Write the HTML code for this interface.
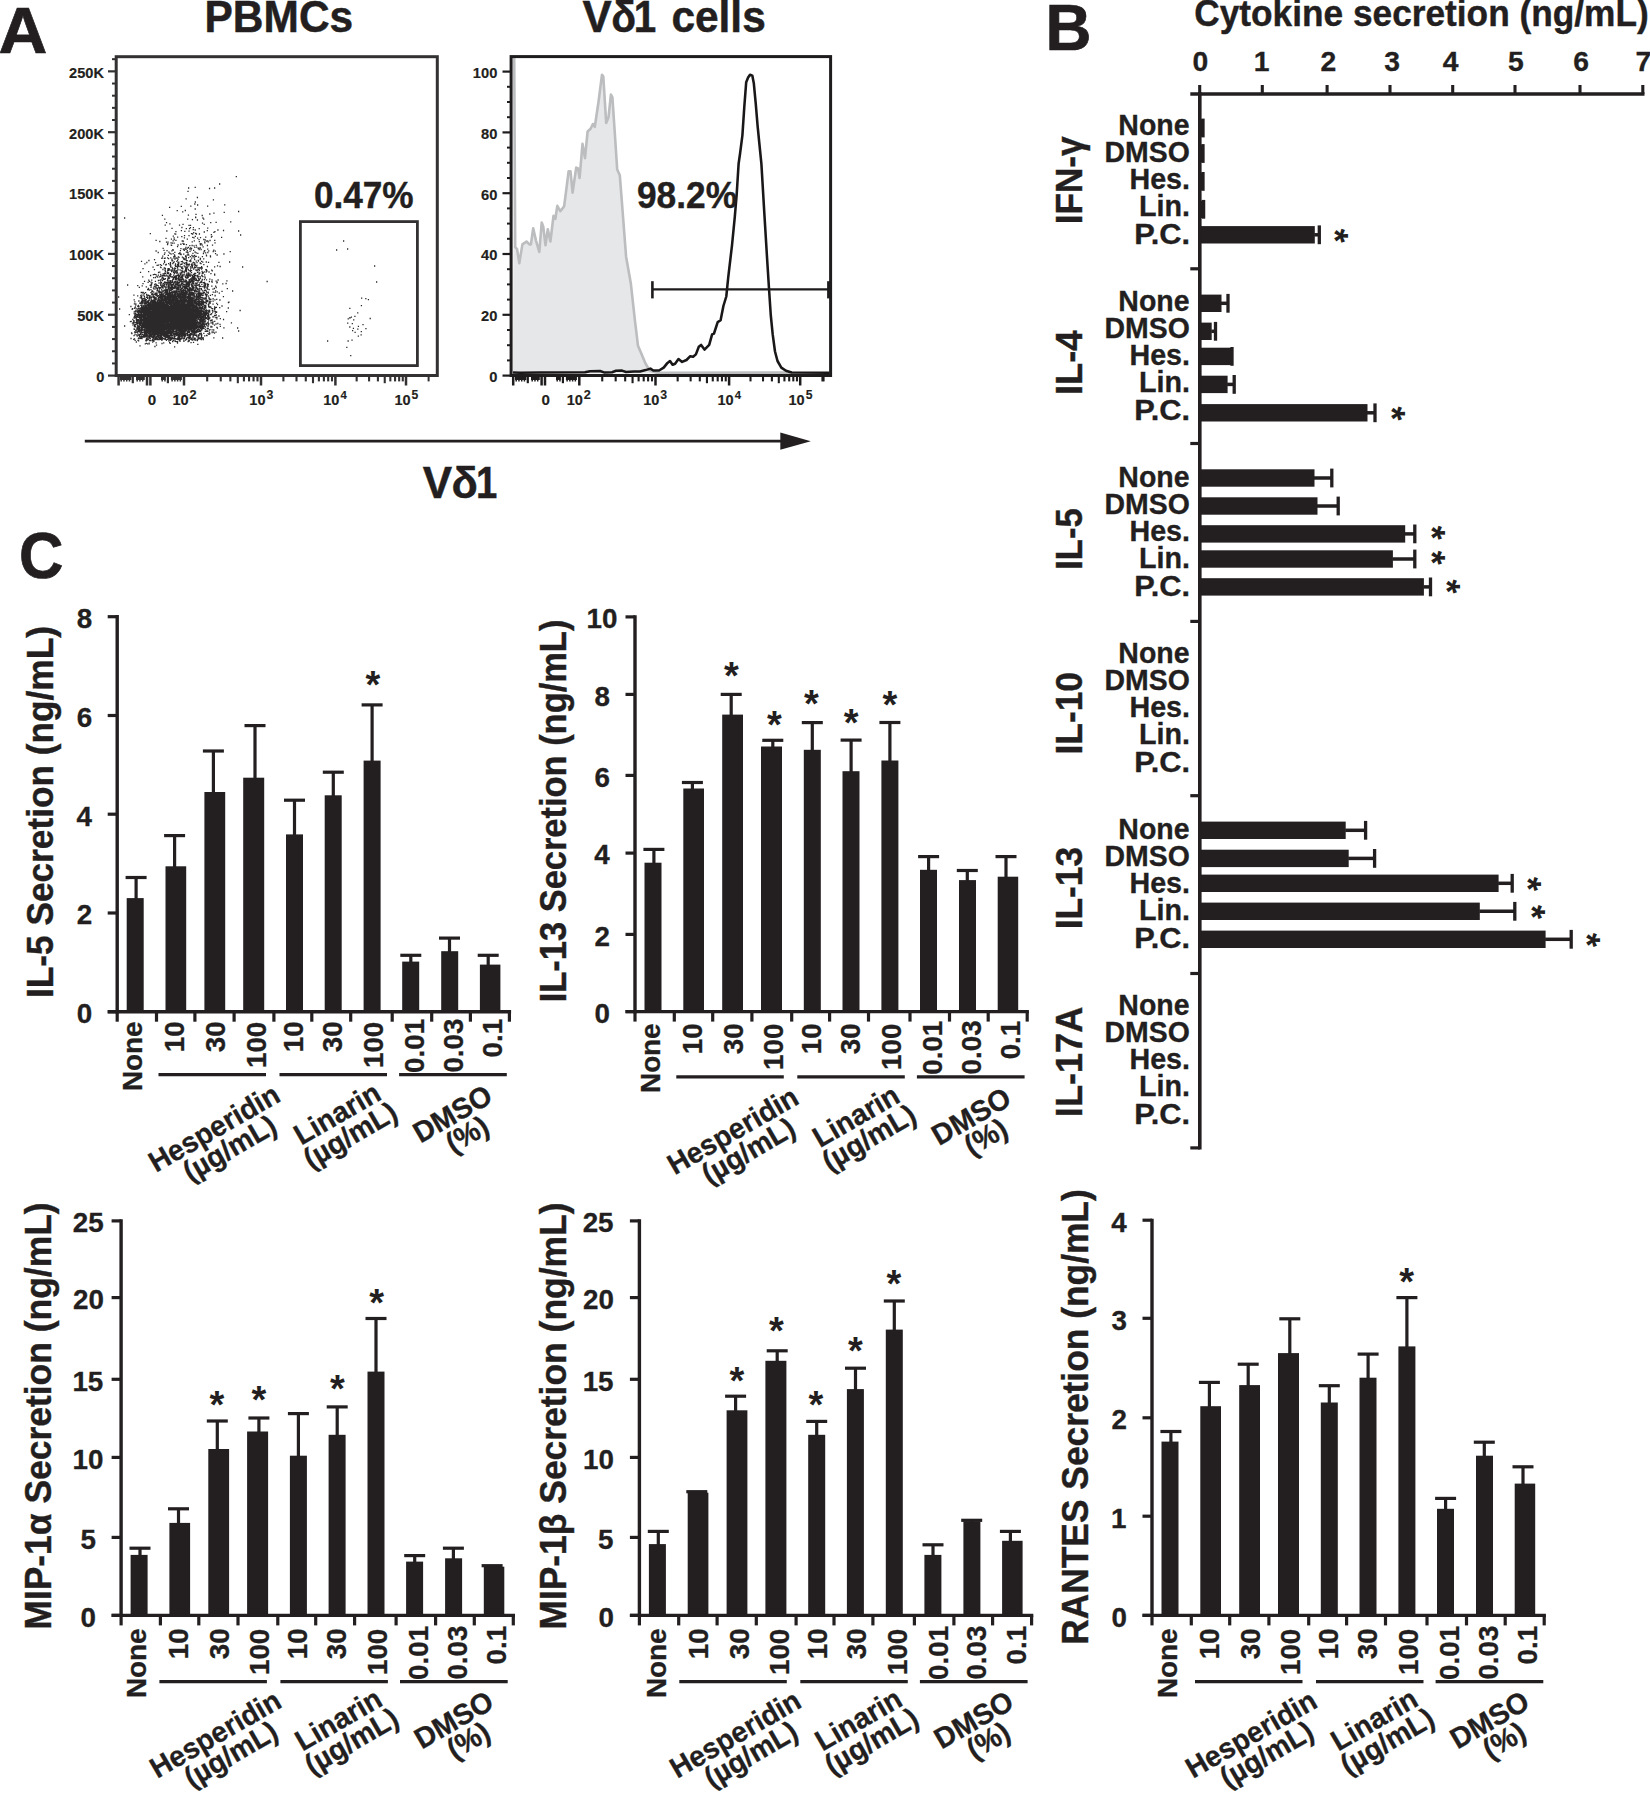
<!DOCTYPE html>
<html><head><meta charset="utf-8"><title>Figure</title>
<style>
html,body{margin:0;padding:0;background:#fff;}
svg{display:block;}
text{font-family:"Liberation Sans",Arial,Helvetica,sans-serif;font-weight:bold;}
</style></head>
<body>
<svg width="1650" height="1793" viewBox="0 0 1650 1793">
<rect width="1650" height="1793" fill="#fff"/>
<rect x="126.70" y="898.10" width="17.00" height="113.60" fill="#231f20"/>
<line x1="136.10" y1="877.50" x2="136.10" y2="899.10" stroke="#231f20" stroke-width="3.2" stroke-linecap="butt"/>
<line x1="125.60" y1="877.50" x2="146.60" y2="877.50" stroke="#231f20" stroke-width="3.2" stroke-linecap="butt"/>
<rect x="165.50" y="866.30" width="20.70" height="145.40" fill="#231f20"/>
<line x1="174.60" y1="835.60" x2="174.60" y2="867.30" stroke="#231f20" stroke-width="3.2" stroke-linecap="butt"/>
<line x1="164.10" y1="835.60" x2="185.10" y2="835.60" stroke="#231f20" stroke-width="3.2" stroke-linecap="butt"/>
<rect x="204.40" y="792.00" width="20.80" height="219.70" fill="#231f20"/>
<line x1="213.40" y1="751.00" x2="213.40" y2="793.00" stroke="#231f20" stroke-width="3.2" stroke-linecap="butt"/>
<line x1="202.90" y1="751.00" x2="223.90" y2="751.00" stroke="#231f20" stroke-width="3.2" stroke-linecap="butt"/>
<rect x="243.20" y="777.70" width="21.00" height="234.00" fill="#231f20"/>
<line x1="255.00" y1="725.60" x2="255.00" y2="778.70" stroke="#231f20" stroke-width="3.2" stroke-linecap="butt"/>
<line x1="244.50" y1="725.60" x2="265.50" y2="725.60" stroke="#231f20" stroke-width="3.2" stroke-linecap="butt"/>
<rect x="286.00" y="834.40" width="17.00" height="177.30" fill="#231f20"/>
<line x1="294.50" y1="800.20" x2="294.50" y2="835.40" stroke="#231f20" stroke-width="3.2" stroke-linecap="butt"/>
<line x1="284.00" y1="800.20" x2="305.00" y2="800.20" stroke="#231f20" stroke-width="3.2" stroke-linecap="butt"/>
<rect x="324.70" y="795.30" width="17.00" height="216.40" fill="#231f20"/>
<line x1="333.30" y1="772.20" x2="333.30" y2="796.30" stroke="#231f20" stroke-width="3.2" stroke-linecap="butt"/>
<line x1="322.80" y1="772.20" x2="343.80" y2="772.20" stroke="#231f20" stroke-width="3.2" stroke-linecap="butt"/>
<rect x="363.60" y="760.60" width="17.00" height="251.10" fill="#231f20"/>
<line x1="372.10" y1="704.90" x2="372.10" y2="761.60" stroke="#231f20" stroke-width="3.2" stroke-linecap="butt"/>
<line x1="361.60" y1="704.90" x2="382.60" y2="704.90" stroke="#231f20" stroke-width="3.2" stroke-linecap="butt"/>
<rect x="402.20" y="961.60" width="17.00" height="50.10" fill="#231f20"/>
<line x1="410.80" y1="955.30" x2="410.80" y2="962.60" stroke="#231f20" stroke-width="3.2" stroke-linecap="butt"/>
<line x1="400.30" y1="955.30" x2="421.30" y2="955.30" stroke="#231f20" stroke-width="3.2" stroke-linecap="butt"/>
<rect x="441.20" y="951.20" width="17.00" height="60.50" fill="#231f20"/>
<line x1="449.50" y1="938.10" x2="449.50" y2="952.20" stroke="#231f20" stroke-width="3.2" stroke-linecap="butt"/>
<line x1="439.00" y1="938.10" x2="460.00" y2="938.10" stroke="#231f20" stroke-width="3.2" stroke-linecap="butt"/>
<rect x="479.90" y="964.60" width="20.50" height="47.10" fill="#231f20"/>
<line x1="488.20" y1="955.30" x2="488.20" y2="965.60" stroke="#231f20" stroke-width="3.2" stroke-linecap="butt"/>
<line x1="477.70" y1="955.30" x2="498.70" y2="955.30" stroke="#231f20" stroke-width="3.2" stroke-linecap="butt"/>
<line x1="117.20" y1="615.00" x2="117.20" y2="1013.40" stroke="#231f20" stroke-width="3.4" stroke-linecap="butt"/>
<line x1="107.70" y1="1011.70" x2="511.10" y2="1011.70" stroke="#231f20" stroke-width="3.4" stroke-linecap="butt"/>
<line x1="117.20" y1="1011.70" x2="117.20" y2="1021.70" stroke="#231f20" stroke-width="3.2" stroke-linecap="butt"/>
<line x1="156.50" y1="1011.70" x2="156.50" y2="1021.70" stroke="#231f20" stroke-width="3.2" stroke-linecap="butt"/>
<line x1="194.90" y1="1011.70" x2="194.90" y2="1021.70" stroke="#231f20" stroke-width="3.2" stroke-linecap="butt"/>
<line x1="234.10" y1="1011.70" x2="234.10" y2="1021.70" stroke="#231f20" stroke-width="3.2" stroke-linecap="butt"/>
<line x1="273.90" y1="1011.70" x2="273.90" y2="1021.70" stroke="#231f20" stroke-width="3.2" stroke-linecap="butt"/>
<line x1="311.80" y1="1011.70" x2="311.80" y2="1021.70" stroke="#231f20" stroke-width="3.2" stroke-linecap="butt"/>
<line x1="350.70" y1="1011.70" x2="350.70" y2="1021.70" stroke="#231f20" stroke-width="3.2" stroke-linecap="butt"/>
<line x1="392.20" y1="1011.70" x2="392.20" y2="1021.70" stroke="#231f20" stroke-width="3.2" stroke-linecap="butt"/>
<line x1="431.70" y1="1011.70" x2="431.70" y2="1021.70" stroke="#231f20" stroke-width="3.2" stroke-linecap="butt"/>
<line x1="470.40" y1="1011.70" x2="470.40" y2="1021.70" stroke="#231f20" stroke-width="3.2" stroke-linecap="butt"/>
<line x1="509.40" y1="1011.70" x2="509.40" y2="1021.70" stroke="#231f20" stroke-width="3.2" stroke-linecap="butt"/>
<line x1="107.70" y1="616.70" x2="117.20" y2="616.70" stroke="#231f20" stroke-width="3.2" stroke-linecap="butt"/>
<text transform="translate(76.69 628.07) rotate(0) scale(1.0000 1)" font-size="27.80" fill="#231f20" stroke="#231f20" stroke-width="0.31">8</text>
<line x1="107.70" y1="715.50" x2="117.20" y2="715.50" stroke="#231f20" stroke-width="3.2" stroke-linecap="butt"/>
<text transform="translate(76.69 726.87) rotate(0) scale(1.0000 1)" font-size="27.80" fill="#231f20" stroke="#231f20" stroke-width="0.31">6</text>
<line x1="107.70" y1="814.20" x2="117.20" y2="814.20" stroke="#231f20" stroke-width="3.2" stroke-linecap="butt"/>
<text transform="translate(76.55 825.57) rotate(0) scale(1.0000 1)" font-size="27.80" fill="#231f20" stroke="#231f20" stroke-width="0.31">4</text>
<line x1="107.70" y1="913.00" x2="117.20" y2="913.00" stroke="#231f20" stroke-width="3.2" stroke-linecap="butt"/>
<text transform="translate(76.76 924.37) rotate(0) scale(1.0000 1)" font-size="27.80" fill="#231f20" stroke="#231f20" stroke-width="0.31">2</text>
<line x1="107.70" y1="1011.70" x2="117.20" y2="1011.70" stroke="#231f20" stroke-width="3.2" stroke-linecap="butt"/>
<text transform="translate(76.69 1023.07) rotate(0) scale(1.0000 1)" font-size="27.80" fill="#231f20" stroke="#231f20" stroke-width="0.31">0</text>
<text transform="translate(142.00 1091.03) rotate(-90) scale(1.0000 1)" font-size="27.80" fill="#231f20" stroke="#231f20" stroke-width="0.31">None</text>
<text transform="translate(184.00 1052.25) rotate(-90) scale(1.0000 1)" font-size="27.80" fill="#231f20" stroke="#231f20" stroke-width="0.31">10</text>
<text transform="translate(225.20 1052.25) rotate(-90) scale(1.0000 1)" font-size="27.80" fill="#231f20" stroke="#231f20" stroke-width="0.31">30</text>
<text transform="translate(265.50 1068.08) rotate(-90) scale(1.0000 1)" font-size="27.80" fill="#231f20" stroke="#231f20" stroke-width="0.31">100</text>
<text transform="translate(302.90 1052.25) rotate(-90) scale(1.0000 1)" font-size="27.80" fill="#231f20" stroke="#231f20" stroke-width="0.31">10</text>
<text transform="translate(341.80 1052.25) rotate(-90) scale(1.0000 1)" font-size="27.80" fill="#231f20" stroke="#231f20" stroke-width="0.31">30</text>
<text transform="translate(383.00 1068.08) rotate(-90) scale(1.0000 1)" font-size="27.80" fill="#231f20" stroke="#231f20" stroke-width="0.31">100</text>
<text transform="translate(423.80 1072.88) rotate(-90) scale(1.0000 1)" font-size="27.80" fill="#231f20" stroke="#231f20" stroke-width="0.31">0.01</text>
<text transform="translate(462.70 1072.60) rotate(-90) scale(1.0000 1)" font-size="27.80" fill="#231f20" stroke="#231f20" stroke-width="0.31">0.03</text>
<text transform="translate(502.20 1057.45) rotate(-90) scale(1.0000 1)" font-size="27.80" fill="#231f20" stroke="#231f20" stroke-width="0.31">0.1</text>
<line x1="158.50" y1="1074.70" x2="266.00" y2="1074.70" stroke="#231f20" stroke-width="3.3" stroke-linecap="butt"/>
<line x1="279.50" y1="1074.70" x2="387.00" y2="1074.70" stroke="#231f20" stroke-width="3.3" stroke-linecap="butt"/>
<line x1="399.10" y1="1074.70" x2="506.80" y2="1074.70" stroke="#231f20" stroke-width="3.3" stroke-linecap="butt"/>
<text transform="translate(219.00 1136.70) rotate(-30) scale(0.9650 1)" font-size="29.20" text-anchor="middle" fill="#231f20" stroke="#231f20" stroke-width="0.32">Hesperidin</text>
<text transform="translate(234.63 1156.77) rotate(-30) scale(0.9650 1)" font-size="29.20" text-anchor="middle" fill="#231f20" stroke="#231f20" stroke-width="0.32">(µg/mL)</text>
<text transform="translate(342.20 1122.20) rotate(-30) scale(0.9700 1)" font-size="29.20" text-anchor="middle" fill="#231f20" stroke="#231f20" stroke-width="0.32">Linarin</text>
<text transform="translate(355.23 1143.77) rotate(-30) scale(0.9700 1)" font-size="29.20" text-anchor="middle" fill="#231f20" stroke="#231f20" stroke-width="0.32">(µg/mL)</text>
<text transform="translate(457.40 1122.40) rotate(-30) scale(0.9750 1)" font-size="29.20" text-anchor="middle" fill="#231f20" stroke="#231f20" stroke-width="0.32">DMSO</text>
<text transform="translate(472.08 1143.02) rotate(-30) scale(0.9750 1)" font-size="29.20" text-anchor="middle" fill="#231f20" stroke="#231f20" stroke-width="0.32">(%)</text>
<text transform="translate(52.80 997.99) rotate(-90) scale(0.9650 1)" font-size="36.52" fill="#231f20" stroke="#231f20" stroke-width="0.40">IL-5 Secretion (ng/mL)</text>
<text transform="translate(372.90 678.90) rotate(0)" x="-7.41" y="19.19" font-size="38" fill="#231f20">*</text>
<rect x="644.50" y="862.70" width="17.00" height="148.90" fill="#231f20"/>
<line x1="653.90" y1="849.40" x2="653.90" y2="863.70" stroke="#231f20" stroke-width="3.2" stroke-linecap="butt"/>
<line x1="643.40" y1="849.40" x2="664.40" y2="849.40" stroke="#231f20" stroke-width="3.2" stroke-linecap="butt"/>
<rect x="683.30" y="788.50" width="20.70" height="223.10" fill="#231f20"/>
<line x1="692.40" y1="782.50" x2="692.40" y2="789.50" stroke="#231f20" stroke-width="3.2" stroke-linecap="butt"/>
<line x1="681.90" y1="782.50" x2="702.90" y2="782.50" stroke="#231f20" stroke-width="3.2" stroke-linecap="butt"/>
<rect x="722.20" y="714.60" width="20.80" height="297.00" fill="#231f20"/>
<line x1="731.20" y1="694.40" x2="731.20" y2="715.60" stroke="#231f20" stroke-width="3.2" stroke-linecap="butt"/>
<line x1="720.70" y1="694.40" x2="741.70" y2="694.40" stroke="#231f20" stroke-width="3.2" stroke-linecap="butt"/>
<rect x="761.00" y="746.50" width="21.00" height="265.10" fill="#231f20"/>
<line x1="772.80" y1="740.30" x2="772.80" y2="747.50" stroke="#231f20" stroke-width="3.2" stroke-linecap="butt"/>
<line x1="762.30" y1="740.30" x2="783.30" y2="740.30" stroke="#231f20" stroke-width="3.2" stroke-linecap="butt"/>
<rect x="803.80" y="749.80" width="17.00" height="261.80" fill="#231f20"/>
<line x1="812.30" y1="722.60" x2="812.30" y2="750.80" stroke="#231f20" stroke-width="3.2" stroke-linecap="butt"/>
<line x1="801.80" y1="722.60" x2="822.80" y2="722.60" stroke="#231f20" stroke-width="3.2" stroke-linecap="butt"/>
<rect x="842.50" y="771.20" width="17.00" height="240.40" fill="#231f20"/>
<line x1="851.10" y1="740.10" x2="851.10" y2="772.20" stroke="#231f20" stroke-width="3.2" stroke-linecap="butt"/>
<line x1="840.60" y1="740.10" x2="861.60" y2="740.10" stroke="#231f20" stroke-width="3.2" stroke-linecap="butt"/>
<rect x="881.40" y="760.50" width="17.00" height="251.10" fill="#231f20"/>
<line x1="889.90" y1="722.50" x2="889.90" y2="761.50" stroke="#231f20" stroke-width="3.2" stroke-linecap="butt"/>
<line x1="879.40" y1="722.50" x2="900.40" y2="722.50" stroke="#231f20" stroke-width="3.2" stroke-linecap="butt"/>
<rect x="920.00" y="869.80" width="17.00" height="141.80" fill="#231f20"/>
<line x1="928.60" y1="856.60" x2="928.60" y2="870.80" stroke="#231f20" stroke-width="3.2" stroke-linecap="butt"/>
<line x1="918.10" y1="856.60" x2="939.10" y2="856.60" stroke="#231f20" stroke-width="3.2" stroke-linecap="butt"/>
<rect x="959.00" y="880.10" width="17.00" height="131.50" fill="#231f20"/>
<line x1="967.30" y1="870.50" x2="967.30" y2="881.10" stroke="#231f20" stroke-width="3.2" stroke-linecap="butt"/>
<line x1="956.80" y1="870.50" x2="977.80" y2="870.50" stroke="#231f20" stroke-width="3.2" stroke-linecap="butt"/>
<rect x="997.70" y="876.70" width="20.50" height="134.90" fill="#231f20"/>
<line x1="1006.00" y1="856.60" x2="1006.00" y2="877.70" stroke="#231f20" stroke-width="3.2" stroke-linecap="butt"/>
<line x1="995.50" y1="856.60" x2="1016.50" y2="856.60" stroke="#231f20" stroke-width="3.2" stroke-linecap="butt"/>
<line x1="635.00" y1="615.20" x2="635.00" y2="1013.30" stroke="#231f20" stroke-width="3.4" stroke-linecap="butt"/>
<line x1="625.50" y1="1011.60" x2="1028.90" y2="1011.60" stroke="#231f20" stroke-width="3.4" stroke-linecap="butt"/>
<line x1="635.00" y1="1011.60" x2="635.00" y2="1021.60" stroke="#231f20" stroke-width="3.2" stroke-linecap="butt"/>
<line x1="674.30" y1="1011.60" x2="674.30" y2="1021.60" stroke="#231f20" stroke-width="3.2" stroke-linecap="butt"/>
<line x1="712.70" y1="1011.60" x2="712.70" y2="1021.60" stroke="#231f20" stroke-width="3.2" stroke-linecap="butt"/>
<line x1="751.90" y1="1011.60" x2="751.90" y2="1021.60" stroke="#231f20" stroke-width="3.2" stroke-linecap="butt"/>
<line x1="791.70" y1="1011.60" x2="791.70" y2="1021.60" stroke="#231f20" stroke-width="3.2" stroke-linecap="butt"/>
<line x1="829.60" y1="1011.60" x2="829.60" y2="1021.60" stroke="#231f20" stroke-width="3.2" stroke-linecap="butt"/>
<line x1="868.50" y1="1011.60" x2="868.50" y2="1021.60" stroke="#231f20" stroke-width="3.2" stroke-linecap="butt"/>
<line x1="910.00" y1="1011.60" x2="910.00" y2="1021.60" stroke="#231f20" stroke-width="3.2" stroke-linecap="butt"/>
<line x1="949.50" y1="1011.60" x2="949.50" y2="1021.60" stroke="#231f20" stroke-width="3.2" stroke-linecap="butt"/>
<line x1="988.20" y1="1011.60" x2="988.20" y2="1021.60" stroke="#231f20" stroke-width="3.2" stroke-linecap="butt"/>
<line x1="1027.20" y1="1011.60" x2="1027.20" y2="1021.60" stroke="#231f20" stroke-width="3.2" stroke-linecap="butt"/>
<line x1="625.50" y1="616.90" x2="635.00" y2="616.90" stroke="#231f20" stroke-width="3.2" stroke-linecap="butt"/>
<text transform="translate(586.49 628.27) rotate(0) scale(1.0000 1)" font-size="27.80" fill="#231f20" stroke="#231f20" stroke-width="0.31">10</text>
<line x1="625.50" y1="694.40" x2="635.00" y2="694.40" stroke="#231f20" stroke-width="3.2" stroke-linecap="butt"/>
<text transform="translate(594.49 705.77) rotate(0) scale(1.0000 1)" font-size="27.80" fill="#231f20" stroke="#231f20" stroke-width="0.31">8</text>
<line x1="625.50" y1="775.40" x2="635.00" y2="775.40" stroke="#231f20" stroke-width="3.2" stroke-linecap="butt"/>
<text transform="translate(594.49 786.77) rotate(0) scale(1.0000 1)" font-size="27.80" fill="#231f20" stroke="#231f20" stroke-width="0.31">6</text>
<line x1="625.50" y1="853.10" x2="635.00" y2="853.10" stroke="#231f20" stroke-width="3.2" stroke-linecap="butt"/>
<text transform="translate(594.35 864.47) rotate(0) scale(1.0000 1)" font-size="27.80" fill="#231f20" stroke="#231f20" stroke-width="0.31">4</text>
<line x1="625.50" y1="934.40" x2="635.00" y2="934.40" stroke="#231f20" stroke-width="3.2" stroke-linecap="butt"/>
<text transform="translate(594.56 945.77) rotate(0) scale(1.0000 1)" font-size="27.80" fill="#231f20" stroke="#231f20" stroke-width="0.31">2</text>
<line x1="625.50" y1="1011.60" x2="635.00" y2="1011.60" stroke="#231f20" stroke-width="3.2" stroke-linecap="butt"/>
<text transform="translate(594.49 1022.97) rotate(0) scale(1.0000 1)" font-size="27.80" fill="#231f20" stroke="#231f20" stroke-width="0.31">0</text>
<text transform="translate(659.80 1092.93) rotate(-90) scale(1.0000 1)" font-size="27.80" fill="#231f20" stroke="#231f20" stroke-width="0.31">None</text>
<text transform="translate(701.80 1054.15) rotate(-90) scale(1.0000 1)" font-size="27.80" fill="#231f20" stroke="#231f20" stroke-width="0.31">10</text>
<text transform="translate(743.00 1054.15) rotate(-90) scale(1.0000 1)" font-size="27.80" fill="#231f20" stroke="#231f20" stroke-width="0.31">30</text>
<text transform="translate(783.30 1069.98) rotate(-90) scale(1.0000 1)" font-size="27.80" fill="#231f20" stroke="#231f20" stroke-width="0.31">100</text>
<text transform="translate(820.70 1054.15) rotate(-90) scale(1.0000 1)" font-size="27.80" fill="#231f20" stroke="#231f20" stroke-width="0.31">10</text>
<text transform="translate(859.60 1054.15) rotate(-90) scale(1.0000 1)" font-size="27.80" fill="#231f20" stroke="#231f20" stroke-width="0.31">30</text>
<text transform="translate(900.80 1069.98) rotate(-90) scale(1.0000 1)" font-size="27.80" fill="#231f20" stroke="#231f20" stroke-width="0.31">100</text>
<text transform="translate(941.60 1074.78) rotate(-90) scale(1.0000 1)" font-size="27.80" fill="#231f20" stroke="#231f20" stroke-width="0.31">0.01</text>
<text transform="translate(980.50 1074.50) rotate(-90) scale(1.0000 1)" font-size="27.80" fill="#231f20" stroke="#231f20" stroke-width="0.31">0.03</text>
<text transform="translate(1020.00 1059.35) rotate(-90) scale(1.0000 1)" font-size="27.80" fill="#231f20" stroke="#231f20" stroke-width="0.31">0.1</text>
<line x1="676.30" y1="1076.90" x2="783.80" y2="1076.90" stroke="#231f20" stroke-width="3.3" stroke-linecap="butt"/>
<line x1="797.30" y1="1076.90" x2="904.80" y2="1076.90" stroke="#231f20" stroke-width="3.3" stroke-linecap="butt"/>
<line x1="916.90" y1="1076.90" x2="1024.60" y2="1076.90" stroke="#231f20" stroke-width="3.3" stroke-linecap="butt"/>
<text transform="translate(737.70 1139.20) rotate(-30) scale(0.9650 1)" font-size="29.20" text-anchor="middle" fill="#231f20" stroke="#231f20" stroke-width="0.32">Hesperidin</text>
<text transform="translate(753.33 1159.27) rotate(-30) scale(0.9650 1)" font-size="29.20" text-anchor="middle" fill="#231f20" stroke="#231f20" stroke-width="0.32">(µg/mL)</text>
<text transform="translate(860.90 1124.70) rotate(-30) scale(0.9700 1)" font-size="29.20" text-anchor="middle" fill="#231f20" stroke="#231f20" stroke-width="0.32">Linarin</text>
<text transform="translate(873.93 1146.27) rotate(-30) scale(0.9700 1)" font-size="29.20" text-anchor="middle" fill="#231f20" stroke="#231f20" stroke-width="0.32">(µg/mL)</text>
<text transform="translate(976.10 1124.90) rotate(-30) scale(0.9750 1)" font-size="29.20" text-anchor="middle" fill="#231f20" stroke="#231f20" stroke-width="0.32">DMSO</text>
<text transform="translate(990.78 1145.52) rotate(-30) scale(0.9750 1)" font-size="29.20" text-anchor="middle" fill="#231f20" stroke="#231f20" stroke-width="0.32">(%)</text>
<text transform="translate(565.60 1002.24) rotate(-90) scale(0.9431 1)" font-size="36.52" fill="#231f20" stroke="#231f20" stroke-width="0.40">IL-13 Secretion (ng/mL)</text>
<text transform="translate(731.40 670.20) rotate(0)" x="-7.41" y="19.19" font-size="38" fill="#231f20">*</text>
<text transform="translate(774.50 719.20) rotate(0)" x="-7.41" y="19.19" font-size="38" fill="#231f20">*</text>
<text transform="translate(811.30 698.00) rotate(0)" x="-7.41" y="19.19" font-size="38" fill="#231f20">*</text>
<text transform="translate(851.20 716.60) rotate(0)" x="-7.41" y="19.19" font-size="38" fill="#231f20">*</text>
<text transform="translate(889.90 698.60) rotate(0)" x="-7.41" y="19.19" font-size="38" fill="#231f20">*</text>
<rect x="130.60" y="1554.90" width="17.00" height="60.50" fill="#231f20"/>
<line x1="140.00" y1="1548.20" x2="140.00" y2="1555.90" stroke="#231f20" stroke-width="3.2" stroke-linecap="butt"/>
<line x1="129.50" y1="1548.20" x2="150.50" y2="1548.20" stroke="#231f20" stroke-width="3.2" stroke-linecap="butt"/>
<rect x="169.40" y="1522.90" width="20.70" height="92.50" fill="#231f20"/>
<line x1="178.50" y1="1508.80" x2="178.50" y2="1523.90" stroke="#231f20" stroke-width="3.2" stroke-linecap="butt"/>
<line x1="168.00" y1="1508.80" x2="189.00" y2="1508.80" stroke="#231f20" stroke-width="3.2" stroke-linecap="butt"/>
<rect x="208.30" y="1449.00" width="20.80" height="166.40" fill="#231f20"/>
<line x1="217.30" y1="1421.00" x2="217.30" y2="1450.00" stroke="#231f20" stroke-width="3.2" stroke-linecap="butt"/>
<line x1="206.80" y1="1421.00" x2="227.80" y2="1421.00" stroke="#231f20" stroke-width="3.2" stroke-linecap="butt"/>
<rect x="247.10" y="1431.50" width="21.00" height="183.90" fill="#231f20"/>
<line x1="258.90" y1="1418.00" x2="258.90" y2="1432.50" stroke="#231f20" stroke-width="3.2" stroke-linecap="butt"/>
<line x1="248.40" y1="1418.00" x2="269.40" y2="1418.00" stroke="#231f20" stroke-width="3.2" stroke-linecap="butt"/>
<rect x="289.90" y="1455.70" width="17.00" height="159.70" fill="#231f20"/>
<line x1="298.40" y1="1413.60" x2="298.40" y2="1456.70" stroke="#231f20" stroke-width="3.2" stroke-linecap="butt"/>
<line x1="287.90" y1="1413.60" x2="308.90" y2="1413.60" stroke="#231f20" stroke-width="3.2" stroke-linecap="butt"/>
<rect x="328.60" y="1434.80" width="17.00" height="180.60" fill="#231f20"/>
<line x1="337.20" y1="1406.90" x2="337.20" y2="1435.80" stroke="#231f20" stroke-width="3.2" stroke-linecap="butt"/>
<line x1="326.70" y1="1406.90" x2="347.70" y2="1406.90" stroke="#231f20" stroke-width="3.2" stroke-linecap="butt"/>
<rect x="367.50" y="1371.60" width="17.00" height="243.80" fill="#231f20"/>
<line x1="376.00" y1="1318.50" x2="376.00" y2="1372.60" stroke="#231f20" stroke-width="3.2" stroke-linecap="butt"/>
<line x1="365.50" y1="1318.50" x2="386.50" y2="1318.50" stroke="#231f20" stroke-width="3.2" stroke-linecap="butt"/>
<rect x="406.10" y="1561.60" width="17.00" height="53.80" fill="#231f20"/>
<line x1="414.70" y1="1555.60" x2="414.70" y2="1562.60" stroke="#231f20" stroke-width="3.2" stroke-linecap="butt"/>
<line x1="404.20" y1="1555.60" x2="425.20" y2="1555.60" stroke="#231f20" stroke-width="3.2" stroke-linecap="butt"/>
<rect x="445.10" y="1558.30" width="17.00" height="57.10" fill="#231f20"/>
<line x1="453.40" y1="1548.20" x2="453.40" y2="1559.30" stroke="#231f20" stroke-width="3.2" stroke-linecap="butt"/>
<line x1="442.90" y1="1548.20" x2="463.90" y2="1548.20" stroke="#231f20" stroke-width="3.2" stroke-linecap="butt"/>
<rect x="483.80" y="1566.70" width="20.50" height="48.70" fill="#231f20"/>
<line x1="492.10" y1="1565.70" x2="492.10" y2="1568.30" stroke="#231f20" stroke-width="3.2" stroke-linecap="butt"/>
<line x1="481.60" y1="1565.70" x2="502.60" y2="1565.70" stroke="#231f20" stroke-width="3.2" stroke-linecap="butt"/>
<line x1="121.10" y1="1219.20" x2="121.10" y2="1617.10" stroke="#231f20" stroke-width="3.4" stroke-linecap="butt"/>
<line x1="111.60" y1="1615.40" x2="515.00" y2="1615.40" stroke="#231f20" stroke-width="3.4" stroke-linecap="butt"/>
<line x1="121.10" y1="1615.40" x2="121.10" y2="1625.40" stroke="#231f20" stroke-width="3.2" stroke-linecap="butt"/>
<line x1="160.40" y1="1615.40" x2="160.40" y2="1625.40" stroke="#231f20" stroke-width="3.2" stroke-linecap="butt"/>
<line x1="198.80" y1="1615.40" x2="198.80" y2="1625.40" stroke="#231f20" stroke-width="3.2" stroke-linecap="butt"/>
<line x1="238.00" y1="1615.40" x2="238.00" y2="1625.40" stroke="#231f20" stroke-width="3.2" stroke-linecap="butt"/>
<line x1="277.80" y1="1615.40" x2="277.80" y2="1625.40" stroke="#231f20" stroke-width="3.2" stroke-linecap="butt"/>
<line x1="315.70" y1="1615.40" x2="315.70" y2="1625.40" stroke="#231f20" stroke-width="3.2" stroke-linecap="butt"/>
<line x1="354.60" y1="1615.40" x2="354.60" y2="1625.40" stroke="#231f20" stroke-width="3.2" stroke-linecap="butt"/>
<line x1="396.10" y1="1615.40" x2="396.10" y2="1625.40" stroke="#231f20" stroke-width="3.2" stroke-linecap="butt"/>
<line x1="435.60" y1="1615.40" x2="435.60" y2="1625.40" stroke="#231f20" stroke-width="3.2" stroke-linecap="butt"/>
<line x1="474.30" y1="1615.40" x2="474.30" y2="1625.40" stroke="#231f20" stroke-width="3.2" stroke-linecap="butt"/>
<line x1="513.30" y1="1615.40" x2="513.30" y2="1625.40" stroke="#231f20" stroke-width="3.2" stroke-linecap="butt"/>
<line x1="111.60" y1="1220.90" x2="121.10" y2="1220.90" stroke="#231f20" stroke-width="3.2" stroke-linecap="butt"/>
<text transform="translate(72.73 1232.27) rotate(0) scale(1.0000 1)" font-size="27.80" fill="#231f20" stroke="#231f20" stroke-width="0.31">25</text>
<line x1="111.60" y1="1297.60" x2="121.10" y2="1297.60" stroke="#231f20" stroke-width="3.2" stroke-linecap="butt"/>
<text transform="translate(72.94 1308.97) rotate(0) scale(1.0000 1)" font-size="27.80" fill="#231f20" stroke="#231f20" stroke-width="0.31">20</text>
<line x1="111.60" y1="1379.30" x2="121.10" y2="1379.30" stroke="#231f20" stroke-width="3.2" stroke-linecap="butt"/>
<text transform="translate(72.38 1390.67) rotate(0) scale(1.0000 1)" font-size="27.80" fill="#231f20" stroke="#231f20" stroke-width="0.31">15</text>
<line x1="111.60" y1="1457.40" x2="121.10" y2="1457.40" stroke="#231f20" stroke-width="3.2" stroke-linecap="butt"/>
<text transform="translate(72.59 1468.77) rotate(0) scale(1.0000 1)" font-size="27.80" fill="#231f20" stroke="#231f20" stroke-width="0.31">10</text>
<line x1="111.60" y1="1537.40" x2="121.10" y2="1537.40" stroke="#231f20" stroke-width="3.2" stroke-linecap="butt"/>
<text transform="translate(80.52 1548.77) rotate(0) scale(1.0000 1)" font-size="27.80" fill="#231f20" stroke="#231f20" stroke-width="0.31">5</text>
<line x1="111.60" y1="1615.40" x2="121.10" y2="1615.40" stroke="#231f20" stroke-width="3.2" stroke-linecap="butt"/>
<text transform="translate(80.59 1626.77) rotate(0) scale(1.0000 1)" font-size="27.80" fill="#231f20" stroke="#231f20" stroke-width="0.31">0</text>
<text transform="translate(145.90 1698.03) rotate(-90) scale(1.0000 1)" font-size="27.80" fill="#231f20" stroke="#231f20" stroke-width="0.31">None</text>
<text transform="translate(187.90 1659.25) rotate(-90) scale(1.0000 1)" font-size="27.80" fill="#231f20" stroke="#231f20" stroke-width="0.31">10</text>
<text transform="translate(229.10 1659.25) rotate(-90) scale(1.0000 1)" font-size="27.80" fill="#231f20" stroke="#231f20" stroke-width="0.31">30</text>
<text transform="translate(269.40 1675.08) rotate(-90) scale(1.0000 1)" font-size="27.80" fill="#231f20" stroke="#231f20" stroke-width="0.31">100</text>
<text transform="translate(306.80 1659.25) rotate(-90) scale(1.0000 1)" font-size="27.80" fill="#231f20" stroke="#231f20" stroke-width="0.31">10</text>
<text transform="translate(345.70 1659.25) rotate(-90) scale(1.0000 1)" font-size="27.80" fill="#231f20" stroke="#231f20" stroke-width="0.31">30</text>
<text transform="translate(386.90 1675.08) rotate(-90) scale(1.0000 1)" font-size="27.80" fill="#231f20" stroke="#231f20" stroke-width="0.31">100</text>
<text transform="translate(427.70 1679.88) rotate(-90) scale(1.0000 1)" font-size="27.80" fill="#231f20" stroke="#231f20" stroke-width="0.31">0.01</text>
<text transform="translate(466.60 1679.60) rotate(-90) scale(1.0000 1)" font-size="27.80" fill="#231f20" stroke="#231f20" stroke-width="0.31">0.03</text>
<text transform="translate(506.10 1664.45) rotate(-90) scale(1.0000 1)" font-size="27.80" fill="#231f20" stroke="#231f20" stroke-width="0.31">0.1</text>
<line x1="159.40" y1="1681.60" x2="266.90" y2="1681.60" stroke="#231f20" stroke-width="3.3" stroke-linecap="butt"/>
<line x1="280.40" y1="1681.60" x2="387.90" y2="1681.60" stroke="#231f20" stroke-width="3.3" stroke-linecap="butt"/>
<line x1="400.00" y1="1681.60" x2="507.70" y2="1681.60" stroke="#231f20" stroke-width="3.3" stroke-linecap="butt"/>
<text transform="translate(220.25 1742.70) rotate(-30) scale(0.9650 1)" font-size="29.20" text-anchor="middle" fill="#231f20" stroke="#231f20" stroke-width="0.32">Hesperidin</text>
<text transform="translate(235.88 1762.77) rotate(-30) scale(0.9650 1)" font-size="29.20" text-anchor="middle" fill="#231f20" stroke="#231f20" stroke-width="0.32">(µg/mL)</text>
<text transform="translate(343.45 1728.20) rotate(-30) scale(0.9700 1)" font-size="29.20" text-anchor="middle" fill="#231f20" stroke="#231f20" stroke-width="0.32">Linarin</text>
<text transform="translate(356.48 1749.77) rotate(-30) scale(0.9700 1)" font-size="29.20" text-anchor="middle" fill="#231f20" stroke="#231f20" stroke-width="0.32">(µg/mL)</text>
<text transform="translate(458.65 1728.40) rotate(-30) scale(0.9750 1)" font-size="29.20" text-anchor="middle" fill="#231f20" stroke="#231f20" stroke-width="0.32">DMSO</text>
<text transform="translate(473.33 1749.02) rotate(-30) scale(0.9750 1)" font-size="29.20" text-anchor="middle" fill="#231f20" stroke="#231f20" stroke-width="0.32">(%)</text>
<text transform="translate(51.30 1629.70) rotate(-90) scale(0.9627 1)" font-size="36.81" fill="#231f20" stroke="#231f20" stroke-width="0.40">MIP-1α Secretion (ng/mL)</text>
<text transform="translate(216.90 1398.50) rotate(0)" x="-7.41" y="19.19" font-size="38" fill="#231f20">*</text>
<text transform="translate(259.00 1393.50) rotate(0)" x="-7.41" y="19.19" font-size="38" fill="#231f20">*</text>
<text transform="translate(337.30 1382.40) rotate(0)" x="-7.41" y="19.19" font-size="38" fill="#231f20">*</text>
<text transform="translate(376.70 1296.90) rotate(0)" x="-7.41" y="19.19" font-size="38" fill="#231f20">*</text>
<rect x="648.90" y="1544.10" width="17.00" height="71.30" fill="#231f20"/>
<line x1="658.30" y1="1531.40" x2="658.30" y2="1545.10" stroke="#231f20" stroke-width="3.2" stroke-linecap="butt"/>
<line x1="647.80" y1="1531.40" x2="668.80" y2="1531.40" stroke="#231f20" stroke-width="3.2" stroke-linecap="butt"/>
<rect x="687.70" y="1492.70" width="20.70" height="122.70" fill="#231f20"/>
<line x1="696.80" y1="1491.70" x2="696.80" y2="1495.40" stroke="#231f20" stroke-width="3.2" stroke-linecap="butt"/>
<line x1="686.30" y1="1491.70" x2="707.30" y2="1491.70" stroke="#231f20" stroke-width="3.2" stroke-linecap="butt"/>
<rect x="726.60" y="1410.30" width="20.80" height="205.10" fill="#231f20"/>
<line x1="735.60" y1="1396.20" x2="735.60" y2="1411.30" stroke="#231f20" stroke-width="3.2" stroke-linecap="butt"/>
<line x1="725.10" y1="1396.20" x2="746.10" y2="1396.20" stroke="#231f20" stroke-width="3.2" stroke-linecap="butt"/>
<rect x="765.40" y="1360.80" width="21.00" height="254.60" fill="#231f20"/>
<line x1="777.20" y1="1350.80" x2="777.20" y2="1361.80" stroke="#231f20" stroke-width="3.2" stroke-linecap="butt"/>
<line x1="766.70" y1="1350.80" x2="787.70" y2="1350.80" stroke="#231f20" stroke-width="3.2" stroke-linecap="butt"/>
<rect x="808.20" y="1434.80" width="17.00" height="180.60" fill="#231f20"/>
<line x1="816.70" y1="1421.40" x2="816.70" y2="1435.80" stroke="#231f20" stroke-width="3.2" stroke-linecap="butt"/>
<line x1="806.20" y1="1421.40" x2="827.20" y2="1421.40" stroke="#231f20" stroke-width="3.2" stroke-linecap="butt"/>
<rect x="846.90" y="1389.10" width="17.00" height="226.30" fill="#231f20"/>
<line x1="855.50" y1="1368.20" x2="855.50" y2="1390.10" stroke="#231f20" stroke-width="3.2" stroke-linecap="butt"/>
<line x1="845.00" y1="1368.20" x2="866.00" y2="1368.20" stroke="#231f20" stroke-width="3.2" stroke-linecap="butt"/>
<rect x="885.80" y="1329.60" width="17.00" height="285.80" fill="#231f20"/>
<line x1="894.30" y1="1301.00" x2="894.30" y2="1330.60" stroke="#231f20" stroke-width="3.2" stroke-linecap="butt"/>
<line x1="883.80" y1="1301.00" x2="904.80" y2="1301.00" stroke="#231f20" stroke-width="3.2" stroke-linecap="butt"/>
<rect x="924.40" y="1554.90" width="17.00" height="60.50" fill="#231f20"/>
<line x1="933.00" y1="1544.80" x2="933.00" y2="1555.90" stroke="#231f20" stroke-width="3.2" stroke-linecap="butt"/>
<line x1="922.50" y1="1544.80" x2="943.50" y2="1544.80" stroke="#231f20" stroke-width="3.2" stroke-linecap="butt"/>
<rect x="963.40" y="1521.30" width="17.00" height="94.10" fill="#231f20"/>
<line x1="971.70" y1="1520.30" x2="971.70" y2="1523.90" stroke="#231f20" stroke-width="3.2" stroke-linecap="butt"/>
<line x1="961.20" y1="1520.30" x2="982.20" y2="1520.30" stroke="#231f20" stroke-width="3.2" stroke-linecap="butt"/>
<rect x="1002.10" y="1540.80" width="20.50" height="74.60" fill="#231f20"/>
<line x1="1010.40" y1="1531.40" x2="1010.40" y2="1541.80" stroke="#231f20" stroke-width="3.2" stroke-linecap="butt"/>
<line x1="999.90" y1="1531.40" x2="1020.90" y2="1531.40" stroke="#231f20" stroke-width="3.2" stroke-linecap="butt"/>
<line x1="639.40" y1="1219.20" x2="639.40" y2="1617.10" stroke="#231f20" stroke-width="3.4" stroke-linecap="butt"/>
<line x1="629.90" y1="1615.40" x2="1033.30" y2="1615.40" stroke="#231f20" stroke-width="3.4" stroke-linecap="butt"/>
<line x1="639.40" y1="1615.40" x2="639.40" y2="1625.40" stroke="#231f20" stroke-width="3.2" stroke-linecap="butt"/>
<line x1="678.70" y1="1615.40" x2="678.70" y2="1625.40" stroke="#231f20" stroke-width="3.2" stroke-linecap="butt"/>
<line x1="717.10" y1="1615.40" x2="717.10" y2="1625.40" stroke="#231f20" stroke-width="3.2" stroke-linecap="butt"/>
<line x1="756.30" y1="1615.40" x2="756.30" y2="1625.40" stroke="#231f20" stroke-width="3.2" stroke-linecap="butt"/>
<line x1="796.10" y1="1615.40" x2="796.10" y2="1625.40" stroke="#231f20" stroke-width="3.2" stroke-linecap="butt"/>
<line x1="834.00" y1="1615.40" x2="834.00" y2="1625.40" stroke="#231f20" stroke-width="3.2" stroke-linecap="butt"/>
<line x1="872.90" y1="1615.40" x2="872.90" y2="1625.40" stroke="#231f20" stroke-width="3.2" stroke-linecap="butt"/>
<line x1="914.40" y1="1615.40" x2="914.40" y2="1625.40" stroke="#231f20" stroke-width="3.2" stroke-linecap="butt"/>
<line x1="953.90" y1="1615.40" x2="953.90" y2="1625.40" stroke="#231f20" stroke-width="3.2" stroke-linecap="butt"/>
<line x1="992.60" y1="1615.40" x2="992.60" y2="1625.40" stroke="#231f20" stroke-width="3.2" stroke-linecap="butt"/>
<line x1="1031.60" y1="1615.40" x2="1031.60" y2="1625.40" stroke="#231f20" stroke-width="3.2" stroke-linecap="butt"/>
<line x1="629.90" y1="1220.90" x2="639.40" y2="1220.90" stroke="#231f20" stroke-width="3.2" stroke-linecap="butt"/>
<text transform="translate(582.64 1232.27) rotate(0) scale(1.0000 1)" font-size="27.80" fill="#231f20" stroke="#231f20" stroke-width="0.31">25</text>
<line x1="629.90" y1="1297.60" x2="639.40" y2="1297.60" stroke="#231f20" stroke-width="3.2" stroke-linecap="butt"/>
<text transform="translate(583.05 1308.97) rotate(0) scale(1.0000 1)" font-size="27.80" fill="#231f20" stroke="#231f20" stroke-width="0.31">20</text>
<line x1="629.90" y1="1379.30" x2="639.40" y2="1379.30" stroke="#231f20" stroke-width="3.2" stroke-linecap="butt"/>
<text transform="translate(582.64 1390.67) rotate(0) scale(1.0000 1)" font-size="27.80" fill="#231f20" stroke="#231f20" stroke-width="0.31">15</text>
<line x1="629.90" y1="1457.40" x2="639.40" y2="1457.40" stroke="#231f20" stroke-width="3.2" stroke-linecap="butt"/>
<text transform="translate(583.05 1468.77) rotate(0) scale(1.0000 1)" font-size="27.80" fill="#231f20" stroke="#231f20" stroke-width="0.31">10</text>
<line x1="629.90" y1="1537.40" x2="639.40" y2="1537.40" stroke="#231f20" stroke-width="3.2" stroke-linecap="butt"/>
<text transform="translate(598.07 1548.77) rotate(0) scale(1.0000 1)" font-size="27.80" fill="#231f20" stroke="#231f20" stroke-width="0.31">5</text>
<line x1="629.90" y1="1615.40" x2="639.40" y2="1615.40" stroke="#231f20" stroke-width="3.2" stroke-linecap="butt"/>
<text transform="translate(598.48 1626.77) rotate(0) scale(1.0000 1)" font-size="27.80" fill="#231f20" stroke="#231f20" stroke-width="0.31">0</text>
<text transform="translate(665.70 1698.03) rotate(-90) scale(1.0000 1)" font-size="27.80" fill="#231f20" stroke="#231f20" stroke-width="0.31">None</text>
<text transform="translate(707.70 1659.25) rotate(-90) scale(1.0000 1)" font-size="27.80" fill="#231f20" stroke="#231f20" stroke-width="0.31">10</text>
<text transform="translate(748.90 1659.25) rotate(-90) scale(1.0000 1)" font-size="27.80" fill="#231f20" stroke="#231f20" stroke-width="0.31">30</text>
<text transform="translate(789.20 1675.08) rotate(-90) scale(1.0000 1)" font-size="27.80" fill="#231f20" stroke="#231f20" stroke-width="0.31">100</text>
<text transform="translate(826.60 1659.25) rotate(-90) scale(1.0000 1)" font-size="27.80" fill="#231f20" stroke="#231f20" stroke-width="0.31">10</text>
<text transform="translate(865.50 1659.25) rotate(-90) scale(1.0000 1)" font-size="27.80" fill="#231f20" stroke="#231f20" stroke-width="0.31">30</text>
<text transform="translate(906.70 1675.08) rotate(-90) scale(1.0000 1)" font-size="27.80" fill="#231f20" stroke="#231f20" stroke-width="0.31">100</text>
<text transform="translate(947.50 1679.88) rotate(-90) scale(1.0000 1)" font-size="27.80" fill="#231f20" stroke="#231f20" stroke-width="0.31">0.01</text>
<text transform="translate(986.40 1679.60) rotate(-90) scale(1.0000 1)" font-size="27.80" fill="#231f20" stroke="#231f20" stroke-width="0.31">0.03</text>
<text transform="translate(1025.90 1664.45) rotate(-90) scale(1.0000 1)" font-size="27.80" fill="#231f20" stroke="#231f20" stroke-width="0.31">0.1</text>
<line x1="679.30" y1="1681.60" x2="786.80" y2="1681.60" stroke="#231f20" stroke-width="3.3" stroke-linecap="butt"/>
<line x1="800.30" y1="1681.60" x2="907.80" y2="1681.60" stroke="#231f20" stroke-width="3.3" stroke-linecap="butt"/>
<line x1="919.90" y1="1681.60" x2="1027.60" y2="1681.60" stroke="#231f20" stroke-width="3.3" stroke-linecap="butt"/>
<text transform="translate(740.20 1742.70) rotate(-30) scale(0.9650 1)" font-size="29.20" text-anchor="middle" fill="#231f20" stroke="#231f20" stroke-width="0.32">Hesperidin</text>
<text transform="translate(755.83 1762.77) rotate(-30) scale(0.9650 1)" font-size="29.20" text-anchor="middle" fill="#231f20" stroke="#231f20" stroke-width="0.32">(µg/mL)</text>
<text transform="translate(863.40 1728.20) rotate(-30) scale(0.9700 1)" font-size="29.20" text-anchor="middle" fill="#231f20" stroke="#231f20" stroke-width="0.32">Linarin</text>
<text transform="translate(876.43 1749.77) rotate(-30) scale(0.9700 1)" font-size="29.20" text-anchor="middle" fill="#231f20" stroke="#231f20" stroke-width="0.32">(µg/mL)</text>
<text transform="translate(978.60 1728.40) rotate(-30) scale(0.9750 1)" font-size="29.20" text-anchor="middle" fill="#231f20" stroke="#231f20" stroke-width="0.32">DMSO</text>
<text transform="translate(993.28 1749.02) rotate(-30) scale(0.9750 1)" font-size="29.20" text-anchor="middle" fill="#231f20" stroke="#231f20" stroke-width="0.32">(%)</text>
<text transform="translate(565.70 1629.70) rotate(-90) scale(0.9627 1)" font-size="36.81" fill="#231f20" stroke="#231f20" stroke-width="0.40">MIP-1β Secretion (ng/mL)</text>
<text transform="translate(736.90 1374.30) rotate(0)" x="-7.41" y="19.19" font-size="38" fill="#231f20">*</text>
<text transform="translate(776.30 1324.50) rotate(0)" x="-7.41" y="19.19" font-size="38" fill="#231f20">*</text>
<text transform="translate(816.00 1399.20) rotate(0)" x="-7.41" y="19.19" font-size="38" fill="#231f20">*</text>
<text transform="translate(855.30 1344.70) rotate(0)" x="-7.41" y="19.19" font-size="38" fill="#231f20">*</text>
<text transform="translate(894.00 1278.10) rotate(0)" x="-7.41" y="19.19" font-size="38" fill="#231f20">*</text>
<rect x="1161.50" y="1441.60" width="17.00" height="173.80" fill="#231f20"/>
<line x1="1170.90" y1="1431.50" x2="1170.90" y2="1442.60" stroke="#231f20" stroke-width="3.2" stroke-linecap="butt"/>
<line x1="1160.40" y1="1431.50" x2="1181.40" y2="1431.50" stroke="#231f20" stroke-width="3.2" stroke-linecap="butt"/>
<rect x="1200.30" y="1406.20" width="20.70" height="209.20" fill="#231f20"/>
<line x1="1209.40" y1="1382.40" x2="1209.40" y2="1407.20" stroke="#231f20" stroke-width="3.2" stroke-linecap="butt"/>
<line x1="1198.90" y1="1382.40" x2="1219.90" y2="1382.40" stroke="#231f20" stroke-width="3.2" stroke-linecap="butt"/>
<rect x="1239.20" y="1385.10" width="20.80" height="230.30" fill="#231f20"/>
<line x1="1248.20" y1="1364.20" x2="1248.20" y2="1386.10" stroke="#231f20" stroke-width="3.2" stroke-linecap="butt"/>
<line x1="1237.70" y1="1364.20" x2="1258.70" y2="1364.20" stroke="#231f20" stroke-width="3.2" stroke-linecap="butt"/>
<rect x="1278.00" y="1353.10" width="21.00" height="262.30" fill="#231f20"/>
<line x1="1289.80" y1="1318.80" x2="1289.80" y2="1354.10" stroke="#231f20" stroke-width="3.2" stroke-linecap="butt"/>
<line x1="1279.30" y1="1318.80" x2="1300.30" y2="1318.80" stroke="#231f20" stroke-width="3.2" stroke-linecap="butt"/>
<rect x="1320.80" y="1402.50" width="17.00" height="212.90" fill="#231f20"/>
<line x1="1329.30" y1="1385.70" x2="1329.30" y2="1403.50" stroke="#231f20" stroke-width="3.2" stroke-linecap="butt"/>
<line x1="1318.80" y1="1385.70" x2="1339.80" y2="1385.70" stroke="#231f20" stroke-width="3.2" stroke-linecap="butt"/>
<rect x="1359.50" y="1377.70" width="17.00" height="237.70" fill="#231f20"/>
<line x1="1368.10" y1="1354.10" x2="1368.10" y2="1378.70" stroke="#231f20" stroke-width="3.2" stroke-linecap="butt"/>
<line x1="1357.60" y1="1354.10" x2="1378.60" y2="1354.10" stroke="#231f20" stroke-width="3.2" stroke-linecap="butt"/>
<rect x="1398.40" y="1346.40" width="17.00" height="269.00" fill="#231f20"/>
<line x1="1406.90" y1="1297.60" x2="1406.90" y2="1347.40" stroke="#231f20" stroke-width="3.2" stroke-linecap="butt"/>
<line x1="1396.40" y1="1297.60" x2="1417.40" y2="1297.60" stroke="#231f20" stroke-width="3.2" stroke-linecap="butt"/>
<rect x="1437.00" y="1508.80" width="17.00" height="106.60" fill="#231f20"/>
<line x1="1445.60" y1="1498.40" x2="1445.60" y2="1509.80" stroke="#231f20" stroke-width="3.2" stroke-linecap="butt"/>
<line x1="1435.10" y1="1498.40" x2="1456.10" y2="1498.40" stroke="#231f20" stroke-width="3.2" stroke-linecap="butt"/>
<rect x="1476.00" y="1455.70" width="17.00" height="159.70" fill="#231f20"/>
<line x1="1484.30" y1="1442.20" x2="1484.30" y2="1456.70" stroke="#231f20" stroke-width="3.2" stroke-linecap="butt"/>
<line x1="1473.80" y1="1442.20" x2="1494.80" y2="1442.20" stroke="#231f20" stroke-width="3.2" stroke-linecap="butt"/>
<rect x="1514.70" y="1483.60" width="20.50" height="131.80" fill="#231f20"/>
<line x1="1523.00" y1="1466.80" x2="1523.00" y2="1484.60" stroke="#231f20" stroke-width="3.2" stroke-linecap="butt"/>
<line x1="1512.50" y1="1466.80" x2="1533.50" y2="1466.80" stroke="#231f20" stroke-width="3.2" stroke-linecap="butt"/>
<line x1="1152.00" y1="1218.70" x2="1152.00" y2="1617.10" stroke="#231f20" stroke-width="3.4" stroke-linecap="butt"/>
<line x1="1142.50" y1="1615.40" x2="1545.90" y2="1615.40" stroke="#231f20" stroke-width="3.4" stroke-linecap="butt"/>
<line x1="1152.00" y1="1615.40" x2="1152.00" y2="1625.40" stroke="#231f20" stroke-width="3.2" stroke-linecap="butt"/>
<line x1="1191.30" y1="1615.40" x2="1191.30" y2="1625.40" stroke="#231f20" stroke-width="3.2" stroke-linecap="butt"/>
<line x1="1229.70" y1="1615.40" x2="1229.70" y2="1625.40" stroke="#231f20" stroke-width="3.2" stroke-linecap="butt"/>
<line x1="1268.90" y1="1615.40" x2="1268.90" y2="1625.40" stroke="#231f20" stroke-width="3.2" stroke-linecap="butt"/>
<line x1="1308.70" y1="1615.40" x2="1308.70" y2="1625.40" stroke="#231f20" stroke-width="3.2" stroke-linecap="butt"/>
<line x1="1346.60" y1="1615.40" x2="1346.60" y2="1625.40" stroke="#231f20" stroke-width="3.2" stroke-linecap="butt"/>
<line x1="1385.50" y1="1615.40" x2="1385.50" y2="1625.40" stroke="#231f20" stroke-width="3.2" stroke-linecap="butt"/>
<line x1="1427.00" y1="1615.40" x2="1427.00" y2="1625.40" stroke="#231f20" stroke-width="3.2" stroke-linecap="butt"/>
<line x1="1466.50" y1="1615.40" x2="1466.50" y2="1625.40" stroke="#231f20" stroke-width="3.2" stroke-linecap="butt"/>
<line x1="1505.20" y1="1615.40" x2="1505.20" y2="1625.40" stroke="#231f20" stroke-width="3.2" stroke-linecap="butt"/>
<line x1="1544.20" y1="1615.40" x2="1544.20" y2="1625.40" stroke="#231f20" stroke-width="3.2" stroke-linecap="butt"/>
<line x1="1142.50" y1="1220.20" x2="1152.00" y2="1220.20" stroke="#231f20" stroke-width="3.2" stroke-linecap="butt"/>
<text transform="translate(1111.35 1231.57) rotate(0) scale(1.0000 1)" font-size="27.80" fill="#231f20" stroke="#231f20" stroke-width="0.31">4</text>
<line x1="1142.50" y1="1318.30" x2="1152.00" y2="1318.30" stroke="#231f20" stroke-width="3.2" stroke-linecap="butt"/>
<text transform="translate(1111.62 1329.67) rotate(0) scale(1.0000 1)" font-size="27.80" fill="#231f20" stroke="#231f20" stroke-width="0.31">3</text>
<line x1="1142.50" y1="1417.80" x2="1152.00" y2="1417.80" stroke="#231f20" stroke-width="3.2" stroke-linecap="butt"/>
<text transform="translate(1111.56 1429.17) rotate(0) scale(1.0000 1)" font-size="27.80" fill="#231f20" stroke="#231f20" stroke-width="0.31">2</text>
<line x1="1142.50" y1="1516.20" x2="1152.00" y2="1516.20" stroke="#231f20" stroke-width="3.2" stroke-linecap="butt"/>
<text transform="translate(1111.00 1527.57) rotate(0) scale(1.0000 1)" font-size="27.80" fill="#231f20" stroke="#231f20" stroke-width="0.31">1</text>
<line x1="1142.50" y1="1615.40" x2="1152.00" y2="1615.40" stroke="#231f20" stroke-width="3.2" stroke-linecap="butt"/>
<text transform="translate(1111.49 1626.77) rotate(0) scale(1.0000 1)" font-size="27.80" fill="#231f20" stroke="#231f20" stroke-width="0.31">0</text>
<text transform="translate(1176.80 1698.03) rotate(-90) scale(1.0000 1)" font-size="27.80" fill="#231f20" stroke="#231f20" stroke-width="0.31">None</text>
<text transform="translate(1218.80 1659.25) rotate(-90) scale(1.0000 1)" font-size="27.80" fill="#231f20" stroke="#231f20" stroke-width="0.31">10</text>
<text transform="translate(1260.00 1659.25) rotate(-90) scale(1.0000 1)" font-size="27.80" fill="#231f20" stroke="#231f20" stroke-width="0.31">30</text>
<text transform="translate(1300.30 1675.08) rotate(-90) scale(1.0000 1)" font-size="27.80" fill="#231f20" stroke="#231f20" stroke-width="0.31">100</text>
<text transform="translate(1337.70 1659.25) rotate(-90) scale(1.0000 1)" font-size="27.80" fill="#231f20" stroke="#231f20" stroke-width="0.31">10</text>
<text transform="translate(1376.60 1659.25) rotate(-90) scale(1.0000 1)" font-size="27.80" fill="#231f20" stroke="#231f20" stroke-width="0.31">30</text>
<text transform="translate(1417.80 1675.08) rotate(-90) scale(1.0000 1)" font-size="27.80" fill="#231f20" stroke="#231f20" stroke-width="0.31">100</text>
<text transform="translate(1458.60 1679.88) rotate(-90) scale(1.0000 1)" font-size="27.80" fill="#231f20" stroke="#231f20" stroke-width="0.31">0.01</text>
<text transform="translate(1497.50 1679.60) rotate(-90) scale(1.0000 1)" font-size="27.80" fill="#231f20" stroke="#231f20" stroke-width="0.31">0.03</text>
<text transform="translate(1537.00 1664.45) rotate(-90) scale(1.0000 1)" font-size="27.80" fill="#231f20" stroke="#231f20" stroke-width="0.31">0.1</text>
<line x1="1195.00" y1="1681.60" x2="1302.50" y2="1681.60" stroke="#231f20" stroke-width="3.3" stroke-linecap="butt"/>
<line x1="1316.00" y1="1681.60" x2="1423.50" y2="1681.60" stroke="#231f20" stroke-width="3.3" stroke-linecap="butt"/>
<line x1="1435.60" y1="1681.60" x2="1543.30" y2="1681.60" stroke="#231f20" stroke-width="3.3" stroke-linecap="butt"/>
<text transform="translate(1256.00 1742.70) rotate(-30) scale(0.9650 1)" font-size="29.20" text-anchor="middle" fill="#231f20" stroke="#231f20" stroke-width="0.32">Hesperidin</text>
<text transform="translate(1271.63 1762.77) rotate(-30) scale(0.9650 1)" font-size="29.20" text-anchor="middle" fill="#231f20" stroke="#231f20" stroke-width="0.32">(µg/mL)</text>
<text transform="translate(1379.20 1728.20) rotate(-30) scale(0.9700 1)" font-size="29.20" text-anchor="middle" fill="#231f20" stroke="#231f20" stroke-width="0.32">Linarin</text>
<text transform="translate(1392.23 1749.77) rotate(-30) scale(0.9700 1)" font-size="29.20" text-anchor="middle" fill="#231f20" stroke="#231f20" stroke-width="0.32">(µg/mL)</text>
<text transform="translate(1494.40 1728.40) rotate(-30) scale(0.9750 1)" font-size="29.20" text-anchor="middle" fill="#231f20" stroke="#231f20" stroke-width="0.32">DMSO</text>
<text transform="translate(1509.08 1749.02) rotate(-30) scale(0.9750 1)" font-size="29.20" text-anchor="middle" fill="#231f20" stroke="#231f20" stroke-width="0.32">(%)</text>
<text transform="translate(1088.20 1644.80) rotate(-90) scale(0.9603 1)" font-size="36.81" fill="#231f20" stroke="#231f20" stroke-width="0.40">RANTES Secretion (ng/mL)</text>
<text transform="translate(1406.60 1275.80) rotate(0)" x="-7.41" y="19.19" font-size="38" fill="#231f20">*</text>
<rect x="1199.80" y="119.30" width="3.20" height="17.40" fill="#231f20"/>
<line x1="1203.00" y1="118.60" x2="1203.00" y2="137.40" stroke="#231f20" stroke-width="3.3" stroke-linecap="butt"/>
<rect x="1199.80" y="144.80" width="3.20" height="17.40" fill="#231f20"/>
<line x1="1203.00" y1="144.10" x2="1203.00" y2="162.90" stroke="#231f20" stroke-width="3.3" stroke-linecap="butt"/>
<rect x="1199.80" y="172.70" width="3.20" height="17.40" fill="#231f20"/>
<line x1="1203.00" y1="172.00" x2="1203.00" y2="190.80" stroke="#231f20" stroke-width="3.3" stroke-linecap="butt"/>
<rect x="1199.80" y="200.60" width="3.60" height="17.40" fill="#231f20"/>
<line x1="1203.60" y1="199.90" x2="1203.60" y2="218.70" stroke="#231f20" stroke-width="3.3" stroke-linecap="butt"/>
<rect x="1199.80" y="226.10" width="115.00" height="17.40" fill="#231f20"/>
<line x1="1314.30" y1="234.80" x2="1319.30" y2="234.80" stroke="#231f20" stroke-width="3.5" stroke-linecap="butt"/>
<line x1="1319.30" y1="225.40" x2="1319.30" y2="244.20" stroke="#231f20" stroke-width="3.3" stroke-linecap="butt"/>
<rect x="1199.80" y="294.60" width="21.70" height="17.40" fill="#231f20"/>
<line x1="1221.00" y1="303.30" x2="1228.00" y2="303.30" stroke="#231f20" stroke-width="3.5" stroke-linecap="butt"/>
<line x1="1228.00" y1="293.90" x2="1228.00" y2="312.70" stroke="#231f20" stroke-width="3.3" stroke-linecap="butt"/>
<rect x="1199.80" y="322.60" width="11.90" height="17.40" fill="#231f20"/>
<line x1="1211.20" y1="331.30" x2="1215.50" y2="331.30" stroke="#231f20" stroke-width="3.5" stroke-linecap="butt"/>
<line x1="1215.50" y1="321.90" x2="1215.50" y2="340.70" stroke="#231f20" stroke-width="3.3" stroke-linecap="butt"/>
<rect x="1199.80" y="347.70" width="31.20" height="17.40" fill="#231f20"/>
<line x1="1230.50" y1="356.40" x2="1232.00" y2="356.40" stroke="#231f20" stroke-width="3.5" stroke-linecap="butt"/>
<line x1="1232.00" y1="347.00" x2="1232.00" y2="365.80" stroke="#231f20" stroke-width="3.3" stroke-linecap="butt"/>
<rect x="1199.80" y="375.70" width="27.80" height="17.40" fill="#231f20"/>
<line x1="1227.10" y1="384.40" x2="1234.20" y2="384.40" stroke="#231f20" stroke-width="3.5" stroke-linecap="butt"/>
<line x1="1234.20" y1="375.00" x2="1234.20" y2="393.80" stroke="#231f20" stroke-width="3.3" stroke-linecap="butt"/>
<rect x="1199.80" y="404.10" width="167.70" height="17.40" fill="#231f20"/>
<line x1="1367.00" y1="412.80" x2="1375.00" y2="412.80" stroke="#231f20" stroke-width="3.5" stroke-linecap="butt"/>
<line x1="1375.00" y1="403.40" x2="1375.00" y2="422.20" stroke="#231f20" stroke-width="3.3" stroke-linecap="butt"/>
<rect x="1199.80" y="469.30" width="114.70" height="17.40" fill="#231f20"/>
<line x1="1314.00" y1="478.00" x2="1331.80" y2="478.00" stroke="#231f20" stroke-width="3.5" stroke-linecap="butt"/>
<line x1="1331.80" y1="468.60" x2="1331.80" y2="487.40" stroke="#231f20" stroke-width="3.3" stroke-linecap="butt"/>
<rect x="1199.80" y="497.30" width="117.70" height="17.40" fill="#231f20"/>
<line x1="1317.00" y1="506.00" x2="1338.20" y2="506.00" stroke="#231f20" stroke-width="3.5" stroke-linecap="butt"/>
<line x1="1338.20" y1="496.60" x2="1338.20" y2="515.40" stroke="#231f20" stroke-width="3.3" stroke-linecap="butt"/>
<rect x="1199.80" y="525.20" width="205.40" height="17.40" fill="#231f20"/>
<line x1="1404.70" y1="533.90" x2="1414.80" y2="533.90" stroke="#231f20" stroke-width="3.5" stroke-linecap="butt"/>
<line x1="1414.80" y1="524.50" x2="1414.80" y2="543.30" stroke="#231f20" stroke-width="3.3" stroke-linecap="butt"/>
<rect x="1199.80" y="550.30" width="193.10" height="17.40" fill="#231f20"/>
<line x1="1392.40" y1="559.00" x2="1414.80" y2="559.00" stroke="#231f20" stroke-width="3.5" stroke-linecap="butt"/>
<line x1="1414.80" y1="549.60" x2="1414.80" y2="568.40" stroke="#231f20" stroke-width="3.3" stroke-linecap="butt"/>
<rect x="1199.80" y="578.20" width="224.10" height="17.40" fill="#231f20"/>
<line x1="1423.40" y1="586.90" x2="1430.50" y2="586.90" stroke="#231f20" stroke-width="3.5" stroke-linecap="butt"/>
<line x1="1430.50" y1="577.50" x2="1430.50" y2="596.30" stroke="#231f20" stroke-width="3.3" stroke-linecap="butt"/>
<rect x="1199.80" y="821.60" width="145.90" height="17.40" fill="#231f20"/>
<line x1="1345.20" y1="830.30" x2="1365.60" y2="830.30" stroke="#231f20" stroke-width="3.5" stroke-linecap="butt"/>
<line x1="1365.60" y1="820.90" x2="1365.60" y2="839.70" stroke="#231f20" stroke-width="3.3" stroke-linecap="butt"/>
<rect x="1199.80" y="849.70" width="148.90" height="17.40" fill="#231f20"/>
<line x1="1348.20" y1="858.40" x2="1374.60" y2="858.40" stroke="#231f20" stroke-width="3.5" stroke-linecap="butt"/>
<line x1="1374.60" y1="849.00" x2="1374.60" y2="867.80" stroke="#231f20" stroke-width="3.3" stroke-linecap="butt"/>
<rect x="1199.80" y="874.60" width="298.80" height="17.40" fill="#231f20"/>
<line x1="1498.10" y1="883.30" x2="1512.20" y2="883.30" stroke="#231f20" stroke-width="3.5" stroke-linecap="butt"/>
<line x1="1512.20" y1="873.90" x2="1512.20" y2="892.70" stroke="#231f20" stroke-width="3.3" stroke-linecap="butt"/>
<rect x="1199.80" y="902.60" width="280.00" height="17.40" fill="#231f20"/>
<line x1="1479.30" y1="911.30" x2="1514.80" y2="911.30" stroke="#231f20" stroke-width="3.5" stroke-linecap="butt"/>
<line x1="1514.80" y1="901.90" x2="1514.80" y2="920.70" stroke="#231f20" stroke-width="3.3" stroke-linecap="butt"/>
<rect x="1199.80" y="930.60" width="345.80" height="17.40" fill="#231f20"/>
<line x1="1545.10" y1="939.30" x2="1571.20" y2="939.30" stroke="#231f20" stroke-width="3.5" stroke-linecap="butt"/>
<line x1="1571.20" y1="929.90" x2="1571.20" y2="948.70" stroke="#231f20" stroke-width="3.3" stroke-linecap="butt"/>
<line x1="1199.80" y1="92.20" x2="1199.80" y2="1149.60" stroke="#231f20" stroke-width="3.6" stroke-linecap="butt"/>
<line x1="1190.30" y1="94.00" x2="1644.50" y2="94.00" stroke="#231f20" stroke-width="3.6" stroke-linecap="butt"/>
<line x1="1199.70" y1="85.00" x2="1199.70" y2="94.00" stroke="#231f20" stroke-width="3.1" stroke-linecap="butt"/>
<line x1="1262.30" y1="85.00" x2="1262.30" y2="94.00" stroke="#231f20" stroke-width="3.1" stroke-linecap="butt"/>
<line x1="1327.10" y1="85.00" x2="1327.10" y2="94.00" stroke="#231f20" stroke-width="3.1" stroke-linecap="butt"/>
<line x1="1390.00" y1="85.00" x2="1390.00" y2="94.00" stroke="#231f20" stroke-width="3.1" stroke-linecap="butt"/>
<line x1="1452.70" y1="85.00" x2="1452.70" y2="94.00" stroke="#231f20" stroke-width="3.1" stroke-linecap="butt"/>
<line x1="1515.00" y1="85.00" x2="1515.00" y2="94.00" stroke="#231f20" stroke-width="3.1" stroke-linecap="butt"/>
<line x1="1580.00" y1="85.00" x2="1580.00" y2="94.00" stroke="#231f20" stroke-width="3.1" stroke-linecap="butt"/>
<line x1="1642.80" y1="85.00" x2="1642.80" y2="94.00" stroke="#231f20" stroke-width="3.1" stroke-linecap="butt"/>
<line x1="1190.30" y1="268.80" x2="1199.80" y2="268.80" stroke="#231f20" stroke-width="3.2" stroke-linecap="butt"/>
<line x1="1190.30" y1="443.50" x2="1199.80" y2="443.50" stroke="#231f20" stroke-width="3.2" stroke-linecap="butt"/>
<line x1="1190.30" y1="621.40" x2="1199.80" y2="621.40" stroke="#231f20" stroke-width="3.2" stroke-linecap="butt"/>
<line x1="1190.30" y1="795.70" x2="1199.80" y2="795.70" stroke="#231f20" stroke-width="3.2" stroke-linecap="butt"/>
<line x1="1190.30" y1="973.50" x2="1199.80" y2="973.50" stroke="#231f20" stroke-width="3.2" stroke-linecap="butt"/>
<line x1="1190.30" y1="1147.90" x2="1199.80" y2="1147.90" stroke="#231f20" stroke-width="3.2" stroke-linecap="butt"/>
<text transform="translate(1192.45 71.30) rotate(0) scale(1.0000 1)" font-size="28.30" fill="#231f20" stroke="#231f20" stroke-width="0.31">0</text>
<text transform="translate(1253.65 71.30) rotate(0) scale(1.0000 1)" font-size="28.30" fill="#231f20" stroke="#231f20" stroke-width="0.31">1</text>
<text transform="translate(1320.62 71.30) rotate(0) scale(1.0000 1)" font-size="28.30" fill="#231f20" stroke="#231f20" stroke-width="0.31">2</text>
<text transform="translate(1384.29 71.30) rotate(0) scale(1.0000 1)" font-size="28.30" fill="#231f20" stroke="#231f20" stroke-width="0.31">3</text>
<text transform="translate(1442.81 71.30) rotate(0) scale(1.0000 1)" font-size="28.30" fill="#231f20" stroke="#231f20" stroke-width="0.31">4</text>
<text transform="translate(1507.98 71.30) rotate(0) scale(1.0000 1)" font-size="28.30" fill="#231f20" stroke="#231f20" stroke-width="0.31">5</text>
<text transform="translate(1573.35 71.30) rotate(0) scale(1.0000 1)" font-size="28.30" fill="#231f20" stroke="#231f20" stroke-width="0.31">6</text>
<text transform="translate(1635.45 71.30) rotate(0) scale(1.0000 1)" font-size="28.30" fill="#231f20" stroke="#231f20" stroke-width="0.31">7</text>
<text transform="translate(1194.29 25.50) rotate(0) scale(0.9750 1)" font-size="36.16" fill="#231f20" stroke="#231f20" stroke-width="0.40">Cytokine secretion (ng/mL)</text>
<text transform="translate(1118.35 134.60) rotate(0) scale(0.9735 1)" font-size="29.28" fill="#231f20" stroke="#231f20" stroke-width="0.32">None</text>
<text transform="translate(1104.55 161.60) rotate(0) scale(0.9716 1)" font-size="29.28" fill="#231f20" stroke="#231f20" stroke-width="0.32">DMSO</text>
<text transform="translate(1129.44 189.10) rotate(0) scale(0.9799 1)" font-size="29.28" fill="#231f20" stroke="#231f20" stroke-width="0.32">Hes.</text>
<text transform="translate(1139.03 215.90) rotate(0) scale(0.9801 1)" font-size="29.28" fill="#231f20" stroke="#231f20" stroke-width="0.32">Lin.</text>
<text transform="translate(1134.20 243.80) rotate(0) scale(1.0521 1)" font-size="29.28" fill="#231f20" stroke="#231f20" stroke-width="0.32">P.C.</text>
<text transform="translate(1118.35 310.65) rotate(0) scale(0.9735 1)" font-size="29.28" fill="#231f20" stroke="#231f20" stroke-width="0.32">None</text>
<text transform="translate(1104.55 337.65) rotate(0) scale(0.9716 1)" font-size="29.28" fill="#231f20" stroke="#231f20" stroke-width="0.32">DMSO</text>
<text transform="translate(1129.44 365.15) rotate(0) scale(0.9799 1)" font-size="29.28" fill="#231f20" stroke="#231f20" stroke-width="0.32">Hes.</text>
<text transform="translate(1139.03 391.95) rotate(0) scale(0.9801 1)" font-size="29.28" fill="#231f20" stroke="#231f20" stroke-width="0.32">Lin.</text>
<text transform="translate(1134.20 419.85) rotate(0) scale(1.0521 1)" font-size="29.28" fill="#231f20" stroke="#231f20" stroke-width="0.32">P.C.</text>
<text transform="translate(1118.35 486.70) rotate(0) scale(0.9735 1)" font-size="29.28" fill="#231f20" stroke="#231f20" stroke-width="0.32">None</text>
<text transform="translate(1104.55 513.70) rotate(0) scale(0.9716 1)" font-size="29.28" fill="#231f20" stroke="#231f20" stroke-width="0.32">DMSO</text>
<text transform="translate(1129.44 541.20) rotate(0) scale(0.9799 1)" font-size="29.28" fill="#231f20" stroke="#231f20" stroke-width="0.32">Hes.</text>
<text transform="translate(1139.03 568.00) rotate(0) scale(0.9801 1)" font-size="29.28" fill="#231f20" stroke="#231f20" stroke-width="0.32">Lin.</text>
<text transform="translate(1134.20 595.90) rotate(0) scale(1.0521 1)" font-size="29.28" fill="#231f20" stroke="#231f20" stroke-width="0.32">P.C.</text>
<text transform="translate(1118.35 662.75) rotate(0) scale(0.9735 1)" font-size="29.28" fill="#231f20" stroke="#231f20" stroke-width="0.32">None</text>
<text transform="translate(1104.55 689.75) rotate(0) scale(0.9716 1)" font-size="29.28" fill="#231f20" stroke="#231f20" stroke-width="0.32">DMSO</text>
<text transform="translate(1129.44 717.25) rotate(0) scale(0.9799 1)" font-size="29.28" fill="#231f20" stroke="#231f20" stroke-width="0.32">Hes.</text>
<text transform="translate(1139.03 744.05) rotate(0) scale(0.9801 1)" font-size="29.28" fill="#231f20" stroke="#231f20" stroke-width="0.32">Lin.</text>
<text transform="translate(1134.20 771.95) rotate(0) scale(1.0521 1)" font-size="29.28" fill="#231f20" stroke="#231f20" stroke-width="0.32">P.C.</text>
<text transform="translate(1118.35 838.80) rotate(0) scale(0.9735 1)" font-size="29.28" fill="#231f20" stroke="#231f20" stroke-width="0.32">None</text>
<text transform="translate(1104.55 865.80) rotate(0) scale(0.9716 1)" font-size="29.28" fill="#231f20" stroke="#231f20" stroke-width="0.32">DMSO</text>
<text transform="translate(1129.44 893.30) rotate(0) scale(0.9799 1)" font-size="29.28" fill="#231f20" stroke="#231f20" stroke-width="0.32">Hes.</text>
<text transform="translate(1139.03 920.10) rotate(0) scale(0.9801 1)" font-size="29.28" fill="#231f20" stroke="#231f20" stroke-width="0.32">Lin.</text>
<text transform="translate(1134.20 948.00) rotate(0) scale(1.0521 1)" font-size="29.28" fill="#231f20" stroke="#231f20" stroke-width="0.32">P.C.</text>
<text transform="translate(1118.35 1014.85) rotate(0) scale(0.9735 1)" font-size="29.28" fill="#231f20" stroke="#231f20" stroke-width="0.32">None</text>
<text transform="translate(1104.55 1041.85) rotate(0) scale(0.9716 1)" font-size="29.28" fill="#231f20" stroke="#231f20" stroke-width="0.32">DMSO</text>
<text transform="translate(1129.44 1069.35) rotate(0) scale(0.9799 1)" font-size="29.28" fill="#231f20" stroke="#231f20" stroke-width="0.32">Hes.</text>
<text transform="translate(1139.03 1096.15) rotate(0) scale(0.9801 1)" font-size="29.28" fill="#231f20" stroke="#231f20" stroke-width="0.32">Lin.</text>
<text transform="translate(1134.20 1124.05) rotate(0) scale(1.0521 1)" font-size="29.28" fill="#231f20" stroke="#231f20" stroke-width="0.32">P.C.</text>
<text transform="translate(1082.30 224.28) rotate(-90) scale(0.9388 1)" font-size="37.39" fill="#231f20" stroke="#231f20" stroke-width="0.41">IFN-γ</text>
<text transform="translate(1082.30 395.06) rotate(-90) scale(0.9725 1)" font-size="37.39" fill="#231f20" stroke="#231f20" stroke-width="0.41">IL-4</text>
<text transform="translate(1082.30 569.75) rotate(-90) scale(0.9253 1)" font-size="37.39" fill="#231f20" stroke="#231f20" stroke-width="0.41">IL-5</text>
<text transform="translate(1082.30 754.50) rotate(-90) scale(0.9462 1)" font-size="37.39" fill="#231f20" stroke="#231f20" stroke-width="0.41">IL-10</text>
<text transform="translate(1082.30 929.30) rotate(-90) scale(0.9453 1)" font-size="37.39" fill="#231f20" stroke="#231f20" stroke-width="0.41">IL-13</text>
<text transform="translate(1082.30 1117.15) rotate(-90) scale(0.9660 1)" font-size="37.39" fill="#231f20" stroke="#231f20" stroke-width="0.41">IL-17A</text>
<text transform="translate(1340.00 235.70) rotate(90)" x="-7.02" y="18.18" font-size="36" fill="#231f20">*</text>
<text transform="translate(1397.20 413.50) rotate(90)" x="-7.02" y="18.18" font-size="36" fill="#231f20">*</text>
<text transform="translate(1437.20 532.80) rotate(90)" x="-7.02" y="18.18" font-size="36" fill="#231f20">*</text>
<text transform="translate(1437.20 557.70) rotate(90)" x="-7.02" y="18.18" font-size="36" fill="#231f20">*</text>
<text transform="translate(1451.70 586.40) rotate(90)" x="-7.02" y="18.18" font-size="36" fill="#231f20">*</text>
<text transform="translate(1533.60 884.00) rotate(90)" x="-7.02" y="18.18" font-size="36" fill="#231f20">*</text>
<text transform="translate(1537.30 912.00) rotate(90)" x="-7.02" y="18.18" font-size="36" fill="#231f20">*</text>
<text transform="translate(1592.60 940.00) rotate(90)" x="-7.02" y="18.18" font-size="36" fill="#231f20">*</text>
<text transform="translate(1045.57 50.00) rotate(0) scale(0.9885 1)" font-size="64.35" fill="#231f20" stroke="#231f20" stroke-width="0.71">B</text>
<text transform="translate(-1.39 52.60) rotate(0) scale(1.0460 1)" font-size="64.64" fill="#231f20" stroke="#231f20" stroke-width="0.71">A</text>
<text transform="translate(19.04 578.20) rotate(0) scale(0.9392 1)" font-size="65.51" fill="#231f20" stroke="#231f20" stroke-width="0.72">C</text>
<text transform="translate(204.54 31.70) rotate(0) scale(0.9750 1)" font-size="43.56" fill="#231f20" stroke="#231f20" stroke-width="0.48">PBMCs</text>
<text transform="translate(582.48 31.60) rotate(0) scale(0.9913 1)" font-size="44.20" fill="#231f20" stroke="#231f20" stroke-width="0.49">V</text>
<text transform="translate(611.16 31.60) rotate(0) scale(0.9265 1)" font-size="44.20" fill="#231f20" stroke="#231f20" stroke-width="0.49">δ</text>
<text transform="translate(633.87 31.60) rotate(0) scale(0.9145 1)" font-size="44.20" fill="#231f20" stroke="#231f20" stroke-width="0.49">1</text>
<text transform="translate(671.40 31.60) rotate(0) scale(0.9598 1)" font-size="44.20" fill="#231f20" stroke="#231f20" stroke-width="0.49">cells</text>
<text transform="translate(422.78 497.60) rotate(0) scale(0.9980 1)" font-size="44.06" fill="#231f20" stroke="#231f20" stroke-width="0.48">V</text>
<text transform="translate(451.46 497.60) rotate(0) scale(0.9857 1)" font-size="44.06" fill="#231f20" stroke="#231f20" stroke-width="0.48">δ</text>
<text transform="translate(476.10 497.60) rotate(0) scale(0.8693 1)" font-size="44.06" fill="#231f20" stroke="#231f20" stroke-width="0.48">1</text>
<line x1="84.80" y1="441.20" x2="785.00" y2="441.20" stroke="#231f20" stroke-width="2.7" stroke-linecap="butt"/>
<polygon points="780.3,432.6 810.8,441.2 780.3,449.8" fill="#231f20"/>
<path d="M157.0 309.5h1.25M153.8 318.2h1.25M146.8 322.5h1.25M151.8 308.1h1.25M145.6 315.3h1.25M157.7 306.6h1.25M172.4 331.1h1.25M151.3 317.7h1.25M149.9 326.6h1.25M162.6 313.1h1.25M161.1 315.1h1.25M158.2 334.4h1.25M146.3 310.0h1.25M156.7 301.0h1.25M165.0 324.9h1.25M141.5 308.2h1.25M151.7 315.8h1.25M135.1 330.3h1.25M142.2 311.7h1.25M135.8 330.0h1.25M154.3 313.1h1.25M142.4 336.6h1.25M160.1 334.8h1.25M158.8 315.4h1.25M154.9 318.2h1.25M150.8 322.7h1.25M156.4 332.9h1.25M158.3 304.9h1.25M139.4 330.4h1.25M151.5 306.2h1.25M145.7 311.2h1.25M147.7 301.2h1.25M147.7 321.1h1.25M156.6 323.1h1.25M167.2 313.2h1.25M150.3 332.0h1.25M155.7 297.8h1.25M158.3 320.8h1.25M142.9 316.4h1.25M157.9 320.7h1.25M172.6 327.8h1.25M139.2 311.7h1.25M166.9 320.7h1.25M158.4 330.9h1.25M149.6 322.6h1.25M180.0 324.5h1.25M165.8 316.7h1.25M143.2 323.9h1.25M157.9 321.1h1.25M163.6 336.2h1.25M154.8 328.3h1.25M164.9 317.9h1.25M156.2 294.1h1.25M164.7 328.2h1.25M173.5 328.7h1.25M149.2 310.6h1.25M159.3 298.9h1.25M151.7 308.2h1.25M158.5 330.5h1.25M143.3 309.0h1.25M150.3 315.5h1.25M154.7 322.9h1.25M167.3 333.7h1.25M170.2 320.3h1.25M141.8 319.4h1.25M147.9 314.6h1.25M164.4 338.1h1.25M134.1 332.0h1.25M151.7 319.5h1.25M155.9 305.4h1.25M171.5 312.0h1.25M164.9 326.8h1.25M153.2 312.7h1.25M152.8 330.1h1.25M154.1 324.4h1.25M174.5 323.7h1.25M152.1 327.6h1.25M153.5 325.9h1.25M161.1 311.3h1.25M155.6 317.0h1.25M144.2 307.5h1.25M156.9 315.4h1.25M151.9 332.0h1.25M170.4 318.8h1.25M164.5 311.7h1.25M156.7 306.2h1.25M164.7 326.3h1.25M153.1 331.5h1.25M169.1 335.6h1.25M156.9 321.1h1.25M163.7 331.8h1.25M142.2 309.3h1.25M161.0 322.3h1.25M137.6 313.2h1.25M133.6 322.4h1.25M153.5 328.6h1.25M146.7 332.1h1.25M158.9 309.8h1.25M182.8 334.2h1.25M147.4 315.4h1.25M149.8 309.4h1.25M159.4 318.7h1.25M162.7 304.7h1.25M155.0 320.5h1.25M154.6 323.6h1.25M165.1 318.3h1.25M163.0 326.3h1.25M145.1 317.1h1.25M156.1 320.5h1.25M157.4 304.9h1.25M144.9 321.0h1.25M160.0 311.3h1.25M147.1 315.6h1.25M168.2 319.5h1.25M159.2 322.6h1.25M158.0 302.7h1.25M150.2 303.6h1.25M155.6 317.2h1.25M134.0 325.6h1.25M144.0 324.4h1.25M161.2 330.1h1.25M166.7 325.9h1.25M136.9 320.3h1.25M165.7 309.4h1.25M147.3 310.3h1.25M166.0 315.5h1.25M158.5 323.4h1.25M139.3 322.9h1.25M171.4 320.5h1.25M173.6 318.9h1.25M156.2 327.3h1.25M153.8 322.7h1.25M155.2 323.7h1.25M145.8 323.8h1.25M169.6 314.6h1.25M150.8 309.4h1.25M156.4 325.8h1.25M147.9 325.0h1.25M149.8 318.1h1.25M142.3 316.0h1.25M155.2 312.3h1.25M168.1 318.2h1.25M157.2 323.4h1.25M149.0 308.0h1.25M153.2 321.8h1.25M157.1 330.6h1.25M152.7 327.3h1.25M153.6 326.9h1.25M141.1 321.7h1.25M147.7 330.9h1.25M176.0 318.8h1.25M149.3 315.9h1.25M144.9 321.6h1.25M160.9 330.3h1.25M173.2 324.1h1.25M140.3 327.8h1.25M154.6 298.6h1.25M149.7 333.4h1.25M165.5 334.9h1.25M156.7 317.1h1.25M157.8 311.3h1.25M148.3 323.5h1.25M162.2 309.8h1.25M150.8 328.3h1.25M155.4 314.8h1.25M144.3 330.9h1.25M143.0 335.2h1.25M172.4 298.6h1.25M151.2 323.7h1.25M160.4 313.0h1.25M156.6 305.3h1.25M151.9 313.8h1.25M151.2 318.1h1.25M164.2 331.7h1.25M153.5 304.1h1.25M155.3 331.8h1.25M170.5 327.0h1.25M164.8 326.4h1.25M161.4 320.4h1.25M150.5 307.8h1.25M141.1 326.3h1.25M167.9 324.6h1.25M168.1 328.4h1.25M163.2 328.4h1.25M166.0 325.1h1.25M166.6 337.4h1.25M167.6 306.0h1.25M151.8 308.2h1.25M174.4 316.4h1.25M142.7 313.4h1.25M166.9 328.0h1.25M162.7 317.1h1.25M167.0 339.3h1.25M178.6 336.9h1.25M174.1 328.8h1.25M143.8 316.3h1.25M137.6 327.2h1.25M166.4 329.3h1.25M145.3 309.0h1.25M156.9 324.3h1.25M166.7 328.1h1.25M138.1 322.8h1.25M160.0 333.6h1.25M157.5 311.6h1.25M154.2 321.8h1.25M157.4 311.5h1.25M147.1 326.8h1.25M139.6 311.1h1.25M155.1 330.5h1.25M145.8 324.7h1.25M138.1 331.0h1.25M162.8 318.9h1.25M156.3 304.8h1.25M161.7 339.6h1.25M145.6 318.6h1.25M149.4 335.4h1.25M145.5 325.1h1.25M146.8 327.8h1.25M148.0 324.2h1.25M161.1 335.6h1.25M160.9 304.5h1.25M180.3 329.9h1.25M141.0 317.9h1.25M167.2 319.1h1.25M156.0 320.6h1.25M156.8 324.2h1.25M140.3 338.4h1.25M151.7 300.5h1.25M165.5 321.0h1.25M156.1 312.8h1.25M157.9 333.1h1.25M153.7 315.9h1.25M170.3 325.4h1.25M156.8 316.2h1.25M149.0 331.5h1.25M134.4 316.2h1.25M150.9 305.2h1.25M172.3 323.8h1.25M157.5 329.7h1.25M143.5 314.5h1.25M146.2 332.6h1.25M170.0 298.1h1.25M158.8 300.5h1.25M157.6 305.5h1.25M156.4 315.3h1.25M157.4 320.7h1.25M166.3 319.6h1.25M163.4 319.8h1.25M159.5 328.3h1.25M145.0 315.4h1.25M162.9 306.9h1.25M149.1 307.1h1.25M169.6 343.3h1.25M142.4 295.1h1.25M155.4 318.6h1.25M156.9 336.2h1.25M141.8 325.7h1.25M176.8 311.5h1.25M173.8 320.5h1.25M151.7 329.8h1.25M165.9 333.5h1.25M161.4 310.8h1.25M159.9 323.2h1.25M156.3 332.4h1.25M158.0 335.5h1.25M144.6 316.8h1.25M153.9 304.8h1.25M155.0 324.8h1.25M170.7 339.7h1.25M160.8 327.9h1.25M156.9 323.0h1.25M150.6 309.3h1.25M152.5 330.3h1.25M136.1 314.3h1.25M175.0 321.0h1.25M168.1 321.5h1.25M167.5 336.9h1.25M164.7 310.4h1.25M158.3 314.7h1.25M159.5 303.3h1.25M154.1 325.8h1.25M154.7 315.6h1.25M157.6 325.1h1.25M174.4 308.9h1.25M163.4 316.6h1.25M156.3 331.7h1.25M150.3 318.6h1.25M149.7 327.3h1.25M175.4 326.2h1.25M162.8 316.7h1.25M157.8 303.7h1.25M153.0 331.1h1.25M144.2 322.3h1.25M156.2 331.1h1.25M167.0 298.8h1.25M152.5 302.6h1.25M154.4 297.4h1.25M154.5 311.0h1.25M158.3 331.8h1.25M138.7 326.6h1.25M154.3 320.1h1.25M147.2 321.9h1.25M167.2 328.7h1.25M148.1 317.2h1.25M163.6 324.8h1.25M174.5 322.0h1.25M153.4 296.9h1.25M150.1 316.3h1.25M159.2 335.2h1.25M157.0 316.2h1.25M145.6 319.0h1.25M162.3 313.9h1.25M180.2 315.3h1.25M154.0 332.6h1.25M154.7 317.6h1.25M145.0 309.5h1.25M160.7 286.9h1.25M142.7 314.3h1.25M144.3 299.3h1.25M171.7 300.8h1.25M146.6 329.1h1.25M169.4 328.2h1.25M174.5 299.8h1.25M160.0 329.7h1.25M163.4 325.5h1.25M179.5 312.0h1.25M154.7 328.4h1.25M150.2 302.9h1.25M141.4 307.5h1.25M157.5 305.0h1.25M174.0 308.5h1.25M168.0 330.0h1.25M146.2 306.1h1.25M147.2 308.1h1.25M151.2 310.2h1.25M160.4 322.6h1.25M154.6 316.8h1.25M159.5 329.8h1.25M160.4 312.8h1.25M153.6 306.6h1.25M156.5 315.1h1.25M159.4 320.9h1.25M156.0 310.4h1.25M162.8 323.5h1.25M163.8 314.1h1.25M157.6 320.9h1.25M137.6 335.0h1.25M161.5 313.4h1.25M134.6 311.2h1.25M140.8 308.6h1.25M166.8 324.7h1.25M165.1 325.9h1.25M155.3 318.7h1.25M137.3 320.8h1.25M152.7 334.1h1.25M149.2 329.7h1.25M164.3 305.2h1.25M183.0 320.2h1.25M159.5 321.4h1.25M148.0 328.0h1.25M143.5 317.8h1.25M156.4 313.3h1.25M155.0 315.3h1.25M143.8 301.0h1.25M158.3 319.9h1.25M143.8 313.8h1.25M169.8 325.2h1.25M169.2 309.1h1.25M169.5 315.5h1.25M151.5 309.6h1.25M162.9 308.6h1.25M155.5 327.7h1.25M152.5 315.1h1.25M153.1 324.9h1.25M142.1 308.0h1.25M140.4 321.2h1.25M166.1 301.9h1.25M154.8 314.9h1.25M159.5 314.7h1.25M168.5 326.4h1.25M137.1 322.0h1.25M148.0 318.2h1.25M159.0 329.1h1.25M161.5 322.1h1.25M152.7 325.9h1.25M168.8 328.3h1.25M159.4 319.3h1.25M143.0 316.9h1.25M146.3 323.6h1.25M166.3 315.5h1.25M162.3 324.2h1.25M135.2 332.0h1.25M172.5 329.2h1.25M163.9 315.9h1.25M172.4 306.2h1.25M152.6 319.4h1.25M153.6 318.7h1.25M144.0 331.9h1.25M186.2 315.9h1.25M155.0 317.7h1.25M175.3 327.9h1.25M149.6 314.9h1.25M158.9 318.3h1.25M137.8 338.5h1.25M152.6 336.1h1.25M168.3 326.8h1.25M142.6 322.9h1.25M169.3 309.5h1.25M160.9 326.0h1.25M145.0 320.6h1.25M151.2 322.4h1.25M151.7 314.4h1.25M156.4 319.9h1.25M150.8 318.0h1.25M147.5 323.4h1.25M153.5 335.4h1.25M145.2 323.9h1.25M142.2 302.1h1.25M156.4 309.5h1.25M167.2 302.9h1.25M139.4 311.4h1.25M157.0 326.0h1.25M149.5 324.3h1.25M145.8 313.5h1.25M166.8 322.9h1.25M151.0 311.8h1.25M174.2 304.7h1.25M148.0 304.8h1.25M161.4 310.7h1.25M154.4 335.3h1.25M148.3 305.5h1.25M163.8 333.4h1.25M155.2 334.3h1.25M163.9 318.0h1.25M156.5 319.4h1.25M144.5 313.4h1.25M155.8 319.7h1.25M157.6 327.1h1.25M168.0 320.1h1.25M146.6 330.7h1.25M156.5 332.7h1.25M137.2 323.7h1.25M164.5 323.5h1.25M144.6 319.3h1.25M136.2 323.7h1.25M156.3 307.9h1.25M169.7 324.3h1.25M139.5 322.2h1.25M144.5 310.6h1.25M148.5 343.1h1.25M144.0 309.5h1.25M161.4 310.6h1.25M147.7 322.9h1.25M148.7 299.1h1.25M163.7 311.4h1.25M148.3 303.5h1.25M162.0 309.5h1.25M145.8 318.5h1.25M143.1 323.4h1.25M135.9 331.8h1.25M178.4 328.6h1.25M153.3 332.7h1.25M159.8 326.3h1.25M156.6 314.9h1.25M158.8 331.9h1.25M157.6 314.7h1.25M178.9 313.3h1.25M145.1 336.4h1.25M139.1 328.4h1.25M145.4 322.3h1.25M141.7 328.0h1.25M165.6 329.4h1.25M166.4 305.2h1.25M145.9 318.9h1.25M141.0 307.2h1.25M152.9 321.2h1.25M173.0 312.7h1.25M163.1 325.5h1.25M144.6 311.1h1.25M169.0 319.7h1.25M144.6 306.8h1.25M153.7 320.3h1.25M139.7 325.8h1.25M145.8 322.7h1.25M172.9 299.1h1.25M166.4 316.3h1.25M152.4 325.4h1.25M147.0 323.2h1.25M135.2 332.4h1.25M152.5 306.0h1.25M156.6 325.5h1.25M156.0 312.9h1.25M155.9 322.0h1.25M144.1 324.3h1.25M156.2 327.3h1.25M156.6 313.7h1.25M171.8 321.9h1.25M178.5 307.3h1.25M155.4 304.7h1.25M148.2 325.9h1.25M156.3 319.3h1.25M150.0 302.4h1.25M148.5 310.7h1.25M156.3 320.1h1.25M145.0 336.7h1.25M164.0 331.2h1.25M155.8 328.5h1.25M159.9 300.6h1.25M154.9 318.8h1.25M148.6 325.0h1.25M146.1 324.1h1.25M154.3 324.4h1.25M150.7 317.4h1.25M159.7 338.8h1.25M156.9 335.8h1.25M141.3 318.9h1.25M157.8 309.3h1.25M149.9 313.9h1.25M153.6 332.8h1.25M158.1 309.7h1.25M158.7 323.0h1.25M155.2 316.1h1.25M152.1 325.4h1.25M152.7 323.3h1.25M145.8 340.9h1.25M153.9 326.2h1.25M150.6 319.8h1.25M158.1 332.0h1.25M143.2 316.9h1.25M159.7 315.9h1.25M155.4 311.0h1.25M151.9 314.6h1.25M163.4 320.3h1.25M137.9 308.5h1.25M162.3 297.1h1.25M159.8 331.3h1.25M160.3 311.4h1.25M161.4 314.0h1.25M149.5 315.8h1.25M154.0 309.3h1.25M164.3 308.3h1.25M162.0 321.6h1.25M139.6 327.8h1.25M163.2 327.9h1.25M170.4 303.6h1.25M168.6 319.6h1.25M159.7 307.1h1.25M139.1 328.2h1.25M167.8 317.4h1.25M155.3 320.3h1.25M161.3 313.6h1.25M139.8 303.4h1.25M142.1 326.1h1.25M149.7 304.9h1.25M171.6 307.1h1.25M152.7 316.6h1.25M160.1 312.2h1.25M177.1 322.7h1.25M175.3 330.8h1.25M155.8 322.6h1.25M154.2 322.0h1.25M142.5 320.1h1.25M149.0 329.1h1.25M161.9 299.9h1.25M161.6 323.8h1.25M158.3 309.8h1.25M168.4 306.5h1.25M148.1 319.9h1.25M156.4 315.7h1.25M165.4 326.2h1.25M163.7 331.8h1.25M169.3 294.7h1.25M161.6 319.1h1.25M153.4 341.0h1.25M161.2 329.2h1.25M145.5 335.5h1.25M138.1 321.0h1.25M163.7 304.4h1.25M156.4 307.7h1.25M160.5 327.5h1.25M137.5 330.2h1.25M152.8 312.0h1.25M150.1 317.0h1.25M147.1 322.7h1.25M153.1 316.1h1.25M167.3 337.3h1.25M161.4 343.5h1.25M150.1 318.7h1.25M156.8 339.6h1.25M165.7 314.2h1.25M155.6 295.7h1.25M163.2 330.2h1.25M164.8 315.8h1.25M170.1 323.4h1.25M160.6 321.9h1.25M160.5 300.4h1.25M166.0 336.1h1.25M150.8 316.0h1.25M156.5 318.1h1.25M167.4 296.0h1.25M179.5 329.9h1.25M155.2 330.6h1.25M156.4 313.3h1.25M159.3 320.9h1.25M172.4 324.1h1.25M156.7 330.3h1.25M173.9 321.0h1.25M145.9 338.5h1.25M154.9 317.3h1.25M154.7 313.3h1.25M166.0 314.8h1.25M169.0 292.5h1.25M139.6 311.2h1.25M146.5 330.8h1.25M160.9 322.8h1.25M149.4 311.1h1.25M139.5 323.7h1.25M168.9 298.1h1.25M162.7 316.8h1.25M162.7 325.6h1.25M151.5 327.4h1.25M168.8 311.5h1.25M154.2 329.8h1.25M146.5 315.3h1.25M147.2 327.9h1.25M159.4 303.1h1.25M148.9 298.7h1.25M164.8 326.5h1.25M160.0 320.4h1.25M146.4 322.1h1.25M157.8 313.6h1.25M153.0 316.8h1.25M167.5 328.7h1.25M149.7 338.5h1.25M151.9 317.6h1.25M170.9 302.1h1.25M182.7 333.7h1.25M180.0 326.4h1.25M157.7 327.3h1.25M159.5 321.9h1.25M155.6 320.8h1.25M145.8 325.5h1.25M158.3 299.9h1.25M162.2 313.7h1.25M147.5 312.5h1.25M138.1 319.6h1.25M140.5 323.7h1.25M164.7 311.8h1.25M148.3 338.6h1.25M155.4 308.4h1.25M159.4 315.1h1.25M164.1 322.5h1.25M153.1 306.4h1.25M162.7 326.1h1.25M146.8 326.8h1.25M152.8 316.8h1.25M145.2 340.6h1.25M170.0 320.8h1.25M156.7 323.0h1.25M148.5 309.6h1.25M152.9 301.9h1.25M154.5 313.1h1.25M165.1 316.5h1.25M138.7 315.0h1.25M145.1 328.3h1.25M152.7 294.2h1.25M186.1 307.7h1.25M168.0 300.2h1.25M155.7 334.4h1.25M165.2 313.8h1.25M180.7 314.4h1.25M154.3 308.0h1.25M152.8 329.7h1.25M170.9 315.5h1.25M162.7 322.3h1.25M164.7 298.0h1.25M151.2 332.6h1.25M179.1 324.2h1.25M176.7 325.9h1.25M163.5 333.3h1.25M164.9 317.9h1.25M133.7 318.2h1.25M164.3 327.7h1.25M154.8 324.6h1.25M162.0 317.3h1.25M164.8 320.4h1.25M153.1 314.5h1.25M137.6 327.7h1.25M161.2 330.1h1.25M148.5 320.0h1.25M153.2 340.3h1.25M150.0 303.3h1.25M153.1 317.4h1.25M130.4 338.5h1.25M171.0 315.4h1.25M159.9 302.7h1.25M169.8 335.1h1.25M179.8 325.9h1.25M157.3 307.1h1.25M136.3 328.4h1.25M146.7 308.9h1.25M143.1 305.5h1.25M151.2 318.3h1.25M157.9 314.8h1.25M134.0 308.1h1.25M160.9 316.0h1.25M139.6 309.1h1.25M160.4 320.6h1.25M155.7 319.7h1.25M153.4 328.1h1.25M156.2 315.1h1.25M150.8 305.6h1.25M150.0 305.7h1.25M137.6 317.3h1.25M156.7 336.6h1.25M178.2 329.2h1.25M179.8 313.0h1.25M172.2 330.2h1.25M165.1 307.4h1.25M149.2 331.0h1.25M173.6 315.8h1.25M156.4 328.3h1.25M156.2 326.7h1.25M153.7 317.0h1.25M158.1 323.5h1.25M152.0 308.4h1.25M156.0 319.2h1.25M144.5 331.7h1.25M183.2 327.6h1.25M156.2 320.9h1.25M154.3 309.0h1.25M163.1 331.5h1.25M165.1 302.1h1.25M144.2 311.3h1.25M154.6 323.9h1.25M167.6 306.9h1.25M160.1 336.7h1.25M158.4 331.8h1.25M174.9 313.8h1.25M149.2 314.0h1.25M158.0 305.7h1.25M151.0 304.8h1.25M174.1 324.8h1.25M134.6 326.8h1.25M149.3 323.8h1.25M150.9 322.9h1.25M164.6 313.9h1.25M164.0 323.9h1.25M173.0 304.1h1.25M138.9 320.1h1.25M165.6 336.0h1.25M153.6 334.3h1.25M149.3 315.0h1.25M163.2 316.4h1.25M146.4 334.9h1.25M133.1 339.4h1.25M152.7 303.8h1.25M139.8 315.4h1.25M149.5 322.5h1.25M161.3 333.2h1.25M160.6 310.9h1.25M175.2 327.0h1.25M154.7 316.7h1.25M139.4 345.8h1.25M148.3 324.7h1.25M146.4 318.5h1.25M143.0 316.4h1.25M162.0 331.5h1.25M149.6 327.4h1.25M134.3 308.3h1.25M165.0 322.4h1.25M155.7 305.5h1.25M161.1 311.8h1.25M158.2 306.0h1.25M164.3 305.6h1.25M157.4 312.6h1.25M171.2 309.4h1.25M161.9 325.7h1.25M161.5 328.7h1.25M161.7 317.4h1.25M140.2 307.9h1.25M155.1 328.7h1.25M154.0 298.1h1.25M159.4 299.1h1.25M141.4 327.9h1.25M175.8 327.1h1.25M158.2 330.6h1.25M143.1 317.7h1.25M137.3 306.3h1.25M153.8 314.5h1.25M156.0 326.2h1.25M148.7 311.7h1.25M158.1 312.4h1.25M149.6 304.9h1.25M163.3 307.4h1.25M148.7 329.2h1.25M156.6 324.9h1.25M168.3 307.4h1.25M186.6 308.3h1.25M145.4 313.9h1.25M151.7 326.0h1.25M147.3 307.3h1.25M166.0 318.2h1.25M143.8 296.8h1.25M151.4 306.4h1.25M156.7 324.6h1.25M145.7 329.8h1.25M146.0 307.5h1.25M151.5 311.6h1.25M140.4 315.8h1.25M152.3 314.1h1.25M158.7 325.6h1.25M154.9 322.1h1.25M136.6 332.1h1.25M151.7 328.6h1.25M166.2 313.8h1.25M163.4 318.7h1.25M156.1 319.4h1.25M146.8 305.3h1.25M164.3 309.5h1.25M150.3 330.6h1.25M143.6 302.8h1.25M147.8 330.8h1.25M173.7 323.1h1.25M159.5 318.5h1.25M170.3 325.9h1.25M151.5 325.2h1.25M167.8 333.1h1.25M150.1 315.7h1.25M155.2 317.6h1.25M185.6 317.4h1.25M165.8 340.4h1.25M151.2 330.3h1.25M156.0 310.0h1.25M160.8 316.4h1.25M170.9 312.4h1.25M151.4 320.2h1.25M137.0 322.4h1.25M157.2 300.3h1.25M158.3 331.2h1.25M172.1 324.8h1.25M160.6 312.5h1.25M166.3 318.4h1.25M144.3 314.7h1.25M167.0 320.6h1.25M181.1 331.0h1.25M165.9 303.6h1.25M159.9 334.3h1.25M158.8 316.0h1.25M177.6 336.4h1.25M146.3 324.5h1.25M155.7 333.4h1.25M162.3 326.2h1.25M165.6 331.9h1.25M152.0 320.7h1.25M160.5 311.1h1.25M153.8 327.4h1.25M158.4 327.8h1.25M155.5 342.8h1.25M143.9 298.4h1.25M156.8 318.0h1.25M167.1 331.6h1.25M145.9 306.6h1.25M154.2 317.7h1.25M144.7 335.5h1.25M159.1 310.6h1.25M144.8 335.6h1.25M170.0 333.0h1.25M183.6 328.6h1.25M180.3 324.3h1.25M154.5 322.7h1.25M165.5 310.7h1.25M158.4 314.6h1.25M158.2 328.1h1.25M174.8 321.7h1.25M169.1 316.6h1.25M156.4 294.2h1.25M173.2 316.6h1.25M159.2 323.2h1.25M149.3 324.3h1.25M160.2 320.9h1.25M165.5 311.3h1.25M157.4 336.4h1.25M162.6 313.0h1.25M151.0 327.9h1.25M167.4 307.2h1.25M165.0 335.5h1.25M158.7 293.1h1.25M157.8 311.0h1.25M168.9 324.9h1.25M151.7 316.4h1.25M148.9 328.3h1.25M154.8 319.1h1.25M170.7 315.3h1.25M170.7 317.9h1.25M149.6 318.5h1.25M144.3 308.5h1.25M171.5 312.2h1.25M155.9 327.3h1.25M142.0 326.3h1.25M152.9 320.3h1.25M167.7 312.7h1.25M170.7 327.7h1.25M152.1 301.9h1.25M161.7 316.6h1.25M165.2 317.6h1.25M149.6 311.1h1.25M161.1 321.9h1.25M156.6 313.1h1.25M150.8 311.6h1.25M157.8 328.3h1.25M157.3 333.3h1.25M150.5 320.9h1.25M152.1 330.8h1.25M169.8 328.8h1.25M159.5 333.5h1.25M170.8 317.9h1.25M163.8 323.2h1.25M183.1 319.8h1.25M147.5 282.4h1.25M166.3 305.3h1.25M153.3 320.6h1.25M178.3 327.2h1.25M176.6 314.2h1.25M134.5 332.7h1.25M145.9 334.3h1.25M164.6 316.0h1.25M166.1 335.8h1.25M165.5 339.4h1.25M156.2 325.5h1.25M162.2 309.8h1.25M164.5 336.3h1.25M156.1 318.7h1.25M168.8 316.4h1.25M164.3 314.7h1.25M145.1 332.1h1.25M168.0 328.9h1.25M154.4 333.7h1.25M146.8 326.8h1.25M161.3 311.9h1.25M146.5 318.8h1.25M146.5 330.0h1.25M139.0 316.1h1.25M162.7 317.9h1.25M168.8 314.2h1.25M155.4 332.9h1.25M169.1 328.6h1.25M157.2 320.2h1.25M155.9 318.0h1.25M163.6 325.1h1.25M169.2 329.5h1.25M153.1 328.7h1.25M154.2 317.2h1.25M155.2 325.2h1.25M158.0 329.6h1.25M146.6 328.8h1.25M168.8 287.2h1.25M152.4 310.9h1.25M162.3 312.1h1.25M147.5 318.0h1.25M161.1 322.4h1.25M161.5 330.5h1.25M152.2 327.2h1.25M180.2 319.1h1.25M161.3 320.7h1.25M177.4 339.5h1.25M168.0 313.9h1.25M149.4 323.8h1.25M152.6 337.4h1.25M162.0 324.2h1.25M157.7 298.4h1.25M157.6 324.5h1.25M153.7 316.3h1.25M136.2 319.3h1.25M154.4 331.9h1.25M161.3 317.6h1.25M148.7 330.1h1.25M148.8 325.2h1.25M154.5 321.6h1.25M160.1 323.8h1.25M140.5 323.2h1.25M136.9 316.8h1.25M144.7 315.5h1.25M133.5 320.8h1.25M145.9 310.2h1.25M175.3 306.9h1.25M144.8 334.5h1.25M164.5 317.9h1.25M141.2 320.2h1.25M160.4 319.0h1.25M153.3 320.8h1.25M156.3 320.7h1.25M163.5 321.2h1.25M177.2 311.8h1.25M159.2 330.6h1.25M158.4 313.0h1.25M145.8 331.7h1.25M163.7 299.8h1.25M154.2 309.0h1.25M166.6 331.2h1.25M156.5 318.9h1.25M177.0 313.3h1.25M134.2 324.6h1.25M153.6 309.2h1.25M167.1 321.3h1.25M153.0 296.6h1.25M147.9 315.6h1.25M153.9 313.5h1.25M141.1 326.3h1.25M158.4 330.0h1.25M185.1 311.3h1.25M170.2 337.9h1.25M144.2 314.1h1.25M147.0 298.3h1.25M152.3 294.8h1.25M168.6 337.1h1.25M147.6 319.6h1.25M149.1 313.5h1.25M167.2 312.4h1.25M166.9 308.7h1.25M152.7 335.1h1.25M144.1 319.6h1.25M149.0 318.4h1.25M165.6 329.6h1.25M149.8 316.5h1.25M162.5 317.9h1.25M178.5 337.4h1.25M170.5 317.7h1.25M143.8 333.0h1.25M167.0 320.4h1.25M170.3 312.4h1.25M148.4 326.0h1.25M146.0 314.0h1.25M155.7 333.8h1.25M138.6 330.9h1.25M173.9 321.2h1.25M144.3 326.6h1.25M153.9 317.5h1.25M154.4 330.2h1.25M158.9 318.0h1.25M160.1 327.2h1.25M154.5 310.2h1.25M170.1 321.6h1.25M132.4 325.0h1.25M157.0 312.0h1.25M148.8 316.0h1.25M158.5 314.8h1.25M159.5 328.4h1.25M146.5 312.8h1.25M149.6 325.3h1.25M166.1 337.0h1.25M161.0 324.4h1.25M149.2 303.1h1.25M180.5 321.9h1.25M183.6 331.8h1.25M140.2 317.5h1.25M160.5 332.5h1.25M185.9 327.2h1.25M166.0 325.1h1.25M159.5 317.8h1.25M154.6 315.1h1.25M150.8 317.8h1.25M154.6 321.3h1.25M150.7 326.2h1.25M165.6 325.1h1.25M152.4 317.4h1.25M151.9 321.3h1.25M143.2 324.8h1.25M156.4 303.1h1.25M146.7 312.3h1.25M154.9 312.0h1.25M169.0 318.4h1.25M161.2 317.7h1.25M162.8 317.9h1.25M161.1 311.2h1.25M157.7 327.9h1.25M155.5 323.6h1.25M153.5 302.9h1.25M165.7 320.8h1.25M144.5 308.5h1.25M172.4 339.0h1.25M157.4 315.7h1.25M148.4 316.4h1.25M151.4 321.6h1.25M149.2 318.5h1.25M158.8 320.0h1.25M148.7 337.4h1.25M170.1 323.1h1.25M148.0 329.7h1.25M130.9 332.9h1.25M148.6 310.2h1.25M133.9 338.9h1.25M156.5 328.1h1.25M169.2 331.0h1.25M164.4 311.4h1.25M141.6 329.5h1.25M148.2 325.2h1.25M177.5 314.9h1.25M157.0 326.8h1.25M169.1 318.1h1.25M185.2 322.8h1.25M171.9 330.5h1.25M158.6 332.9h1.25M161.1 327.0h1.25M164.1 333.9h1.25M150.0 336.6h1.25M144.8 307.4h1.25M157.6 315.5h1.25M146.1 310.6h1.25M156.3 321.8h1.25M158.1 336.3h1.25M183.9 327.8h1.25M147.2 309.4h1.25M155.6 317.5h1.25M155.1 331.8h1.25M162.0 315.0h1.25M169.0 319.7h1.25M151.4 324.0h1.25M147.6 301.0h1.25M138.1 329.1h1.25M146.3 324.4h1.25M163.2 326.9h1.25M157.5 310.1h1.25M145.3 312.4h1.25M152.7 314.3h1.25M157.4 323.4h1.25M162.8 321.5h1.25M150.2 322.1h1.25M136.1 334.8h1.25M143.8 313.0h1.25M175.6 313.7h1.25M153.1 317.3h1.25M159.5 335.6h1.25M152.7 338.0h1.25M147.7 314.9h1.25M156.3 317.8h1.25M156.9 321.6h1.25M156.1 311.4h1.25M135.4 310.2h1.25M155.3 316.4h1.25M147.2 329.9h1.25M150.7 315.9h1.25M159.6 318.5h1.25M164.4 315.7h1.25M167.3 306.0h1.25M151.3 336.7h1.25M167.6 295.4h1.25M170.5 313.7h1.25M170.1 326.8h1.25M173.0 305.6h1.25M155.3 327.2h1.25M155.0 334.2h1.25M166.5 311.4h1.25M141.3 323.0h1.25M159.4 308.7h1.25M150.9 326.2h1.25M152.8 321.7h1.25M137.0 323.0h1.25M146.8 335.5h1.25M156.8 325.8h1.25M167.2 335.2h1.25M168.4 327.6h1.25M156.1 307.8h1.25M154.8 323.5h1.25M147.4 326.0h1.25M161.6 305.1h1.25M154.2 335.1h1.25M164.0 321.4h1.25M177.1 324.7h1.25M156.6 311.0h1.25M139.8 321.5h1.25M147.1 323.9h1.25M140.2 317.2h1.25M143.2 321.6h1.25M172.0 297.8h1.25M159.6 335.4h1.25M139.5 308.7h1.25M164.5 297.1h1.25M171.5 310.3h1.25M152.9 311.7h1.25M149.2 326.6h1.25M153.1 310.8h1.25M160.3 323.8h1.25M164.4 310.3h1.25M170.9 326.6h1.25M172.7 309.7h1.25M164.6 327.9h1.25M139.4 310.4h1.25M155.5 326.9h1.25M160.6 328.0h1.25M152.6 303.5h1.25M167.5 308.4h1.25M152.9 308.1h1.25M146.4 304.4h1.25M173.6 312.8h1.25M164.7 310.3h1.25M159.5 305.1h1.25M167.7 321.7h1.25M169.2 326.6h1.25M160.9 306.5h1.25M128.7 314.6h1.25M149.2 320.7h1.25M151.7 318.1h1.25M145.7 313.1h1.25M159.3 329.4h1.25M170.7 329.8h1.25M151.4 328.0h1.25M143.9 318.4h1.25M151.8 339.4h1.25M142.8 316.3h1.25M159.7 319.3h1.25M161.9 333.5h1.25M148.9 312.0h1.25M166.1 324.9h1.25M151.4 321.1h1.25M146.4 313.0h1.25M159.1 318.1h1.25M165.9 303.6h1.25M149.7 314.7h1.25M160.8 299.1h1.25M155.9 345.2h1.25M189.5 336.9h1.25M148.9 333.9h1.25M172.9 323.9h1.25M156.4 331.4h1.25M155.5 334.3h1.25M165.3 331.6h1.25M167.3 330.5h1.25M171.6 310.7h1.25M160.8 325.2h1.25M150.1 314.8h1.25M150.8 307.8h1.25M162.9 308.2h1.25M163.7 325.2h1.25M173.1 331.9h1.25M161.8 305.8h1.25M169.2 339.4h1.25M174.4 336.4h1.25M158.9 316.4h1.25M139.9 315.5h1.25M143.4 319.8h1.25M140.5 331.1h1.25M175.3 316.4h1.25M147.3 308.6h1.25M171.2 324.2h1.25M163.7 298.2h1.25M176.7 322.0h1.25M168.5 333.0h1.25M155.8 323.8h1.25M154.7 328.9h1.25M158.0 325.8h1.25M159.0 328.4h1.25M150.9 322.1h1.25M156.6 311.5h1.25M175.5 318.1h1.25M137.4 319.7h1.25M160.0 334.1h1.25M146.6 338.1h1.25M159.2 325.0h1.25M166.7 312.4h1.25M156.3 312.6h1.25M165.9 318.5h1.25M138.7 335.5h1.25M169.7 324.1h1.25M150.1 319.9h1.25M164.2 312.2h1.25M159.1 330.0h1.25M148.3 320.0h1.25M159.5 321.6h1.25M174.9 338.7h1.25M160.3 318.8h1.25M160.0 338.7h1.25M140.8 333.9h1.25M173.5 321.1h1.25M177.8 330.0h1.25M157.3 319.2h1.25M154.5 311.6h1.25M138.4 317.6h1.25M167.2 310.7h1.25M188.1 326.0h1.25M165.2 320.7h1.25M171.5 326.6h1.25M163.2 329.4h1.25M145.7 286.8h1.25M172.4 323.9h1.25M142.8 301.0h1.25M154.6 322.3h1.25M160.2 311.0h1.25M167.2 321.6h1.25M161.8 335.2h1.25M161.4 302.1h1.25M148.2 322.6h1.25M142.2 319.7h1.25M157.7 300.1h1.25M148.8 327.5h1.25M142.0 320.9h1.25M142.4 315.0h1.25M151.4 312.7h1.25M141.5 316.2h1.25M138.2 301.1h1.25M159.1 310.4h1.25M161.7 316.5h1.25M180.1 316.3h1.25M139.8 319.6h1.25M149.2 309.2h1.25M167.5 326.3h1.25M154.5 315.3h1.25M153.2 305.8h1.25M176.7 311.7h1.25M153.1 316.3h1.25M143.7 329.7h1.25M141.9 325.7h1.25M160.9 316.8h1.25M160.5 320.7h1.25M141.2 322.8h1.25M163.1 313.8h1.25M163.6 325.5h1.25M149.6 328.3h1.25M164.2 310.2h1.25M163.6 322.5h1.25M136.5 322.3h1.25M153.4 315.4h1.25M161.8 326.6h1.25M150.4 331.6h1.25M153.7 318.4h1.25M165.6 322.6h1.25M131.8 308.6h1.25M187.1 322.9h1.25M144.0 330.1h1.25M168.0 322.1h1.25M171.2 327.6h1.25M168.3 322.4h1.25M158.7 328.6h1.25M143.6 334.4h1.25M164.2 318.1h1.25M148.8 322.6h1.25M189.5 316.1h1.25M165.1 320.3h1.25M177.9 308.3h1.25M146.5 328.5h1.25M173.9 338.9h1.25M175.3 338.9h1.25M174.9 334.3h1.25M156.8 310.1h1.25M143.2 336.9h1.25M155.0 312.8h1.25M137.4 340.4h1.25M158.1 308.9h1.25M145.6 329.6h1.25M155.1 323.5h1.25M155.7 318.9h1.25M179.2 311.0h1.25M171.9 325.1h1.25M156.5 315.5h1.25M170.9 331.8h1.25M148.0 333.7h1.25M153.1 305.6h1.25M167.5 315.0h1.25M142.7 317.1h1.25M153.8 307.7h1.25M141.8 308.4h1.25M158.4 321.5h1.25M175.8 318.3h1.25M148.4 302.7h1.25M159.6 314.7h1.25M146.7 326.1h1.25M143.8 307.5h1.25M142.8 310.5h1.25M173.7 337.6h1.25M184.2 334.7h1.25M162.6 303.0h1.25M148.8 305.9h1.25M165.1 324.6h1.25M153.2 307.6h1.25M166.2 317.8h1.25M160.3 315.6h1.25M160.2 326.5h1.25M164.0 293.2h1.25M150.3 296.7h1.25M152.3 307.3h1.25M137.2 331.4h1.25M151.9 318.8h1.25M140.6 302.1h1.25M155.3 325.8h1.25M146.0 328.1h1.25M158.2 317.8h1.25M162.2 316.9h1.25M140.7 325.2h1.25M147.6 333.6h1.25M146.2 322.1h1.25M165.6 326.3h1.25M176.6 320.0h1.25M166.8 316.4h1.25M153.0 310.6h1.25M173.8 323.3h1.25M139.6 317.3h1.25M174.2 317.9h1.25M149.5 330.5h1.25M187.5 329.9h1.25M175.1 303.5h1.25M145.1 326.5h1.25M158.9 314.1h1.25M154.5 311.8h1.25M158.2 311.3h1.25M139.9 333.6h1.25M149.2 329.4h1.25M162.4 312.8h1.25M159.6 308.2h1.25M170.8 320.6h1.25M157.9 315.5h1.25M184.0 338.4h1.25M148.8 304.7h1.25M160.0 300.7h1.25M135.0 317.7h1.25M142.6 320.6h1.25M172.3 321.9h1.25M146.2 328.6h1.25M163.1 342.9h1.25M156.3 316.8h1.25M145.0 314.6h1.25M153.0 301.5h1.25M151.1 323.1h1.25M151.4 329.7h1.25M165.7 317.7h1.25M164.5 333.3h1.25M150.4 320.8h1.25M146.6 336.9h1.25M160.2 324.1h1.25M155.8 309.1h1.25M168.8 313.6h1.25M187.5 303.9h1.25M166.7 301.7h1.25M156.6 323.4h1.25M155.0 329.9h1.25M146.6 319.9h1.25M145.5 317.9h1.25M152.5 308.5h1.25M152.1 331.2h1.25M165.6 324.7h1.25M152.4 314.1h1.25M154.7 327.9h1.25M143.0 326.6h1.25M175.9 300.3h1.25M162.8 328.5h1.25M177.6 322.0h1.25M166.2 316.3h1.25M174.1 316.0h1.25M154.1 339.4h1.25M165.2 337.1h1.25M188.1 340.2h1.25M142.9 308.1h1.25M170.5 313.4h1.25M176.5 330.3h1.25M161.8 307.4h1.25M165.8 312.7h1.25M171.7 301.0h1.25M149.3 340.5h1.25M161.8 332.0h1.25M146.8 325.5h1.25M149.1 322.9h1.25M149.7 316.0h1.25M155.3 316.2h1.25M158.7 327.1h1.25M162.3 312.8h1.25M140.3 333.8h1.25M180.3 315.2h1.25M170.6 311.1h1.25M165.6 334.5h1.25M152.8 318.9h1.25M155.9 326.5h1.25M163.5 316.0h1.25M161.8 296.2h1.25M137.2 326.4h1.25M165.7 306.0h1.25M191.4 332.2h1.25M135.2 303.8h1.25M168.7 300.4h1.25M161.4 323.8h1.25M155.7 325.1h1.25M173.2 321.7h1.25M143.0 307.4h1.25M158.9 330.1h1.25M174.3 304.7h1.25M154.7 315.5h1.25M152.1 312.0h1.25M158.4 316.4h1.25M151.7 329.7h1.25M175.3 313.7h1.25M146.3 326.6h1.25M167.3 328.0h1.25M142.2 302.0h1.25M164.9 307.9h1.25M155.8 316.4h1.25M156.9 323.8h1.25M144.4 299.6h1.25M151.7 328.3h1.25M175.2 328.5h1.25M143.8 318.7h1.25M144.5 305.6h1.25M174.0 320.6h1.25M158.4 314.7h1.25M175.2 326.6h1.25M160.8 319.6h1.25M146.6 328.4h1.25M156.2 315.8h1.25M171.5 336.1h1.25M168.1 295.6h1.25M157.0 309.5h1.25M157.6 325.8h1.25M155.7 304.2h1.25M150.2 328.4h1.25M179.8 307.4h1.25M157.1 321.5h1.25M143.6 310.6h1.25M151.4 315.7h1.25M165.6 322.4h1.25M164.6 319.4h1.25M155.4 316.4h1.25M157.3 320.6h1.25M137.2 310.0h1.25M141.6 330.5h1.25M166.4 329.4h1.25M151.3 333.7h1.25M161.4 339.8h1.25M171.4 310.4h1.25M164.7 331.9h1.25M157.2 332.8h1.25M182.2 320.5h1.25M164.9 323.1h1.25M152.8 288.1h1.25M165.7 314.3h1.25M146.9 301.2h1.25M157.9 314.7h1.25M155.0 323.6h1.25M133.8 326.7h1.25M155.0 338.1h1.25M153.7 301.5h1.25M151.8 321.0h1.25M137.6 329.8h1.25M152.8 306.3h1.25M156.5 320.1h1.25M143.6 334.7h1.25M164.5 326.3h1.25M142.6 292.3h1.25M154.4 319.1h1.25M172.4 324.7h1.25M148.8 317.2h1.25M151.0 319.8h1.25M152.5 318.2h1.25M153.5 310.0h1.25M159.6 323.1h1.25M169.4 317.1h1.25M147.2 319.6h1.25M145.1 328.9h1.25M144.2 323.1h1.25M146.9 307.5h1.25M147.1 319.1h1.25M160.6 325.6h1.25M146.5 315.4h1.25M158.4 332.9h1.25M161.7 328.9h1.25M148.4 309.8h1.25M158.5 324.0h1.25M160.8 337.3h1.25M149.5 319.9h1.25M156.2 330.2h1.25M146.2 313.2h1.25M160.2 304.9h1.25M167.1 326.5h1.25M147.4 323.2h1.25M154.5 326.1h1.25M170.1 320.2h1.25M151.2 324.0h1.25M159.2 315.0h1.25M145.0 325.6h1.25M147.4 329.5h1.25M151.0 319.9h1.25M182.0 329.3h1.25M152.3 301.4h1.25M150.9 312.0h1.25M150.5 336.1h1.25M155.1 339.5h1.25M164.5 323.2h1.25M159.2 319.4h1.25M180.7 306.8h1.25M159.5 324.4h1.25M173.6 328.9h1.25M160.2 304.5h1.25M164.0 326.5h1.25M140.4 325.8h1.25M155.5 325.3h1.25M156.2 308.3h1.25M154.2 326.4h1.25M167.1 336.6h1.25M152.5 322.0h1.25M152.0 307.9h1.25M154.1 335.0h1.25M154.4 333.0h1.25M161.7 313.5h1.25M146.3 309.7h1.25M160.3 323.9h1.25M158.7 333.3h1.25M152.7 296.0h1.25M150.4 331.3h1.25M147.4 319.8h1.25M156.3 320.3h1.25M170.6 308.9h1.25M144.8 324.1h1.25M174.5 308.5h1.25M166.7 310.0h1.25M151.8 315.7h1.25M166.0 307.2h1.25M140.1 337.5h1.25M137.1 306.1h1.25M142.2 312.3h1.25M152.3 317.1h1.25M153.3 320.5h1.25M151.1 329.1h1.25M158.1 329.3h1.25M162.7 316.4h1.25M140.7 320.9h1.25M149.4 329.4h1.25M152.3 328.0h1.25M143.7 314.9h1.25M141.2 298.3h1.25M156.9 330.8h1.25M163.8 323.3h1.25M163.5 324.2h1.25M145.6 314.9h1.25M147.9 309.7h1.25M146.4 316.9h1.25M162.2 318.1h1.25M133.6 313.7h1.25M171.2 304.8h1.25M151.4 317.1h1.25M148.0 326.7h1.25M160.9 315.2h1.25M168.9 320.7h1.25M160.9 298.1h1.25M169.1 318.3h1.25M158.5 319.2h1.25M171.1 307.3h1.25M171.3 301.8h1.25M155.9 324.9h1.25M173.6 311.8h1.25M158.9 325.8h1.25M158.0 316.0h1.25M146.4 327.2h1.25M153.7 316.8h1.25M165.9 304.2h1.25M141.9 319.6h1.25M164.5 317.0h1.25M161.0 327.6h1.25M160.2 315.6h1.25M155.8 329.8h1.25M164.5 333.1h1.25M148.2 328.7h1.25M158.0 331.7h1.25M164.7 328.8h1.25M149.4 330.0h1.25M167.0 324.9h1.25M135.8 321.2h1.25M165.0 322.0h1.25M154.3 346.5h1.25M166.3 320.6h1.25M146.4 317.9h1.25M149.9 316.6h1.25M182.8 320.1h1.25M147.5 323.1h1.25M148.9 308.3h1.25M153.8 299.1h1.25M145.2 323.7h1.25M170.7 303.2h1.25M176.8 323.3h1.25M148.9 322.0h1.25M137.2 333.0h1.25M170.5 338.5h1.25M169.7 324.5h1.25M166.4 314.5h1.25M170.3 307.8h1.25M147.0 311.9h1.25M155.1 320.9h1.25M141.1 298.2h1.25M140.7 321.3h1.25M168.3 320.4h1.25M149.3 327.5h1.25M183.2 316.9h1.25M157.9 321.6h1.25M149.6 312.5h1.25M166.2 315.5h1.25M177.7 301.3h1.25M162.6 321.8h1.25M143.0 337.2h1.25M161.3 322.3h1.25M172.8 324.5h1.25M151.3 309.9h1.25M148.1 336.0h1.25M168.7 312.2h1.25M158.6 329.2h1.25M144.3 321.7h1.25M152.6 310.1h1.25M148.3 331.6h1.25M160.4 320.7h1.25M158.3 322.4h1.25M170.2 325.4h1.25M165.2 320.3h1.25M139.0 316.4h1.25M161.7 325.5h1.25M167.3 316.1h1.25M162.2 321.2h1.25M168.8 313.3h1.25M150.7 304.4h1.25M146.1 313.2h1.25M167.7 315.2h1.25M144.7 320.7h1.25M168.8 302.3h1.25M148.7 321.9h1.25M153.5 296.6h1.25M140.9 309.2h1.25M141.8 315.0h1.25M143.7 296.2h1.25M152.9 300.4h1.25M161.3 322.2h1.25M130.6 321.3h1.25M165.6 319.3h1.25M143.4 311.8h1.25M144.7 343.8h1.25M164.8 318.8h1.25M156.1 311.2h1.25M139.3 338.6h1.25M178.2 327.1h1.25M147.1 316.5h1.25M159.8 333.4h1.25M159.3 322.2h1.25M173.2 327.4h1.25M151.8 323.0h1.25M168.6 309.4h1.25M148.5 331.0h1.25M169.9 322.2h1.25M148.2 309.6h1.25M152.8 312.3h1.25M178.8 330.8h1.25M160.6 316.5h1.25M158.3 321.0h1.25M182.8 327.6h1.25M161.2 321.9h1.25M147.6 304.0h1.25M165.4 327.4h1.25M143.4 330.6h1.25M170.0 329.9h1.25M170.9 338.0h1.25M150.4 324.4h1.25M149.8 328.9h1.25M159.0 337.7h1.25M157.2 317.4h1.25M145.8 339.3h1.25M163.5 339.2h1.25M133.5 329.0h1.25M152.0 340.4h1.25M152.4 329.7h1.25M153.9 311.0h1.25M160.5 332.8h1.25M142.9 324.0h1.25M163.8 325.0h1.25M154.9 322.2h1.25M149.5 335.2h1.25M141.3 326.5h1.25M143.4 313.0h1.25M161.1 325.7h1.25M145.9 328.4h1.25M157.7 312.7h1.25M169.2 315.8h1.25M168.9 316.4h1.25M174.9 313.9h1.25M153.6 324.3h1.25M144.5 331.5h1.25M168.7 340.9h1.25M160.6 333.4h1.25M169.9 331.5h1.25M157.1 332.8h1.25M170.7 334.9h1.25M166.7 316.4h1.25M165.2 328.0h1.25M162.8 324.0h1.25M161.6 319.1h1.25M159.7 315.6h1.25M159.6 315.0h1.25M168.4 317.6h1.25M151.1 307.2h1.25M177.0 326.1h1.25M155.8 320.3h1.25M168.3 321.6h1.25M156.0 324.2h1.25M154.2 328.3h1.25M180.4 314.1h1.25M153.4 319.4h1.25M142.3 303.1h1.25M148.8 296.5h1.25M153.4 299.5h1.25M181.8 337.1h1.25M159.4 300.8h1.25M167.7 325.6h1.25M145.5 336.5h1.25M161.1 315.6h1.25M164.7 338.1h1.25M149.0 330.7h1.25M160.5 327.2h1.25M145.3 312.6h1.25M156.8 326.2h1.25M154.0 315.7h1.25M130.3 306.5h1.25M163.9 306.8h1.25M152.0 314.7h1.25M141.6 320.3h1.25M174.0 313.4h1.25M160.1 322.1h1.25M168.7 318.0h1.25M173.2 316.2h1.25M151.0 307.5h1.25M166.3 305.4h1.25M154.2 312.6h1.25M156.3 323.8h1.25M157.0 332.0h1.25M169.8 340.3h1.25M158.4 325.9h1.25M155.2 319.7h1.25M153.8 306.4h1.25M160.9 320.7h1.25M146.7 297.5h1.25M151.2 317.4h1.25M156.4 338.3h1.25M150.5 324.2h1.25M155.6 332.9h1.25M150.0 316.6h1.25M180.0 305.8h1.25M172.3 315.5h1.25M162.2 316.4h1.25M156.4 333.7h1.25M160.7 312.7h1.25M156.0 316.9h1.25M160.5 319.2h1.25M160.5 317.0h1.25M173.2 307.3h1.25M156.8 321.8h1.25M181.1 324.7h1.25M146.9 324.9h1.25M165.0 307.7h1.25M145.5 319.5h1.25M177.9 302.0h1.25M153.2 330.6h1.25M156.3 309.8h1.25M167.6 317.8h1.25M171.4 315.9h1.25M144.2 314.5h1.25M153.0 309.4h1.25M141.0 301.7h1.25M158.6 339.5h1.25M155.8 323.6h1.25M153.0 323.7h1.25M152.6 319.7h1.25M148.4 326.8h1.25M163.1 321.1h1.25M174.4 333.6h1.25M134.8 326.2h1.25M155.7 324.2h1.25M152.2 318.1h1.25M162.7 323.9h1.25M146.1 333.4h1.25M155.3 298.4h1.25M145.0 319.4h1.25M165.0 316.3h1.25M158.1 317.6h1.25M155.1 299.5h1.25M161.3 328.7h1.25M154.2 311.7h1.25M139.1 318.4h1.25M163.9 315.4h1.25M160.3 302.8h1.25M155.2 316.0h1.25M168.3 301.0h1.25M171.0 310.7h1.25M144.4 317.4h1.25M148.0 320.8h1.25M174.8 321.5h1.25M173.3 319.4h1.25M148.5 343.9h1.25M143.4 325.6h1.25M149.7 307.7h1.25M151.3 314.2h1.25M138.8 313.8h1.25M157.4 318.9h1.25M142.3 314.3h1.25M143.1 311.6h1.25M167.5 338.7h1.25M149.1 321.3h1.25M156.2 317.2h1.25M164.2 318.1h1.25M166.4 318.5h1.25M153.1 335.9h1.25M157.5 326.0h1.25M147.5 333.0h1.25M177.1 287.2h1.25M164.5 324.4h1.25M144.3 332.3h1.25M165.2 321.2h1.25M162.5 302.3h1.25M178.0 327.2h1.25M172.8 314.4h1.25M150.8 301.5h1.25M156.0 314.2h1.25M142.3 332.3h1.25M159.9 333.9h1.25M158.7 328.7h1.25M188.1 309.6h1.25M149.3 320.1h1.25M158.3 305.3h1.25M142.6 335.1h1.25M147.0 325.7h1.25M152.8 330.5h1.25M160.9 321.9h1.25M155.1 320.2h1.25M146.8 322.8h1.25M166.1 300.5h1.25M150.8 331.7h1.25M151.3 330.8h1.25M141.1 316.7h1.25M148.0 320.8h1.25M164.5 324.2h1.25M138.4 337.9h1.25M156.2 325.6h1.25M165.3 321.4h1.25M152.7 315.4h1.25M159.8 304.7h1.25M144.2 314.5h1.25M172.1 321.7h1.25M169.7 318.2h1.25M159.7 321.8h1.25M136.8 329.0h1.25M145.0 325.7h1.25M168.2 323.9h1.25M176.7 328.1h1.25M160.4 323.0h1.25M171.3 320.7h1.25M150.0 326.1h1.25M154.8 302.3h1.25M157.0 334.5h1.25M161.9 307.1h1.25M139.4 330.0h1.25M167.8 321.1h1.25M172.2 333.0h1.25M143.8 321.4h1.25M141.4 310.8h1.25M161.0 332.6h1.25M149.5 323.0h1.25M166.3 321.9h1.25M158.8 331.8h1.25M151.5 329.9h1.25M181.3 323.5h1.25M158.6 304.3h1.25M148.3 316.7h1.25M158.2 322.2h1.25M148.2 325.2h1.25M161.4 320.1h1.25M150.6 334.0h1.25M151.8 319.9h1.25M176.2 320.8h1.25M166.9 322.8h1.25M166.2 304.9h1.25M163.1 331.4h1.25M162.6 325.7h1.25M173.8 318.0h1.25M156.8 308.8h1.25M178.3 323.4h1.25M146.1 336.2h1.25M154.1 314.2h1.25M141.1 309.6h1.25M153.0 325.6h1.25M163.0 303.9h1.25M173.7 297.1h1.25M149.4 316.3h1.25M157.1 313.7h1.25M152.9 318.1h1.25M148.5 315.2h1.25M143.3 324.7h1.25M157.7 318.7h1.25M137.1 314.6h1.25M158.3 316.2h1.25M157.2 327.9h1.25M149.4 331.5h1.25M145.4 330.9h1.25M141.1 328.7h1.25M178.5 285.5h1.25M141.6 310.3h1.25M174.9 317.7h1.25M163.9 323.4h1.25M152.8 303.7h1.25M143.7 336.5h1.25M169.0 324.4h1.25M176.9 314.4h1.25M146.3 322.9h1.25M153.6 317.4h1.25M169.1 312.9h1.25M160.9 326.6h1.25M180.0 316.2h1.25M150.4 305.9h1.25M163.2 314.3h1.25M142.6 319.9h1.25M181.1 309.5h1.25M148.6 334.8h1.25M131.6 309.4h1.25M155.4 330.8h1.25M179.0 311.0h1.25M153.1 322.6h1.25M156.9 333.9h1.25M163.8 319.1h1.25M175.2 308.3h1.25M156.3 322.4h1.25M169.0 342.7h1.25M163.0 305.1h1.25M153.6 327.2h1.25M157.9 321.3h1.25M157.3 319.9h1.25M146.5 317.0h1.25M171.0 317.8h1.25M141.1 332.4h1.25M170.5 327.7h1.25M168.0 310.5h1.25M155.9 338.1h1.25M148.2 307.2h1.25M154.4 328.4h1.25M162.4 323.2h1.25M165.5 334.2h1.25M160.3 325.1h1.25M168.4 332.7h1.25M150.6 321.0h1.25M159.7 331.8h1.25M139.0 325.0h1.25M158.8 313.8h1.25M152.2 334.2h1.25M170.4 326.3h1.25M165.0 323.2h1.25M157.5 326.1h1.25M140.3 305.4h1.25M169.3 306.5h1.25M185.6 329.0h1.25M151.0 304.5h1.25M157.9 336.8h1.25M154.1 318.3h1.25M161.0 324.0h1.25M164.4 322.1h1.25M171.8 325.8h1.25M145.6 318.3h1.25M175.1 317.3h1.25M146.3 319.9h1.25M160.2 332.6h1.25M170.3 333.6h1.25M165.2 335.1h1.25M146.2 325.3h1.25M148.9 319.1h1.25M151.7 303.2h1.25M156.4 328.3h1.25M170.2 330.4h1.25M142.1 317.0h1.25M162.4 330.0h1.25M164.0 335.2h1.25M163.4 322.3h1.25M162.4 332.7h1.25M174.5 324.6h1.25M162.6 302.6h1.25M166.9 316.2h1.25M163.5 316.9h1.25M177.6 327.0h1.25M135.2 312.0h1.25M171.7 316.6h1.25M154.0 310.9h1.25M153.8 320.9h1.25M145.9 322.1h1.25M135.5 331.9h1.25M152.6 329.9h1.25M149.1 323.1h1.25M162.7 323.9h1.25M140.1 322.5h1.25M173.5 322.5h1.25M160.1 338.0h1.25M154.1 294.5h1.25M148.8 319.4h1.25M147.9 324.7h1.25M144.0 333.5h1.25M150.7 309.5h1.25M157.1 325.1h1.25M155.0 330.6h1.25M140.7 316.5h1.25M153.9 300.7h1.25M146.7 317.4h1.25M158.8 308.4h1.25M178.4 328.4h1.25M164.2 312.1h1.25M153.4 340.6h1.25M138.3 322.9h1.25M140.7 312.6h1.25M137.6 315.9h1.25M165.3 309.5h1.25M148.2 325.5h1.25M157.7 337.4h1.25M149.8 319.0h1.25M158.0 331.3h1.25M173.1 311.2h1.25M149.1 324.7h1.25M147.7 306.2h1.25M167.1 334.6h1.25M145.2 334.0h1.25M144.0 301.0h1.25M141.0 305.8h1.25M140.8 310.8h1.25M162.4 331.8h1.25M186.5 316.7h1.25M145.6 319.5h1.25M167.9 329.0h1.25M159.9 322.6h1.25M144.3 323.8h1.25M153.8 317.9h1.25M154.3 333.5h1.25M149.1 312.9h1.25M179.2 339.4h1.25M135.1 317.7h1.25M161.4 312.7h1.25M160.8 328.3h1.25M150.3 326.2h1.25M158.7 299.9h1.25M167.1 323.7h1.25M158.8 306.7h1.25M161.8 312.4h1.25M165.0 329.8h1.25M133.6 312.0h1.25M174.0 325.1h1.25M183.2 317.2h1.25M168.7 320.3h1.25M140.8 308.6h1.25M155.6 309.4h1.25M147.7 311.5h1.25M150.2 322.6h1.25M168.1 321.2h1.25M147.8 331.7h1.25M155.5 323.1h1.25M135.1 322.6h1.25M155.2 324.7h1.25M158.0 319.8h1.25M148.9 324.4h1.25M148.7 329.7h1.25M178.7 329.7h1.25M143.1 315.3h1.25M144.9 302.1h1.25M147.7 312.5h1.25M170.8 324.2h1.25M181.2 294.3h1.25M160.8 316.1h1.25M148.8 326.0h1.25M152.1 315.1h1.25M169.2 309.1h1.25M146.5 340.1h1.25M173.7 336.1h1.25M173.3 318.4h1.25M157.8 335.4h1.25M164.4 335.2h1.25M165.6 309.0h1.25M144.9 311.0h1.25M170.6 318.3h1.25M152.7 309.3h1.25M148.2 322.0h1.25M158.2 306.9h1.25M154.5 321.0h1.25M145.6 332.8h1.25M138.6 323.4h1.25M146.2 318.2h1.25M173.7 337.8h1.25M179.6 311.4h1.25M164.5 331.5h1.25M170.6 317.8h1.25M151.1 323.4h1.25M156.1 321.4h1.25M160.3 322.4h1.25M144.6 320.5h1.25M145.6 312.6h1.25M158.1 314.9h1.25M153.3 325.8h1.25M144.8 319.9h1.25M161.4 308.5h1.25M154.0 313.4h1.25M168.7 313.5h1.25M156.9 320.4h1.25M153.5 322.9h1.25M158.5 322.0h1.25M155.0 313.9h1.25M149.3 321.2h1.25M152.4 306.2h1.25M165.6 289.8h1.25M164.4 320.4h1.25M171.8 303.1h1.25M137.5 310.7h1.25M152.5 307.9h1.25M152.2 327.7h1.25M159.0 307.8h1.25M151.8 323.9h1.25M151.1 315.6h1.25M166.0 307.5h1.25M159.0 303.8h1.25M143.6 325.8h1.25M172.3 325.0h1.25M168.5 329.2h1.25M150.4 340.6h1.25M166.6 323.7h1.25M148.5 323.8h1.25M169.9 319.4h1.25M154.5 321.9h1.25M147.8 317.0h1.25M152.7 311.1h1.25M159.2 300.6h1.25M159.0 323.4h1.25M157.4 325.5h1.25M150.6 322.3h1.25M158.1 318.6h1.25M135.2 315.7h1.25M159.8 309.0h1.25M170.0 320.1h1.25M160.1 316.2h1.25M152.5 314.6h1.25M154.9 328.0h1.25M155.5 309.1h1.25M150.7 325.3h1.25M150.3 314.0h1.25M146.4 325.1h1.25M170.7 321.3h1.25M156.8 323.1h1.25M168.0 309.9h1.25M154.1 312.1h1.25M157.8 311.3h1.25M155.0 322.4h1.25M162.3 328.5h1.25M166.5 332.1h1.25M159.8 315.1h1.25M149.3 321.4h1.25M148.0 303.0h1.25M176.1 296.5h1.25M153.8 311.1h1.25M153.7 313.2h1.25M173.8 303.7h1.25M169.5 301.2h1.25M163.1 326.2h1.25M152.4 311.7h1.25M184.1 302.3h1.25M163.3 322.2h1.25M155.0 316.9h1.25M140.7 327.6h1.25M141.7 312.1h1.25M161.7 337.4h1.25M161.5 303.7h1.25M154.2 306.2h1.25M143.5 318.8h1.25M140.4 312.0h1.25M153.2 335.5h1.25M140.3 303.0h1.25M167.3 312.4h1.25M170.3 322.8h1.25M189.5 326.3h1.25M167.1 331.0h1.25M150.2 323.9h1.25M147.0 343.9h1.25M150.2 322.1h1.25M155.0 329.4h1.25M168.1 316.8h1.25M164.0 317.0h1.25M163.8 315.1h1.25M159.5 313.2h1.25M164.6 308.0h1.25M173.6 314.1h1.25M144.8 303.4h1.25M151.7 324.2h1.25M141.0 303.0h1.25M171.9 338.4h1.25M165.7 332.0h1.25M143.2 317.8h1.25M159.0 313.7h1.25M154.3 333.2h1.25M157.9 322.0h1.25M154.8 326.1h1.25M163.0 312.3h1.25M152.5 331.5h1.25M166.8 311.4h1.25M159.8 321.2h1.25M153.6 301.4h1.25M155.7 313.0h1.25M151.9 325.4h1.25M166.4 315.1h1.25M153.9 315.2h1.25M160.4 328.5h1.25M152.5 319.2h1.25M139.9 333.3h1.25M167.4 294.0h1.25M144.8 326.1h1.25M164.8 325.4h1.25M161.8 303.3h1.25M138.0 306.0h1.25M146.1 329.4h1.25M151.1 308.5h1.25M147.6 313.1h1.25M143.4 326.4h1.25M165.5 316.4h1.25M154.2 325.1h1.25M161.4 310.6h1.25M152.0 323.1h1.25M160.5 331.6h1.25M148.4 323.4h1.25M156.7 296.3h1.25M163.7 326.9h1.25M157.5 320.6h1.25M151.7 310.2h1.25M144.5 334.9h1.25M158.9 301.2h1.25M161.0 340.1h1.25M154.0 313.1h1.25M148.2 336.9h1.25M163.2 319.4h1.25M185.5 305.6h1.25M153.5 320.9h1.25M160.9 323.5h1.25M161.3 325.7h1.25M158.4 310.3h1.25M148.9 325.2h1.25M172.9 327.8h1.25M154.1 317.0h1.25M148.1 309.8h1.25M154.5 309.6h1.25M158.9 328.0h1.25M150.6 328.5h1.25M156.4 311.0h1.25M141.4 305.5h1.25M154.4 333.2h1.25M165.9 303.2h1.25M179.6 321.6h1.25M165.1 311.2h1.25M160.1 301.0h1.25M170.6 321.2h1.25M168.7 317.9h1.25M176.1 335.4h1.25M155.6 317.9h1.25M160.0 330.9h1.25M159.1 331.1h1.25M160.5 314.3h1.25M159.3 310.6h1.25M148.0 337.2h1.25M149.3 319.6h1.25M133.7 316.8h1.25M157.8 318.5h1.25M157.1 313.4h1.25M137.7 327.9h1.25M164.9 333.4h1.25M167.0 315.9h1.25M158.1 305.1h1.25M176.2 320.4h1.25M178.5 303.9h1.25M143.1 313.0h1.25M168.9 333.1h1.25M161.8 323.9h1.25M167.7 308.4h1.25M148.7 328.3h1.25M150.2 295.8h1.25M147.5 312.4h1.25M148.3 336.3h1.25M155.9 327.9h1.25M140.3 305.1h1.25M145.0 302.0h1.25M163.6 329.1h1.25M156.2 319.4h1.25M161.4 313.5h1.25M135.3 324.3h1.25M148.0 313.7h1.25M150.6 299.2h1.25M157.4 328.6h1.25M150.3 312.9h1.25M167.7 309.1h1.25M156.3 305.6h1.25M157.2 322.6h1.25M157.2 311.2h1.25M165.1 326.6h1.25M151.6 317.0h1.25M169.9 331.5h1.25M162.3 315.7h1.25M158.8 312.9h1.25M157.5 298.7h1.25M163.0 308.1h1.25M168.7 327.6h1.25M161.3 306.4h1.25M167.1 308.7h1.25M158.4 323.5h1.25M171.4 325.0h1.25M156.7 312.6h1.25M133.1 320.7h1.25M172.4 302.6h1.25M158.2 316.7h1.25M143.5 329.6h1.25M154.7 337.5h1.25M146.8 318.1h1.25M181.2 317.1h1.25M162.7 324.8h1.25M139.0 331.8h1.25M163.3 325.1h1.25M152.4 311.8h1.25M179.0 323.7h1.25M144.9 330.3h1.25M157.8 305.6h1.25M153.0 325.4h1.25M152.2 323.8h1.25M161.9 320.9h1.25M176.2 313.0h1.25M135.0 315.2h1.25M170.5 308.9h1.25M150.5 309.8h1.25M184.0 313.9h1.25M162.0 314.7h1.25M154.8 331.9h1.25M169.7 306.8h1.25M163.0 319.4h1.25M150.2 313.6h1.25M165.2 335.9h1.25M151.1 322.8h1.25M136.4 315.9h1.25M180.4 328.7h1.25M153.0 320.7h1.25M150.0 314.8h1.25M160.9 336.5h1.25M139.1 327.6h1.25M141.4 338.5h1.25M151.3 332.4h1.25M151.0 328.3h1.25M157.8 321.4h1.25M169.9 308.3h1.25M151.5 327.6h1.25M162.7 320.8h1.25M163.9 327.3h1.25M144.5 319.9h1.25M159.6 312.6h1.25M146.2 309.2h1.25M169.2 327.5h1.25M162.2 333.9h1.25M157.2 316.9h1.25M141.6 324.9h1.25M158.3 334.9h1.25M148.2 311.1h1.25M165.1 316.4h1.25M155.6 308.0h1.25M147.7 332.7h1.25M167.6 322.9h1.25M165.3 315.1h1.25M150.2 302.3h1.25M170.4 318.1h1.25M153.6 330.8h1.25M153.4 316.9h1.25M158.4 315.5h1.25M148.3 326.9h1.25M151.9 306.8h1.25M155.2 320.6h1.25M174.6 326.5h1.25M174.2 311.7h1.25M154.0 311.2h1.25M175.5 322.7h1.25M156.5 319.0h1.25M161.4 317.5h1.25M167.2 322.3h1.25M160.4 322.5h1.25M184.8 310.2h1.25M159.8 312.9h1.25M143.2 324.9h1.25M172.0 332.1h1.25M152.3 334.6h1.25M153.5 311.0h1.25M168.5 328.2h1.25M166.4 319.8h1.25M166.2 325.3h1.25M168.3 329.0h1.25M176.4 339.3h1.25M156.5 308.8h1.25M167.8 326.6h1.25M148.4 318.6h1.25M152.9 317.9h1.25M169.2 332.4h1.25M161.5 328.9h1.25M141.7 309.3h1.25M161.2 317.1h1.25M154.9 322.6h1.25M147.6 305.0h1.25M162.0 329.4h1.25M152.3 319.3h1.25M138.9 321.9h1.25M144.2 323.7h1.25M139.6 320.5h1.25M159.6 316.3h1.25M164.0 338.8h1.25M164.4 314.8h1.25M142.9 314.5h1.25M153.3 305.3h1.25M158.6 331.7h1.25M166.2 323.1h1.25M149.6 325.2h1.25M143.6 321.9h1.25M168.5 318.7h1.25M169.7 311.8h1.25M161.3 311.8h1.25M150.0 324.8h1.25M161.7 321.5h1.25M158.3 337.6h1.25M166.6 312.1h1.25M142.6 315.0h1.25M158.3 309.3h1.25M155.2 334.9h1.25M144.2 307.0h1.25M159.5 328.4h1.25M157.4 335.6h1.25M152.3 318.7h1.25M161.6 327.9h1.25M140.7 297.5h1.25M156.4 316.1h1.25M162.0 302.5h1.25M160.3 322.0h1.25M169.4 320.3h1.25M143.2 312.0h1.25M139.7 330.3h1.25M159.7 324.0h1.25M162.2 314.6h1.25M181.4 314.7h1.25M164.1 304.5h1.25M146.9 318.2h1.25M147.3 312.6h1.25M139.9 324.7h1.25M187.0 314.4h1.25M160.7 328.8h1.25M165.2 324.9h1.25M163.5 317.7h1.25M177.8 301.2h1.25M160.3 314.7h1.25M171.0 333.0h1.25M145.2 317.6h1.25M141.0 326.9h1.25M173.4 315.1h1.25M174.0 300.3h1.25M162.9 324.8h1.25M159.6 323.6h1.25M158.9 314.1h1.25M149.1 316.3h1.25M174.7 323.3h1.25M164.6 313.9h1.25M162.8 323.9h1.25M161.3 318.1h1.25M169.1 295.1h1.25M162.8 318.7h1.25M165.6 313.9h1.25M143.6 311.3h1.25M162.9 324.5h1.25M182.2 315.0h1.25M151.0 326.0h1.25M155.5 331.9h1.25M167.3 321.8h1.25M168.0 303.7h1.25M164.2 312.4h1.25M138.4 330.0h1.25M162.8 317.5h1.25M143.4 311.6h1.25M147.5 319.3h1.25M163.3 325.6h1.25M153.6 323.0h1.25M166.3 327.2h1.25M193.2 311.5h1.25M165.9 317.3h1.25M165.3 317.6h1.25M146.7 320.0h1.25M149.6 297.9h1.25M144.8 317.8h1.25M150.9 306.0h1.25M144.4 335.1h1.25M149.4 336.9h1.25M154.6 338.2h1.25M145.5 328.9h1.25M140.7 315.1h1.25M141.3 330.5h1.25M162.2 318.1h1.25M157.7 326.8h1.25M168.8 310.7h1.25M169.0 314.0h1.25M153.1 325.3h1.25M164.7 339.2h1.25M140.4 320.0h1.25M154.5 306.6h1.25M143.6 320.0h1.25M161.4 310.1h1.25M135.5 318.8h1.25M148.0 314.6h1.25M165.6 319.6h1.25M157.9 330.6h1.25M151.4 330.3h1.25M167.9 323.1h1.25M145.1 320.4h1.25M160.3 321.6h1.25M151.3 321.7h1.25M147.3 326.5h1.25M162.3 320.4h1.25M145.6 325.7h1.25M178.9 306.4h1.25M150.3 328.8h1.25M179.9 339.0h1.25M144.4 322.3h1.25M164.0 305.2h1.25M143.2 334.8h1.25M141.6 316.8h1.25M158.8 288.4h1.25M164.8 318.0h1.25M142.3 326.8h1.25M170.6 324.4h1.25M147.8 333.6h1.25M158.5 327.0h1.25M161.4 321.7h1.25M163.8 299.2h1.25M136.3 308.5h1.25M175.6 322.3h1.25M163.5 327.6h1.25M152.1 309.4h1.25M145.2 313.8h1.25M137.5 325.4h1.25M141.3 300.0h1.25M163.3 299.6h1.25M153.1 317.9h1.25M144.0 323.1h1.25M150.9 315.2h1.25M175.0 295.9h1.25M153.2 320.6h1.25M150.3 306.2h1.25M172.5 327.4h1.25M162.3 319.3h1.25M157.5 323.2h1.25M150.0 327.2h1.25M139.1 314.7h1.25M143.5 329.2h1.25M151.5 333.7h1.25M154.5 324.6h1.25M161.1 334.6h1.25M163.3 313.7h1.25M159.6 330.2h1.25M159.5 323.2h1.25M145.4 309.8h1.25M132.2 319.5h1.25M151.0 314.7h1.25M146.0 314.5h1.25M149.5 321.3h1.25M153.8 331.7h1.25M142.7 317.0h1.25M144.2 321.7h1.25M155.8 304.7h1.25M158.3 321.5h1.25M149.5 332.7h1.25M162.7 329.0h1.25M154.5 325.5h1.25M145.3 314.7h1.25M157.5 310.0h1.25M178.6 319.4h1.25M149.2 306.1h1.25M170.4 307.2h1.25M172.8 330.5h1.25M174.2 310.6h1.25M147.5 339.6h1.25M180.2 305.1h1.25M158.3 325.0h1.25M154.1 307.8h1.25M154.4 322.2h1.25M163.9 309.3h1.25M157.6 320.8h1.25M155.0 318.7h1.25M171.8 315.5h1.25M148.7 325.9h1.25M145.0 336.5h1.25M166.1 314.1h1.25M165.1 329.8h1.25M169.6 321.3h1.25M144.7 320.1h1.25M162.5 297.2h1.25M177.3 313.1h1.25M142.6 301.0h1.25M159.5 317.0h1.25M153.8 317.9h1.25M148.8 324.1h1.25M170.0 339.6h1.25M151.6 334.3h1.25M148.7 315.7h1.25M167.0 325.5h1.25M168.4 338.2h1.25M168.3 322.2h1.25M147.9 322.6h1.25M156.3 325.8h1.25M168.9 304.3h1.25M149.5 311.7h1.25M148.4 324.0h1.25M166.5 326.2h1.25M175.0 310.5h1.25M143.8 316.9h1.25M140.3 318.7h1.25M145.4 327.8h1.25M155.4 321.5h1.25M164.1 322.1h1.25M155.3 305.2h1.25M148.9 309.1h1.25M158.8 323.8h1.25M145.9 303.3h1.25M156.5 323.2h1.25M149.6 313.3h1.25M187.8 311.7h1.25M166.4 327.3h1.25M147.4 313.1h1.25M145.5 311.1h1.25M152.0 313.1h1.25M138.1 320.9h1.25M148.5 297.6h1.25M167.2 320.1h1.25M152.1 317.7h1.25M147.9 330.5h1.25M141.6 316.3h1.25M143.5 293.8h1.25M156.2 334.5h1.25M154.5 308.6h1.25M170.0 319.6h1.25M149.8 305.6h1.25M169.2 308.5h1.25M160.0 314.9h1.25M156.9 329.5h1.25M133.9 329.3h1.25M142.2 313.8h1.25M165.5 325.6h1.25M173.1 316.3h1.25M159.4 321.5h1.25M165.8 321.9h1.25M152.3 326.9h1.25M152.7 313.6h1.25M149.4 318.8h1.25M168.2 322.6h1.25M160.9 321.2h1.25M154.3 311.7h1.25M153.2 338.7h1.25M163.4 315.3h1.25M160.7 328.3h1.25M147.4 322.4h1.25M176.7 333.3h1.25M160.0 296.8h1.25M174.0 317.9h1.25M168.8 307.0h1.25M156.0 321.6h1.25M144.7 325.6h1.25M149.6 307.0h1.25M171.0 334.5h1.25M135.2 305.1h1.25M164.8 318.2h1.25M147.4 317.0h1.25M145.7 343.4h1.25M154.8 317.0h1.25M160.1 334.3h1.25M164.0 312.9h1.25M177.4 311.6h1.25M161.1 331.0h1.25M167.1 326.9h1.25M150.1 301.6h1.25M165.2 327.0h1.25M158.8 327.1h1.25M151.7 313.6h1.25M155.9 322.5h1.25M156.3 323.1h1.25M159.2 315.0h1.25M161.6 313.9h1.25M151.1 313.0h1.25M148.5 317.2h1.25M165.6 305.9h1.25M137.5 319.7h1.25M149.9 304.1h1.25M174.9 321.0h1.25M149.0 309.0h1.25M164.9 329.3h1.25M138.0 340.9h1.25M186.9 334.4h1.25M173.5 333.8h1.25M174.9 322.5h1.25M167.5 319.6h1.25M154.5 313.8h1.25M161.1 320.1h1.25M146.7 335.0h1.25M166.3 326.0h1.25M144.1 315.7h1.25M153.9 313.0h1.25M168.5 315.7h1.25M144.2 326.4h1.25M158.9 308.8h1.25M141.6 320.1h1.25M170.4 316.0h1.25M160.9 312.1h1.25M139.6 324.4h1.25M156.5 326.0h1.25M148.1 304.9h1.25M149.4 309.0h1.25M157.9 332.9h1.25M148.8 323.5h1.25M168.1 325.7h1.25M148.9 314.8h1.25M168.3 316.1h1.25M156.5 325.0h1.25M166.8 314.8h1.25M150.8 308.2h1.25M151.2 320.1h1.25M143.7 329.8h1.25M163.6 309.1h1.25M167.8 331.4h1.25M181.4 327.6h1.25M171.8 310.9h1.25M159.9 320.2h1.25M154.6 319.7h1.25M161.5 326.9h1.25M156.7 327.3h1.25M173.8 306.2h1.25M167.9 305.7h1.25M147.4 331.1h1.25M149.1 321.3h1.25M172.7 324.6h1.25M160.5 323.7h1.25M154.3 336.5h1.25M170.6 307.2h1.25M152.5 331.8h1.25M153.8 311.4h1.25M151.7 327.9h1.25M134.4 334.5h1.25M166.9 305.3h1.25M143.1 324.4h1.25M150.5 317.2h1.25M148.4 317.0h1.25M165.4 320.6h1.25M156.2 308.9h1.25M157.2 309.8h1.25M137.7 327.2h1.25M156.0 329.2h1.25M140.0 314.1h1.25M160.5 304.6h1.25M156.8 331.9h1.25M180.5 324.0h1.25M163.1 309.1h1.25M163.9 313.9h1.25M158.6 322.7h1.25M154.8 309.9h1.25M168.1 337.2h1.25M169.7 321.6h1.25M142.0 324.3h1.25M169.1 309.2h1.25M162.9 310.5h1.25M168.0 311.7h1.25M162.4 323.1h1.25M142.7 317.3h1.25M143.5 317.1h1.25M178.0 323.5h1.25M159.9 322.5h1.25M140.7 335.9h1.25M161.0 318.0h1.25M152.8 309.3h1.25M135.8 320.0h1.25M138.6 314.2h1.25M160.1 320.7h1.25M156.4 316.3h1.25M154.1 324.4h1.25M160.3 322.9h1.25M163.9 311.5h1.25M153.5 330.1h1.25M147.5 331.8h1.25M142.8 329.9h1.25M150.7 329.3h1.25M155.6 316.6h1.25M153.9 316.3h1.25M140.3 330.0h1.25M151.4 307.7h1.25M180.2 319.5h1.25M144.9 300.4h1.25M137.6 316.1h1.25M160.2 312.6h1.25M163.9 307.3h1.25M162.3 326.3h1.25M144.1 312.3h1.25M168.5 316.2h1.25M148.0 317.4h1.25M143.9 312.3h1.25M150.0 335.2h1.25M155.7 314.9h1.25M165.2 322.2h1.25M164.2 306.3h1.25M156.7 315.1h1.25M167.7 316.7h1.25M157.9 316.9h1.25M167.3 313.9h1.25M140.9 321.7h1.25M138.9 336.7h1.25M165.9 318.7h1.25M141.0 318.7h1.25M153.5 316.0h1.25M151.4 337.3h1.25M151.8 326.1h1.25M173.0 327.6h1.25M167.2 318.5h1.25M183.4 322.4h1.25M157.3 321.4h1.25M156.8 311.1h1.25M165.4 311.9h1.25M178.0 325.6h1.25M143.3 323.5h1.25M158.0 297.8h1.25M154.9 321.1h1.25M163.4 333.6h1.25M158.8 313.3h1.25M164.6 322.7h1.25M152.2 304.8h1.25M157.6 329.0h1.25M149.3 308.4h1.25M149.4 306.9h1.25M155.4 316.8h1.25M143.5 313.7h1.25M175.1 306.8h1.25M155.4 325.1h1.25M141.1 322.6h1.25M169.7 337.7h1.25M148.4 306.7h1.25M162.8 303.3h1.25M156.8 316.8h1.25M159.9 324.2h1.25M159.0 324.0h1.25M150.4 331.7h1.25M157.5 304.4h1.25M180.4 311.4h1.25M157.8 329.1h1.25M162.0 325.2h1.25M144.9 315.7h1.25M141.2 309.4h1.25M181.8 329.5h1.25M152.7 330.2h1.25M163.2 318.3h1.25M157.9 337.4h1.25M162.5 307.4h1.25M164.3 314.4h1.25M170.6 313.0h1.25M162.0 315.3h1.25M158.7 310.9h1.25M159.0 314.4h1.25M172.5 319.6h1.25M166.4 315.4h1.25M145.5 327.2h1.25M149.7 319.3h1.25M160.8 320.2h1.25M149.8 335.8h1.25M152.7 323.5h1.25M146.0 321.8h1.25M154.0 320.0h1.25M161.9 320.8h1.25M168.4 326.2h1.25M157.1 311.7h1.25M180.9 332.3h1.25M156.1 336.8h1.25M193.7 332.4h1.25M168.5 315.0h1.25M162.7 303.3h1.25M151.3 315.6h1.25M155.2 328.9h1.25M159.0 318.3h1.25M179.1 317.0h1.25M141.1 336.3h1.25M178.9 313.1h1.25M154.1 331.5h1.25M165.3 329.8h1.25M158.6 323.1h1.25M153.0 314.3h1.25M164.8 310.2h1.25M158.0 300.6h1.25M143.9 303.6h1.25M167.9 324.6h1.25M165.0 316.1h1.25M163.9 323.1h1.25M168.6 308.9h1.25M169.7 316.8h1.25M156.7 317.3h1.25M141.4 303.8h1.25M141.1 302.6h1.25M172.5 324.8h1.25M165.2 321.7h1.25M158.2 310.3h1.25M152.0 319.1h1.25M157.4 327.2h1.25M157.3 339.6h1.25M153.1 310.8h1.25M149.0 326.7h1.25M159.6 320.9h1.25M150.0 335.7h1.25M142.0 292.8h1.25M148.7 335.5h1.25M165.3 320.1h1.25M165.7 300.3h1.25M154.5 328.4h1.25M157.6 331.3h1.25M153.5 333.0h1.25M144.3 332.9h1.25M172.0 319.9h1.25M161.3 312.3h1.25M185.5 315.3h1.25M148.3 319.8h1.25M155.4 324.5h1.25M167.2 315.1h1.25M154.2 320.7h1.25M141.0 329.5h1.25M146.1 323.6h1.25M155.9 308.0h1.25M168.5 314.2h1.25M168.4 306.3h1.25M160.7 307.8h1.25M157.3 326.0h1.25M154.1 309.7h1.25M163.3 309.1h1.25M167.6 317.3h1.25M157.7 328.7h1.25M162.2 316.4h1.25M153.3 316.4h1.25M140.8 329.9h1.25M145.5 325.2h1.25M165.8 325.0h1.25M162.1 330.2h1.25M175.3 309.5h1.25M157.6 322.5h1.25M166.9 313.5h1.25M172.2 331.1h1.25M168.4 328.8h1.25M150.0 309.1h1.25M154.9 334.4h1.25M158.5 307.8h1.25M145.7 332.6h1.25M162.5 322.4h1.25M168.8 310.9h1.25M151.5 308.3h1.25M179.7 317.0h1.25M153.7 319.9h1.25M154.7 312.6h1.25M154.3 326.2h1.25M148.9 305.3h1.25M161.8 320.1h1.25M157.2 320.2h1.25M176.1 300.3h1.25M164.0 323.5h1.25M163.2 306.8h1.25M154.5 293.6h1.25M140.7 313.7h1.25M156.0 317.7h1.25M147.2 329.8h1.25M167.9 315.0h1.25M156.6 335.8h1.25M176.2 335.5h1.25M165.5 331.8h1.25M166.6 334.2h1.25M159.7 323.9h1.25M159.4 314.3h1.25M164.5 327.1h1.25M167.6 330.5h1.25M148.8 322.7h1.25M162.7 317.6h1.25M187.1 303.5h1.25M156.0 327.4h1.25M154.1 323.9h1.25M149.0 306.3h1.25M140.3 321.2h1.25M170.7 327.9h1.25M157.7 319.0h1.25M160.4 328.5h1.25M178.2 328.2h1.25M185.9 304.4h1.25M146.8 317.0h1.25M169.1 325.3h1.25M164.2 329.9h1.25M161.6 335.2h1.25M162.5 299.7h1.25M156.8 319.5h1.25M175.3 327.8h1.25M164.1 333.2h1.25M161.0 338.2h1.25M171.4 310.2h1.25M167.3 316.2h1.25M162.3 308.9h1.25M160.8 328.9h1.25M177.2 306.1h1.25M162.9 332.8h1.25M156.0 330.2h1.25M147.2 325.4h1.25M153.1 297.0h1.25M145.0 312.9h1.25M158.3 328.2h1.25M160.0 305.1h1.25M133.4 317.6h1.25M157.2 319.1h1.25M164.5 329.7h1.25M158.9 323.2h1.25M146.1 323.1h1.25M171.6 315.5h1.25M149.0 320.2h1.25M142.9 318.7h1.25M144.6 327.9h1.25M156.9 318.3h1.25M168.3 331.2h1.25M170.4 302.0h1.25M159.4 333.0h1.25M143.3 318.3h1.25M149.5 332.2h1.25M146.7 321.1h1.25M155.0 329.3h1.25M136.6 336.1h1.25M158.3 314.2h1.25M164.4 321.0h1.25M155.3 318.3h1.25M162.3 322.4h1.25M146.2 302.9h1.25M140.3 318.3h1.25M149.7 317.5h1.25M170.3 311.8h1.25M168.9 318.1h1.25M151.8 303.7h1.25M170.9 335.1h1.25M153.3 324.9h1.25M174.4 340.3h1.25M162.6 310.8h1.25M151.8 307.7h1.25M166.2 323.2h1.25M148.1 302.3h1.25M146.2 322.6h1.25M140.3 312.6h1.25M160.0 316.6h1.25M156.4 322.9h1.25M156.1 320.6h1.25M152.3 340.0h1.25M173.5 326.9h1.25M152.1 306.3h1.25M148.7 330.6h1.25M171.3 305.8h1.25M173.3 321.1h1.25M160.9 306.8h1.25M137.0 311.3h1.25M150.1 334.1h1.25M164.0 314.2h1.25M157.2 313.2h1.25M174.9 314.1h1.25M141.3 316.8h1.25M164.8 335.5h1.25M149.8 307.5h1.25M172.2 306.9h1.25M156.1 326.3h1.25M168.9 303.1h1.25M149.6 316.2h1.25M140.8 332.2h1.25M144.2 320.1h1.25M150.0 315.0h1.25M145.2 312.5h1.25M170.8 310.3h1.25M172.4 313.8h1.25M160.1 321.5h1.25M145.1 333.3h1.25M155.6 330.4h1.25M149.1 314.0h1.25M173.7 312.2h1.25M160.6 327.5h1.25M162.6 300.7h1.25M152.4 315.3h1.25M133.9 316.5h1.25M148.1 308.2h1.25M144.2 309.4h1.25M161.3 323.7h1.25M158.1 302.3h1.25M147.8 310.2h1.25M152.5 313.0h1.25M175.0 320.8h1.25M146.0 305.3h1.25M146.4 331.5h1.25M154.4 316.6h1.25M149.0 317.1h1.25M152.1 316.0h1.25M163.1 312.7h1.25M176.9 309.4h1.25M136.5 332.1h1.25M156.8 322.0h1.25M157.5 318.7h1.25M156.0 330.5h1.25M154.8 312.3h1.25M153.1 326.5h1.25M168.5 320.1h1.25M151.7 310.3h1.25M155.5 327.9h1.25M157.0 303.9h1.25M158.2 326.7h1.25M155.0 310.4h1.25M168.5 324.1h1.25M156.9 334.5h1.25M159.0 325.8h1.25M156.4 313.3h1.25M145.5 319.4h1.25M147.5 315.8h1.25M144.9 307.2h1.25M159.2 307.9h1.25M148.8 320.2h1.25M144.8 325.4h1.25M159.7 300.9h1.25M163.0 318.9h1.25M136.8 325.1h1.25M176.4 320.8h1.25M157.4 309.0h1.25M155.8 330.6h1.25M169.3 306.7h1.25M157.8 326.5h1.25M150.1 336.6h1.25M182.2 297.9h1.25M144.6 322.3h1.25M155.9 322.9h1.25M166.7 322.0h1.25M144.7 311.4h1.25M155.8 316.3h1.25M161.4 304.7h1.25M184.6 321.0h1.25M146.7 325.3h1.25M156.5 312.5h1.25M164.6 309.7h1.25M157.9 314.5h1.25M143.2 319.4h1.25M161.7 320.2h1.25M158.2 318.4h1.25M162.1 320.2h1.25M170.0 305.6h1.25M168.7 290.6h1.25M161.7 326.0h1.25M160.6 334.6h1.25M144.4 304.5h1.25M155.5 312.4h1.25M159.5 322.7h1.25M152.4 329.6h1.25M158.1 326.3h1.25M147.5 333.0h1.25M174.6 318.9h1.25M181.7 323.9h1.25M152.5 323.8h1.25M161.6 314.9h1.25M154.3 332.2h1.25M171.5 326.1h1.25M162.0 329.8h1.25M157.9 315.3h1.25M154.4 330.4h1.25M158.5 308.3h1.25M145.5 323.6h1.25M164.8 291.8h1.25M148.8 308.8h1.25M163.2 327.2h1.25M158.5 314.7h1.25M169.6 321.3h1.25M156.8 302.3h1.25M168.8 335.8h1.25M146.4 325.7h1.25M164.0 319.2h1.25M154.4 323.8h1.25M159.2 322.9h1.25M157.8 334.4h1.25M167.8 321.7h1.25M133.8 303.9h1.25M160.7 316.7h1.25M139.8 333.0h1.25M170.9 325.4h1.25M134.3 315.0h1.25M145.5 325.9h1.25M137.8 320.7h1.25M175.9 325.9h1.25M142.2 302.7h1.25M158.3 309.9h1.25M150.8 326.5h1.25M136.3 317.1h1.25M153.1 323.1h1.25M154.9 316.1h1.25M167.8 322.0h1.25M152.8 313.5h1.25M157.1 312.8h1.25M152.6 318.6h1.25M161.0 304.1h1.25M178.8 297.2h1.25M161.2 333.8h1.25M159.2 318.3h1.25M149.9 331.3h1.25M148.3 320.7h1.25M173.8 321.0h1.25M144.2 326.5h1.25M146.5 327.0h1.25M155.9 306.7h1.25M152.1 332.2h1.25M179.5 309.2h1.25M129.8 321.6h1.25M165.2 320.3h1.25M144.1 337.0h1.25M149.6 315.8h1.25M162.0 325.9h1.25M175.7 320.0h1.25M146.4 323.8h1.25M138.8 310.4h1.25M168.2 309.7h1.25M174.5 323.0h1.25M153.1 302.9h1.25M173.7 326.2h1.25M154.7 312.9h1.25M169.9 310.1h1.25M156.5 307.7h1.25M152.7 321.0h1.25M151.8 315.6h1.25M173.9 321.0h1.25M173.5 317.5h1.25M146.2 314.8h1.25M177.4 298.8h1.25M152.8 320.7h1.25M141.4 319.5h1.25M157.1 321.1h1.25M155.8 302.5h1.25M155.9 331.4h1.25M151.5 319.1h1.25M153.4 319.0h1.25M151.8 302.8h1.25M160.8 324.4h1.25M147.7 318.8h1.25M153.7 333.7h1.25M155.3 315.1h1.25M172.0 306.4h1.25M161.3 320.8h1.25M155.7 309.8h1.25M163.2 323.8h1.25M161.7 308.0h1.25M169.5 318.1h1.25M162.8 317.1h1.25M177.6 319.1h1.25M172.5 314.0h1.25M156.5 310.9h1.25M152.2 318.8h1.25M167.1 313.4h1.25M162.9 321.0h1.25M155.9 316.6h1.25M140.0 295.9h1.25M135.9 318.8h1.25M161.0 334.0h1.25M165.9 322.6h1.25M166.2 325.7h1.25M142.2 324.2h1.25M168.9 314.5h1.25M150.9 305.5h1.25M161.5 327.9h1.25M161.8 330.5h1.25M147.8 325.4h1.25M150.2 323.9h1.25M133.2 323.6h1.25M146.5 319.2h1.25M136.3 322.3h1.25M162.0 319.6h1.25M157.7 322.9h1.25M167.5 309.6h1.25M161.1 312.9h1.25M149.7 325.4h1.25M161.0 315.9h1.25M152.5 294.2h1.25M164.0 320.8h1.25M160.6 295.6h1.25M145.6 339.4h1.25M157.0 327.0h1.25M157.6 326.5h1.25M153.5 312.5h1.25M167.3 307.7h1.25M176.7 317.3h1.25M152.8 319.7h1.25M153.0 311.5h1.25M155.5 326.6h1.25M152.0 325.7h1.25M132.1 308.7h1.25M160.3 297.0h1.25M163.8 319.5h1.25M148.6 312.7h1.25M152.7 324.1h1.25M145.9 336.5h1.25M165.8 336.5h1.25M139.5 322.5h1.25M153.4 331.0h1.25M179.4 336.6h1.25M157.6 320.0h1.25M162.4 322.4h1.25M155.3 328.4h1.25M143.5 319.2h1.25M156.6 314.4h1.25M161.7 311.8h1.25M145.2 319.6h1.25M160.9 313.1h1.25M171.3 327.8h1.25M169.3 316.1h1.25M138.8 334.7h1.25M145.8 332.1h1.25M138.4 306.8h1.25M169.3 330.8h1.25M164.0 315.4h1.25M165.1 333.8h1.25M146.9 324.9h1.25M143.6 319.2h1.25M157.9 326.6h1.25M158.2 313.9h1.25M147.2 323.0h1.25M158.6 323.6h1.25M164.4 318.2h1.25M159.6 323.7h1.25M145.0 309.4h1.25M154.0 307.2h1.25M158.9 326.1h1.25M154.0 324.6h1.25M152.1 327.0h1.25M149.0 314.0h1.25M156.4 317.4h1.25M158.4 321.3h1.25M145.8 312.0h1.25M149.9 334.5h1.25M158.9 315.0h1.25M145.4 330.0h1.25M142.5 310.1h1.25M153.2 323.0h1.25M170.8 316.0h1.25M159.2 329.4h1.25M173.8 316.9h1.25M155.5 311.0h1.25M153.4 324.5h1.25M141.0 307.6h1.25M150.4 310.1h1.25M173.5 327.8h1.25M160.8 300.7h1.25M165.4 327.7h1.25M165.1 315.8h1.25M156.9 310.5h1.25M154.6 322.4h1.25M158.4 326.4h1.25M164.7 314.0h1.25M162.3 318.2h1.25M162.7 328.2h1.25M158.8 327.7h1.25M148.1 319.5h1.25M154.0 312.1h1.25M146.2 310.3h1.25M168.6 313.9h1.25M154.5 325.9h1.25M184.5 323.1h1.25M153.1 334.3h1.25M143.9 317.0h1.25M156.8 316.2h1.25M171.8 316.1h1.25M155.2 339.6h1.25M164.1 299.1h1.25M158.1 323.1h1.25M152.7 324.7h1.25M193.2 320.8h1.25M150.8 332.1h1.25M151.4 328.0h1.25M161.4 311.0h1.25M161.7 325.2h1.25M165.9 316.4h1.25M158.6 320.6h1.25M140.5 322.2h1.25M163.1 315.3h1.25M153.4 326.7h1.25M153.7 336.8h1.25M139.9 330.8h1.25M150.4 322.4h1.25M148.6 300.6h1.25M156.6 331.3h1.25M140.3 331.2h1.25M157.6 318.3h1.25M158.4 315.4h1.25M144.1 327.0h1.25M149.8 312.1h1.25M147.1 328.4h1.25M167.4 309.3h1.25M153.1 320.5h1.25M137.9 305.5h1.25M152.0 320.4h1.25M166.7 325.8h1.25M149.7 307.0h1.25M158.6 329.8h1.25M147.3 314.7h1.25M179.3 325.9h1.25M167.5 322.5h1.25M170.0 315.7h1.25M141.7 315.1h1.25M144.3 303.1h1.25M169.4 313.3h1.25M154.8 312.6h1.25M154.0 337.1h1.25M160.8 330.7h1.25M142.6 306.5h1.25M165.9 328.5h1.25M157.2 322.7h1.25M162.5 316.6h1.25M149.3 325.1h1.25M162.9 328.4h1.25M148.9 314.7h1.25M168.0 317.6h1.25M170.0 322.1h1.25M167.5 310.5h1.25M162.9 322.3h1.25M164.3 319.6h1.25M166.6 311.9h1.25M153.8 323.5h1.25M158.1 329.3h1.25M153.7 323.8h1.25M141.0 311.8h1.25M150.8 328.0h1.25M164.6 322.2h1.25M173.3 326.4h1.25M149.8 332.2h1.25M146.6 311.3h1.25M173.7 319.0h1.25M146.9 314.4h1.25M180.8 311.6h1.25M146.8 330.0h1.25M168.3 302.6h1.25M176.5 324.8h1.25M140.5 314.9h1.25M174.9 332.1h1.25M153.8 321.3h1.25M174.1 318.7h1.25M152.6 321.9h1.25M138.9 324.4h1.25M162.8 320.8h1.25M167.7 318.3h1.25M181.1 319.1h1.25M176.8 325.6h1.25M165.0 309.1h1.25M154.3 320.5h1.25M151.0 319.3h1.25M153.6 315.6h1.25M147.4 327.9h1.25M153.8 307.5h1.25M159.1 311.9h1.25M156.7 326.0h1.25M186.5 315.8h1.25M165.7 321.0h1.25M151.5 324.4h1.25M163.5 304.4h1.25M142.9 325.1h1.25M150.1 312.9h1.25M135.5 317.9h1.25M173.5 319.4h1.25M163.8 328.7h1.25M143.5 327.9h1.25M156.3 338.3h1.25M167.9 322.3h1.25M162.7 315.7h1.25M161.4 315.4h1.25M147.1 327.1h1.25M149.7 336.7h1.25M158.1 323.9h1.25M167.6 314.7h1.25M147.5 323.3h1.25M144.1 323.1h1.25M170.2 320.8h1.25M146.3 313.0h1.25M169.4 294.9h1.25M159.8 315.1h1.25M167.1 331.1h1.25M177.1 322.6h1.25M164.9 298.2h1.25M165.9 320.6h1.25M146.4 301.9h1.25M149.0 340.6h1.25M164.4 322.4h1.25M174.6 308.4h1.25M173.0 328.5h1.25M183.6 312.6h1.25M160.6 326.2h1.25M159.3 320.7h1.25M168.6 308.6h1.25M157.2 327.2h1.25M156.3 307.0h1.25M145.0 334.0h1.25M168.4 321.1h1.25M144.7 310.1h1.25M162.9 302.2h1.25M140.7 336.8h1.25M169.6 335.1h1.25M145.2 307.8h1.25M166.7 337.1h1.25M138.7 322.2h1.25M151.9 318.3h1.25M170.6 319.6h1.25M147.7 317.8h1.25M157.8 334.9h1.25M151.5 322.0h1.25M162.0 329.4h1.25M144.3 309.5h1.25M163.6 316.9h1.25M147.8 311.4h1.25M145.5 321.0h1.25M157.1 324.5h1.25M149.2 322.9h1.25M183.4 314.5h1.25M139.1 312.4h1.25M165.5 329.0h1.25M168.4 319.5h1.25M137.1 312.4h1.25M163.5 328.5h1.25M151.5 321.0h1.25M161.4 312.8h1.25M170.1 334.2h1.25M152.7 321.7h1.25M144.8 311.5h1.25M159.4 330.8h1.25M146.3 308.1h1.25M160.6 334.4h1.25M159.7 327.4h1.25M141.1 317.7h1.25M176.8 334.2h1.25M169.5 338.1h1.25M166.8 326.5h1.25M143.4 322.2h1.25M152.3 339.1h1.25M150.7 335.6h1.25M152.2 311.1h1.25M144.1 318.4h1.25M162.0 318.3h1.25M159.6 316.3h1.25M161.2 305.4h1.25M151.2 329.6h1.25M171.8 321.3h1.25M159.2 321.5h1.25M149.6 314.8h1.25M156.3 319.9h1.25M168.1 323.3h1.25M153.5 316.1h1.25M154.1 319.4h1.25M149.4 328.3h1.25M164.7 320.4h1.25M151.9 334.0h1.25M150.1 312.9h1.25M148.5 322.5h1.25M163.4 306.0h1.25M150.9 319.3h1.25M137.7 313.4h1.25M164.2 334.3h1.25M148.9 328.0h1.25M161.1 325.7h1.25M161.3 339.2h1.25M170.8 335.1h1.25M169.0 327.8h1.25M150.4 313.5h1.25M155.1 305.8h1.25M142.2 320.2h1.25M176.3 316.9h1.25M162.1 313.9h1.25M173.0 317.5h1.25M153.3 303.7h1.25M133.4 335.7h1.25M174.6 308.9h1.25M158.1 313.7h1.25M158.5 326.3h1.25M157.6 303.9h1.25M164.4 329.9h1.25M163.1 330.0h1.25M138.7 317.3h1.25M169.5 309.5h1.25M150.9 315.7h1.25M151.6 301.7h1.25M176.9 334.6h1.25M167.6 321.1h1.25M153.1 313.0h1.25M135.7 311.2h1.25M158.9 326.3h1.25M163.2 335.8h1.25M156.1 307.5h1.25M142.7 314.6h1.25M147.9 302.6h1.25M142.6 327.4h1.25M159.5 322.1h1.25M168.8 319.2h1.25M148.6 316.1h1.25M159.7 313.3h1.25M163.4 329.2h1.25M151.1 303.9h1.25M155.3 328.2h1.25M181.4 323.0h1.25M159.4 315.3h1.25M167.2 311.3h1.25M152.0 331.3h1.25M157.5 339.5h1.25M137.3 315.9h1.25M156.7 325.9h1.25M170.7 338.3h1.25M181.1 314.2h1.25M170.8 317.9h1.25M164.9 308.0h1.25M157.6 319.0h1.25M150.1 319.7h1.25M155.2 316.2h1.25M164.0 312.9h1.25M148.0 304.3h1.25M167.7 306.7h1.25M145.7 310.5h1.25M136.5 327.1h1.25M145.4 315.3h1.25M137.8 311.8h1.25M141.2 327.2h1.25M170.0 326.3h1.25M154.7 312.8h1.25M159.5 314.1h1.25M170.3 327.3h1.25M171.5 324.2h1.25M151.2 311.9h1.25M172.3 323.0h1.25M161.4 320.2h1.25M157.0 331.9h1.25M162.1 311.6h1.25M140.6 329.6h1.25M148.0 324.9h1.25M155.8 310.1h1.25M164.0 331.3h1.25M152.7 329.9h1.25M155.5 306.9h1.25M168.1 340.9h1.25M173.2 308.7h1.25M165.8 311.0h1.25M171.6 317.2h1.25M152.3 328.4h1.25M153.5 326.5h1.25M160.7 319.5h1.25M153.5 334.6h1.25M151.2 324.7h1.25M176.0 334.9h1.25M145.9 322.5h1.25M162.6 293.9h1.25M178.1 315.8h1.25M157.9 309.4h1.25M171.2 321.5h1.25M152.0 321.5h1.25M151.3 307.8h1.25M149.1 308.6h1.25M155.4 317.8h1.25M178.1 318.5h1.25M143.7 293.5h1.25M175.8 330.6h1.25M145.4 320.8h1.25M154.3 320.4h1.25M166.6 323.6h1.25M164.2 309.9h1.25M160.2 320.0h1.25M138.0 331.3h1.25M161.2 331.7h1.25M191.1 305.4h1.25M182.9 306.0h1.25M176.9 328.0h1.25M200.7 339.7h1.25M191.8 304.8h1.25M181.3 318.2h1.25M161.8 308.5h1.25M176.3 314.4h1.25M164.5 321.4h1.25M199.9 317.3h1.25M188.1 309.6h1.25M182.9 315.9h1.25M215.0 315.6h1.25M199.6 331.0h1.25M170.9 317.9h1.25M184.5 315.3h1.25M172.2 329.1h1.25M166.7 305.4h1.25M188.0 326.7h1.25M213.1 330.0h1.25M203.5 325.6h1.25M186.5 315.6h1.25M181.8 317.6h1.25M188.3 297.3h1.25M197.6 316.2h1.25M169.5 321.2h1.25M164.9 328.1h1.25M207.2 319.4h1.25M189.2 313.1h1.25M204.1 307.8h1.25M188.7 317.2h1.25M202.7 319.3h1.25M179.1 332.1h1.25M191.6 317.8h1.25M203.6 311.8h1.25M197.6 316.5h1.25M180.8 312.0h1.25M196.1 314.9h1.25M178.5 291.5h1.25M169.8 298.8h1.25M191.9 303.5h1.25M201.9 323.3h1.25M195.6 316.8h1.25M171.7 319.5h1.25M195.9 331.5h1.25M193.7 305.3h1.25M180.8 331.3h1.25M157.7 322.3h1.25M197.6 309.2h1.25M196.1 335.4h1.25M191.7 300.8h1.25M166.3 304.3h1.25M169.0 315.2h1.25M197.5 322.5h1.25M195.2 315.4h1.25M191.6 292.4h1.25M183.2 314.2h1.25M190.5 316.7h1.25M182.4 334.0h1.25M176.1 319.2h1.25M188.9 304.8h1.25M181.2 321.8h1.25M196.9 303.9h1.25M194.2 320.1h1.25M176.7 322.0h1.25M207.0 313.0h1.25M173.2 320.7h1.25M191.1 313.8h1.25M198.4 310.9h1.25M200.7 335.9h1.25M160.7 324.6h1.25M197.5 314.1h1.25M200.0 308.6h1.25M202.5 319.8h1.25M160.5 324.4h1.25M178.2 327.8h1.25M184.9 335.2h1.25M180.9 323.2h1.25M201.4 304.4h1.25M200.1 331.4h1.25M192.4 327.5h1.25M169.3 333.5h1.25M174.6 300.0h1.25M180.6 313.3h1.25M187.1 311.6h1.25M197.4 331.8h1.25M183.9 303.7h1.25M196.4 313.9h1.25M167.9 335.7h1.25M150.9 325.3h1.25M182.1 313.1h1.25M191.3 339.9h1.25M181.8 301.9h1.25M174.4 323.0h1.25M190.9 315.0h1.25M208.2 323.7h1.25M184.8 314.4h1.25M177.7 307.8h1.25M176.3 320.2h1.25M208.6 302.1h1.25M185.5 323.9h1.25M193.0 313.9h1.25M200.0 328.6h1.25M198.4 312.4h1.25M175.4 309.7h1.25M197.0 322.4h1.25M195.7 332.3h1.25M191.6 293.1h1.25M197.6 319.1h1.25M179.5 325.1h1.25M185.1 300.8h1.25M180.0 307.2h1.25M194.7 325.2h1.25M178.5 307.9h1.25M190.5 310.1h1.25M173.4 338.0h1.25M184.6 306.5h1.25M181.8 307.4h1.25M184.7 290.3h1.25M187.5 304.7h1.25M183.9 303.1h1.25M183.5 337.9h1.25M162.2 332.0h1.25M198.7 302.7h1.25M178.8 340.9h1.25M183.2 326.7h1.25M176.5 315.5h1.25M197.5 327.2h1.25M175.6 322.1h1.25M191.8 308.6h1.25M199.6 296.8h1.25M204.9 306.9h1.25M199.7 317.6h1.25M193.1 313.4h1.25M172.2 308.9h1.25M200.8 329.1h1.25M199.7 305.0h1.25M195.6 328.1h1.25M195.3 311.9h1.25M186.9 318.9h1.25M180.1 304.3h1.25M198.5 317.5h1.25M200.7 308.3h1.25M174.1 297.0h1.25M196.6 317.4h1.25M188.9 317.0h1.25M196.3 327.4h1.25M189.2 321.0h1.25M198.8 305.6h1.25M197.9 310.3h1.25M196.3 288.2h1.25M170.3 304.3h1.25M195.6 332.9h1.25M186.7 335.5h1.25M173.2 326.6h1.25M194.3 321.2h1.25M170.5 324.5h1.25M196.4 323.3h1.25M205.6 297.1h1.25M180.4 307.3h1.25M196.7 331.6h1.25M191.4 331.5h1.25M193.6 320.4h1.25M170.8 313.9h1.25M193.2 313.0h1.25M187.8 311.1h1.25M194.7 306.6h1.25M186.3 294.8h1.25M198.8 319.3h1.25M189.4 312.2h1.25M194.0 315.0h1.25M201.9 337.9h1.25M188.4 324.6h1.25M197.6 309.3h1.25M188.9 324.4h1.25M192.2 299.7h1.25M180.3 330.0h1.25M195.1 320.7h1.25M200.3 315.3h1.25M185.4 324.3h1.25M195.4 334.8h1.25M191.2 312.1h1.25M173.8 305.9h1.25M190.4 342.6h1.25M201.3 317.7h1.25M180.8 335.3h1.25M166.1 309.5h1.25M188.7 322.0h1.25M179.1 310.0h1.25M207.9 325.1h1.25M185.9 314.3h1.25M186.3 309.6h1.25M179.3 336.0h1.25M189.2 321.6h1.25M180.0 293.5h1.25M176.2 314.8h1.25M185.7 306.7h1.25M177.2 303.1h1.25M201.3 310.6h1.25M173.2 311.9h1.25M185.6 317.9h1.25M178.6 308.1h1.25M170.8 295.4h1.25M205.2 311.2h1.25M162.7 328.0h1.25M202.8 301.3h1.25M170.5 324.9h1.25M187.4 323.0h1.25M212.0 312.2h1.25M162.4 321.2h1.25M170.9 308.6h1.25M201.2 312.8h1.25M188.4 305.4h1.25M180.2 323.1h1.25M186.0 333.8h1.25M175.5 309.4h1.25M187.8 331.8h1.25M203.3 292.1h1.25M182.1 307.0h1.25M188.0 305.5h1.25M200.0 338.0h1.25M208.8 310.5h1.25M179.8 326.8h1.25M189.8 293.1h1.25M180.1 318.9h1.25M179.1 324.3h1.25M181.9 317.1h1.25M179.3 285.0h1.25M166.9 319.6h1.25M164.0 327.2h1.25M178.2 333.3h1.25M187.9 322.3h1.25M200.1 297.3h1.25M180.4 315.0h1.25M184.5 328.3h1.25M193.9 307.7h1.25M194.7 324.3h1.25M185.1 311.8h1.25M185.8 318.6h1.25M207.5 326.6h1.25M182.6 309.0h1.25M168.1 319.3h1.25M191.3 321.6h1.25M183.4 308.6h1.25M207.9 318.2h1.25M182.6 314.3h1.25M195.6 300.0h1.25M196.9 299.2h1.25M205.0 320.9h1.25M171.7 316.5h1.25M204.0 286.0h1.25M186.6 291.8h1.25M185.2 313.8h1.25M182.9 316.7h1.25M182.0 324.8h1.25M182.5 302.7h1.25M160.1 324.6h1.25M192.1 313.8h1.25M187.1 311.4h1.25M175.7 315.8h1.25M185.7 329.3h1.25M212.3 324.2h1.25M190.7 328.2h1.25M182.0 309.3h1.25M205.6 314.1h1.25M177.5 303.6h1.25M184.7 310.9h1.25M180.2 312.7h1.25M183.7 311.9h1.25M194.6 326.1h1.25M192.9 322.6h1.25M178.2 326.6h1.25M184.9 319.0h1.25M187.4 330.4h1.25M181.8 318.9h1.25M186.0 329.1h1.25M178.3 323.5h1.25M178.1 326.3h1.25M186.9 316.7h1.25M174.8 302.6h1.25M191.1 300.2h1.25M176.0 322.2h1.25M179.5 322.8h1.25M181.0 315.5h1.25M184.6 312.0h1.25M184.0 304.1h1.25M176.6 316.7h1.25M202.4 316.9h1.25M196.5 303.9h1.25M187.6 302.2h1.25M197.0 309.1h1.25M190.0 313.4h1.25M183.5 311.7h1.25M187.3 327.3h1.25M216.1 303.4h1.25M197.4 322.4h1.25M198.0 335.1h1.25M181.9 328.2h1.25M193.1 303.8h1.25M211.6 282.1h1.25M191.1 327.6h1.25M198.3 323.5h1.25M200.4 310.5h1.25M193.5 332.9h1.25M203.9 312.6h1.25M188.9 318.8h1.25M191.9 305.0h1.25M179.3 321.3h1.25M215.8 312.3h1.25M189.7 311.5h1.25M187.6 330.5h1.25M201.8 320.1h1.25M180.9 299.6h1.25M186.3 325.8h1.25M177.6 327.5h1.25M186.6 307.5h1.25M182.0 312.8h1.25M192.4 318.1h1.25M184.9 314.5h1.25M179.7 319.0h1.25M183.0 325.3h1.25M185.0 311.6h1.25M196.8 309.0h1.25M193.8 311.0h1.25M192.1 318.0h1.25M172.1 315.3h1.25M188.4 304.6h1.25M186.8 331.2h1.25M179.8 319.6h1.25M177.1 307.3h1.25M178.6 322.4h1.25M209.1 333.9h1.25M183.4 325.7h1.25M197.0 331.4h1.25M191.0 322.8h1.25M198.1 317.1h1.25M172.7 324.1h1.25M174.2 332.1h1.25M223.3 327.8h1.25M185.8 330.2h1.25M183.1 320.2h1.25M188.1 326.7h1.25M197.3 332.1h1.25M173.1 315.5h1.25M189.5 301.9h1.25M186.0 338.2h1.25M193.8 324.5h1.25M188.2 312.2h1.25M180.4 320.3h1.25M176.7 314.5h1.25M159.3 297.0h1.25M197.2 315.3h1.25M170.0 300.4h1.25M181.8 319.9h1.25M204.7 316.2h1.25M181.7 331.1h1.25M193.1 316.1h1.25M184.0 322.0h1.25M194.0 313.9h1.25M186.6 312.9h1.25M180.7 300.7h1.25M201.3 329.4h1.25M183.4 319.5h1.25M171.5 310.5h1.25M182.7 320.0h1.25M192.3 312.5h1.25M174.0 308.8h1.25M195.0 320.5h1.25M194.8 332.1h1.25M209.8 314.3h1.25M179.2 300.4h1.25M193.6 310.1h1.25M167.8 339.1h1.25M181.7 307.8h1.25M187.5 331.8h1.25M190.8 314.6h1.25M185.7 326.4h1.25M185.3 316.2h1.25M179.5 298.6h1.25M181.4 312.6h1.25M192.5 315.9h1.25M193.4 324.3h1.25M197.3 313.5h1.25M199.4 315.9h1.25M166.4 321.4h1.25M180.5 323.2h1.25M179.2 317.3h1.25M197.9 315.3h1.25M194.6 309.6h1.25M185.1 301.8h1.25M187.6 298.2h1.25M200.2 325.5h1.25M182.5 295.2h1.25M182.8 334.4h1.25M196.3 327.8h1.25M191.5 314.0h1.25M202.0 303.7h1.25M190.4 317.9h1.25M194.6 317.8h1.25M180.3 331.1h1.25M175.9 308.6h1.25M186.2 313.0h1.25M157.0 316.9h1.25M190.8 314.2h1.25M197.0 310.0h1.25M187.1 297.0h1.25M183.9 297.9h1.25M198.3 309.4h1.25M185.8 314.8h1.25M197.1 329.5h1.25M194.3 338.1h1.25M196.6 322.3h1.25M189.1 316.1h1.25M189.3 311.2h1.25M198.2 304.7h1.25M168.5 312.6h1.25M183.4 314.4h1.25M193.5 335.1h1.25M177.0 310.4h1.25M185.1 326.9h1.25M178.7 312.7h1.25M191.2 302.9h1.25M195.8 320.4h1.25M202.3 319.6h1.25M191.8 303.7h1.25M178.4 307.2h1.25M189.1 308.0h1.25M192.6 329.1h1.25M201.8 323.1h1.25M162.7 320.4h1.25M190.4 323.4h1.25M166.2 311.8h1.25M194.2 323.3h1.25M191.2 310.3h1.25M191.8 301.6h1.25M196.0 309.1h1.25M190.5 320.1h1.25M179.2 318.6h1.25M190.2 330.3h1.25M199.5 297.3h1.25M185.0 314.9h1.25M186.6 322.3h1.25M173.0 306.0h1.25M199.1 320.6h1.25M180.8 312.7h1.25M178.1 304.0h1.25M181.4 331.0h1.25M176.8 300.9h1.25M183.5 329.6h1.25M200.3 312.6h1.25M195.0 306.3h1.25M202.0 307.0h1.25M202.6 308.7h1.25M176.5 307.4h1.25M191.6 320.8h1.25M202.8 295.2h1.25M211.5 332.5h1.25M170.8 327.6h1.25M170.7 334.2h1.25M191.4 305.8h1.25M182.6 289.8h1.25M175.4 310.1h1.25M190.5 315.6h1.25M177.6 321.2h1.25M161.4 311.4h1.25M186.0 316.6h1.25M187.7 319.4h1.25M193.3 299.0h1.25M196.6 339.3h1.25M188.3 304.1h1.25M183.7 320.8h1.25M179.0 330.5h1.25M168.2 308.2h1.25M181.5 317.7h1.25M197.2 337.2h1.25M193.4 314.2h1.25M208.8 330.2h1.25M184.6 321.1h1.25M166.7 320.4h1.25M195.3 326.2h1.25M197.6 314.9h1.25M173.4 315.1h1.25M168.5 329.2h1.25M187.9 320.8h1.25M194.1 323.6h1.25M173.9 303.3h1.25M182.5 317.8h1.25M177.7 332.2h1.25M173.3 328.4h1.25M171.8 321.8h1.25M187.8 311.5h1.25M182.1 310.3h1.25M178.9 322.9h1.25M157.6 334.7h1.25M205.4 318.2h1.25M175.8 333.3h1.25M184.7 314.1h1.25M173.7 332.1h1.25M190.4 305.7h1.25M169.6 319.9h1.25M187.2 304.9h1.25M184.1 325.6h1.25M196.3 324.6h1.25M174.1 306.3h1.25M179.1 308.8h1.25M183.6 312.4h1.25M209.2 299.8h1.25M170.0 306.6h1.25M189.4 307.3h1.25M179.0 327.1h1.25M189.6 334.3h1.25M193.3 312.4h1.25M187.7 314.2h1.25M189.0 320.2h1.25M189.2 311.4h1.25M179.7 314.3h1.25M183.8 327.7h1.25M167.9 320.4h1.25M182.2 316.7h1.25M177.7 310.8h1.25M183.3 335.3h1.25M194.2 310.3h1.25M190.3 319.1h1.25M191.3 305.3h1.25M198.2 310.6h1.25M159.9 318.8h1.25M190.8 313.0h1.25M185.8 324.1h1.25M185.0 318.5h1.25M171.8 301.1h1.25M192.1 290.0h1.25M198.7 329.6h1.25M197.4 310.7h1.25M185.1 335.4h1.25M193.1 317.8h1.25M196.2 308.5h1.25M206.1 324.4h1.25M199.5 314.4h1.25M187.6 317.8h1.25M187.1 306.5h1.25M187.9 325.3h1.25M188.6 330.8h1.25M180.6 311.4h1.25M194.5 339.0h1.25M178.5 310.9h1.25M177.3 320.7h1.25M190.0 298.1h1.25M179.8 294.6h1.25M163.3 334.7h1.25M194.8 331.4h1.25M186.0 297.3h1.25M184.6 320.4h1.25M191.1 322.7h1.25M188.4 318.6h1.25M178.4 321.2h1.25M208.0 306.6h1.25M181.1 315.7h1.25M196.7 304.0h1.25M206.1 313.5h1.25M179.2 322.1h1.25M187.1 308.3h1.25M177.1 314.3h1.25M197.6 312.5h1.25M182.4 317.8h1.25M174.0 328.7h1.25M200.5 320.5h1.25M196.1 322.4h1.25M176.3 300.4h1.25M199.0 313.3h1.25M188.2 327.4h1.25M215.8 307.3h1.25M204.9 312.4h1.25M179.9 306.0h1.25M183.1 333.6h1.25M176.4 312.2h1.25M187.5 308.9h1.25M186.5 325.0h1.25M194.1 330.8h1.25M187.0 323.5h1.25M169.9 329.4h1.25M177.1 320.2h1.25M201.5 316.1h1.25M198.7 312.3h1.25M184.2 311.5h1.25M184.5 310.5h1.25M184.2 322.0h1.25M186.3 316.3h1.25M167.6 318.7h1.25M195.8 324.9h1.25M178.8 317.0h1.25M187.6 301.2h1.25M158.3 308.1h1.25M188.6 304.2h1.25M200.7 294.7h1.25M161.5 318.8h1.25M202.7 303.2h1.25M191.2 302.2h1.25M178.0 304.7h1.25M168.6 328.1h1.25M198.8 313.9h1.25M188.9 329.6h1.25M192.5 316.5h1.25M183.0 312.4h1.25M177.3 324.4h1.25M195.6 324.7h1.25M175.5 319.0h1.25M195.9 305.1h1.25M167.6 312.1h1.25M175.8 303.4h1.25M170.1 314.5h1.25M200.4 318.7h1.25M166.8 335.3h1.25M173.5 334.5h1.25M193.3 325.7h1.25M188.5 329.0h1.25M210.1 320.3h1.25M192.8 335.9h1.25M165.9 322.1h1.25M176.3 322.5h1.25M182.4 330.2h1.25M184.0 319.8h1.25M170.9 321.3h1.25M175.8 305.7h1.25M176.7 328.8h1.25M197.7 319.2h1.25M190.7 327.2h1.25M182.3 314.9h1.25M183.0 296.2h1.25M189.2 323.5h1.25M178.3 331.5h1.25M183.1 302.2h1.25M167.1 305.9h1.25M193.4 313.9h1.25M196.6 314.6h1.25M190.0 297.1h1.25M191.2 338.6h1.25M190.0 329.6h1.25M208.5 310.1h1.25M188.2 295.8h1.25M171.4 321.9h1.25M174.5 341.3h1.25M193.8 327.4h1.25M197.7 331.4h1.25M194.5 306.2h1.25M195.2 320.3h1.25M188.0 299.5h1.25M178.2 324.3h1.25M166.1 292.2h1.25M181.7 295.3h1.25M171.0 323.3h1.25M187.0 319.2h1.25M184.1 313.8h1.25M164.5 324.9h1.25M194.3 321.9h1.25M170.6 295.8h1.25M187.6 315.6h1.25M193.9 301.8h1.25M182.7 307.8h1.25M195.4 321.4h1.25M188.0 315.4h1.25M197.8 304.7h1.25M188.0 317.1h1.25M184.1 307.7h1.25M191.6 323.8h1.25M194.6 314.5h1.25M188.7 322.1h1.25M181.0 314.2h1.25M177.2 326.4h1.25M181.8 315.8h1.25M179.6 317.3h1.25M188.2 310.6h1.25M187.8 319.1h1.25M184.9 296.1h1.25M187.8 309.2h1.25M203.2 318.6h1.25M199.2 311.7h1.25M179.5 311.5h1.25M190.5 322.2h1.25M182.2 311.2h1.25M184.8 312.2h1.25M183.1 300.8h1.25M178.9 306.3h1.25M170.8 303.3h1.25M158.6 339.0h1.25M188.1 301.3h1.25M198.9 304.5h1.25M175.8 319.7h1.25M191.4 334.5h1.25M181.5 297.0h1.25M188.9 298.8h1.25M176.9 318.8h1.25M183.2 321.4h1.25M184.6 300.3h1.25M159.4 295.7h1.25M188.2 305.8h1.25M184.3 326.3h1.25M158.3 316.8h1.25M193.0 326.2h1.25M185.4 316.0h1.25M188.0 316.9h1.25M189.8 324.7h1.25M181.1 315.9h1.25M173.8 320.1h1.25M180.8 306.3h1.25M181.0 310.1h1.25M210.4 322.9h1.25M206.2 314.4h1.25M180.3 308.3h1.25M181.1 325.2h1.25M189.3 323.8h1.25M192.0 317.2h1.25M178.0 308.2h1.25M174.6 328.0h1.25M197.5 307.4h1.25M168.4 298.8h1.25M166.1 307.9h1.25M176.5 306.1h1.25M188.2 302.1h1.25M191.8 303.1h1.25M181.9 327.4h1.25M167.7 327.5h1.25M188.1 335.0h1.25M192.4 326.2h1.25M185.7 311.5h1.25M180.2 330.2h1.25M192.1 309.9h1.25M185.0 313.1h1.25M173.2 303.1h1.25M186.7 331.9h1.25M171.2 329.3h1.25M196.4 311.6h1.25M190.9 313.5h1.25M174.5 317.6h1.25M188.0 319.6h1.25M199.6 327.3h1.25M161.7 318.0h1.25M184.1 322.0h1.25M204.1 299.2h1.25M168.3 313.6h1.25M183.8 295.7h1.25M169.7 338.6h1.25M184.9 333.9h1.25M158.8 325.8h1.25M167.5 330.5h1.25M179.6 341.2h1.25M187.2 328.4h1.25M189.9 298.1h1.25M190.4 314.7h1.25M198.5 288.9h1.25M193.5 307.4h1.25M193.9 302.2h1.25M174.7 317.0h1.25M183.9 321.8h1.25M221.4 306.0h1.25M211.1 313.7h1.25M195.0 320.5h1.25M194.0 315.2h1.25M196.8 315.0h1.25M181.1 288.3h1.25M207.7 311.8h1.25M181.4 326.6h1.25M184.7 320.2h1.25M210.2 299.3h1.25M162.2 313.8h1.25M189.7 320.3h1.25M166.2 305.4h1.25M178.3 325.2h1.25M184.6 307.5h1.25M181.7 313.1h1.25M187.6 315.8h1.25M184.5 313.2h1.25M172.2 310.2h1.25M181.3 325.7h1.25M170.0 311.4h1.25M193.1 319.4h1.25M171.0 290.0h1.25M193.5 320.6h1.25M181.0 316.8h1.25M182.2 301.6h1.25M199.0 333.3h1.25M186.9 314.2h1.25M164.2 314.7h1.25M191.3 301.3h1.25M152.8 297.6h1.25M188.7 310.2h1.25M181.1 298.8h1.25M169.8 322.9h1.25M186.6 327.5h1.25M182.2 309.4h1.25M208.4 297.7h1.25M180.7 312.3h1.25M207.7 304.3h1.25M201.4 319.0h1.25M178.7 319.2h1.25M176.4 311.9h1.25M200.7 317.9h1.25M184.1 329.5h1.25M187.5 337.5h1.25M182.8 310.8h1.25M171.9 325.7h1.25M181.4 314.2h1.25M174.7 304.3h1.25M168.2 332.4h1.25M182.3 321.7h1.25M206.0 318.7h1.25M204.1 321.3h1.25M185.0 315.1h1.25M187.2 304.4h1.25M191.5 338.3h1.25M201.2 327.8h1.25M189.3 320.2h1.25M180.2 328.6h1.25M181.2 332.4h1.25M198.6 314.6h1.25M215.4 324.0h1.25M178.5 313.1h1.25M162.2 324.7h1.25M194.9 314.0h1.25M187.2 312.7h1.25M199.8 323.2h1.25M186.4 322.6h1.25M170.5 313.0h1.25M163.2 328.2h1.25M185.1 316.0h1.25M172.4 312.1h1.25M189.0 317.0h1.25M171.1 308.0h1.25M181.6 331.4h1.25M168.8 324.5h1.25M181.5 328.8h1.25M180.6 300.8h1.25M192.5 320.2h1.25M201.1 307.8h1.25M183.6 318.0h1.25M175.8 332.3h1.25M208.1 320.1h1.25M189.8 314.9h1.25M192.7 330.4h1.25M192.7 329.1h1.25M202.4 339.2h1.25M197.3 294.7h1.25M193.5 320.9h1.25M194.5 312.0h1.25M175.8 306.5h1.25M178.7 318.4h1.25M184.5 303.1h1.25M186.8 290.2h1.25M185.9 306.2h1.25M189.2 313.9h1.25M186.0 339.4h1.25M180.8 308.3h1.25M167.1 303.0h1.25M195.3 293.3h1.25M192.4 312.8h1.25M175.6 314.1h1.25M191.4 318.8h1.25M190.2 299.7h1.25M186.5 307.9h1.25M164.6 289.8h1.25M171.9 319.0h1.25M178.8 298.2h1.25M204.2 284.0h1.25M175.9 330.9h1.25M181.7 323.1h1.25M173.0 321.2h1.25M180.1 321.2h1.25M189.6 304.6h1.25M161.9 329.9h1.25M153.1 304.4h1.25M186.1 319.7h1.25M178.8 294.9h1.25M196.8 327.4h1.25M196.8 340.7h1.25M161.6 314.0h1.25M183.8 329.8h1.25M198.4 314.5h1.25M178.0 309.5h1.25M182.1 286.0h1.25M196.7 331.9h1.25M182.6 311.7h1.25M172.0 321.6h1.25M177.8 303.4h1.25M170.5 306.1h1.25M192.1 330.4h1.25M165.9 312.4h1.25M197.2 312.2h1.25M166.8 301.9h1.25M186.2 319.5h1.25M168.8 326.4h1.25M182.1 311.5h1.25M197.4 314.8h1.25M198.6 302.4h1.25M200.7 333.9h1.25M184.7 309.6h1.25M186.9 315.2h1.25M188.4 337.3h1.25M192.8 314.3h1.25M181.1 298.4h1.25M198.3 305.9h1.25M189.4 312.7h1.25M198.8 338.5h1.25M191.2 319.8h1.25M193.5 314.4h1.25M177.3 327.1h1.25M180.9 332.8h1.25M170.8 308.0h1.25M182.3 334.4h1.25M183.7 327.4h1.25M195.3 322.5h1.25M171.2 288.6h1.25M222.9 319.5h1.25M184.3 333.9h1.25M200.2 313.8h1.25M156.7 318.0h1.25M182.7 304.9h1.25M202.6 324.3h1.25M157.8 320.7h1.25M194.5 327.2h1.25M175.2 314.5h1.25M180.3 332.9h1.25M188.3 310.5h1.25M164.2 318.8h1.25M187.9 302.1h1.25M178.3 307.5h1.25M177.1 319.6h1.25M193.8 309.2h1.25M226.0 311.7h1.25M189.6 314.7h1.25M192.0 320.2h1.25M185.1 326.5h1.25M177.4 326.5h1.25M188.7 329.6h1.25M203.1 319.7h1.25M187.9 310.6h1.25M195.9 298.0h1.25M183.1 313.0h1.25M214.7 307.6h1.25M166.7 295.2h1.25M192.4 337.2h1.25M191.9 294.9h1.25M188.7 321.5h1.25M172.8 324.0h1.25M172.6 314.4h1.25M186.8 317.5h1.25M171.7 307.9h1.25M173.4 338.6h1.25M192.1 307.5h1.25M197.5 299.8h1.25M179.2 305.0h1.25M177.6 309.4h1.25M177.3 317.8h1.25M214.1 321.3h1.25M191.2 298.8h1.25M184.8 321.5h1.25M197.2 344.4h1.25M212.0 308.6h1.25M199.1 315.6h1.25M169.2 325.7h1.25M184.6 331.9h1.25M180.9 309.1h1.25M181.6 305.5h1.25M171.6 305.0h1.25M181.1 330.6h1.25M173.1 328.2h1.25M189.5 290.9h1.25M186.1 291.2h1.25M169.3 302.2h1.25M165.9 299.0h1.25M180.0 322.2h1.25M193.1 319.9h1.25M184.8 326.9h1.25M147.5 318.7h1.25M179.8 331.6h1.25M177.0 306.4h1.25M181.7 300.2h1.25M171.5 317.6h1.25M180.6 328.7h1.25M177.9 297.5h1.25M216.8 328.1h1.25M193.7 327.7h1.25M183.3 311.1h1.25M185.0 319.3h1.25M184.2 313.9h1.25M187.7 318.2h1.25M180.9 327.1h1.25M185.3 307.4h1.25M197.4 329.9h1.25M195.1 327.8h1.25M189.1 328.3h1.25M200.9 293.2h1.25M188.1 294.5h1.25M174.2 325.7h1.25M165.4 310.1h1.25M177.5 308.8h1.25M184.8 307.9h1.25M190.1 300.9h1.25M198.0 313.7h1.25M178.9 308.4h1.25M176.2 309.2h1.25M194.4 323.1h1.25M199.1 302.8h1.25M180.0 330.9h1.25M189.4 290.1h1.25M189.2 300.6h1.25M184.9 324.3h1.25M161.6 328.4h1.25M200.8 317.2h1.25M193.0 326.3h1.25M187.0 315.9h1.25M180.2 295.7h1.25M171.2 321.4h1.25M184.4 331.2h1.25M184.3 310.5h1.25M198.2 296.5h1.25M171.6 309.9h1.25M202.2 321.2h1.25M185.9 320.9h1.25M199.2 330.7h1.25M174.4 324.0h1.25M189.5 323.4h1.25M199.6 292.8h1.25M168.6 317.8h1.25M181.7 327.8h1.25M191.7 313.0h1.25M169.4 315.4h1.25M168.9 318.0h1.25M188.3 336.5h1.25M174.6 335.8h1.25M193.4 324.8h1.25M172.0 341.5h1.25M164.4 312.4h1.25M176.6 323.6h1.25M202.7 311.7h1.25M175.6 333.1h1.25M185.5 317.7h1.25M188.4 329.2h1.25M174.6 338.4h1.25M198.1 291.9h1.25M190.7 321.2h1.25M166.2 313.4h1.25M165.4 293.8h1.25M153.8 313.6h1.25M183.4 289.1h1.25M182.9 318.4h1.25M193.9 315.2h1.25M202.7 339.7h1.25M182.6 313.3h1.25M182.5 330.5h1.25M190.8 331.6h1.25M176.1 314.3h1.25M192.8 326.7h1.25M182.7 298.7h1.25M181.7 303.7h1.25M195.0 314.0h1.25M176.5 317.1h1.25M173.3 302.4h1.25M193.2 312.3h1.25M185.3 326.0h1.25M182.5 311.8h1.25M184.0 315.5h1.25M191.3 306.4h1.25M181.3 334.4h1.25M194.4 339.3h1.25M190.3 319.9h1.25M202.6 316.0h1.25M200.2 337.9h1.25M195.5 323.3h1.25M183.3 309.2h1.25M186.9 300.8h1.25M178.8 310.2h1.25M183.0 310.1h1.25M201.2 317.4h1.25M169.9 314.8h1.25M176.1 333.7h1.25M181.1 314.4h1.25M174.2 322.1h1.25M171.0 304.6h1.25M179.7 302.1h1.25M200.5 308.4h1.25M193.9 320.2h1.25M186.0 309.3h1.25M185.9 293.3h1.25M166.5 323.3h1.25M193.6 315.4h1.25M190.5 314.0h1.25M173.2 309.9h1.25M188.0 289.7h1.25M183.4 337.0h1.25M179.7 311.5h1.25M174.3 323.9h1.25M177.9 334.6h1.25M174.8 331.4h1.25M190.9 320.0h1.25M189.8 317.6h1.25M189.3 321.2h1.25M183.5 328.6h1.25M181.0 324.6h1.25M209.1 312.0h1.25M164.2 323.0h1.25M199.4 322.1h1.25M189.7 326.0h1.25M186.4 320.0h1.25M179.8 334.3h1.25M183.1 320.0h1.25M172.0 328.4h1.25M169.7 318.0h1.25M184.4 310.4h1.25M166.6 305.8h1.25M195.3 315.5h1.25M198.5 324.1h1.25M146.1 333.1h1.25M167.8 316.4h1.25M188.8 311.1h1.25M188.1 311.2h1.25M186.9 333.4h1.25M190.5 318.8h1.25M194.3 311.3h1.25M195.6 326.6h1.25M206.3 301.2h1.25M186.0 318.9h1.25M195.6 317.0h1.25M167.0 315.8h1.25M184.2 303.3h1.25M171.7 329.6h1.25M201.7 338.2h1.25M212.5 301.2h1.25M191.9 319.0h1.25M170.7 325.4h1.25M186.0 312.4h1.25M188.0 305.8h1.25M198.2 317.4h1.25M155.2 318.3h1.25M201.4 320.8h1.25M180.0 339.3h1.25M179.3 291.2h1.25M202.0 290.8h1.25M182.6 328.7h1.25M170.0 327.0h1.25M170.5 300.4h1.25M186.4 323.9h1.25M196.2 318.0h1.25M203.0 320.2h1.25M183.8 307.6h1.25M180.3 311.9h1.25M204.4 306.7h1.25M180.5 318.1h1.25M202.5 314.7h1.25M188.4 338.2h1.25M188.5 325.2h1.25M183.0 298.1h1.25M189.1 322.6h1.25M180.4 335.1h1.25M177.9 321.0h1.25M184.2 330.9h1.25M178.3 317.1h1.25M189.2 326.2h1.25M186.7 306.0h1.25M182.7 327.2h1.25M183.4 300.5h1.25M183.1 333.4h1.25M205.7 298.9h1.25M185.6 291.5h1.25M178.9 324.0h1.25M182.3 315.4h1.25M193.4 318.9h1.25M183.4 322.8h1.25M184.0 317.2h1.25M182.8 306.6h1.25M187.6 320.1h1.25M190.2 321.8h1.25M190.8 323.6h1.25M173.5 308.5h1.25M155.5 318.3h1.25M194.9 324.4h1.25M198.5 312.0h1.25M200.7 302.8h1.25M187.4 310.5h1.25M198.9 330.6h1.25M185.3 314.2h1.25M184.3 325.0h1.25M168.0 308.5h1.25M176.7 323.0h1.25M178.9 309.2h1.25M196.3 307.1h1.25M204.8 318.9h1.25M180.3 318.1h1.25M190.0 335.6h1.25M188.9 297.5h1.25M176.8 323.8h1.25M165.9 337.3h1.25M177.1 334.3h1.25M169.2 312.8h1.25M182.1 309.1h1.25M184.1 311.4h1.25M183.6 321.2h1.25M183.8 319.8h1.25M191.3 321.8h1.25M175.0 324.9h1.25M195.9 304.3h1.25M166.5 303.6h1.25M186.4 302.4h1.25M190.2 301.0h1.25M176.6 316.3h1.25M167.4 321.3h1.25M178.0 324.1h1.25M194.7 317.7h1.25M194.5 335.0h1.25M185.6 308.5h1.25M185.7 321.7h1.25M197.0 329.5h1.25M190.0 327.2h1.25M175.0 322.5h1.25M187.6 313.2h1.25M192.0 302.2h1.25M188.0 315.6h1.25M187.9 310.2h1.25M184.0 326.0h1.25M184.3 315.8h1.25M175.0 324.4h1.25M169.3 297.7h1.25M198.6 329.5h1.25M178.4 307.0h1.25M188.2 298.3h1.25M168.5 300.6h1.25M187.5 309.8h1.25M176.2 331.3h1.25M219.7 326.3h1.25M174.0 303.1h1.25M174.6 318.6h1.25M196.5 316.2h1.25M198.7 298.2h1.25M161.6 305.3h1.25M188.6 292.4h1.25M195.7 306.8h1.25M171.7 284.9h1.25M193.5 307.7h1.25M179.6 306.0h1.25M174.3 307.7h1.25M181.7 307.4h1.25M180.4 331.7h1.25M169.8 313.2h1.25M211.3 320.5h1.25M180.5 326.8h1.25M177.1 328.6h1.25M195.4 325.9h1.25M184.8 310.7h1.25M200.9 304.0h1.25M182.6 307.9h1.25M189.7 311.7h1.25M186.7 317.6h1.25M187.6 316.4h1.25M183.3 331.0h1.25M184.5 316.2h1.25M177.9 330.2h1.25M179.4 311.6h1.25M181.7 328.1h1.25M192.2 282.2h1.25M190.2 334.4h1.25M196.3 322.6h1.25M170.4 322.4h1.25M188.6 296.8h1.25M182.4 314.4h1.25M187.5 315.7h1.25M163.2 331.3h1.25M188.8 315.1h1.25M187.3 307.1h1.25M169.4 325.6h1.25M184.6 305.0h1.25M203.3 326.6h1.25M181.2 319.2h1.25M192.4 331.3h1.25M183.1 302.6h1.25M176.4 332.8h1.25M175.2 321.1h1.25M200.5 309.5h1.25M177.6 326.1h1.25M197.0 327.2h1.25M184.2 308.6h1.25M177.8 324.3h1.25M190.6 325.7h1.25M175.3 307.3h1.25M167.8 303.3h1.25M200.4 308.0h1.25M164.9 335.4h1.25M191.8 319.4h1.25M168.3 329.0h1.25M185.3 321.0h1.25M183.4 318.9h1.25M180.7 320.2h1.25M160.8 312.5h1.25M184.4 332.5h1.25M185.3 319.6h1.25M175.5 320.3h1.25M184.9 300.5h1.25M197.0 321.3h1.25M177.5 309.2h1.25M188.6 311.3h1.25M172.6 330.2h1.25M190.0 304.1h1.25M193.0 315.0h1.25M213.9 325.2h1.25M196.0 331.6h1.25M190.6 311.1h1.25M201.7 321.4h1.25M174.4 321.0h1.25M197.9 303.6h1.25M179.5 291.2h1.25M178.7 293.8h1.25M198.1 324.9h1.25M188.4 318.8h1.25M200.8 301.1h1.25M169.3 309.6h1.25M188.8 312.6h1.25M179.8 313.1h1.25M182.7 317.1h1.25M196.4 307.9h1.25M188.1 319.2h1.25M174.6 308.0h1.25M170.5 309.8h1.25M175.9 306.7h1.25M201.6 314.7h1.25M184.6 310.7h1.25M182.0 321.8h1.25M191.4 320.1h1.25M185.9 306.5h1.25M188.4 341.0h1.25M194.2 303.2h1.25M189.5 321.9h1.25M172.3 308.7h1.25M186.5 333.7h1.25M181.8 334.9h1.25M187.0 321.6h1.25M185.4 294.8h1.25M178.7 334.9h1.25M181.9 318.6h1.25M196.6 310.8h1.25M179.6 333.1h1.25M171.8 308.6h1.25M192.6 330.5h1.25M196.9 310.8h1.25M182.8 324.1h1.25M187.3 304.3h1.25M176.4 312.6h1.25M183.6 306.3h1.25M198.4 308.8h1.25M195.0 319.8h1.25M187.6 315.4h1.25M182.8 319.8h1.25M167.6 333.2h1.25M189.5 316.1h1.25M191.1 294.7h1.25M197.8 314.0h1.25M208.7 318.5h1.25M190.2 330.0h1.25M196.7 330.2h1.25M173.4 329.1h1.25M199.6 314.7h1.25M195.8 325.4h1.25M201.3 299.8h1.25M193.6 333.3h1.25M191.1 322.9h1.25M202.6 323.7h1.25M178.5 312.8h1.25M193.3 318.2h1.25M198.2 309.3h1.25M177.2 324.4h1.25M173.1 301.2h1.25M190.9 329.4h1.25M187.4 324.2h1.25M192.9 342.3h1.25M193.3 317.0h1.25M177.5 316.4h1.25M189.9 319.9h1.25M198.7 317.9h1.25M182.1 316.2h1.25M182.9 304.0h1.25M173.4 303.9h1.25M195.3 310.5h1.25M208.0 313.9h1.25M170.8 302.9h1.25M194.7 303.3h1.25M196.3 314.0h1.25M179.9 326.6h1.25M182.0 315.2h1.25M174.4 325.8h1.25M177.4 329.4h1.25M188.0 326.9h1.25M193.5 312.3h1.25M187.5 312.5h1.25M195.8 294.6h1.25M188.5 309.1h1.25M173.1 323.2h1.25M202.5 304.2h1.25M199.5 334.1h1.25M178.2 335.1h1.25M206.1 313.0h1.25M191.5 328.8h1.25M187.7 300.1h1.25M207.7 304.6h1.25M158.2 312.9h1.25M168.2 317.6h1.25M194.2 315.2h1.25M183.5 306.9h1.25M175.6 341.6h1.25M203.1 321.1h1.25M191.7 321.0h1.25M171.9 325.8h1.25M178.9 319.6h1.25M195.7 314.7h1.25M206.3 310.7h1.25M163.8 297.4h1.25M189.1 335.8h1.25M182.0 306.2h1.25M166.7 297.1h1.25M184.4 307.6h1.25M168.3 297.9h1.25M204.5 322.0h1.25M192.1 334.8h1.25M195.1 335.3h1.25M193.0 324.5h1.25M190.3 324.5h1.25M197.2 308.6h1.25M173.3 316.5h1.25M182.3 310.1h1.25M195.9 318.0h1.25M178.2 308.9h1.25M181.5 333.0h1.25M199.9 326.9h1.25M203.6 316.2h1.25M179.6 297.0h1.25M177.2 325.9h1.25M192.9 328.3h1.25M189.4 316.7h1.25M178.9 302.1h1.25M193.1 322.8h1.25M192.6 330.4h1.25M187.3 294.0h1.25M219.4 324.4h1.25M201.7 295.3h1.25M195.6 318.5h1.25M197.9 338.9h1.25M219.7 318.6h1.25M198.8 323.4h1.25M178.4 313.6h1.25M190.1 317.4h1.25M180.1 333.8h1.25M189.4 313.7h1.25M189.3 312.8h1.25M185.8 317.7h1.25M195.8 320.1h1.25M168.5 331.1h1.25M195.7 313.0h1.25M186.6 301.9h1.25M189.6 333.7h1.25M159.8 316.6h1.25M205.4 307.9h1.25M167.0 309.0h1.25M176.8 309.3h1.25M193.7 310.1h1.25M179.7 298.7h1.25M181.9 332.2h1.25M161.4 322.2h1.25M181.6 329.4h1.25M188.9 313.3h1.25M194.1 321.7h1.25M183.3 319.5h1.25M189.0 331.9h1.25M191.4 327.5h1.25M178.9 321.9h1.25M178.1 309.6h1.25M208.6 302.8h1.25M176.9 307.7h1.25M200.4 309.8h1.25M187.3 310.9h1.25M203.1 302.4h1.25M179.3 337.8h1.25M192.3 320.8h1.25M190.2 292.9h1.25M184.0 304.2h1.25M190.0 301.1h1.25M177.9 320.4h1.25M185.6 330.5h1.25M182.0 305.5h1.25M195.1 325.1h1.25M185.5 314.1h1.25M170.8 331.5h1.25M182.3 334.2h1.25M185.4 321.3h1.25M176.3 326.3h1.25M201.5 317.5h1.25M191.1 312.9h1.25M196.0 303.3h1.25M177.9 321.5h1.25M182.0 316.6h1.25M197.9 312.8h1.25M170.4 316.6h1.25M190.7 315.2h1.25M187.5 304.9h1.25M180.9 311.1h1.25M187.5 331.4h1.25M174.4 314.7h1.25M189.1 334.5h1.25M172.8 303.5h1.25M172.1 301.0h1.25M202.3 319.1h1.25M178.6 326.9h1.25M162.7 309.5h1.25M197.5 325.1h1.25M177.8 328.9h1.25M146.8 330.6h1.25M185.9 316.2h1.25M197.0 316.9h1.25M190.5 297.4h1.25M205.9 317.8h1.25M185.1 320.9h1.25M193.3 334.7h1.25M175.1 302.0h1.25M188.4 307.2h1.25M203.8 305.3h1.25M192.2 328.4h1.25M188.4 286.8h1.25M164.2 304.3h1.25M172.0 325.5h1.25M195.3 301.4h1.25M178.2 316.8h1.25M190.6 327.8h1.25M175.2 324.2h1.25M207.9 314.8h1.25M173.3 307.9h1.25M188.1 327.6h1.25M216.3 317.4h1.25M189.0 327.3h1.25M176.7 322.3h1.25M193.5 311.8h1.25M197.8 335.0h1.25M196.4 311.4h1.25M164.2 322.7h1.25M189.0 309.8h1.25M162.5 314.7h1.25M208.0 314.5h1.25M187.4 309.5h1.25M181.3 320.4h1.25M194.2 333.4h1.25M192.1 340.0h1.25M173.1 334.9h1.25M205.0 315.4h1.25M183.8 335.2h1.25M166.6 322.6h1.25M203.9 302.2h1.25M200.8 335.5h1.25M192.8 310.3h1.25M176.4 331.5h1.25M197.2 311.9h1.25M207.7 328.6h1.25M195.8 314.1h1.25M204.8 294.7h1.25M177.8 305.8h1.25M198.2 314.6h1.25M197.2 317.8h1.25M169.6 290.4h1.25M168.1 303.0h1.25M178.4 308.7h1.25M187.5 314.9h1.25M191.7 320.2h1.25M184.0 307.6h1.25M185.8 299.1h1.25M185.3 321.2h1.25M187.6 313.5h1.25M193.2 328.2h1.25M192.2 311.1h1.25M186.0 325.3h1.25M189.5 306.7h1.25M181.5 320.7h1.25M195.7 318.6h1.25M180.9 322.9h1.25M205.3 306.2h1.25M186.3 316.0h1.25M189.7 307.2h1.25M177.9 315.6h1.25M182.7 325.0h1.25M186.8 317.9h1.25M179.5 326.1h1.25M173.4 318.9h1.25M187.1 331.2h1.25M188.4 323.1h1.25M192.9 330.1h1.25M200.8 321.8h1.25M163.8 334.2h1.25M185.0 297.0h1.25M165.5 321.1h1.25M171.9 318.5h1.25M198.4 290.9h1.25M193.1 307.1h1.25M179.3 312.0h1.25M179.4 308.7h1.25M185.6 319.1h1.25M166.6 295.9h1.25M192.1 326.5h1.25M182.6 326.9h1.25M207.7 321.8h1.25M174.5 313.6h1.25M198.1 317.6h1.25M178.8 311.9h1.25M198.3 331.4h1.25M175.4 323.6h1.25M181.6 313.1h1.25M177.2 335.0h1.25M184.9 310.6h1.25M192.1 315.5h1.25M191.3 305.0h1.25M204.7 323.9h1.25M196.0 316.8h1.25M156.5 325.1h1.25M182.1 335.5h1.25M163.8 316.9h1.25M182.2 322.1h1.25M193.8 328.4h1.25M171.3 316.9h1.25M173.1 311.0h1.25M188.3 321.9h1.25M183.3 323.6h1.25M204.8 327.0h1.25M190.3 327.6h1.25M192.7 309.5h1.25M206.7 322.9h1.25M180.9 332.4h1.25M186.6 312.0h1.25M175.3 322.0h1.25M189.6 310.1h1.25M198.5 319.6h1.25M202.3 338.5h1.25M186.2 319.7h1.25M178.5 306.0h1.25M177.9 321.7h1.25M170.7 320.2h1.25M188.1 331.0h1.25M202.3 301.1h1.25M159.5 306.6h1.25M161.7 316.6h1.25M202.8 298.9h1.25M168.2 331.3h1.25M190.5 293.2h1.25M172.2 307.6h1.25M195.7 299.8h1.25M195.7 309.7h1.25M188.6 327.2h1.25M196.2 324.8h1.25M187.3 328.7h1.25M193.2 324.8h1.25M207.7 293.1h1.25M199.3 321.2h1.25M179.2 295.4h1.25M177.5 311.5h1.25M184.0 312.9h1.25M184.1 311.0h1.25M187.6 323.5h1.25M179.8 307.9h1.25M194.2 338.4h1.25M187.2 324.8h1.25M190.9 331.8h1.25M186.8 326.7h1.25M193.8 328.3h1.25M173.0 317.1h1.25M190.8 304.9h1.25M192.0 323.1h1.25M193.8 317.6h1.25M199.2 314.9h1.25M195.3 321.4h1.25M189.5 308.6h1.25M184.7 328.1h1.25M167.9 327.0h1.25M189.3 318.8h1.25M183.2 326.5h1.25M183.2 305.1h1.25M214.5 295.8h1.25M165.5 310.6h1.25M187.5 314.8h1.25M197.9 314.9h1.25M201.1 330.0h1.25M172.3 327.8h1.25M194.0 319.0h1.25M183.5 325.5h1.25M206.6 315.3h1.25M189.5 307.2h1.25M189.1 305.5h1.25M192.0 308.2h1.25M183.8 334.8h1.25M188.3 321.0h1.25M179.2 315.8h1.25M186.5 317.8h1.25M181.4 310.8h1.25M189.9 317.2h1.25M170.7 317.1h1.25M169.8 325.4h1.25M192.2 328.6h1.25M189.6 298.0h1.25M175.9 320.4h1.25M184.4 334.1h1.25M174.9 305.3h1.25M210.4 314.6h1.25M169.0 319.6h1.25M206.7 330.8h1.25M177.5 324.8h1.25M191.8 315.0h1.25M184.0 323.6h1.25M182.6 330.1h1.25M197.8 322.3h1.25M196.4 340.0h1.25M183.7 322.7h1.25M176.5 305.0h1.25M210.8 308.2h1.25M203.1 316.0h1.25M188.6 315.1h1.25M183.6 325.1h1.25M190.4 321.9h1.25M188.0 338.2h1.25M200.8 327.4h1.25M175.9 335.5h1.25M187.3 308.5h1.25M178.0 312.5h1.25M202.0 325.9h1.25M207.8 318.8h1.25M186.0 325.2h1.25M193.2 320.7h1.25M203.2 310.2h1.25M183.6 338.1h1.25M176.3 331.4h1.25M199.0 299.0h1.25M192.9 310.3h1.25M184.7 317.9h1.25M203.8 325.8h1.25M189.8 316.8h1.25M166.6 301.3h1.25M191.0 327.7h1.25M186.4 315.2h1.25M208.7 332.1h1.25M186.9 321.3h1.25M184.7 329.7h1.25M192.1 327.7h1.25M189.9 328.3h1.25M170.9 311.6h1.25M188.4 330.1h1.25M183.3 320.2h1.25M203.2 302.8h1.25M214.7 313.0h1.25M174.2 313.7h1.25M176.0 323.4h1.25M177.4 326.0h1.25M179.5 304.4h1.25M179.1 326.4h1.25M187.7 317.0h1.25M199.6 305.1h1.25M172.1 327.7h1.25M169.4 308.6h1.25M165.9 303.5h1.25M199.8 326.8h1.25M202.3 328.6h1.25M169.4 309.9h1.25M168.3 330.4h1.25M188.6 329.8h1.25M199.6 311.6h1.25M189.3 317.1h1.25M194.9 320.5h1.25M190.8 289.2h1.25M180.7 325.4h1.25M209.0 310.4h1.25M187.1 323.1h1.25M174.3 297.3h1.25M181.7 331.7h1.25M169.3 335.3h1.25M199.7 282.4h1.25M172.5 324.9h1.25M200.1 322.0h1.25M211.2 281.7h1.25M191.4 309.1h1.25M173.8 316.8h1.25M177.3 334.9h1.25M183.2 307.9h1.25M172.3 320.4h1.25M172.7 317.2h1.25M184.1 322.3h1.25M185.0 313.1h1.25M194.1 328.6h1.25M173.3 329.6h1.25M208.6 301.6h1.25M199.3 331.4h1.25M197.3 309.0h1.25M179.6 314.7h1.25M207.1 331.4h1.25M183.1 319.1h1.25M208.0 324.9h1.25M199.4 327.4h1.25M176.8 325.2h1.25M181.9 311.6h1.25M208.6 306.6h1.25M198.6 326.2h1.25M185.3 327.1h1.25M189.4 322.3h1.25M189.4 315.8h1.25M178.2 328.3h1.25M184.8 317.7h1.25M179.5 301.7h1.25M182.2 321.4h1.25M192.5 324.1h1.25M176.1 327.3h1.25M195.5 307.4h1.25M188.4 309.1h1.25M195.9 322.1h1.25M197.3 312.8h1.25M201.4 317.3h1.25M194.3 329.4h1.25M195.2 322.9h1.25M185.0 340.0h1.25M193.7 321.6h1.25M176.7 338.6h1.25M184.3 330.9h1.25M186.5 318.4h1.25M192.2 317.2h1.25M174.9 333.9h1.25M202.9 312.1h1.25M180.4 312.8h1.25M191.7 321.3h1.25M186.8 322.9h1.25M197.8 301.6h1.25M182.7 321.4h1.25M175.6 314.7h1.25M165.2 318.1h1.25M183.6 320.5h1.25M173.3 316.2h1.25M193.3 331.3h1.25M203.7 324.3h1.25M161.4 316.3h1.25M172.2 319.4h1.25M190.7 330.9h1.25M201.3 327.9h1.25M190.6 333.7h1.25M190.8 316.9h1.25M192.9 320.2h1.25M206.0 318.2h1.25M194.2 338.7h1.25M172.8 328.7h1.25M181.6 313.5h1.25M189.5 302.0h1.25M177.7 326.2h1.25M184.1 310.3h1.25M181.0 310.2h1.25M179.0 298.1h1.25M195.1 332.8h1.25M182.6 319.9h1.25M174.5 319.0h1.25M178.8 323.4h1.25M187.5 321.6h1.25M211.5 319.9h1.25M190.1 324.9h1.25M204.2 315.5h1.25M192.8 288.0h1.25M162.3 327.5h1.25M191.5 323.8h1.25M177.2 319.0h1.25M171.4 337.7h1.25M174.6 302.1h1.25M207.8 284.3h1.25M168.8 336.5h1.25M179.9 323.7h1.25M200.5 299.2h1.25M194.8 313.9h1.25M167.3 326.1h1.25M185.8 304.3h1.25M181.1 325.4h1.25M195.8 335.3h1.25M180.4 318.4h1.25M183.4 322.6h1.25M204.0 307.5h1.25M165.7 320.3h1.25M182.8 314.8h1.25M192.5 306.9h1.25M172.6 302.8h1.25M171.8 319.8h1.25M188.9 306.6h1.25M179.8 313.7h1.25M196.2 336.5h1.25M198.9 338.1h1.25M187.6 311.4h1.25M182.7 321.1h1.25M190.1 329.4h1.25M187.7 314.6h1.25M173.0 304.7h1.25M199.5 307.1h1.25M189.7 318.9h1.25M196.2 309.5h1.25M171.3 303.3h1.25M197.2 315.9h1.25M211.5 329.8h1.25M194.2 326.9h1.25M170.2 316.0h1.25M187.5 341.5h1.25M186.4 309.4h1.25M189.6 317.8h1.25M184.3 302.5h1.25M192.8 328.0h1.25M181.6 317.2h1.25M189.7 298.7h1.25M179.0 308.9h1.25M198.6 327.3h1.25M181.3 320.0h1.25M194.8 329.0h1.25M176.7 299.7h1.25M182.7 308.8h1.25M184.3 302.9h1.25M201.5 308.8h1.25M178.1 314.1h1.25M201.1 325.0h1.25M170.0 330.7h1.25M185.2 330.3h1.25M195.1 312.8h1.25M175.3 318.4h1.25M172.8 324.7h1.25M197.2 308.8h1.25M172.3 315.2h1.25M193.7 323.5h1.25M180.9 308.1h1.25M186.9 324.2h1.25M213.9 333.2h1.25M205.0 305.3h1.25M196.7 291.4h1.25M171.0 319.6h1.25M190.7 306.2h1.25M187.6 320.7h1.25M185.8 313.3h1.25M202.5 322.2h1.25M167.0 332.1h1.25M190.7 328.3h1.25M188.4 314.3h1.25M178.2 304.7h1.25M207.0 289.0h1.25M172.2 292.7h1.25M187.3 309.1h1.25M187.9 319.7h1.25M161.5 310.4h1.25M170.3 311.4h1.25M175.7 299.4h1.25M196.1 298.7h1.25M197.9 297.8h1.25M193.9 325.7h1.25M189.7 294.7h1.25M161.4 326.3h1.25M189.4 307.5h1.25M181.0 324.6h1.25M200.6 321.0h1.25M202.6 327.1h1.25M213.0 332.2h1.25M195.2 308.7h1.25M196.4 306.4h1.25M174.9 312.7h1.25M187.8 308.7h1.25M172.5 325.7h1.25M197.4 316.5h1.25M173.0 317.8h1.25M184.4 322.7h1.25M177.4 312.1h1.25M181.4 330.8h1.25M192.2 295.8h1.25M180.3 320.5h1.25M189.5 323.6h1.25M175.2 308.5h1.25M203.2 309.4h1.25M179.4 328.4h1.25M198.7 313.8h1.25M211.8 294.7h1.25M158.5 301.5h1.25M175.3 329.6h1.25M184.5 307.1h1.25M200.5 333.2h1.25M181.2 333.9h1.25M191.3 315.1h1.25M178.4 324.0h1.25M193.4 307.7h1.25M172.7 312.7h1.25M196.6 309.2h1.25M151.9 324.5h1.25M164.8 302.2h1.25M208.1 315.9h1.25M188.9 318.1h1.25M176.4 323.7h1.25M212.6 292.1h1.25M199.1 296.1h1.25M200.0 307.0h1.25M181.9 314.8h1.25M194.1 319.1h1.25M192.8 319.7h1.25M193.8 325.2h1.25M184.7 324.4h1.25M201.9 311.6h1.25M202.1 326.7h1.25M179.3 325.6h1.25M179.7 325.4h1.25M189.1 316.0h1.25M194.5 324.8h1.25M182.0 335.6h1.25M185.5 307.9h1.25M194.0 291.6h1.25M191.8 327.1h1.25M200.4 326.1h1.25M189.6 314.6h1.25M176.4 312.1h1.25M196.3 311.8h1.25M182.9 302.8h1.25M182.7 311.6h1.25M183.4 323.3h1.25M168.3 310.0h1.25M182.2 312.7h1.25M156.2 321.0h1.25M182.1 312.2h1.25M176.3 318.8h1.25M208.4 316.8h1.25M192.0 304.6h1.25M184.3 318.2h1.25M188.7 303.5h1.25M195.4 328.4h1.25M177.9 306.2h1.25M184.1 314.5h1.25M182.6 295.6h1.25M216.0 312.0h1.25M187.6 302.4h1.25M163.6 335.1h1.25M196.2 315.8h1.25M217.2 323.5h1.25M175.5 296.4h1.25M227.8 302.5h1.25M186.0 315.2h1.25M198.6 301.1h1.25M180.1 330.9h1.25M183.6 312.5h1.25M172.2 319.0h1.25M174.3 320.9h1.25M161.4 315.5h1.25M200.3 326.5h1.25M173.2 309.2h1.25M191.1 321.6h1.25M190.6 331.5h1.25M179.1 319.8h1.25M187.3 318.7h1.25M185.6 313.3h1.25M180.9 317.9h1.25M187.3 325.2h1.25M187.3 314.3h1.25M174.7 297.3h1.25M171.4 319.2h1.25M176.7 315.4h1.25M188.1 322.8h1.25M203.1 317.7h1.25M204.1 335.9h1.25M190.4 302.9h1.25M197.9 305.7h1.25M188.2 324.9h1.25M199.8 305.0h1.25M188.2 321.1h1.25M191.4 317.0h1.25M183.3 293.9h1.25M186.6 325.1h1.25M209.2 333.4h1.25M172.5 319.6h1.25M186.7 300.6h1.25M179.7 326.5h1.25M198.1 304.9h1.25M208.2 315.7h1.25M183.0 322.0h1.25M153.7 308.0h1.25M194.0 297.2h1.25M194.0 315.5h1.25M166.7 316.6h1.25M183.8 307.1h1.25M185.9 307.9h1.25M159.2 325.9h1.25M194.7 316.1h1.25M191.9 311.6h1.25M189.5 310.1h1.25M174.0 319.1h1.25M178.2 318.2h1.25M179.1 315.1h1.25M192.3 300.8h1.25M174.9 312.8h1.25M204.1 309.7h1.25M191.1 317.9h1.25M160.7 330.7h1.25M206.7 328.3h1.25M188.5 324.6h1.25M180.1 318.4h1.25M187.8 313.3h1.25M164.8 321.0h1.25M188.9 311.5h1.25M157.3 313.1h1.25M174.4 307.2h1.25M202.8 316.5h1.25M201.6 316.2h1.25M182.5 338.7h1.25M175.0 323.6h1.25M197.7 312.7h1.25M186.0 326.2h1.25M189.1 311.6h1.25M194.0 328.9h1.25M173.7 326.2h1.25M161.3 304.4h1.25M204.0 316.2h1.25M167.8 315.7h1.25M179.0 320.5h1.25M178.5 325.4h1.25M195.2 305.7h1.25M195.4 308.6h1.25M190.8 320.6h1.25M193.0 328.4h1.25M192.1 304.0h1.25M185.6 299.0h1.25M163.6 330.4h1.25M158.9 326.9h1.25M158.9 329.7h1.25M185.9 305.8h1.25M183.8 314.8h1.25M184.8 319.7h1.25M189.2 322.2h1.25M183.6 315.7h1.25M174.5 316.5h1.25M168.4 328.8h1.25M163.7 312.0h1.25M201.0 310.7h1.25M197.3 312.1h1.25M170.2 311.2h1.25M183.1 318.6h1.25M191.7 314.7h1.25M205.6 312.0h1.25M179.2 333.6h1.25M188.5 320.6h1.25M200.3 313.2h1.25M165.6 331.7h1.25M177.6 310.7h1.25M185.9 317.1h1.25M177.7 316.0h1.25M211.8 310.5h1.25M196.8 312.7h1.25M188.7 318.1h1.25M174.9 300.6h1.25M196.8 312.6h1.25M194.0 320.0h1.25M180.2 320.3h1.25M181.2 320.5h1.25M185.4 324.7h1.25M196.8 315.4h1.25M198.4 315.7h1.25M193.3 317.1h1.25M196.3 322.1h1.25M179.3 313.7h1.25M180.7 334.4h1.25M200.8 304.4h1.25M191.8 324.3h1.25M176.8 322.9h1.25M192.4 304.0h1.25M196.3 324.3h1.25M194.8 323.4h1.25M187.6 309.7h1.25M191.1 325.2h1.25M206.7 313.3h1.25M188.1 311.6h1.25M178.3 308.6h1.25M190.4 320.0h1.25M171.5 317.8h1.25M189.1 300.9h1.25M182.7 305.2h1.25M197.8 308.9h1.25M187.5 312.5h1.25M198.9 312.9h1.25M213.9 309.4h1.25M183.7 324.4h1.25M176.3 327.9h1.25M191.8 317.9h1.25M185.2 292.0h1.25M188.0 315.3h1.25M179.1 323.5h1.25M192.9 316.1h1.25M187.1 320.2h1.25M160.4 318.2h1.25M183.4 300.0h1.25M190.3 288.2h1.25M200.4 324.1h1.25M179.4 311.1h1.25M176.7 321.8h1.25M200.0 313.6h1.25M179.0 315.1h1.25M187.5 332.7h1.25M191.9 303.4h1.25M195.1 316.9h1.25M186.4 304.6h1.25M173.0 317.9h1.25M198.3 322.5h1.25M181.1 324.5h1.25M180.0 318.8h1.25M210.2 301.3h1.25M196.8 319.8h1.25M173.6 327.2h1.25M180.5 328.4h1.25M183.3 341.4h1.25M177.3 323.4h1.25M163.3 305.4h1.25M195.8 311.1h1.25M195.5 318.0h1.25M189.2 329.0h1.25M181.4 304.0h1.25M188.8 327.4h1.25M193.9 324.5h1.25M173.8 307.1h1.25M182.3 324.0h1.25M179.6 308.3h1.25M194.5 317.0h1.25M189.4 313.6h1.25M170.7 319.7h1.25M178.9 303.6h1.25M207.3 323.0h1.25M174.6 292.3h1.25M188.0 312.4h1.25M178.7 310.6h1.25M201.1 335.0h1.25M185.4 323.2h1.25M181.0 311.5h1.25M172.2 306.9h1.25M183.3 317.4h1.25M196.1 309.9h1.25M170.4 285.4h1.25M204.8 317.8h1.25M183.3 289.1h1.25M173.6 328.9h1.25M187.7 307.9h1.25M178.8 335.3h1.25M179.3 310.8h1.25M178.6 329.4h1.25M185.1 319.4h1.25M180.2 330.5h1.25M165.8 317.3h1.25M192.4 283.2h1.25M179.9 308.8h1.25M200.4 299.3h1.25M192.5 327.8h1.25M193.5 323.2h1.25M188.3 317.1h1.25M201.6 322.2h1.25M182.2 319.3h1.25M174.3 310.5h1.25M190.2 339.3h1.25M153.8 319.8h1.25M181.7 314.8h1.25M188.7 300.3h1.25M181.2 310.0h1.25M201.1 317.2h1.25M194.5 315.0h1.25M187.5 311.6h1.25M181.4 316.5h1.25M199.1 304.2h1.25M178.0 317.1h1.25M181.2 299.4h1.25M195.0 307.2h1.25M193.2 308.6h1.25M210.3 327.0h1.25M183.5 322.6h1.25M163.8 317.9h1.25M193.9 303.9h1.25M201.0 312.5h1.25M184.1 326.2h1.25M204.6 331.3h1.25M207.2 300.3h1.25M178.2 312.1h1.25M180.4 318.3h1.25M171.2 321.0h1.25M192.5 317.2h1.25M194.6 324.7h1.25M193.3 300.6h1.25M171.4 334.8h1.25M177.0 304.0h1.25M169.1 317.8h1.25M166.9 323.0h1.25M170.1 330.4h1.25M167.3 327.4h1.25M183.9 327.0h1.25M191.1 331.7h1.25M193.5 315.4h1.25M185.8 325.7h1.25M178.1 334.7h1.25M185.9 308.5h1.25M192.8 301.2h1.25M182.5 305.7h1.25M186.7 333.3h1.25M182.4 331.3h1.25M179.8 313.1h1.25M186.4 320.0h1.25M172.8 322.6h1.25M198.5 329.2h1.25M167.5 295.7h1.25M191.5 310.8h1.25M169.9 314.2h1.25M203.9 320.8h1.25M196.3 318.1h1.25M176.4 313.6h1.25M180.7 320.5h1.25M172.6 287.8h1.25M190.9 326.6h1.25M216.3 327.4h1.25M169.8 309.7h1.25M200.7 322.0h1.25M179.1 340.8h1.25M189.3 338.1h1.25M196.4 318.1h1.25M192.4 303.1h1.25M191.0 319.1h1.25M183.7 313.8h1.25M185.9 327.0h1.25M187.8 302.6h1.25M200.2 315.1h1.25M168.6 320.4h1.25M180.2 311.9h1.25M171.2 329.4h1.25M174.6 304.3h1.25M176.6 303.1h1.25M199.0 313.3h1.25M211.4 326.8h1.25M202.0 313.8h1.25M172.0 310.5h1.25M186.9 326.5h1.25M172.6 319.9h1.25M191.3 311.2h1.25M201.0 318.7h1.25M192.9 314.6h1.25M196.3 324.3h1.25M184.3 318.9h1.25M162.7 308.1h1.25M162.6 311.8h1.25M184.8 312.5h1.25M192.8 321.6h1.25M201.0 321.6h1.25M181.9 307.7h1.25M186.9 315.1h1.25M189.0 320.8h1.25M198.6 329.9h1.25M185.2 320.2h1.25M198.8 317.6h1.25M190.9 325.7h1.25M190.5 313.5h1.25M171.0 305.9h1.25M185.9 318.5h1.25M165.7 322.8h1.25M162.3 321.0h1.25M183.2 319.0h1.25M180.9 313.5h1.25M192.7 307.9h1.25M203.0 313.8h1.25M185.6 322.7h1.25M207.1 328.3h1.25M179.0 279.5h1.25M195.0 324.3h1.25M171.0 329.7h1.25M187.5 331.8h1.25M182.3 321.7h1.25M183.5 325.0h1.25M192.9 312.2h1.25M163.7 316.3h1.25M187.4 323.3h1.25M176.4 304.7h1.25M187.4 308.2h1.25M190.6 319.5h1.25M181.6 301.9h1.25M181.6 317.9h1.25M172.4 300.2h1.25M192.5 319.5h1.25M178.1 317.6h1.25M191.2 310.8h1.25M169.2 306.4h1.25M202.1 311.4h1.25M173.9 291.5h1.25M199.7 312.7h1.25M180.7 318.6h1.25M192.4 331.1h1.25M184.3 311.4h1.25M194.0 315.3h1.25M186.0 333.3h1.25M201.0 337.2h1.25M193.9 311.7h1.25M194.0 329.3h1.25M205.7 330.8h1.25M177.8 323.2h1.25M201.4 305.9h1.25M186.8 306.4h1.25M168.5 323.9h1.25M183.6 315.2h1.25M205.9 335.3h1.25M180.2 339.1h1.25M186.6 302.9h1.25M188.8 310.4h1.25M163.5 334.7h1.25M192.0 328.5h1.25M174.3 323.6h1.25M202.6 317.1h1.25M205.6 324.5h1.25M185.9 310.0h1.25M188.1 304.0h1.25M188.1 296.6h1.25M194.5 319.0h1.25M182.5 333.9h1.25M172.0 311.6h1.25M184.3 316.7h1.25M175.1 305.5h1.25M206.9 316.4h1.25M177.7 305.6h1.25M178.3 305.7h1.25M185.4 300.3h1.25M171.4 311.0h1.25M180.7 338.7h1.25M184.4 316.6h1.25M180.2 319.5h1.25M200.6 310.0h1.25M191.1 305.8h1.25M170.2 323.3h1.25M180.9 303.1h1.25M194.8 321.1h1.25M178.3 330.6h1.25M187.0 304.8h1.25M185.7 311.3h1.25M192.2 336.8h1.25M183.9 305.1h1.25M184.3 309.4h1.25M175.9 320.0h1.25M190.2 313.6h1.25M175.1 307.4h1.25M206.4 335.7h1.25M185.8 310.6h1.25M183.4 321.1h1.25M195.3 312.5h1.25M185.0 314.6h1.25M187.0 301.4h1.25M185.4 328.0h1.25M177.5 312.3h1.25M175.1 332.0h1.25M177.8 303.8h1.25M199.3 311.7h1.25M178.6 322.8h1.25M181.2 318.5h1.25M180.7 309.7h1.25M194.2 315.7h1.25M209.3 302.3h1.25M175.1 317.9h1.25M192.5 286.7h1.25M187.4 319.3h1.25M182.4 332.9h1.25M192.0 327.6h1.25M171.0 327.1h1.25M195.8 312.4h1.25M188.6 322.9h1.25M174.3 312.6h1.25M204.8 316.2h1.25M196.0 316.1h1.25M199.7 278.4h1.25M168.9 327.9h1.25M182.8 322.5h1.25M179.8 327.0h1.25M193.4 306.3h1.25M201.9 325.3h1.25M163.6 322.8h1.25M186.2 291.5h1.25M184.5 296.9h1.25M197.8 317.9h1.25M185.5 309.6h1.25M171.0 317.1h1.25M183.7 309.9h1.25M173.8 334.5h1.25M176.8 295.3h1.25M186.5 301.5h1.25M180.3 306.0h1.25M189.3 301.5h1.25M168.1 310.6h1.25M213.3 316.9h1.25M200.8 301.8h1.25M194.4 321.5h1.25M170.8 332.4h1.25M160.6 329.9h1.25M183.3 330.4h1.25M212.2 316.9h1.25M201.4 337.9h1.25M179.8 325.5h1.25M200.2 339.0h1.25M200.4 315.1h1.25M186.2 293.0h1.25M200.3 303.8h1.25M189.9 319.4h1.25M178.3 323.7h1.25M172.2 315.0h1.25M184.6 328.9h1.25M197.7 304.1h1.25M170.1 309.2h1.25M167.1 328.8h1.25M192.5 318.0h1.25M154.1 318.5h1.25M207.4 333.6h1.25M180.8 330.0h1.25M194.6 308.2h1.25M207.9 319.7h1.25M168.9 297.7h1.25M173.6 317.3h1.25M212.4 321.9h1.25M182.7 297.4h1.25M184.5 335.5h1.25M198.4 323.2h1.25M201.6 328.1h1.25M187.3 334.8h1.25M182.1 315.5h1.25M185.6 329.5h1.25M189.6 321.9h1.25M201.4 299.8h1.25M187.6 307.0h1.25M207.4 310.9h1.25M175.9 329.9h1.25M192.3 318.6h1.25M206.6 328.9h1.25M201.1 312.0h1.25M189.9 302.7h1.25M184.2 321.9h1.25M189.7 315.2h1.25M183.1 331.2h1.25M168.9 304.7h1.25M177.3 315.1h1.25M192.1 300.9h1.25M195.8 323.1h1.25M169.5 320.4h1.25M181.7 312.9h1.25M166.3 310.0h1.25M179.4 300.0h1.25M227.7 308.0h1.25M186.7 331.7h1.25M181.9 313.4h1.25M179.1 332.1h1.25M171.8 307.5h1.25M164.1 316.6h1.25M185.5 312.2h1.25M182.8 314.5h1.25M203.4 326.4h1.25M166.8 293.8h1.25M191.1 326.1h1.25M201.8 325.6h1.25M163.0 317.6h1.25M193.7 318.4h1.25M167.1 315.0h1.25M192.1 325.5h1.25M203.4 318.2h1.25M186.0 307.7h1.25M189.4 319.3h1.25M177.8 328.5h1.25M189.4 321.8h1.25M199.3 317.9h1.25M183.9 319.9h1.25M184.4 311.8h1.25M190.6 312.2h1.25M195.7 295.8h1.25M166.8 315.4h1.25M186.7 328.9h1.25M177.9 313.0h1.25M191.8 307.1h1.25M198.2 327.9h1.25M189.7 319.4h1.25M201.2 319.2h1.25M174.4 323.0h1.25M181.2 325.6h1.25M174.4 317.0h1.25M186.7 307.9h1.25M187.1 337.6h1.25M183.7 318.2h1.25M171.7 308.6h1.25M185.1 319.7h1.25M180.9 331.2h1.25M193.1 301.2h1.25M182.8 332.6h1.25M199.7 316.0h1.25M188.7 340.5h1.25M164.2 325.2h1.25M184.0 316.3h1.25M169.2 331.9h1.25M197.4 332.2h1.25M202.9 313.5h1.25M185.7 320.2h1.25M191.2 311.6h1.25M169.0 328.1h1.25M159.6 301.4h1.25M179.5 315.5h1.25M183.0 293.1h1.25M168.2 324.3h1.25M187.1 292.0h1.25M189.7 305.4h1.25M193.6 320.6h1.25M204.2 313.5h1.25M195.5 312.5h1.25M181.7 306.5h1.25M187.3 312.2h1.25M193.1 297.5h1.25M173.7 321.2h1.25M201.6 326.8h1.25M196.6 326.3h1.25M183.4 317.1h1.25M178.5 331.5h1.25M230.8 322.8h1.25M195.9 328.5h1.25M197.1 322.0h1.25M207.2 317.9h1.25M197.6 308.9h1.25M188.5 287.4h1.25M194.3 324.9h1.25M175.3 316.2h1.25M194.5 340.3h1.25M167.9 294.9h1.25M191.0 327.2h1.25M192.6 306.7h1.25M167.7 317.5h1.25M208.7 307.4h1.25M172.5 321.5h1.25M198.4 317.2h1.25M179.9 327.6h1.25M189.8 319.2h1.25M178.3 323.0h1.25M215.4 332.1h1.25M198.3 323.5h1.25M207.4 316.0h1.25M195.4 331.7h1.25M194.3 316.3h1.25M187.9 322.2h1.25M183.4 313.9h1.25M193.3 310.0h1.25M188.1 283.3h1.25M184.4 325.5h1.25M170.0 304.4h1.25M182.6 326.0h1.25M193.3 338.2h1.25M180.7 302.5h1.25M190.3 327.6h1.25M184.6 316.5h1.25M174.1 322.8h1.25M175.6 303.9h1.25M177.5 317.9h1.25M182.8 319.4h1.25M183.2 333.9h1.25M173.5 321.2h1.25M162.2 313.4h1.25M180.9 316.4h1.25M184.9 317.0h1.25M216.3 318.8h1.25M203.5 322.9h1.25M193.2 325.7h1.25M197.4 311.1h1.25M187.7 316.4h1.25M197.6 339.1h1.25M179.1 335.9h1.25M177.9 322.7h1.25M180.8 320.8h1.25M204.9 315.0h1.25M204.7 329.4h1.25M179.2 311.8h1.25M200.0 319.1h1.25M184.5 312.5h1.25M199.0 310.5h1.25M182.6 318.1h1.25M197.6 317.7h1.25M185.0 311.1h1.25M183.0 316.9h1.25M186.1 318.5h1.25M188.2 312.3h1.25M179.5 310.2h1.25M170.2 316.1h1.25M206.4 325.7h1.25M181.7 330.3h1.25M164.9 319.8h1.25M159.6 314.6h1.25M153.3 317.3h1.25M179.2 339.5h1.25M202.4 328.1h1.25M167.1 306.8h1.25M182.6 317.1h1.25M164.7 311.7h1.25M199.4 313.5h1.25M190.7 298.5h1.25M190.2 318.0h1.25M202.4 302.2h1.25M205.9 311.0h1.25M198.6 335.0h1.25M179.6 329.1h1.25M170.8 307.8h1.25M174.1 305.9h1.25M165.7 307.3h1.25M207.8 296.2h1.25M184.2 306.5h1.25M188.0 314.6h1.25M188.8 305.8h1.25M210.3 326.3h1.25M179.8 317.1h1.25M200.4 311.6h1.25M190.1 337.7h1.25M184.7 325.8h1.25M163.8 318.5h1.25M197.3 338.8h1.25M177.7 332.7h1.25M181.0 309.7h1.25M189.1 321.4h1.25M187.6 312.7h1.25M199.8 301.3h1.25M178.5 339.4h1.25M188.4 334.9h1.25M189.8 303.2h1.25M186.8 323.3h1.25M194.5 299.0h1.25M183.5 330.0h1.25M200.8 317.1h1.25M178.1 314.4h1.25M169.5 332.1h1.25M186.0 317.8h1.25M200.5 314.8h1.25M180.4 328.2h1.25M179.1 314.3h1.25M182.4 327.7h1.25M188.4 317.7h1.25M184.4 327.2h1.25M190.2 324.9h1.25M166.1 326.8h1.25M204.2 306.2h1.25M193.4 339.3h1.25M176.3 315.9h1.25M202.7 337.9h1.25M191.8 310.9h1.25M203.9 314.6h1.25M172.6 314.7h1.25M206.1 331.0h1.25M187.0 312.8h1.25M162.1 322.5h1.25M195.4 299.7h1.25M182.9 312.2h1.25M174.5 320.3h1.25M183.9 316.5h1.25M163.5 296.2h1.25M193.4 323.5h1.25M183.9 306.6h1.25M183.3 340.1h1.25M203.2 315.5h1.25M178.7 325.4h1.25M175.2 323.0h1.25M185.8 312.2h1.25M199.1 316.4h1.25M179.6 323.0h1.25M174.2 295.3h1.25M197.4 329.2h1.25M187.2 304.2h1.25M186.2 314.7h1.25M211.2 286.2h1.25M172.1 323.0h1.25M188.8 326.4h1.25M165.5 321.0h1.25M182.9 321.5h1.25M193.4 313.4h1.25M199.8 319.5h1.25M171.4 331.7h1.25M196.4 312.8h1.25M195.8 323.5h1.25M185.0 326.1h1.25M215.6 315.0h1.25M186.5 320.5h1.25M176.1 320.3h1.25M191.5 312.0h1.25M205.0 312.7h1.25M198.2 337.5h1.25M181.8 330.1h1.25M193.8 294.1h1.25M192.8 320.6h1.25M209.4 329.7h1.25M179.2 327.2h1.25M171.2 307.2h1.25M162.4 320.7h1.25M183.0 303.8h1.25M167.9 305.7h1.25M184.4 314.9h1.25M191.3 319.9h1.25M181.2 336.4h1.25M175.3 321.9h1.25M200.6 330.0h1.25M184.1 303.8h1.25M189.2 304.3h1.25M197.7 312.1h1.25M171.0 338.1h1.25M175.6 302.1h1.25M216.1 299.3h1.25M184.6 316.8h1.25M174.1 331.5h1.25M183.5 298.7h1.25M179.7 314.8h1.25M171.9 301.9h1.25M181.6 334.6h1.25M186.2 325.7h1.25M186.3 320.9h1.25M192.8 317.1h1.25M165.9 314.9h1.25M168.8 319.3h1.25M195.8 310.1h1.25M181.2 307.4h1.25M200.9 304.7h1.25M190.1 317.8h1.25M169.8 308.4h1.25M192.8 327.9h1.25M174.5 293.2h1.25M189.5 324.3h1.25M201.0 323.9h1.25M211.5 331.8h1.25M185.7 314.7h1.25M194.7 300.1h1.25M190.0 306.9h1.25M195.8 330.9h1.25M156.3 314.1h1.25M181.9 312.8h1.25M189.9 310.8h1.25M192.0 316.9h1.25M177.6 315.0h1.25M196.2 299.5h1.25M199.5 310.7h1.25M187.3 329.4h1.25M183.8 334.5h1.25M182.3 316.2h1.25M188.1 311.6h1.25M200.4 333.5h1.25M204.2 315.6h1.25M180.9 303.9h1.25M175.5 316.2h1.25M177.1 325.7h1.25M198.1 335.8h1.25M189.1 311.9h1.25M190.0 323.9h1.25M192.2 313.8h1.25M190.9 330.9h1.25M185.0 320.6h1.25M174.2 320.7h1.25M179.2 306.1h1.25M187.9 313.9h1.25M191.1 313.8h1.25M182.1 275.6h1.25M181.6 327.6h1.25M202.6 317.5h1.25M181.0 315.2h1.25M189.1 313.4h1.25M182.7 317.9h1.25M176.3 320.4h1.25M168.6 302.4h1.25M180.1 319.1h1.25M176.8 318.9h1.25M196.5 317.9h1.25M172.9 300.3h1.25M181.6 316.0h1.25M194.2 302.6h1.25M185.2 321.7h1.25M192.3 333.0h1.25M196.3 327.8h1.25M166.9 313.6h1.25M181.6 311.3h1.25M175.2 311.0h1.25M202.4 321.7h1.25M185.1 309.8h1.25M192.3 311.3h1.25M206.5 288.3h1.25M182.3 307.7h1.25M187.4 308.4h1.25M191.3 311.3h1.25M183.3 331.8h1.25M201.2 301.8h1.25M196.1 302.1h1.25M198.2 324.6h1.25M187.0 306.1h1.25M182.4 315.7h1.25M182.3 319.6h1.25M182.2 317.8h1.25M167.2 308.5h1.25M190.7 328.3h1.25M196.0 335.1h1.25M186.4 305.9h1.25M180.7 314.4h1.25M186.9 328.5h1.25M189.1 315.2h1.25M190.3 305.9h1.25M207.5 312.6h1.25M176.4 327.3h1.25M190.7 306.0h1.25M194.5 320.5h1.25M187.4 322.0h1.25M183.7 310.0h1.25M174.5 324.2h1.25M179.5 325.3h1.25M194.7 329.2h1.25M203.4 328.4h1.25M178.8 300.2h1.25M192.0 328.0h1.25M192.5 324.4h1.25M198.2 329.0h1.25M189.3 307.7h1.25M191.6 328.1h1.25M196.9 321.9h1.25M172.9 304.1h1.25M187.0 332.4h1.25M165.9 308.5h1.25M163.5 305.7h1.25M176.8 322.2h1.25M168.5 310.5h1.25M192.3 321.8h1.25M198.0 314.7h1.25M182.9 320.9h1.25M184.8 327.1h1.25M183.7 317.2h1.25M183.4 327.7h1.25M188.0 327.5h1.25M190.5 307.8h1.25M181.1 327.6h1.25M177.3 324.8h1.25M180.4 319.2h1.25M195.7 330.6h1.25M181.5 336.9h1.25M203.3 326.5h1.25M183.6 300.5h1.25M202.3 322.8h1.25M172.6 316.1h1.25M178.4 314.5h1.25M192.0 321.6h1.25M192.1 313.8h1.25M184.6 336.6h1.25M210.1 320.8h1.25M187.2 317.9h1.25M189.8 326.8h1.25M179.8 327.0h1.25M205.6 331.4h1.25M196.3 325.0h1.25M191.2 317.2h1.25M167.4 319.2h1.25M190.6 292.6h1.25M181.0 300.6h1.25M190.9 329.8h1.25M197.0 313.9h1.25M177.7 338.8h1.25M188.9 338.6h1.25M196.6 303.1h1.25M188.3 321.3h1.25M174.1 308.5h1.25M178.7 322.3h1.25M171.7 315.0h1.25M197.8 314.9h1.25M187.6 314.4h1.25M172.3 317.5h1.25M186.3 326.6h1.25M171.5 308.3h1.25M148.4 323.6h1.25M200.3 309.5h1.25M199.9 323.8h1.25M169.3 321.4h1.25M178.1 308.7h1.25M188.7 319.3h1.25M181.9 309.1h1.25M176.5 307.9h1.25M180.4 331.3h1.25M183.6 296.5h1.25M180.0 324.2h1.25M188.8 325.9h1.25M183.7 310.8h1.25M177.6 330.4h1.25M186.6 328.3h1.25M167.2 302.6h1.25M203.0 323.8h1.25M166.3 323.1h1.25M185.4 309.1h1.25M190.3 324.4h1.25M191.1 326.4h1.25M189.3 309.3h1.25M200.9 294.5h1.25M173.4 322.4h1.25M185.5 309.1h1.25M188.0 297.7h1.25M180.6 313.2h1.25M179.5 290.0h1.25M201.2 313.8h1.25M178.1 335.2h1.25M180.8 284.5h1.25M183.1 323.0h1.25M183.9 306.9h1.25M188.2 312.9h1.25M183.9 307.1h1.25M190.6 325.1h1.25M187.9 317.6h1.25M191.8 308.6h1.25M202.1 302.5h1.25M176.6 312.7h1.25M205.3 331.1h1.25M181.1 303.6h1.25M193.9 322.6h1.25M188.1 321.7h1.25M182.9 294.4h1.25M163.7 330.6h1.25M204.8 317.2h1.25M177.2 338.0h1.25M198.5 314.8h1.25M187.1 315.9h1.25M208.1 306.0h1.25M205.6 301.7h1.25M194.4 327.0h1.25M189.2 314.8h1.25M195.0 313.0h1.25M171.2 315.7h1.25M188.2 325.7h1.25M188.0 328.7h1.25M180.9 317.7h1.25M189.2 315.4h1.25M169.5 318.9h1.25M201.0 293.4h1.25M171.4 304.2h1.25M187.9 323.3h1.25M204.0 319.4h1.25M191.1 332.1h1.25M194.1 279.4h1.25M205.2 286.9h1.25M159.1 294.6h1.25M182.5 301.0h1.25M168.4 302.8h1.25M188.5 265.0h1.25M175.4 296.8h1.25M187.1 325.5h1.25M160.0 302.7h1.25M175.1 306.3h1.25M163.8 297.7h1.25M168.0 297.4h1.25M164.8 308.2h1.25M155.2 288.8h1.25M190.9 301.3h1.25M177.3 279.0h1.25M190.6 309.7h1.25M155.8 284.8h1.25M139.9 325.1h1.25M161.6 326.7h1.25M169.9 281.0h1.25M185.6 316.2h1.25M190.0 297.2h1.25M192.7 322.8h1.25M198.0 293.5h1.25M184.6 300.3h1.25M174.3 302.2h1.25M159.7 330.9h1.25M183.9 272.8h1.25M164.1 321.8h1.25M159.0 311.6h1.25M182.2 297.2h1.25M176.1 302.6h1.25M186.7 320.0h1.25M160.5 323.4h1.25M192.0 331.6h1.25M178.4 295.4h1.25M169.6 276.3h1.25M159.8 300.5h1.25M154.5 307.6h1.25M149.7 304.5h1.25M195.8 322.9h1.25M183.0 311.4h1.25M168.3 278.3h1.25M162.8 326.4h1.25M164.5 298.0h1.25M170.8 308.2h1.25M187.5 318.2h1.25M181.8 311.4h1.25M172.4 306.0h1.25M149.6 316.5h1.25M142.7 325.7h1.25M203.6 311.4h1.25M146.2 262.5h1.25M191.2 290.4h1.25M147.4 302.4h1.25M184.8 318.4h1.25M188.0 307.7h1.25M176.6 320.5h1.25M188.5 280.1h1.25M149.2 308.1h1.25M152.0 322.0h1.25M169.2 306.9h1.25M172.4 300.5h1.25M171.0 312.0h1.25M180.2 333.0h1.25M160.1 274.5h1.25M179.2 310.4h1.25M168.6 293.6h1.25M186.0 315.4h1.25M207.1 300.9h1.25M173.7 327.0h1.25M182.1 291.8h1.25M157.4 326.2h1.25M187.5 289.0h1.25M178.1 311.3h1.25M176.5 317.9h1.25M187.6 302.7h1.25M153.5 321.6h1.25M181.8 295.3h1.25M180.0 323.3h1.25M198.9 293.4h1.25M142.2 301.4h1.25M170.9 305.5h1.25M209.0 299.0h1.25M165.6 294.5h1.25M165.1 321.9h1.25M202.1 299.1h1.25M214.2 308.9h1.25M174.3 281.9h1.25M160.4 287.6h1.25M162.5 304.7h1.25M165.8 291.9h1.25M158.3 307.8h1.25M158.9 319.2h1.25M175.3 325.1h1.25M173.0 331.5h1.25M180.3 318.7h1.25M172.8 295.3h1.25M152.2 320.4h1.25M184.7 296.0h1.25M176.5 315.4h1.25M162.6 291.6h1.25M167.8 330.5h1.25M177.7 313.0h1.25M173.6 302.1h1.25M170.2 285.0h1.25M185.1 309.3h1.25M190.1 294.9h1.25M167.1 312.4h1.25M172.0 295.4h1.25M153.8 301.9h1.25M169.5 318.1h1.25M180.3 330.2h1.25M186.8 283.3h1.25M175.1 303.4h1.25M170.9 314.0h1.25M160.4 307.0h1.25M175.9 299.2h1.25M174.4 292.8h1.25M172.7 313.2h1.25M157.2 302.1h1.25M177.8 304.5h1.25M168.8 269.9h1.25M182.3 320.0h1.25M164.2 305.3h1.25M180.4 289.5h1.25M198.4 329.7h1.25M175.3 302.0h1.25M185.5 294.4h1.25M161.6 295.3h1.25M166.4 326.2h1.25M140.8 314.0h1.25M169.8 302.6h1.25M153.5 289.0h1.25M174.2 291.8h1.25M137.9 319.9h1.25M157.9 309.8h1.25M173.7 273.5h1.25M178.8 291.4h1.25M144.7 316.6h1.25M215.0 286.2h1.25M185.4 267.6h1.25M174.9 319.5h1.25M156.9 288.3h1.25M180.9 314.9h1.25M176.2 302.6h1.25M179.8 289.7h1.25M188.2 282.2h1.25M173.9 304.9h1.25M186.4 305.9h1.25M142.4 283.6h1.25M213.9 315.3h1.25M167.3 287.1h1.25M161.5 332.8h1.25M197.2 307.8h1.25M182.3 302.1h1.25M188.4 309.6h1.25M161.9 299.5h1.25M176.9 305.2h1.25M184.1 332.3h1.25M153.3 301.5h1.25M168.6 321.6h1.25M168.2 293.1h1.25M167.4 307.9h1.25M160.6 325.7h1.25M151.2 291.5h1.25M179.4 311.4h1.25M176.3 270.7h1.25M191.4 284.3h1.25M171.1 300.5h1.25M161.0 324.2h1.25M148.1 324.0h1.25M173.6 291.8h1.25M167.0 306.1h1.25M205.7 303.7h1.25M210.3 273.6h1.25M198.4 309.1h1.25M157.1 332.8h1.25M149.0 332.6h1.25M168.3 298.2h1.25M157.3 303.5h1.25M195.8 287.0h1.25M174.1 298.6h1.25M165.4 304.5h1.25M171.9 318.7h1.25M193.1 304.5h1.25M156.5 295.0h1.25M180.3 319.3h1.25M150.2 326.4h1.25M168.7 297.8h1.25M161.2 305.4h1.25M177.4 304.5h1.25M174.7 279.4h1.25M192.1 305.6h1.25M183.6 316.2h1.25M150.1 314.9h1.25M158.6 305.3h1.25M165.0 306.3h1.25M168.3 318.3h1.25M159.5 323.1h1.25M190.1 289.4h1.25M187.7 307.4h1.25M167.6 319.1h1.25M163.9 275.5h1.25M168.2 331.0h1.25M171.4 303.9h1.25M171.7 321.9h1.25M145.2 312.0h1.25M165.0 304.7h1.25M140.9 312.4h1.25M172.7 312.0h1.25M183.3 319.6h1.25M154.4 306.5h1.25M174.9 288.2h1.25M161.9 297.8h1.25M160.5 293.4h1.25M204.8 313.5h1.25M186.9 288.5h1.25M180.2 331.1h1.25M164.9 311.0h1.25M178.9 304.6h1.25M168.9 329.8h1.25M179.7 299.8h1.25M157.1 305.5h1.25M170.9 320.7h1.25M165.5 321.1h1.25M148.6 295.6h1.25M185.7 314.2h1.25M158.9 289.2h1.25M147.7 309.5h1.25M160.0 325.4h1.25M158.1 314.0h1.25M161.9 323.8h1.25M158.3 325.8h1.25M178.9 317.6h1.25M139.1 303.1h1.25M172.0 332.8h1.25M155.6 299.3h1.25M154.7 327.1h1.25M166.7 319.6h1.25M160.6 295.9h1.25M183.7 293.7h1.25M183.7 302.5h1.25M167.0 315.5h1.25M161.3 332.2h1.25M201.9 303.1h1.25M203.2 333.3h1.25M178.5 321.2h1.25M169.5 297.8h1.25M188.9 294.3h1.25M196.3 304.6h1.25M163.3 301.1h1.25M202.2 300.6h1.25M169.4 321.6h1.25M190.3 308.8h1.25M163.4 326.1h1.25M173.2 296.5h1.25M164.5 295.4h1.25M172.5 284.8h1.25M189.1 275.2h1.25M157.0 303.8h1.25M167.1 310.4h1.25M181.2 303.2h1.25M164.2 310.0h1.25M206.1 335.6h1.25M147.5 295.1h1.25M214.5 295.4h1.25M161.0 302.5h1.25M188.4 290.0h1.25M199.1 325.5h1.25M181.0 306.1h1.25M148.4 334.0h1.25M166.4 290.8h1.25M188.5 290.7h1.25M190.9 304.5h1.25M196.8 301.4h1.25M156.1 321.0h1.25M188.7 283.5h1.25M142.7 322.2h1.25M174.5 320.2h1.25M154.1 302.2h1.25M142.1 276.8h1.25M187.5 294.1h1.25M171.5 302.1h1.25M188.7 318.0h1.25M145.4 303.6h1.25M151.5 293.5h1.25M170.4 319.2h1.25M160.8 317.0h1.25M173.2 320.6h1.25M161.5 311.5h1.25M166.3 327.4h1.25M152.8 321.0h1.25M193.6 274.6h1.25M166.6 313.0h1.25M152.1 325.5h1.25M183.5 307.0h1.25M180.2 331.4h1.25M175.7 300.3h1.25M175.8 319.5h1.25M165.4 289.5h1.25M169.8 309.1h1.25M134.7 307.0h1.25M145.8 297.3h1.25M151.3 291.1h1.25M176.9 311.4h1.25M192.6 311.7h1.25M169.2 298.7h1.25M167.5 289.0h1.25M191.0 290.3h1.25M165.9 322.6h1.25M183.1 286.5h1.25M179.3 326.2h1.25M149.6 285.4h1.25M177.3 312.3h1.25M175.5 319.1h1.25M152.6 332.9h1.25M154.5 305.1h1.25M150.5 300.3h1.25M195.2 280.4h1.25M207.7 316.7h1.25M184.0 304.2h1.25M198.5 295.8h1.25M149.3 306.3h1.25M195.8 308.2h1.25M205.4 302.6h1.25M199.3 322.9h1.25M156.1 276.1h1.25M190.4 319.2h1.25M170.1 300.3h1.25M190.2 303.8h1.25M161.2 305.7h1.25M172.3 307.3h1.25M162.4 323.3h1.25M180.1 310.9h1.25M170.3 285.1h1.25M190.9 303.9h1.25M186.0 304.4h1.25M179.1 313.6h1.25M171.4 309.6h1.25M166.9 308.5h1.25M172.1 325.9h1.25M184.7 288.2h1.25M177.0 298.5h1.25M171.4 291.7h1.25M170.8 322.2h1.25M160.8 329.0h1.25M140.3 336.1h1.25M181.7 331.2h1.25M181.5 314.9h1.25M155.6 313.2h1.25M204.4 308.7h1.25M152.3 312.8h1.25M188.9 296.5h1.25M176.3 334.8h1.25M177.4 338.1h1.25M191.3 305.2h1.25M187.7 302.0h1.25M172.5 300.7h1.25M154.1 284.5h1.25M151.4 301.8h1.25M175.3 299.7h1.25M198.8 303.3h1.25M187.0 289.3h1.25M171.5 277.4h1.25M177.7 318.7h1.25M183.7 335.3h1.25M201.2 267.7h1.25M159.2 309.3h1.25M184.4 320.8h1.25M176.8 288.6h1.25M159.2 287.7h1.25M154.8 313.0h1.25M193.6 300.8h1.25M177.7 297.3h1.25M168.5 337.1h1.25M173.8 333.7h1.25M188.7 316.6h1.25M173.7 307.6h1.25M199.3 298.2h1.25M167.7 324.7h1.25M158.8 307.9h1.25M170.2 334.3h1.25M156.2 333.1h1.25M166.2 300.3h1.25M192.9 317.7h1.25M201.0 329.6h1.25M182.8 318.1h1.25M175.4 292.9h1.25M156.7 308.0h1.25M155.1 307.1h1.25M178.4 310.2h1.25M174.9 309.4h1.25M162.2 305.5h1.25M164.5 325.3h1.25M198.5 326.8h1.25M188.9 296.8h1.25M173.0 284.8h1.25M176.0 315.0h1.25M193.8 305.4h1.25M178.2 315.5h1.25M176.1 297.5h1.25M145.4 319.9h1.25M143.5 300.3h1.25M139.7 334.4h1.25M171.9 294.4h1.25M177.7 265.5h1.25M157.3 304.7h1.25M179.6 299.6h1.25M179.6 311.7h1.25M170.8 310.6h1.25M147.1 323.2h1.25M195.4 296.1h1.25M162.3 305.8h1.25M205.0 310.7h1.25M172.9 279.1h1.25M158.8 325.9h1.25M165.1 301.1h1.25M140.6 292.5h1.25M166.1 297.2h1.25M144.9 324.0h1.25M191.3 320.3h1.25M177.5 329.9h1.25M148.5 322.2h1.25M181.8 296.2h1.25M142.9 325.3h1.25M174.7 308.4h1.25M173.2 275.8h1.25M153.0 341.0h1.25M170.2 323.5h1.25M169.0 317.8h1.25M173.1 308.6h1.25M197.3 296.0h1.25M200.8 288.6h1.25M198.9 279.1h1.25M159.4 328.6h1.25M172.4 321.6h1.25M179.5 315.1h1.25M137.1 285.6h1.25M161.6 308.0h1.25M202.5 306.5h1.25M151.0 334.1h1.25M159.5 296.4h1.25M160.0 317.5h1.25M180.4 305.0h1.25M171.0 311.3h1.25M166.5 298.8h1.25M146.2 321.8h1.25M182.4 309.9h1.25M172.1 279.5h1.25M160.7 333.2h1.25M185.4 293.4h1.25M146.9 334.9h1.25M145.7 299.7h1.25M154.7 305.4h1.25M161.8 338.1h1.25M190.9 311.9h1.25M166.4 328.8h1.25M189.3 304.7h1.25M195.6 317.5h1.25M198.8 296.2h1.25M163.5 306.5h1.25M158.0 298.1h1.25M178.6 319.8h1.25M151.3 323.9h1.25M165.8 300.7h1.25M143.6 332.0h1.25M173.4 301.2h1.25M199.7 319.3h1.25M178.1 336.4h1.25M160.8 301.5h1.25M170.4 294.9h1.25M150.1 285.1h1.25M172.6 321.8h1.25M168.4 293.2h1.25M179.2 332.1h1.25M187.9 310.5h1.25M137.9 330.8h1.25M177.6 288.8h1.25M184.6 298.9h1.25M151.6 318.4h1.25M204.4 317.1h1.25M159.7 292.3h1.25M214.0 308.6h1.25M185.4 294.9h1.25M188.5 321.5h1.25M176.6 306.6h1.25M189.2 302.9h1.25M154.4 322.1h1.25M158.3 333.3h1.25M138.6 314.0h1.25M181.2 329.8h1.25M159.9 297.2h1.25M184.8 313.5h1.25M182.2 290.7h1.25M149.2 319.4h1.25M184.0 293.8h1.25M176.4 311.0h1.25M175.4 321.0h1.25M179.8 293.7h1.25M171.6 282.3h1.25M172.2 308.4h1.25M190.0 316.4h1.25M155.0 318.5h1.25M151.5 300.3h1.25M159.0 327.7h1.25M189.6 302.9h1.25M166.5 325.1h1.25M204.6 290.1h1.25M159.8 333.2h1.25M164.4 301.8h1.25M176.6 305.5h1.25M194.8 317.0h1.25M168.8 320.5h1.25M154.7 320.6h1.25M186.3 306.3h1.25M198.4 280.0h1.25M181.9 287.8h1.25M177.0 311.5h1.25M157.8 275.2h1.25M163.9 336.6h1.25M176.9 341.6h1.25M172.5 318.4h1.25M167.8 297.9h1.25M152.1 310.1h1.25M176.9 324.8h1.25M160.7 324.3h1.25M173.5 299.2h1.25M162.0 332.9h1.25M175.4 322.4h1.25M184.7 317.4h1.25M176.0 304.4h1.25M183.2 308.8h1.25M148.4 304.0h1.25M179.9 312.6h1.25M176.9 299.1h1.25M161.3 332.6h1.25M169.2 312.2h1.25M173.3 316.2h1.25M165.0 317.7h1.25M133.3 295.2h1.25M180.6 330.5h1.25M161.1 314.8h1.25M176.7 301.0h1.25M167.9 295.8h1.25M180.2 298.1h1.25M173.4 300.6h1.25M167.0 312.2h1.25M180.3 295.1h1.25M186.1 310.0h1.25M133.3 321.1h1.25M172.4 299.5h1.25M153.1 312.8h1.25M194.1 312.0h1.25M188.3 309.5h1.25M154.3 311.8h1.25M152.9 325.8h1.25M185.8 330.9h1.25M161.2 311.8h1.25M166.3 297.8h1.25M138.3 326.6h1.25M169.6 275.8h1.25M191.2 309.5h1.25M164.1 309.3h1.25M169.9 316.5h1.25M201.6 279.9h1.25M186.8 300.5h1.25M196.1 288.9h1.25M182.6 299.6h1.25M192.3 316.3h1.25M143.6 313.0h1.25M157.9 303.5h1.25M143.7 335.7h1.25M209.7 303.2h1.25M175.0 276.5h1.25M169.8 293.7h1.25M159.0 319.8h1.25M154.6 321.0h1.25M210.0 307.0h1.25M170.5 295.8h1.25M172.9 308.5h1.25M148.0 295.4h1.25M170.8 296.6h1.25M178.3 293.8h1.25M170.5 296.6h1.25M182.4 302.3h1.25M157.6 309.1h1.25M177.4 295.7h1.25M187.1 324.6h1.25M181.4 300.5h1.25M178.4 333.8h1.25M170.1 326.6h1.25M155.1 293.2h1.25M181.3 322.4h1.25M165.2 288.1h1.25M155.8 336.7h1.25M184.9 312.4h1.25M144.5 298.8h1.25M162.4 275.5h1.25M185.1 300.3h1.25M188.0 284.0h1.25M165.5 328.7h1.25M172.9 288.7h1.25M181.1 303.7h1.25M170.7 317.6h1.25M158.7 312.1h1.25M179.2 312.1h1.25M174.7 304.6h1.25M173.6 320.7h1.25M190.8 290.1h1.25M177.1 317.5h1.25M164.1 290.9h1.25M174.6 311.5h1.25M204.9 283.8h1.25M159.7 308.2h1.25M167.4 319.6h1.25M158.2 332.1h1.25M177.9 278.3h1.25M150.4 300.7h1.25M179.5 291.5h1.25M184.8 326.3h1.25M158.7 297.4h1.25M157.4 323.4h1.25M146.6 305.6h1.25M172.6 285.1h1.25M152.8 314.6h1.25M161.2 292.4h1.25M164.7 322.3h1.25M160.2 324.9h1.25M186.1 327.9h1.25M199.0 286.8h1.25M135.7 342.0h1.25M158.0 327.5h1.25M176.1 278.6h1.25M162.8 338.4h1.25M175.4 291.1h1.25M195.5 309.5h1.25M191.8 282.8h1.25M166.9 307.6h1.25M174.1 311.5h1.25M165.7 320.2h1.25M168.9 295.9h1.25M151.9 312.4h1.25M141.8 299.5h1.25M165.6 316.4h1.25M188.5 316.4h1.25M184.9 307.4h1.25M140.2 334.1h1.25M168.6 321.9h1.25M161.2 317.1h1.25M176.8 327.0h1.25M153.2 292.1h1.25M187.4 305.1h1.25M168.4 280.4h1.25M181.7 306.6h1.25M186.8 298.1h1.25M138.9 329.0h1.25M168.2 302.3h1.25M197.6 293.1h1.25M172.2 307.2h1.25M189.6 303.1h1.25M179.1 315.9h1.25M163.4 296.1h1.25M176.7 283.2h1.25M189.8 279.0h1.25M193.8 323.4h1.25M196.5 283.1h1.25M153.1 304.9h1.25M186.0 287.8h1.25M148.5 328.0h1.25M169.7 300.0h1.25M168.4 329.7h1.25M182.6 295.1h1.25M177.3 312.6h1.25M193.1 317.1h1.25M161.5 326.8h1.25M186.2 286.3h1.25M178.6 301.5h1.25M172.0 307.5h1.25M151.6 282.8h1.25M181.6 318.6h1.25M177.3 314.2h1.25M185.3 314.6h1.25M171.3 286.0h1.25M167.6 312.8h1.25M178.5 314.7h1.25M179.8 324.3h1.25M183.6 298.0h1.25M204.1 313.6h1.25M206.0 294.9h1.25M188.2 300.3h1.25M158.0 287.1h1.25M206.0 296.1h1.25M156.9 338.7h1.25M189.9 290.0h1.25M155.2 309.1h1.25M152.7 332.5h1.25M185.6 315.5h1.25M186.7 309.8h1.25M160.1 305.8h1.25M212.7 298.9h1.25M166.5 310.2h1.25M198.5 315.0h1.25M154.8 313.7h1.25M155.6 327.7h1.25M173.5 277.9h1.25M154.8 325.9h1.25M179.7 298.7h1.25M135.5 316.5h1.25M175.0 301.4h1.25M162.4 321.5h1.25M155.7 310.3h1.25M175.5 318.6h1.25M168.2 296.5h1.25M164.3 313.6h1.25M185.7 326.5h1.25M177.0 326.3h1.25M178.4 301.9h1.25M194.5 306.9h1.25M170.7 303.2h1.25M186.2 304.2h1.25M164.9 310.7h1.25M182.3 326.9h1.25M180.9 316.8h1.25M162.7 334.9h1.25M146.3 339.4h1.25M150.3 292.6h1.25M156.0 317.3h1.25M181.4 299.8h1.25M169.7 282.9h1.25M166.9 292.3h1.25M180.0 299.2h1.25M184.3 334.1h1.25M195.6 305.8h1.25M161.9 308.0h1.25M181.3 306.7h1.25M183.9 294.4h1.25M155.9 315.1h1.25M174.1 307.1h1.25M156.5 285.4h1.25M168.1 301.1h1.25M143.2 325.2h1.25M157.2 310.4h1.25M158.3 322.7h1.25M173.5 292.8h1.25M159.5 313.1h1.25M178.3 322.2h1.25M157.5 285.7h1.25M163.2 298.8h1.25M182.2 300.5h1.25M177.3 303.4h1.25M174.5 300.2h1.25M171.3 313.7h1.25M188.9 322.4h1.25M195.2 310.1h1.25M165.7 327.1h1.25M159.7 328.7h1.25M154.4 302.9h1.25M201.3 307.7h1.25M156.8 306.0h1.25M149.6 324.3h1.25M176.5 302.5h1.25M189.7 302.5h1.25M169.9 306.7h1.25M147.7 288.5h1.25M160.2 313.4h1.25M199.5 308.5h1.25M174.8 300.3h1.25M167.6 311.2h1.25M173.2 325.6h1.25M176.7 299.8h1.25M170.2 306.5h1.25M151.9 301.6h1.25M152.0 318.6h1.25M205.9 300.3h1.25M159.1 296.7h1.25M192.2 302.6h1.25M193.9 277.0h1.25M183.7 284.3h1.25M168.4 315.4h1.25M205.9 279.8h1.25M168.0 285.7h1.25M157.5 290.9h1.25M158.8 303.5h1.25M165.8 328.0h1.25M155.8 325.5h1.25M166.5 319.6h1.25M198.7 308.7h1.25M142.6 336.3h1.25M150.8 283.9h1.25M155.9 316.9h1.25M164.1 334.1h1.25M189.0 288.4h1.25M184.1 312.0h1.25M180.1 327.5h1.25M175.4 328.9h1.25M212.4 298.9h1.25M152.5 321.3h1.25M171.6 326.7h1.25M175.4 291.1h1.25M168.0 297.8h1.25M157.8 299.7h1.25M167.3 272.3h1.25M160.0 281.8h1.25M163.8 323.8h1.25M153.7 315.3h1.25M194.6 256.6h1.25M179.6 301.3h1.25M203.3 298.0h1.25M163.3 330.6h1.25M173.0 278.0h1.25M167.8 301.5h1.25M172.3 326.5h1.25M167.7 322.5h1.25M169.2 294.9h1.25M138.7 311.3h1.25M167.4 286.2h1.25M183.7 329.1h1.25M139.1 308.9h1.25M166.1 331.1h1.25M181.6 320.3h1.25M193.4 290.7h1.25M170.5 307.2h1.25M179.7 318.3h1.25M201.6 310.5h1.25M193.9 329.6h1.25M164.4 328.9h1.25M161.8 316.6h1.25M189.2 317.1h1.25M175.7 297.1h1.25M162.8 301.5h1.25M168.1 319.9h1.25M177.3 313.7h1.25M168.6 292.1h1.25M167.7 308.9h1.25M168.0 297.3h1.25M146.8 305.4h1.25M201.3 324.4h1.25M192.6 290.0h1.25M197.5 293.7h1.25M169.7 319.0h1.25M174.1 310.2h1.25M181.7 310.2h1.25M185.8 283.3h1.25M141.1 315.2h1.25M178.0 302.3h1.25M155.1 299.8h1.25M170.8 300.6h1.25M160.8 307.0h1.25M200.7 317.3h1.25M181.1 338.0h1.25M171.5 311.4h1.25M195.5 328.7h1.25M170.8 311.6h1.25M159.8 288.0h1.25M168.9 311.1h1.25M165.8 331.5h1.25M172.8 332.0h1.25M186.2 292.5h1.25M170.9 297.9h1.25M189.1 294.4h1.25M176.9 300.2h1.25M188.0 329.8h1.25M174.3 315.6h1.25M150.0 328.7h1.25M153.1 277.6h1.25M144.0 314.4h1.25M191.2 304.0h1.25M179.0 319.5h1.25M164.0 303.7h1.25M155.3 332.2h1.25M178.1 297.3h1.25M169.8 287.6h1.25M177.4 282.1h1.25M157.8 332.9h1.25M153.3 325.6h1.25M198.5 291.8h1.25M155.9 330.7h1.25M171.6 307.0h1.25M194.5 303.2h1.25M141.1 292.3h1.25M183.8 298.5h1.25M173.2 311.2h1.25M169.6 313.5h1.25M176.5 299.8h1.25M152.0 329.7h1.25M134.5 340.4h1.25M203.8 290.3h1.25M167.2 317.2h1.25M187.0 282.2h1.25M190.7 312.7h1.25M176.8 293.2h1.25M179.7 305.7h1.25M184.0 310.1h1.25M198.6 300.6h1.25M180.3 324.9h1.25M193.2 293.0h1.25M167.1 303.2h1.25M164.9 316.5h1.25M173.4 309.0h1.25M178.7 312.5h1.25M181.0 304.6h1.25M204.8 290.3h1.25M186.1 317.7h1.25M173.1 310.9h1.25M205.5 317.6h1.25M177.6 330.2h1.25M178.1 303.0h1.25M180.3 296.3h1.25M166.4 303.7h1.25M153.7 303.1h1.25M174.3 277.4h1.25M166.8 337.3h1.25M157.5 319.4h1.25M174.0 346.9h1.25M168.7 301.6h1.25M162.1 321.4h1.25M142.1 320.3h1.25M169.2 309.3h1.25M201.6 319.7h1.25M187.0 307.0h1.25M190.2 305.0h1.25M171.7 312.6h1.25M189.8 270.5h1.25M160.7 300.6h1.25M164.4 299.6h1.25M180.8 334.6h1.25M148.1 324.1h1.25M173.0 322.3h1.25M177.1 319.0h1.25M200.4 301.2h1.25M160.3 338.8h1.25M179.1 305.2h1.25M161.1 289.4h1.25M162.9 321.9h1.25M156.3 314.8h1.25M191.4 311.9h1.25M180.8 323.6h1.25M174.7 334.0h1.25M213.5 311.0h1.25M181.1 335.1h1.25M151.3 318.8h1.25M171.1 288.1h1.25M199.1 319.7h1.25M156.9 317.6h1.25M179.2 310.5h1.25M188.5 286.2h1.25M158.5 330.0h1.25M173.6 306.6h1.25M138.3 300.8h1.25M173.7 299.5h1.25M135.0 313.7h1.25M165.6 312.9h1.25M201.0 289.7h1.25M179.0 293.8h1.25M172.9 316.5h1.25M174.6 308.4h1.25M208.3 334.3h1.25M181.4 301.4h1.25M189.6 318.4h1.25M164.8 339.4h1.25M164.8 308.3h1.25M154.5 329.3h1.25M169.1 315.4h1.25M160.4 313.2h1.25M188.7 332.4h1.25M182.9 292.0h1.25M170.1 300.7h1.25M163.0 283.5h1.25M162.1 327.8h1.25M177.2 304.9h1.25M183.2 320.9h1.25M174.7 307.7h1.25M154.7 305.8h1.25M168.4 337.0h1.25M164.1 311.4h1.25M182.0 317.2h1.25M140.9 318.2h1.25M162.5 323.2h1.25M187.9 308.8h1.25M175.6 290.1h1.25M158.2 317.3h1.25M179.7 316.1h1.25M176.9 315.2h1.25M157.2 309.3h1.25M183.7 336.7h1.25M183.4 296.1h1.25M169.9 312.4h1.25M187.9 310.2h1.25M152.4 296.6h1.25M184.9 288.4h1.25M168.9 321.2h1.25M156.3 323.9h1.25M162.1 314.2h1.25M191.7 280.4h1.25M162.8 307.2h1.25M166.3 315.0h1.25M161.1 322.1h1.25M158.8 331.6h1.25M188.3 314.0h1.25M209.3 317.9h1.25M194.6 332.0h1.25M180.6 270.9h1.25M184.8 323.3h1.25M166.3 304.1h1.25M163.8 319.3h1.25M152.4 317.2h1.25M196.3 288.8h1.25M166.4 296.7h1.25M160.1 319.3h1.25M161.4 309.2h1.25M175.3 321.0h1.25M162.9 305.6h1.25M174.9 305.3h1.25M194.6 338.6h1.25M151.3 302.0h1.25M177.1 317.9h1.25M160.4 330.2h1.25M164.9 290.4h1.25M199.3 289.0h1.25M182.6 314.3h1.25M165.6 329.5h1.25M180.4 330.1h1.25M171.8 318.8h1.25M190.8 322.9h1.25M164.0 292.9h1.25M180.3 301.5h1.25M168.7 333.6h1.25M172.3 301.0h1.25M169.6 306.5h1.25M161.7 284.2h1.25M173.9 306.5h1.25M188.6 281.2h1.25M162.0 317.6h1.25M165.6 334.6h1.25M178.3 313.6h1.25M159.5 315.0h1.25M186.8 300.5h1.25M184.0 316.2h1.25M133.6 299.8h1.25M161.2 304.7h1.25M186.0 286.2h1.25M187.9 297.6h1.25M152.0 291.5h1.25M160.6 331.7h1.25M170.8 306.3h1.25M166.0 290.7h1.25M184.2 287.3h1.25M188.6 324.1h1.25M182.1 318.5h1.25M190.5 318.8h1.25M187.9 305.5h1.25M171.0 324.3h1.25M164.9 332.1h1.25M159.8 322.8h1.25M185.9 281.4h1.25M187.1 275.2h1.25M189.2 282.9h1.25M166.7 315.0h1.25M165.6 287.0h1.25M176.6 291.4h1.25M193.2 305.9h1.25M178.2 294.3h1.25M176.0 288.3h1.25M158.4 327.6h1.25M179.6 315.8h1.25M181.2 320.2h1.25M156.3 327.3h1.25M201.6 326.5h1.25M156.8 311.8h1.25M187.8 303.2h1.25M168.8 281.9h1.25M174.9 304.9h1.25M159.0 302.3h1.25M162.8 327.9h1.25M184.0 317.6h1.25M169.0 333.4h1.25M166.5 327.8h1.25M187.1 325.2h1.25M184.2 315.2h1.25M175.0 310.8h1.25M176.1 302.3h1.25M201.1 303.1h1.25M169.4 294.4h1.25M178.8 314.0h1.25M179.4 306.3h1.25M148.8 281.3h1.25M139.9 272.3h1.25M174.4 297.0h1.25M186.8 298.6h1.25M175.6 303.5h1.25M163.3 331.5h1.25M161.3 301.1h1.25M185.8 285.9h1.25M167.3 316.1h1.25M145.3 330.3h1.25M183.6 333.0h1.25M176.2 291.9h1.25M178.6 303.6h1.25M189.7 298.6h1.25M194.4 328.6h1.25M181.6 318.2h1.25M169.3 309.9h1.25M136.8 327.6h1.25M177.2 302.2h1.25M169.7 306.1h1.25M194.3 303.9h1.25M193.6 296.6h1.25M180.2 303.2h1.25M195.2 309.9h1.25M171.0 313.0h1.25M171.5 332.6h1.25M158.1 325.4h1.25M167.0 308.7h1.25M175.8 273.1h1.25M189.9 281.6h1.25M159.9 303.2h1.25M185.6 300.0h1.25M211.4 280.0h1.25M149.7 307.3h1.25M167.9 311.4h1.25M172.6 298.5h1.25M189.0 303.1h1.25M205.5 300.5h1.25M192.9 293.3h1.25M171.6 295.0h1.25M158.0 309.4h1.25M171.3 313.1h1.25M171.6 292.2h1.25M176.3 275.3h1.25M157.3 296.4h1.25M197.8 311.5h1.25M160.1 285.3h1.25M183.6 321.0h1.25M175.8 298.5h1.25M153.9 314.2h1.25M173.3 296.0h1.25M172.5 317.7h1.25M169.1 309.9h1.25M185.7 311.7h1.25M164.3 279.2h1.25M214.8 311.4h1.25M191.1 278.0h1.25M156.9 306.2h1.25M193.2 301.2h1.25M176.4 315.5h1.25M173.6 310.8h1.25M155.8 313.1h1.25M148.0 300.4h1.25M140.9 330.6h1.25M215.2 317.6h1.25M199.1 294.5h1.25M162.9 296.1h1.25M203.7 305.4h1.25M141.1 302.7h1.25M183.9 308.3h1.25M184.0 319.0h1.25M157.7 321.8h1.25M164.5 333.3h1.25M154.6 319.2h1.25M172.8 291.8h1.25M194.2 290.5h1.25M188.9 313.5h1.25M179.1 337.1h1.25M190.9 299.0h1.25M142.1 299.9h1.25M206.1 323.6h1.25M171.3 306.6h1.25M150.0 323.8h1.25M165.7 326.7h1.25M161.2 295.1h1.25M173.7 302.4h1.25M177.4 298.6h1.25M193.3 314.4h1.25M201.2 294.7h1.25M154.6 320.7h1.25M197.0 275.3h1.25M193.3 309.6h1.25M189.2 310.4h1.25M199.6 302.9h1.25M148.6 290.2h1.25M184.3 304.3h1.25M155.0 294.9h1.25M212.1 323.2h1.25M155.7 307.1h1.25M151.4 309.2h1.25M191.0 302.8h1.25M182.6 314.7h1.25M172.5 309.5h1.25M174.4 316.3h1.25M182.4 291.7h1.25M201.3 319.8h1.25M160.0 303.1h1.25M162.6 322.1h1.25M162.3 314.0h1.25M170.8 325.4h1.25M172.3 307.2h1.25M150.3 289.6h1.25M177.2 289.3h1.25M150.6 309.1h1.25M166.8 331.1h1.25M167.8 302.6h1.25M167.9 310.0h1.25M197.2 323.0h1.25M199.8 294.0h1.25M190.3 309.5h1.25M198.9 307.4h1.25M167.2 299.9h1.25M195.9 307.2h1.25M171.1 324.9h1.25M175.9 324.0h1.25M176.7 302.2h1.25M161.7 315.9h1.25M169.3 304.6h1.25M178.2 295.8h1.25M169.9 293.4h1.25M157.6 324.1h1.25M152.4 267.2h1.25M172.2 305.9h1.25M151.9 290.9h1.25M152.0 309.7h1.25M170.3 308.2h1.25M175.0 287.3h1.25M157.9 295.7h1.25M141.8 334.3h1.25M176.9 298.7h1.25M185.9 305.5h1.25M165.1 304.8h1.25M165.6 322.6h1.25M187.3 319.6h1.25M153.4 320.7h1.25M184.2 314.7h1.25M162.0 291.8h1.25M169.6 329.3h1.25M168.8 300.3h1.25M141.4 300.6h1.25M218.7 293.1h1.25M145.4 301.2h1.25M173.9 314.4h1.25M158.2 322.4h1.25M168.0 329.2h1.25M195.4 302.2h1.25M140.3 305.4h1.25M169.6 304.5h1.25M180.4 288.4h1.25M174.1 296.4h1.25M178.7 338.2h1.25M159.3 298.9h1.25M144.1 306.8h1.25M149.7 322.7h1.25M165.0 313.7h1.25M184.6 317.8h1.25M173.4 294.5h1.25M199.3 286.2h1.25M173.7 328.6h1.25M175.3 297.1h1.25M175.4 306.1h1.25M142.6 317.6h1.25M181.8 277.5h1.25M153.1 309.1h1.25M165.5 299.5h1.25M211.8 308.6h1.25M151.0 307.7h1.25M174.0 272.8h1.25M177.0 319.7h1.25M174.2 268.0h1.25M172.1 301.9h1.25M162.5 299.4h1.25M205.9 292.0h1.25M137.9 315.0h1.25M154.6 326.7h1.25M197.2 289.7h1.25M181.3 296.9h1.25M159.0 322.6h1.25M156.7 319.3h1.25M167.8 320.4h1.25M216.9 304.6h1.25M180.4 302.9h1.25M154.5 304.2h1.25M176.1 300.1h1.25M161.4 324.7h1.25M197.5 326.6h1.25M177.0 338.4h1.25M193.4 287.8h1.25M174.7 304.1h1.25M206.7 301.5h1.25M179.0 304.4h1.25M176.8 289.8h1.25M164.8 333.4h1.25M178.6 304.5h1.25M163.6 302.9h1.25M214.3 299.8h1.25M171.8 289.5h1.25M159.1 305.7h1.25M188.8 317.1h1.25M163.0 336.1h1.25M178.9 320.9h1.25M170.4 329.0h1.25M159.8 294.3h1.25M195.6 252.9h1.25M173.6 329.7h1.25M190.5 307.6h1.25M166.2 308.3h1.25M147.7 339.5h1.25M150.9 297.5h1.25M163.2 295.1h1.25M168.9 297.3h1.25M172.9 333.6h1.25M180.7 321.5h1.25M150.9 284.6h1.25M175.9 333.7h1.25M151.3 312.8h1.25M160.4 317.4h1.25M215.6 287.5h1.25M193.7 333.7h1.25M165.8 316.5h1.25M202.5 323.1h1.25M196.1 287.8h1.25M187.1 316.4h1.25M196.9 304.8h1.25M167.8 305.7h1.25M169.9 296.0h1.25M157.4 300.3h1.25M181.9 288.0h1.25M150.7 302.2h1.25M163.4 309.7h1.25M179.8 316.0h1.25M163.4 285.5h1.25M177.9 290.8h1.25M203.0 292.5h1.25M155.3 285.8h1.25M195.9 299.0h1.25M160.4 306.5h1.25M156.1 308.5h1.25M175.8 314.1h1.25M189.5 319.8h1.25M159.9 323.5h1.25M159.6 315.3h1.25M164.5 319.2h1.25M159.8 298.2h1.25M175.2 292.8h1.25M159.9 321.0h1.25M167.7 318.2h1.25M164.9 306.2h1.25M191.6 288.8h1.25M160.5 315.3h1.25M158.9 303.9h1.25M206.6 287.3h1.25M197.6 324.9h1.25M173.2 338.6h1.25M186.1 311.4h1.25M177.8 296.9h1.25M163.3 314.2h1.25M183.5 305.2h1.25M177.2 285.3h1.25M193.8 317.3h1.25M140.7 320.1h1.25M185.7 325.6h1.25M174.8 299.0h1.25M160.3 310.5h1.25M164.7 308.0h1.25M165.1 282.5h1.25M162.2 277.2h1.25M185.3 287.6h1.25M146.2 308.0h1.25M165.6 284.9h1.25M131.8 323.2h1.25M162.2 303.0h1.25M178.7 308.3h1.25M171.1 312.4h1.25M172.8 309.5h1.25M153.0 313.9h1.25M181.7 304.2h1.25M156.6 318.4h1.25M187.4 318.3h1.25M175.6 303.8h1.25M165.5 302.8h1.25M197.3 297.2h1.25M165.3 314.8h1.25M189.4 299.3h1.25M173.8 302.2h1.25M172.0 284.6h1.25M189.0 335.9h1.25M179.5 287.5h1.25M171.9 335.4h1.25M170.0 321.8h1.25M175.6 324.3h1.25M173.5 312.6h1.25M166.5 317.7h1.25M154.4 316.9h1.25M170.1 322.5h1.25M167.9 333.9h1.25M192.6 288.8h1.25M179.6 315.1h1.25M191.4 330.7h1.25M201.5 325.2h1.25M170.2 292.8h1.25M157.7 316.7h1.25M185.9 310.6h1.25M161.9 314.9h1.25M167.7 273.7h1.25M196.5 317.9h1.25M181.4 281.3h1.25M149.1 324.1h1.25M172.6 307.3h1.25M191.1 315.4h1.25M150.2 315.7h1.25M175.4 299.8h1.25M178.9 306.2h1.25M132.8 322.5h1.25M199.2 290.8h1.25M159.9 323.0h1.25M169.7 327.5h1.25M200.6 320.7h1.25M141.6 334.2h1.25M179.9 328.4h1.25M164.4 322.0h1.25M172.8 330.1h1.25M158.1 313.0h1.25M195.2 311.1h1.25M153.0 335.8h1.25M181.3 301.7h1.25M170.5 286.2h1.25M167.5 328.8h1.25M189.4 335.2h1.25M179.7 322.3h1.25M170.7 313.4h1.25M153.5 302.7h1.25M174.8 293.3h1.25M181.1 330.9h1.25M171.5 325.3h1.25M196.5 309.6h1.25M139.6 297.8h1.25M214.5 292.4h1.25M168.9 299.9h1.25M152.7 308.3h1.25M142.4 268.7h1.25M186.8 310.0h1.25M181.8 332.6h1.25M168.4 301.2h1.25M171.2 309.9h1.25M174.9 313.2h1.25M164.9 294.6h1.25M191.7 312.4h1.25M182.7 294.0h1.25M170.0 302.6h1.25M144.2 319.0h1.25M195.4 303.8h1.25M164.0 312.5h1.25M154.5 297.9h1.25M194.0 316.7h1.25M180.6 290.1h1.25M137.8 329.9h1.25M143.8 307.2h1.25M165.3 291.4h1.25M150.7 312.2h1.25M169.5 292.7h1.25M216.6 291.8h1.25M222.8 296.7h1.25M171.4 322.2h1.25M185.7 319.5h1.25M187.3 314.1h1.25M170.1 305.1h1.25M147.0 289.6h1.25M190.4 302.0h1.25M169.1 304.7h1.25M179.9 305.7h1.25M184.2 298.4h1.25M158.4 303.6h1.25M200.8 316.7h1.25M173.4 287.4h1.25M176.0 308.7h1.25M164.8 331.3h1.25M184.2 294.4h1.25M189.4 289.8h1.25M162.7 307.6h1.25M182.1 301.8h1.25M164.8 315.1h1.25M151.2 335.5h1.25M166.5 308.4h1.25M182.5 316.3h1.25M181.6 298.0h1.25M190.5 297.7h1.25M160.7 316.4h1.25M167.0 299.4h1.25M173.4 328.6h1.25M182.7 300.6h1.25M170.2 307.1h1.25M156.0 295.6h1.25M145.8 307.5h1.25M192.3 289.0h1.25M190.4 297.7h1.25M160.9 282.6h1.25M197.4 304.1h1.25M171.1 337.9h1.25M179.9 277.2h1.25M193.7 333.3h1.25M164.0 308.9h1.25M159.0 326.3h1.25M142.6 298.7h1.25M179.9 290.1h1.25M186.9 305.1h1.25M182.5 332.6h1.25M174.0 288.0h1.25M191.8 267.2h1.25M154.8 311.5h1.25M178.9 295.3h1.25M181.0 291.6h1.25M170.2 294.7h1.25M201.7 279.4h1.25M179.7 330.6h1.25M195.2 324.6h1.25M187.6 283.8h1.25M169.2 308.1h1.25M205.3 295.1h1.25M191.2 323.5h1.25M172.6 295.4h1.25M170.2 336.2h1.25M154.6 312.8h1.25M169.7 296.8h1.25M168.2 308.5h1.25M175.8 298.9h1.25M182.0 309.6h1.25M170.9 301.5h1.25M145.3 316.1h1.25M163.6 335.1h1.25M156.9 296.4h1.25M150.5 285.8h1.25M168.0 331.6h1.25M187.9 316.1h1.25M153.2 305.5h1.25M138.1 314.6h1.25M169.5 327.9h1.25M223.3 254.0h1.25M162.2 332.1h1.25M176.9 305.3h1.25M165.3 321.7h1.25M187.0 305.3h1.25M169.6 299.4h1.25M192.5 323.2h1.25M153.8 269.7h1.25M175.9 309.0h1.25M150.7 326.4h1.25M175.5 282.9h1.25M161.9 277.5h1.25M176.4 309.8h1.25M153.2 329.6h1.25M176.3 327.9h1.25M174.3 297.3h1.25M162.6 316.7h1.25M158.6 288.4h1.25M152.1 342.0h1.25M165.6 300.9h1.25M179.2 328.8h1.25M170.1 305.0h1.25M175.0 303.0h1.25M194.0 331.6h1.25M166.9 295.7h1.25M177.4 329.5h1.25M186.5 300.3h1.25M181.2 292.6h1.25M179.0 293.8h1.25M173.8 327.4h1.25M205.3 301.1h1.25M171.1 303.3h1.25M165.8 285.2h1.25M182.5 326.5h1.25M200.3 320.8h1.25M196.6 309.5h1.25M173.0 321.8h1.25M186.6 252.1h1.25M180.9 298.4h1.25M173.7 311.4h1.25M183.6 308.5h1.25M183.0 297.4h1.25M174.8 312.4h1.25M201.9 290.9h1.25M166.0 299.3h1.25M196.2 283.4h1.25M208.3 304.0h1.25M208.5 289.7h1.25M177.1 299.6h1.25M169.3 332.6h1.25M145.2 313.6h1.25M171.5 308.5h1.25M214.1 275.0h1.25M145.7 305.5h1.25M146.1 330.5h1.25M186.7 315.2h1.25M183.0 307.7h1.25M141.3 312.2h1.25M171.5 310.2h1.25M178.3 314.4h1.25M146.6 308.7h1.25M188.8 264.2h1.25M191.8 324.0h1.25M175.9 305.6h1.25M160.5 334.8h1.25M145.0 292.6h1.25M166.6 331.6h1.25M170.8 312.4h1.25M170.2 324.1h1.25M162.3 305.2h1.25M168.8 312.1h1.25M187.3 315.7h1.25M156.9 329.5h1.25M168.9 318.2h1.25M180.2 314.7h1.25M172.0 299.1h1.25M187.2 334.6h1.25M198.9 307.1h1.25M166.4 306.4h1.25M176.1 302.8h1.25M166.5 297.8h1.25M183.8 281.3h1.25M153.3 316.1h1.25M195.1 303.0h1.25M140.3 319.0h1.25M195.4 283.5h1.25M163.6 303.6h1.25M154.9 301.7h1.25M164.1 327.1h1.25M167.8 285.0h1.25M155.0 287.1h1.25M148.8 335.0h1.25M163.4 316.7h1.25M188.5 279.6h1.25M179.3 330.0h1.25M195.2 329.2h1.25M161.9 330.0h1.25M166.3 275.8h1.25M166.6 312.1h1.25M174.8 294.0h1.25M180.2 302.9h1.25M202.3 276.6h1.25M184.3 335.4h1.25M175.1 296.8h1.25M195.4 308.9h1.25M158.9 325.0h1.25M149.9 323.6h1.25M183.7 313.5h1.25M175.1 301.8h1.25M174.3 312.2h1.25M188.2 302.1h1.25M166.6 272.2h1.25M170.4 326.0h1.25M178.7 297.2h1.25M183.3 298.0h1.25M189.0 298.7h1.25M174.3 285.4h1.25M176.8 287.8h1.25M193.1 312.5h1.25M145.5 333.9h1.25M171.5 310.3h1.25M215.5 281.2h1.25M166.6 331.8h1.25M145.2 309.0h1.25M199.7 276.8h1.25M162.8 279.4h1.25M169.4 312.5h1.25M169.4 333.5h1.25M184.7 300.0h1.25M185.4 295.7h1.25M170.1 304.7h1.25M191.1 290.9h1.25M156.8 302.9h1.25M183.7 310.8h1.25M161.6 299.0h1.25M184.1 322.0h1.25M160.8 294.9h1.25M164.7 322.2h1.25M197.3 309.6h1.25M153.0 306.3h1.25M152.2 307.9h1.25M181.9 301.5h1.25M167.6 337.8h1.25M164.8 296.8h1.25M169.7 329.1h1.25M208.3 318.5h1.25M154.5 306.8h1.25M167.5 336.7h1.25M175.0 268.7h1.25M156.1 316.2h1.25M171.5 311.1h1.25M180.4 307.6h1.25M156.6 325.9h1.25M191.1 298.4h1.25M152.6 309.7h1.25M169.6 328.5h1.25M177.8 305.8h1.25M226.3 280.8h1.25M142.3 324.3h1.25M176.9 306.5h1.25M215.0 290.9h1.25M161.9 320.1h1.25M190.6 292.3h1.25M175.7 291.8h1.25M147.7 309.4h1.25M178.8 304.4h1.25M156.9 312.8h1.25M173.5 288.5h1.25M184.5 317.6h1.25M169.2 313.3h1.25M194.0 262.8h1.25M180.8 322.5h1.25M166.1 293.0h1.25M168.1 318.1h1.25M164.8 290.4h1.25M218.3 316.0h1.25M171.1 300.1h1.25M171.8 305.4h1.25M159.5 336.8h1.25M164.0 327.0h1.25M182.4 283.9h1.25M161.7 299.3h1.25M158.3 314.9h1.25M162.7 306.9h1.25M166.0 323.5h1.25M175.0 296.9h1.25M163.8 279.3h1.25M168.8 294.3h1.25M159.3 308.4h1.25M193.0 313.8h1.25M173.5 321.0h1.25M166.7 330.7h1.25M176.9 311.8h1.25M171.2 305.7h1.25M145.4 326.4h1.25M168.9 307.8h1.25M200.1 295.5h1.25M180.6 299.4h1.25M192.0 320.3h1.25M160.6 335.9h1.25M146.7 335.9h1.25M160.1 284.6h1.25M195.0 322.5h1.25M155.0 293.6h1.25M158.5 305.9h1.25M190.8 314.9h1.25M167.7 287.5h1.25M168.6 289.1h1.25M178.5 295.1h1.25M173.5 336.7h1.25M166.8 327.9h1.25M176.3 293.1h1.25M159.9 313.6h1.25M171.3 311.3h1.25M183.1 311.9h1.25M154.0 300.7h1.25M168.4 333.6h1.25M152.6 306.5h1.25M184.7 320.0h1.25M182.5 278.8h1.25M188.0 312.2h1.25M189.6 307.8h1.25M189.4 328.0h1.25M184.2 263.2h1.25M158.8 320.8h1.25M187.9 319.3h1.25M156.5 307.6h1.25M211.7 322.9h1.25M176.9 343.0h1.25M182.1 321.6h1.25M151.0 326.6h1.25M190.2 327.7h1.25M191.9 312.2h1.25M145.3 334.7h1.25M162.5 320.8h1.25M164.0 299.1h1.25M161.0 293.6h1.25M195.5 323.8h1.25M208.8 311.5h1.25M153.9 301.4h1.25M189.8 305.8h1.25M167.5 334.2h1.25M195.3 275.7h1.25M164.6 322.0h1.25M192.7 318.5h1.25M159.1 292.0h1.25M192.2 288.3h1.25M163.3 313.4h1.25M191.3 328.5h1.25M181.9 307.2h1.25M164.8 271.7h1.25M159.0 328.7h1.25M169.1 309.2h1.25M191.7 297.4h1.25M171.8 289.6h1.25M160.7 331.1h1.25M228.4 302.1h1.25M145.1 321.0h1.25M168.1 315.6h1.25M181.2 314.4h1.25M154.2 326.5h1.25M171.7 337.6h1.25M164.8 292.7h1.25M146.8 312.7h1.25M179.7 299.8h1.25M159.1 306.7h1.25M192.9 277.9h1.25M152.9 312.3h1.25M182.2 294.7h1.25M192.1 292.6h1.25M188.8 298.1h1.25M179.9 285.5h1.25M167.9 277.5h1.25M174.4 306.3h1.25M179.5 291.8h1.25M163.2 321.1h1.25M155.1 334.5h1.25M186.7 276.8h1.25M153.9 305.1h1.25M179.4 312.1h1.25M163.7 296.5h1.25M143.2 322.2h1.25M199.3 282.8h1.25M182.2 295.8h1.25M181.1 305.1h1.25M147.7 320.9h1.25M169.6 310.0h1.25M176.6 296.6h1.25M159.1 305.3h1.25M199.9 268.1h1.25M183.7 299.7h1.25M139.5 310.5h1.25M145.0 318.7h1.25M149.9 322.9h1.25M181.4 312.8h1.25M159.4 300.1h1.25M160.1 283.6h1.25M156.1 309.2h1.25M167.9 288.9h1.25M171.6 305.0h1.25M179.9 286.6h1.25M183.5 265.8h1.25M199.3 248.0h1.25M177.7 337.2h1.25M154.0 274.4h1.25M188.7 280.7h1.25M193.8 311.7h1.25M155.2 306.0h1.25M189.0 289.3h1.25M182.7 249.2h1.25M171.7 281.1h1.25M182.4 262.6h1.25M185.7 252.2h1.25M188.8 293.1h1.25M197.1 298.8h1.25M179.7 274.8h1.25M179.8 277.1h1.25M216.2 282.9h1.25M163.8 313.7h1.25M175.7 270.8h1.25M174.5 314.9h1.25M191.4 303.3h1.25M196.5 282.9h1.25M160.0 276.3h1.25M198.4 293.1h1.25M162.0 310.8h1.25M219.1 307.7h1.25M169.8 282.2h1.25M196.5 313.8h1.25M175.9 284.5h1.25M190.5 295.6h1.25M168.6 292.3h1.25M181.9 290.6h1.25M180.2 318.4h1.25M181.3 275.8h1.25M191.8 301.0h1.25M173.3 287.3h1.25M175.0 291.1h1.25M160.1 284.0h1.25M177.8 294.6h1.25M172.5 253.7h1.25M193.2 279.1h1.25M190.0 305.4h1.25M169.0 310.9h1.25M186.5 255.1h1.25M199.6 259.5h1.25M176.7 283.0h1.25M162.3 334.0h1.25M216.9 265.9h1.25M188.2 286.1h1.25M190.5 280.5h1.25M217.5 280.0h1.25M167.9 277.0h1.25M184.5 293.0h1.25M151.4 311.1h1.25M187.3 307.2h1.25M185.8 270.0h1.25M168.1 312.5h1.25M167.1 333.1h1.25M177.3 306.5h1.25M176.4 304.8h1.25M203.7 231.8h1.25M176.2 317.8h1.25M177.5 328.6h1.25M177.3 315.1h1.25M155.9 310.0h1.25M172.6 309.3h1.25M181.8 275.1h1.25M146.9 295.8h1.25M163.0 318.8h1.25M183.7 293.4h1.25M148.3 260.5h1.25M156.5 304.2h1.25M194.8 290.5h1.25M159.9 279.9h1.25M179.7 297.5h1.25M184.5 292.9h1.25M163.9 261.0h1.25M154.5 310.8h1.25M202.8 322.9h1.25M171.5 328.0h1.25M187.6 264.3h1.25M168.5 268.6h1.25M185.3 288.8h1.25M160.1 303.8h1.25M159.2 272.1h1.25M164.2 281.9h1.25M170.4 320.9h1.25M170.4 298.7h1.25M174.9 312.6h1.25M186.4 286.6h1.25M171.8 313.7h1.25M193.9 273.5h1.25M169.9 283.8h1.25M189.8 266.9h1.25M199.6 243.6h1.25M206.0 271.1h1.25M150.0 275.5h1.25M205.8 269.7h1.25M153.4 303.9h1.25M201.2 284.4h1.25M179.7 297.8h1.25M185.2 279.8h1.25M165.7 294.7h1.25M193.9 306.9h1.25M190.2 282.5h1.25M171.6 293.9h1.25M170.6 245.1h1.25M192.8 262.5h1.25M195.4 305.1h1.25M191.4 267.8h1.25M174.2 270.8h1.25M179.9 309.0h1.25M194.0 259.5h1.25M192.5 304.2h1.25M196.8 280.7h1.25M182.0 276.4h1.25M169.3 253.4h1.25M184.2 314.3h1.25M186.7 250.7h1.25M171.9 268.5h1.25M186.6 302.6h1.25M167.3 270.2h1.25M183.8 298.2h1.25M170.8 292.7h1.25M211.7 270.9h1.25M197.8 261.1h1.25M183.8 274.8h1.25M160.2 303.4h1.25M161.5 277.8h1.25M190.4 297.8h1.25M177.6 295.4h1.25M184.5 298.5h1.25M156.3 304.2h1.25M157.3 310.3h1.25M181.6 296.5h1.25M176.8 307.4h1.25M159.9 305.5h1.25M167.9 301.1h1.25M191.7 266.4h1.25M173.4 258.0h1.25M188.5 287.0h1.25M204.7 298.3h1.25M185.0 269.0h1.25M181.8 257.1h1.25M171.0 282.5h1.25M198.2 289.1h1.25M158.2 315.7h1.25M163.4 290.1h1.25M179.6 266.2h1.25M157.8 297.7h1.25M194.6 297.0h1.25M170.5 292.5h1.25M187.8 306.4h1.25M175.3 281.5h1.25M176.1 308.5h1.25M180.1 322.1h1.25M150.4 282.1h1.25M163.6 279.1h1.25M172.8 305.5h1.25M213.2 337.8h1.25M192.1 294.6h1.25M190.8 284.5h1.25M164.3 322.2h1.25M193.3 281.7h1.25M198.6 249.5h1.25M191.2 265.9h1.25M219.3 300.0h1.25M159.7 264.6h1.25M163.7 268.0h1.25M175.9 307.6h1.25M165.3 298.7h1.25M180.7 313.4h1.25M187.7 265.2h1.25M179.7 275.1h1.25M181.4 282.1h1.25M186.0 262.4h1.25M191.5 280.1h1.25M170.0 290.4h1.25M169.8 311.1h1.25M197.8 280.4h1.25M174.8 283.8h1.25M167.4 304.7h1.25M184.1 309.9h1.25M174.6 312.6h1.25M181.7 294.4h1.25M178.9 282.5h1.25M189.3 276.2h1.25M193.6 257.8h1.25M167.4 296.2h1.25M161.6 296.8h1.25M203.8 312.4h1.25M169.6 298.3h1.25M156.6 314.3h1.25M151.4 327.7h1.25M179.3 252.6h1.25M170.2 280.8h1.25M152.4 296.5h1.25M165.6 298.0h1.25M163.9 273.7h1.25M194.8 300.5h1.25M183.3 306.2h1.25M179.6 299.8h1.25M160.7 311.3h1.25M177.1 268.9h1.25M189.7 308.2h1.25M182.2 276.5h1.25M195.6 245.4h1.25M180.9 291.7h1.25M190.2 293.7h1.25M186.6 273.1h1.25M171.3 260.2h1.25M199.8 258.3h1.25M185.2 284.4h1.25M192.1 233.8h1.25M163.8 316.9h1.25M163.5 316.5h1.25M177.1 287.2h1.25M167.7 315.9h1.25M189.1 282.5h1.25M185.9 264.4h1.25M198.2 294.6h1.25M188.6 297.1h1.25M162.8 278.3h1.25M194.0 255.5h1.25M170.0 274.1h1.25M168.8 317.6h1.25M180.7 283.2h1.25M195.3 270.0h1.25M222.2 283.9h1.25M186.1 293.4h1.25M201.6 276.0h1.25M176.6 307.7h1.25M184.8 270.4h1.25M172.0 291.8h1.25M173.4 268.9h1.25M199.9 237.6h1.25M186.6 288.2h1.25M186.4 264.0h1.25M167.8 268.7h1.25M205.4 290.5h1.25M177.1 287.5h1.25M170.0 301.5h1.25M179.5 324.3h1.25M189.9 289.0h1.25M191.0 294.0h1.25M201.8 256.6h1.25M163.9 313.1h1.25M173.3 309.4h1.25M203.1 258.9h1.25M213.8 288.5h1.25M170.4 300.0h1.25M178.3 286.0h1.25M156.6 301.1h1.25M166.6 282.3h1.25M178.2 283.7h1.25M162.0 299.2h1.25M193.7 280.2h1.25M178.9 253.6h1.25M176.0 304.2h1.25M193.6 302.3h1.25M175.8 326.0h1.25M161.2 286.2h1.25M180.2 264.3h1.25M212.3 289.2h1.25M181.3 268.5h1.25M187.6 286.4h1.25M176.9 282.9h1.25M176.5 294.9h1.25M187.4 277.6h1.25M140.2 320.3h1.25M161.2 279.1h1.25M175.8 307.0h1.25M201.6 268.1h1.25M216.5 255.0h1.25M189.2 282.0h1.25M185.8 277.8h1.25M190.0 268.9h1.25M202.4 308.2h1.25M165.1 315.4h1.25M172.4 271.1h1.25M182.1 300.0h1.25M184.3 288.2h1.25M151.4 317.1h1.25M186.2 273.8h1.25M191.3 286.5h1.25M192.5 324.4h1.25M146.0 294.5h1.25M187.3 313.6h1.25M182.7 286.4h1.25M170.6 327.1h1.25M194.0 280.2h1.25M209.8 255.9h1.25M187.2 265.2h1.25M163.4 284.0h1.25M158.2 311.0h1.25M162.3 304.7h1.25M164.6 298.6h1.25M196.6 304.1h1.25M184.1 320.9h1.25M179.4 269.9h1.25M192.8 304.5h1.25M180.1 336.1h1.25M180.3 277.3h1.25M167.2 283.8h1.25M170.5 301.9h1.25M180.2 294.3h1.25M162.3 286.5h1.25M204.6 278.1h1.25M181.6 321.4h1.25M171.6 311.7h1.25M194.4 267.6h1.25M163.9 262.4h1.25M195.6 261.1h1.25M181.0 293.0h1.25M207.9 262.4h1.25M171.6 276.6h1.25M173.8 306.9h1.25M167.1 289.6h1.25M161.1 290.1h1.25M183.5 292.7h1.25M163.9 325.7h1.25M184.5 294.1h1.25M170.2 307.8h1.25M195.5 285.0h1.25M141.6 337.1h1.25M186.0 262.8h1.25M180.5 267.2h1.25M179.8 279.8h1.25M170.3 334.6h1.25M205.9 310.0h1.25M173.6 270.6h1.25M186.1 278.2h1.25M175.8 302.7h1.25M174.3 293.7h1.25M181.0 307.3h1.25M189.8 276.0h1.25M163.0 263.9h1.25M172.7 305.4h1.25M158.7 324.0h1.25M185.7 256.8h1.25M167.0 257.8h1.25M168.6 285.7h1.25M189.4 248.6h1.25M179.5 298.8h1.25M185.8 264.3h1.25M177.6 305.8h1.25M185.8 280.7h1.25M181.0 292.2h1.25M163.0 310.4h1.25M182.9 284.7h1.25M174.6 272.0h1.25M176.1 309.9h1.25M183.9 258.9h1.25M171.5 321.8h1.25M163.8 284.6h1.25M197.4 272.1h1.25M207.2 286.5h1.25M174.5 300.7h1.25M196.9 293.1h1.25M185.5 258.3h1.25M170.1 276.5h1.25M167.2 302.2h1.25M175.5 299.3h1.25M173.3 291.0h1.25M174.7 318.1h1.25M177.8 287.4h1.25M162.8 316.1h1.25M192.6 306.4h1.25M162.8 304.2h1.25M163.7 293.0h1.25M193.5 299.2h1.25M191.1 294.4h1.25M201.5 293.4h1.25M181.7 272.0h1.25M170.1 303.6h1.25M196.8 314.9h1.25M178.3 285.1h1.25M177.8 293.8h1.25M167.0 290.8h1.25M185.7 305.3h1.25M144.3 263.9h1.25M187.6 318.9h1.25M149.7 313.1h1.25M192.8 280.2h1.25M156.4 305.5h1.25M189.9 308.5h1.25M216.7 282.1h1.25M175.5 305.4h1.25M162.2 321.6h1.25M208.8 281.5h1.25M173.1 307.9h1.25M163.0 326.8h1.25M198.5 293.7h1.25M137.1 295.9h1.25M157.5 315.1h1.25M160.0 339.3h1.25M169.3 288.4h1.25M149.4 312.2h1.25M192.0 293.8h1.25M195.0 301.6h1.25M178.9 282.6h1.25M173.5 292.6h1.25M156.3 339.2h1.25M186.7 301.3h1.25M169.2 282.5h1.25M188.9 302.3h1.25M195.0 285.3h1.25M180.4 320.8h1.25M148.0 271.7h1.25M165.6 298.3h1.25M200.2 301.4h1.25M183.8 263.5h1.25M201.0 266.7h1.25M146.2 314.0h1.25M178.0 291.9h1.25M177.1 285.6h1.25M155.3 306.8h1.25M170.0 266.9h1.25M194.4 267.6h1.25M187.8 321.5h1.25M171.7 281.0h1.25M184.6 297.1h1.25M197.6 281.9h1.25M163.5 314.4h1.25M184.1 295.2h1.25M195.4 291.9h1.25M169.4 318.0h1.25M199.3 288.7h1.25M178.4 257.3h1.25M196.4 270.4h1.25M193.6 313.0h1.25M183.7 309.9h1.25M175.4 287.7h1.25M169.9 263.1h1.25M182.3 275.2h1.25M182.9 330.4h1.25M200.8 305.4h1.25M178.5 315.3h1.25M185.1 256.3h1.25M205.0 252.9h1.25M184.6 276.7h1.25M186.6 260.7h1.25M203.9 282.5h1.25M181.1 268.2h1.25M185.8 297.3h1.25M191.1 281.3h1.25M178.0 280.1h1.25M163.1 310.4h1.25M157.8 308.5h1.25M176.7 294.3h1.25M196.6 276.1h1.25M194.7 283.2h1.25M204.2 242.0h1.25M193.4 245.9h1.25M170.0 281.1h1.25M158.0 302.3h1.25M172.0 328.5h1.25M175.8 299.9h1.25M168.6 275.5h1.25M193.6 275.0h1.25M167.9 270.4h1.25M188.5 285.9h1.25M191.5 283.7h1.25M153.7 300.6h1.25M173.4 298.4h1.25M198.6 303.0h1.25M192.4 298.6h1.25M181.6 266.8h1.25M163.2 314.0h1.25M169.2 274.8h1.25M181.1 297.4h1.25M198.7 284.3h1.25M187.2 320.5h1.25M178.5 288.9h1.25M183.3 287.0h1.25M191.4 280.1h1.25M153.5 318.4h1.25M164.9 302.8h1.25M180.2 285.0h1.25M197.9 299.3h1.25M195.9 325.2h1.25M168.1 327.5h1.25M180.1 319.9h1.25M168.6 284.6h1.25M173.9 291.1h1.25M181.9 292.8h1.25M174.3 259.2h1.25M171.4 328.0h1.25M162.3 269.5h1.25M156.0 308.4h1.25M176.8 267.4h1.25M182.6 291.8h1.25M189.0 303.0h1.25M167.5 306.0h1.25M168.9 278.2h1.25M198.6 269.8h1.25M185.9 306.3h1.25M193.0 283.7h1.25M171.2 296.5h1.25M169.0 313.6h1.25M162.5 248.3h1.25M194.6 289.4h1.25M162.7 322.6h1.25M153.8 336.7h1.25M168.5 308.8h1.25M198.7 268.2h1.25M180.1 309.5h1.25M183.2 326.1h1.25M181.5 277.3h1.25M179.0 276.7h1.25M177.2 288.7h1.25M158.7 291.4h1.25M204.6 240.0h1.25M177.4 245.0h1.25M197.9 257.2h1.25M156.3 288.0h1.25M187.8 295.8h1.25M162.0 287.7h1.25M160.4 302.2h1.25M183.7 315.9h1.25M200.2 299.3h1.25M199.6 263.0h1.25M175.6 311.9h1.25M191.4 285.6h1.25M170.7 301.1h1.25M171.6 313.0h1.25M183.3 304.3h1.25M177.9 265.5h1.25M192.4 262.8h1.25M152.3 307.4h1.25M196.7 297.3h1.25M171.0 335.7h1.25M201.8 293.1h1.25M196.8 276.2h1.25M162.5 288.2h1.25M179.0 276.9h1.25M189.9 260.7h1.25M167.9 269.8h1.25M168.6 284.3h1.25M175.2 294.3h1.25M190.9 270.7h1.25M193.3 285.1h1.25M173.4 287.6h1.25M192.1 280.8h1.25M201.8 272.7h1.25M193.5 290.4h1.25M168.8 295.4h1.25M167.2 243.7h1.25M184.0 293.9h1.25M192.0 287.4h1.25M186.2 275.8h1.25M174.0 296.2h1.25M165.9 282.6h1.25M198.7 284.9h1.25M177.6 274.2h1.25M207.6 292.1h1.25M162.7 304.4h1.25M174.9 264.0h1.25M170.2 280.7h1.25M207.3 292.6h1.25M198.3 290.6h1.25M172.4 296.2h1.25M151.1 280.2h1.25M197.0 269.8h1.25M181.8 292.7h1.25M163.0 303.2h1.25M157.4 299.4h1.25M185.8 271.5h1.25M176.8 287.1h1.25M182.0 279.7h1.25M185.8 265.0h1.25M174.3 271.1h1.25M175.8 276.1h1.25M189.7 256.7h1.25M178.2 300.2h1.25M175.7 307.1h1.25M189.4 303.6h1.25M150.4 287.4h1.25M198.4 267.7h1.25M186.5 292.3h1.25M168.5 285.8h1.25M177.3 285.2h1.25M198.2 276.4h1.25M188.2 255.2h1.25M153.4 326.2h1.25M164.8 268.4h1.25M182.7 258.2h1.25M206.5 294.7h1.25M191.3 263.9h1.25M177.0 312.3h1.25M188.6 293.2h1.25M180.2 297.0h1.25M175.5 284.5h1.25M185.6 260.0h1.25M148.1 280.2h1.25M195.0 285.8h1.25M188.0 284.6h1.25M173.4 269.2h1.25M167.2 273.1h1.25M162.0 280.6h1.25M184.0 287.1h1.25M182.2 297.7h1.25M182.6 306.6h1.25M205.5 272.1h1.25M147.2 331.8h1.25M169.3 308.6h1.25M168.5 323.7h1.25M194.1 267.0h1.25M176.3 302.9h1.25M166.0 317.1h1.25M183.1 254.2h1.25M186.0 305.5h1.25M204.0 288.0h1.25M183.8 306.4h1.25M173.5 296.1h1.25M172.5 315.5h1.25M167.9 286.9h1.25M187.3 276.8h1.25M192.2 298.9h1.25M176.6 305.5h1.25M178.0 264.7h1.25M200.5 304.8h1.25M181.5 312.3h1.25M187.4 306.9h1.25M163.9 282.6h1.25M171.0 318.3h1.25M148.2 313.4h1.25M159.7 316.6h1.25M185.5 286.7h1.25M198.6 273.9h1.25M176.0 278.0h1.25M162.3 285.6h1.25M181.4 306.9h1.25M197.0 267.9h1.25M177.6 279.1h1.25M193.7 290.7h1.25M179.1 285.3h1.25M161.7 257.9h1.25M166.5 282.9h1.25M176.2 284.6h1.25M214.0 307.0h1.25M188.7 299.3h1.25M176.5 272.1h1.25M184.3 266.8h1.25M183.2 279.8h1.25M173.4 297.2h1.25M178.5 275.5h1.25M176.2 300.1h1.25M191.1 258.1h1.25M203.2 286.7h1.25M199.8 304.8h1.25M175.3 240.4h1.25M188.3 286.0h1.25M169.2 299.4h1.25M163.8 305.6h1.25M181.2 291.5h1.25M189.1 284.9h1.25M179.1 295.9h1.25M192.3 287.0h1.25M192.4 286.6h1.25M191.3 315.8h1.25M177.7 310.8h1.25M159.8 316.4h1.25M206.8 266.5h1.25M172.9 283.5h1.25M190.9 305.9h1.25M187.3 266.6h1.25M174.9 311.9h1.25M207.2 252.5h1.25M190.1 327.0h1.25M179.8 314.1h1.25M173.8 282.0h1.25M165.7 287.1h1.25M161.2 258.3h1.25M188.5 285.5h1.25M173.5 315.8h1.25M173.3 304.6h1.25M187.5 281.8h1.25M174.9 331.8h1.25M189.7 296.6h1.25M170.5 302.0h1.25M172.3 287.5h1.25M193.7 295.6h1.25M189.1 294.9h1.25M187.5 254.5h1.25M180.2 294.2h1.25M155.5 337.4h1.25M160.6 321.2h1.25M163.8 286.8h1.25M160.9 304.8h1.25M192.8 256.1h1.25M167.1 307.8h1.25M161.6 280.7h1.25M172.5 282.9h1.25M178.6 279.6h1.25M155.3 286.5h1.25M189.0 319.1h1.25M190.7 314.1h1.25M171.2 288.1h1.25M192.0 286.8h1.25M157.0 332.3h1.25M171.8 287.9h1.25M177.6 282.4h1.25M181.0 273.1h1.25M197.0 313.1h1.25M175.1 295.2h1.25M165.0 296.5h1.25M183.2 280.5h1.25M182.3 271.4h1.25M186.6 305.7h1.25M175.1 277.1h1.25M182.5 278.8h1.25M171.5 260.9h1.25M188.3 265.2h1.25M170.2 284.1h1.25M170.8 284.3h1.25M197.2 253.3h1.25M168.7 282.7h1.25M180.0 287.2h1.25M188.4 235.6h1.25M175.3 303.1h1.25M193.3 278.9h1.25M171.4 267.4h1.25M195.1 278.2h1.25M157.0 308.0h1.25M160.0 298.1h1.25M181.0 290.2h1.25M201.1 281.2h1.25M203.8 292.4h1.25M167.3 268.8h1.25M179.5 278.6h1.25M172.7 300.2h1.25M148.3 303.6h1.25M190.7 264.7h1.25M174.4 286.6h1.25M200.2 267.7h1.25M184.1 288.4h1.25M172.1 260.9h1.25M169.8 262.6h1.25M177.2 262.9h1.25M186.7 284.3h1.25M172.7 340.6h1.25M221.4 291.3h1.25M183.0 312.1h1.25M163.2 296.9h1.25M181.2 320.0h1.25M196.9 289.5h1.25M186.3 288.3h1.25M175.1 312.7h1.25M170.2 270.2h1.25M168.3 252.1h1.25M162.5 273.9h1.25M172.4 320.1h1.25M183.8 305.4h1.25M171.6 296.8h1.25M204.0 274.9h1.25M185.5 284.0h1.25M173.4 299.9h1.25M179.5 273.1h1.25M201.6 295.5h1.25M154.8 281.3h1.25M183.5 314.2h1.25M219.5 266.5h1.25M194.8 265.5h1.25M166.6 289.6h1.25M181.8 270.8h1.25M176.5 288.4h1.25M221.0 237.3h1.25M170.1 284.2h1.25M175.9 292.7h1.25M175.1 299.1h1.25M158.9 290.8h1.25M131.3 333.5h1.25M176.5 258.2h1.25M187.6 282.1h1.25M173.6 282.8h1.25M187.3 286.3h1.25M191.1 279.7h1.25M190.3 312.1h1.25M154.9 300.0h1.25M202.2 262.1h1.25M192.6 332.6h1.25M191.8 285.3h1.25M180.1 286.3h1.25M179.9 306.7h1.25M172.0 281.3h1.25M186.2 282.5h1.25M193.6 300.6h1.25M171.5 270.0h1.25M192.0 275.6h1.25M173.1 310.7h1.25M188.7 320.8h1.25M177.8 288.8h1.25M192.7 282.1h1.25M208.4 298.7h1.25M183.3 259.3h1.25M172.7 279.0h1.25M173.7 276.7h1.25M189.2 245.6h1.25M172.7 236.1h1.25M194.4 275.5h1.25M184.4 305.3h1.25M193.4 296.8h1.25M171.8 317.5h1.25M165.9 242.2h1.25M169.0 291.2h1.25M185.9 313.0h1.25M168.4 277.4h1.25M190.3 259.8h1.25M149.6 309.0h1.25M170.2 293.9h1.25M177.6 302.9h1.25M153.0 300.7h1.25M171.0 317.5h1.25M157.9 312.3h1.25M179.0 294.9h1.25M176.4 283.6h1.25M191.0 298.7h1.25M167.6 281.8h1.25M156.0 318.3h1.25M172.0 315.3h1.25M181.9 307.2h1.25M181.4 264.0h1.25M182.5 297.1h1.25M198.1 289.2h1.25M174.8 308.8h1.25M176.9 260.5h1.25M167.6 283.1h1.25M171.3 291.7h1.25M195.5 310.3h1.25M185.4 275.7h1.25M141.4 323.3h1.25M197.9 285.0h1.25M174.0 298.5h1.25M194.4 252.0h1.25M182.0 283.3h1.25M188.3 291.1h1.25M192.9 309.0h1.25M184.5 300.7h1.25M161.5 291.9h1.25M185.5 262.6h1.25M169.8 294.6h1.25M144.4 302.2h1.25M175.8 317.5h1.25M188.2 304.4h1.25M181.9 261.4h1.25M180.2 244.1h1.25M205.8 270.7h1.25M184.1 293.2h1.25M193.6 264.9h1.25M185.0 277.5h1.25M204.4 302.7h1.25M174.7 306.4h1.25M197.6 248.5h1.25M207.0 285.1h1.25M174.6 295.1h1.25M195.6 279.2h1.25M160.1 309.1h1.25M184.8 299.2h1.25M191.0 333.8h1.25M167.9 299.3h1.25M153.7 286.5h1.25M180.9 279.6h1.25M175.3 305.8h1.25M182.9 326.4h1.25M184.5 299.8h1.25M192.5 295.0h1.25M203.3 285.2h1.25M186.6 278.2h1.25M157.6 300.6h1.25M190.2 261.7h1.25M186.0 301.9h1.25M182.4 298.1h1.25M203.7 283.4h1.25M184.2 271.2h1.25M175.0 286.7h1.25M187.2 275.5h1.25M156.7 305.6h1.25M194.5 278.1h1.25M181.2 296.4h1.25M205.3 297.5h1.25M190.5 310.3h1.25M185.9 267.3h1.25M183.1 282.0h1.25M162.9 275.5h1.25M179.2 314.7h1.25M184.8 271.2h1.25M195.0 310.0h1.25M186.8 277.2h1.25M190.7 305.5h1.25M190.6 274.8h1.25M172.7 288.6h1.25M184.9 290.2h1.25M177.3 292.8h1.25M162.0 294.6h1.25M158.2 312.2h1.25M192.7 308.1h1.25M201.7 297.7h1.25M201.5 271.4h1.25M168.0 258.6h1.25M202.7 282.6h1.25M203.6 224.3h1.25M169.3 307.6h1.25M187.7 298.9h1.25M205.8 255.2h1.25M181.9 300.6h1.25M198.0 269.4h1.25M171.4 318.4h1.25M175.6 276.8h1.25M193.5 267.9h1.25M178.1 277.9h1.25M182.5 293.6h1.25M182.0 268.8h1.25M202.6 273.1h1.25M178.6 324.9h1.25M175.7 286.1h1.25M174.0 286.3h1.25M181.5 275.4h1.25M166.8 280.6h1.25M193.4 292.9h1.25M175.5 315.3h1.25M192.3 286.9h1.25M167.6 277.6h1.25M165.5 300.2h1.25M167.0 279.9h1.25M183.9 235.7h1.25M161.0 300.4h1.25M193.0 250.3h1.25M175.7 279.4h1.25M193.8 285.2h1.25M174.9 284.2h1.25M192.5 279.5h1.25M165.4 326.5h1.25M164.3 315.3h1.25M189.3 315.8h1.25M172.4 297.3h1.25M196.1 287.6h1.25M170.2 328.7h1.25M188.0 274.3h1.25M168.4 301.4h1.25M154.8 303.2h1.25M201.6 286.6h1.25M177.4 302.8h1.25M194.8 286.1h1.25M183.1 304.5h1.25M155.1 283.8h1.25M186.3 297.0h1.25M196.4 262.6h1.25M199.5 302.8h1.25M204.7 298.8h1.25M186.2 283.2h1.25M178.9 280.4h1.25M181.5 288.7h1.25M163.2 307.7h1.25M191.3 255.5h1.25M191.1 265.5h1.25M185.6 305.8h1.25M169.0 290.2h1.25M189.9 260.5h1.25M172.2 249.6h1.25M198.8 273.2h1.25M171.4 259.1h1.25M172.6 295.3h1.25M175.6 289.9h1.25M165.1 331.8h1.25M167.1 270.6h1.25M176.2 303.6h1.25M143.9 281.4h1.25M209.9 256.9h1.25M185.9 283.0h1.25M184.6 271.1h1.25M167.3 330.4h1.25M183.1 287.1h1.25M180.2 274.7h1.25M181.7 333.8h1.25M158.4 283.0h1.25M178.5 282.7h1.25M152.3 296.9h1.25M177.3 275.3h1.25M167.1 306.5h1.25M171.2 316.3h1.25M175.4 266.1h1.25M192.7 274.5h1.25M198.3 274.2h1.25M180.7 261.7h1.25M164.3 270.2h1.25M202.3 272.6h1.25M159.4 280.3h1.25M172.0 298.6h1.25M177.0 306.3h1.25M169.2 297.2h1.25M200.0 286.3h1.25M186.2 268.6h1.25M196.2 270.6h1.25M175.8 298.4h1.25M193.1 294.7h1.25M177.9 288.2h1.25M178.0 300.4h1.25M184.6 282.2h1.25M186.0 263.9h1.25M188.6 291.4h1.25M177.0 282.0h1.25M157.8 265.2h1.25M175.4 307.2h1.25M140.3 313.1h1.25M175.8 304.8h1.25M168.0 284.8h1.25M192.3 312.5h1.25M139.8 315.1h1.25M209.8 295.3h1.25M175.0 278.4h1.25M156.4 292.8h1.25M186.3 311.1h1.25M187.3 285.4h1.25M186.4 286.7h1.25M212.4 304.2h1.25M167.7 316.5h1.25M184.4 291.6h1.25M182.3 324.9h1.25M169.9 264.5h1.25M184.3 285.9h1.25M198.7 270.5h1.25M167.4 322.8h1.25M186.7 316.7h1.25M195.0 273.5h1.25M189.7 287.8h1.25M156.2 317.1h1.25M184.2 297.4h1.25M174.3 296.6h1.25M198.2 300.7h1.25M178.1 327.4h1.25M209.2 279.2h1.25M161.7 275.6h1.25M187.5 284.0h1.25M167.0 293.9h1.25M206.4 270.8h1.25M203.4 292.8h1.25M166.3 309.1h1.25M191.2 301.9h1.25M179.4 298.7h1.25M155.9 304.4h1.25M164.5 276.1h1.25M181.5 282.1h1.25M187.7 269.5h1.25M174.4 297.8h1.25M184.4 285.1h1.25M184.7 286.5h1.25M184.3 297.5h1.25M162.4 291.0h1.25M182.1 308.8h1.25M187.9 306.0h1.25M157.8 280.5h1.25M202.9 304.7h1.25M201.7 273.7h1.25M182.4 274.4h1.25M211.1 270.2h1.25M168.1 270.0h1.25M166.0 301.7h1.25M170.8 316.2h1.25M169.4 264.8h1.25M207.5 285.9h1.25M180.8 300.1h1.25M179.2 302.2h1.25M185.5 299.3h1.25M203.7 287.6h1.25M182.5 279.3h1.25M174.4 308.6h1.25M184.1 293.9h1.25M198.8 296.6h1.25M177.0 296.5h1.25M201.1 275.5h1.25M184.6 286.5h1.25M177.4 302.0h1.25M187.4 306.0h1.25M209.4 240.5h1.25M176.4 266.4h1.25M200.5 249.5h1.25M188.5 275.6h1.25M182.4 275.5h1.25M180.8 292.7h1.25M192.3 278.3h1.25M189.2 310.8h1.25M185.6 275.1h1.25M189.8 271.5h1.25M167.3 278.9h1.25M170.4 287.5h1.25M165.2 298.5h1.25M175.0 282.1h1.25M176.9 272.8h1.25M174.6 265.4h1.25M188.0 289.3h1.25M166.0 284.6h1.25M176.5 271.9h1.25M192.9 278.6h1.25M205.0 284.9h1.25M180.9 327.8h1.25M197.9 312.6h1.25M200.4 263.6h1.25M165.0 286.8h1.25M183.7 250.3h1.25M164.6 258.2h1.25M174.3 256.3h1.25M186.1 303.9h1.25M161.3 294.0h1.25M188.0 257.7h1.25M178.0 277.1h1.25M176.5 280.9h1.25M188.0 273.0h1.25M167.9 322.0h1.25M155.0 262.7h1.25M180.5 280.1h1.25M169.4 298.1h1.25M177.1 299.4h1.25M163.8 254.3h1.25M166.2 298.3h1.25M164.8 271.3h1.25M161.1 285.9h1.25M168.0 263.7h1.25M168.4 308.5h1.25M226.7 288.7h1.25M170.9 287.2h1.25M156.5 265.4h1.25M188.5 302.1h1.25M161.7 319.5h1.25M166.8 273.6h1.25M174.9 309.2h1.25M180.5 254.6h1.25M180.9 264.3h1.25M183.5 290.3h1.25M178.2 263.2h1.25M196.2 296.7h1.25M192.2 311.2h1.25M171.9 293.7h1.25M176.7 299.9h1.25M159.9 328.1h1.25M189.6 295.0h1.25M176.8 315.5h1.25M207.9 304.9h1.25M169.8 273.6h1.25M202.2 321.8h1.25M166.3 317.7h1.25M155.1 302.9h1.25M167.2 310.6h1.25M184.8 293.6h1.25M194.8 287.8h1.25M166.9 276.1h1.25M194.0 276.1h1.25M172.1 286.6h1.25M172.2 313.7h1.25M175.4 300.8h1.25M204.1 287.4h1.25M182.5 286.5h1.25M184.3 312.0h1.25M157.6 252.5h1.25M182.2 271.5h1.25M183.9 306.3h1.25M203.7 271.9h1.25M167.0 307.5h1.25M169.4 324.5h1.25M166.3 310.8h1.25M170.2 265.9h1.25M189.6 281.5h1.25M168.0 272.9h1.25M198.5 291.1h1.25M180.2 309.5h1.25M166.3 291.0h1.25M170.1 303.7h1.25M159.6 294.6h1.25M158.4 335.5h1.25M196.6 285.4h1.25M192.6 289.0h1.25M165.3 306.8h1.25M173.0 312.9h1.25M203.2 293.4h1.25M169.0 294.0h1.25M182.9 289.7h1.25M187.1 296.6h1.25M176.7 302.6h1.25M176.8 284.1h1.25M174.6 281.2h1.25M181.3 284.9h1.25M156.7 308.6h1.25M180.3 281.3h1.25M182.2 268.4h1.25M160.1 292.0h1.25M186.2 278.0h1.25M165.9 307.5h1.25M141.0 296.6h1.25M151.1 294.4h1.25M180.9 325.3h1.25M187.8 295.2h1.25M173.2 275.2h1.25M158.1 322.1h1.25M177.1 284.3h1.25M192.9 269.1h1.25M178.8 302.8h1.25M157.9 272.5h1.25M186.3 286.1h1.25M176.5 302.2h1.25M176.9 305.5h1.25M180.3 279.9h1.25M187.7 277.3h1.25M177.8 289.3h1.25M165.3 319.3h1.25M177.8 256.9h1.25M181.4 305.1h1.25M196.7 288.7h1.25M161.4 323.9h1.25M177.4 269.9h1.25M166.5 317.6h1.25M183.4 272.2h1.25M171.4 299.4h1.25M134.2 301.9h1.25M193.4 237.8h1.25M169.7 293.3h1.25M163.3 304.5h1.25M157.2 316.1h1.25M163.7 285.0h1.25M160.3 276.2h1.25M177.2 304.7h1.25M181.5 282.7h1.25M178.2 310.8h1.25M184.6 315.3h1.25M167.1 291.1h1.25M188.2 283.4h1.25M177.8 277.3h1.25M185.9 249.1h1.25M188.4 286.5h1.25M174.0 306.5h1.25M197.6 303.0h1.25M191.1 285.1h1.25M173.4 328.1h1.25M205.2 269.6h1.25M203.8 279.7h1.25M156.9 289.6h1.25M146.4 295.9h1.25M170.3 289.0h1.25M186.2 274.5h1.25M193.1 276.7h1.25M189.2 291.8h1.25M179.2 292.7h1.25M193.6 264.6h1.25M189.9 295.7h1.25M173.0 277.6h1.25M182.2 298.0h1.25M195.1 285.3h1.25M170.1 257.9h1.25M170.3 274.6h1.25M167.3 313.7h1.25M200.9 269.2h1.25M189.4 273.9h1.25M191.9 277.0h1.25M174.1 294.9h1.25M179.1 301.6h1.25M197.3 277.4h1.25M175.5 324.4h1.25M196.9 272.3h1.25M179.3 281.7h1.25M179.2 287.1h1.25M187.7 290.3h1.25M192.1 313.1h1.25M205.3 324.5h1.25M174.5 286.1h1.25M204.3 276.9h1.25M168.5 307.2h1.25M167.1 293.5h1.25M146.9 320.6h1.25M191.9 265.1h1.25M201.3 297.7h1.25M162.1 256.2h1.25M174.9 302.5h1.25M175.9 304.8h1.25M180.7 272.6h1.25M184.0 301.9h1.25M172.3 305.9h1.25M164.8 278.7h1.25M181.6 294.5h1.25M188.4 270.6h1.25M159.0 276.8h1.25M178.2 262.1h1.25M187.9 282.8h1.25M138.7 287.4h1.25M184.4 248.6h1.25M204.8 285.3h1.25M160.9 265.4h1.25M198.8 295.6h1.25M189.9 225.3h1.25M173.5 238.0h1.25M161.8 215.3h1.25M172.2 263.7h1.25M165.4 317.1h1.25M180.3 248.6h1.25M180.4 254.2h1.25M224.1 204.9h1.25M153.9 259.6h1.25M177.0 237.2h1.25M194.6 209.0h1.25M201.9 223.1h1.25M206.7 230.6h1.25M170.9 271.5h1.25M198.4 239.6h1.25M141.6 285.9h1.25M182.6 291.5h1.25M199.2 272.9h1.25M197.0 238.1h1.25M164.2 219.2h1.25M173.2 256.7h1.25M152.7 274.7h1.25M174.5 287.6h1.25M164.7 269.8h1.25M190.2 327.1h1.25M174.2 252.4h1.25M195.3 267.6h1.25M184.2 231.3h1.25M180.8 230.7h1.25M213.3 232.4h1.25M204.1 250.7h1.25M165.4 283.9h1.25M197.8 278.5h1.25M206.6 283.8h1.25M193.0 287.1h1.25M158.1 292.0h1.25M180.1 254.3h1.25M148.2 289.3h1.25M164.2 300.4h1.25M175.1 234.2h1.25M205.7 262.0h1.25M186.6 267.7h1.25M189.3 249.0h1.25M197.4 296.4h1.25M171.8 243.2h1.25M203.1 219.2h1.25M189.4 251.3h1.25M171.0 245.4h1.25M177.0 294.8h1.25M182.1 211.9h1.25M195.4 214.3h1.25M208.1 250.9h1.25M181.1 276.7h1.25M182.4 224.3h1.25M214.0 274.2h1.25M235.7 176.7h1.25M214.0 266.9h1.25M188.9 228.7h1.25M180.3 244.3h1.25M196.6 296.5h1.25M190.6 249.8h1.25M173.5 243.2h1.25M207.1 249.2h1.25M225.5 283.5h1.25M172.7 262.6h1.25M173.6 239.7h1.25M178.0 263.5h1.25M166.2 231.0h1.25M198.6 228.7h1.25M163.4 250.4h1.25M196.3 265.5h1.25M192.1 237.4h1.25M197.6 260.4h1.25M162.7 296.6h1.25M188.2 294.6h1.25M190.2 206.2h1.25M199.8 244.9h1.25M191.8 219.7h1.25M176.8 275.4h1.25M203.8 250.8h1.25M207.6 241.9h1.25M207.1 228.2h1.25M174.2 233.9h1.25M194.2 204.0h1.25M171.6 286.8h1.25M183.2 249.6h1.25M197.8 248.1h1.25M163.4 273.8h1.25M229.6 251.7h1.25M205.2 293.6h1.25M173.9 255.0h1.25M177.0 275.6h1.25M184.7 210.5h1.25M183.7 244.1h1.25M166.9 244.5h1.25M183.8 237.8h1.25M161.6 297.0h1.25M176.2 261.4h1.25M214.1 240.4h1.25M184.9 256.0h1.25M179.8 250.7h1.25M210.7 234.6h1.25M190.9 233.6h1.25M195.8 234.0h1.25M176.9 246.7h1.25M203.2 239.5h1.25M180.7 206.3h1.25M199.7 247.9h1.25M196.1 247.1h1.25M213.2 250.1h1.25M201.6 215.5h1.25M185.7 228.7h1.25M169.2 283.4h1.25M181.2 236.7h1.25M175.0 271.8h1.25M210.1 222.7h1.25M178.9 225.2h1.25M149.7 233.6h1.25M192.0 234.0h1.25M198.8 234.0h1.25M171.4 228.4h1.25M197.3 285.0h1.25M165.0 264.8h1.25M189.8 227.7h1.25M183.4 294.2h1.25M190.9 272.6h1.25M192.6 229.7h1.25M175.3 231.7h1.25M198.7 241.7h1.25M178.0 276.8h1.25M187.8 215.2h1.25M208.4 272.0h1.25M171.3 250.8h1.25M187.1 274.9h1.25M211.3 236.4h1.25M205.9 255.8h1.25M175.1 276.0h1.25M176.1 292.8h1.25M194.6 230.0h1.25M175.5 309.0h1.25M187.1 219.2h1.25M164.2 273.1h1.25M196.0 266.1h1.25M160.4 267.6h1.25M188.0 275.9h1.25M197.0 205.0h1.25M175.3 258.0h1.25M161.0 293.0h1.25M165.7 264.5h1.25M155.5 240.4h1.25M214.4 242.9h1.25M155.3 274.7h1.25M165.4 238.3h1.25M191.1 285.9h1.25M186.7 239.1h1.25M202.3 218.0h1.25M206.8 245.5h1.25M193.1 232.7h1.25M184.9 249.2h1.25M176.9 264.6h1.25M183.0 244.3h1.25M201.0 261.4h1.25M195.6 256.4h1.25M195.9 280.5h1.25M159.2 241.5h1.25M173.7 261.9h1.25M174.9 266.3h1.25M177.2 265.9h1.25M169.0 207.3h1.25M196.8 220.0h1.25M202.8 253.5h1.25M214.9 253.7h1.25M177.5 259.1h1.25M184.3 259.5h1.25M187.4 285.3h1.25M185.8 244.6h1.25M172.5 240.8h1.25M198.7 286.6h1.25M153.6 286.9h1.25M178.2 253.6h1.25M155.5 251.0h1.25M195.9 290.9h1.25M163.7 258.3h1.25M167.4 242.2h1.25M185.7 287.5h1.25M169.3 223.9h1.25M189.9 247.9h1.25M179.7 273.7h1.25M217.3 230.0h1.25M166.4 250.6h1.25M172.9 272.3h1.25M195.0 217.1h1.25M187.8 247.3h1.25M193.1 269.1h1.25M181.3 227.5h1.25M201.1 282.4h1.25M191.5 245.5h1.25M207.1 240.8h1.25M164.3 252.8h1.25M190.0 267.0h1.25M182.4 243.3h1.25M192.3 256.5h1.25M170.9 294.9h1.25M198.9 280.0h1.25M164.6 225.2h1.25M200.2 281.9h1.25M194.7 236.4h1.25M157.1 277.0h1.25M192.3 253.3h1.25M154.9 277.5h1.25M195.0 233.3h1.25M160.3 282.7h1.25M184.8 281.1h1.25M181.6 241.0h1.25M159.9 267.1h1.25M156.3 290.8h1.25M194.0 277.9h1.25M178.2 266.7h1.25M203.4 251.8h1.25M185.2 267.0h1.25M230.1 221.8h1.25M188.8 261.2h1.25M214.3 231.7h1.25M191.6 241.8h1.25M187.4 191.3h1.25M194.7 202.0h1.25M173.9 269.8h1.25M175.7 278.7h1.25M212.6 251.5h1.25M183.0 258.0h1.25M167.7 255.4h1.25M194.3 264.1h1.25M172.7 250.1h1.25M187.4 252.8h1.25M204.4 283.3h1.25M207.0 206.2h1.25M215.5 222.4h1.25M205.1 237.1h1.25M196.8 197.5h1.25M195.1 217.5h1.25M191.1 278.7h1.25M185.8 267.1h1.25M222.9 230.5h1.25M185.2 288.2h1.25M213.3 213.2h1.25M184.6 304.5h1.25M206.0 241.2h1.25M140.9 261.3h1.25M189.0 280.4h1.25M176.5 272.1h1.25M211.9 245.1h1.25M210.8 237.2h1.25M176.6 210.7h1.25M185.5 198.9h1.25M201.6 245.1h1.25M191.6 275.6h1.25M188.4 231.1h1.25M202.5 246.9h1.25M165.9 222.6h1.25M212.8 199.8h1.25M194.2 247.3h1.25M140.7 295.2h1.25M172.4 279.7h1.25M185.8 284.8h1.25M223.6 212.4h1.25M187.0 248.1h1.25M163.0 285.7h1.25M209.2 214.0h1.25M193.7 240.9h1.25M187.3 252.3h1.25M204.2 242.9h1.25M181.2 278.6h1.25M185.6 264.3h1.25M203.6 232.1h1.25M194.6 187.3h1.25M203.2 264.7h1.25M181.7 281.3h1.25M214.7 251.2h1.25M164.9 273.3h1.25M165.6 275.2h1.25M195.8 279.6h1.25M182.8 241.1h1.25M191.0 248.4h1.25M188.4 225.4h1.25M185.3 247.4h1.25M170.8 239.1h1.25M192.8 227.6h1.25M208.9 188.5h1.25M174.4 256.2h1.25M218.3 262.4h1.25M174.4 292.2h1.25M200.9 243.8h1.25M170.4 242.8h1.25M186.0 260.6h1.25M170.5 254.1h1.25M179.4 253.9h1.25M158.3 304.4h1.25M185.5 257.2h1.25M350.8 317.2h1.25M349.5 317.9h1.25M357.7 336.2h1.25M357.2 329.1h1.25M349.2 327.0h1.25M351.7 323.7h1.25M357.1 312.8h1.25M351.4 340.1h1.25M346.2 347.4h1.25M362.4 324.6h1.25M354.5 332.4h1.25M360.8 305.6h1.25M361.0 298.2h1.25M348.9 317.9h1.25M365.2 298.7h1.25M357.8 326.3h1.25M354.3 316.4h1.25M360.7 331.6h1.25M352.8 328.3h1.25M365.3 328.6h1.25M349.2 308.4h1.25M350.1 355.7h1.25M347.5 341.0h1.25M347.1 323.1h1.25M347.6 318.9h1.25M369.6 318.5h1.25M360.5 334.8h1.25M353.1 319.8h1.25M367.8 299.6h1.25M352.0 330.6h1.25M266.5 281.5h1.25M240.0 235.0h1.25M239.5 310.5h1.25M237.0 328.0h1.25M238.0 211.5h1.25M238.0 231.0h1.25M242.0 267.0h1.25M232.0 291.0h1.25M229.0 262.0h1.25M124.0 218.0h1.25M219.0 184.0h1.25M214.0 188.0h1.25M188.0 188.0h1.25M127.0 285.0h1.25M119.0 309.0h1.25M124.0 326.0h1.25M118.0 297.0h1.25M222.0 338.0h1.25M238.0 331.0h1.25M343.0 241.0h1.25M327.0 341.0h1.25M336.0 250.0h1.25M347.0 249.0h1.25M374.0 266.0h1.25M376.0 282.0h1.25" stroke="#2b292a" stroke-width="1.3" fill="none"/>
<rect x="116.20" y="56.70" width="321.10" height="318.80" fill="none" stroke="#333132" stroke-width="3"/>
<line x1="108.00" y1="375.60" x2="116.20" y2="375.60" stroke="#333132" stroke-width="2.2" stroke-linecap="butt"/>
<line x1="112.00" y1="363.43" x2="116.20" y2="363.43" stroke="#333132" stroke-width="2.0" stroke-linecap="butt"/>
<line x1="112.00" y1="351.26" x2="116.20" y2="351.26" stroke="#333132" stroke-width="2.0" stroke-linecap="butt"/>
<line x1="112.00" y1="339.09" x2="116.20" y2="339.09" stroke="#333132" stroke-width="2.0" stroke-linecap="butt"/>
<line x1="112.00" y1="326.92" x2="116.20" y2="326.92" stroke="#333132" stroke-width="2.0" stroke-linecap="butt"/>
<line x1="108.00" y1="314.75" x2="116.20" y2="314.75" stroke="#333132" stroke-width="2.2" stroke-linecap="butt"/>
<line x1="112.00" y1="302.58" x2="116.20" y2="302.58" stroke="#333132" stroke-width="2.0" stroke-linecap="butt"/>
<line x1="112.00" y1="290.41" x2="116.20" y2="290.41" stroke="#333132" stroke-width="2.0" stroke-linecap="butt"/>
<line x1="112.00" y1="278.24" x2="116.20" y2="278.24" stroke="#333132" stroke-width="2.0" stroke-linecap="butt"/>
<line x1="112.00" y1="266.07" x2="116.20" y2="266.07" stroke="#333132" stroke-width="2.0" stroke-linecap="butt"/>
<line x1="108.00" y1="253.90" x2="116.20" y2="253.90" stroke="#333132" stroke-width="2.2" stroke-linecap="butt"/>
<line x1="112.00" y1="241.73" x2="116.20" y2="241.73" stroke="#333132" stroke-width="2.0" stroke-linecap="butt"/>
<line x1="112.00" y1="229.56" x2="116.20" y2="229.56" stroke="#333132" stroke-width="2.0" stroke-linecap="butt"/>
<line x1="112.00" y1="217.39" x2="116.20" y2="217.39" stroke="#333132" stroke-width="2.0" stroke-linecap="butt"/>
<line x1="112.00" y1="205.22" x2="116.20" y2="205.22" stroke="#333132" stroke-width="2.0" stroke-linecap="butt"/>
<line x1="108.00" y1="193.05" x2="116.20" y2="193.05" stroke="#333132" stroke-width="2.2" stroke-linecap="butt"/>
<line x1="112.00" y1="180.88" x2="116.20" y2="180.88" stroke="#333132" stroke-width="2.0" stroke-linecap="butt"/>
<line x1="112.00" y1="168.71" x2="116.20" y2="168.71" stroke="#333132" stroke-width="2.0" stroke-linecap="butt"/>
<line x1="112.00" y1="156.54" x2="116.20" y2="156.54" stroke="#333132" stroke-width="2.0" stroke-linecap="butt"/>
<line x1="112.00" y1="144.37" x2="116.20" y2="144.37" stroke="#333132" stroke-width="2.0" stroke-linecap="butt"/>
<line x1="108.00" y1="132.20" x2="116.20" y2="132.20" stroke="#333132" stroke-width="2.2" stroke-linecap="butt"/>
<line x1="112.00" y1="120.03" x2="116.20" y2="120.03" stroke="#333132" stroke-width="2.0" stroke-linecap="butt"/>
<line x1="112.00" y1="107.86" x2="116.20" y2="107.86" stroke="#333132" stroke-width="2.0" stroke-linecap="butt"/>
<line x1="112.00" y1="95.69" x2="116.20" y2="95.69" stroke="#333132" stroke-width="2.0" stroke-linecap="butt"/>
<line x1="112.00" y1="83.52" x2="116.20" y2="83.52" stroke="#333132" stroke-width="2.0" stroke-linecap="butt"/>
<line x1="108.00" y1="71.35" x2="116.20" y2="71.35" stroke="#333132" stroke-width="2.2" stroke-linecap="butt"/>
<line x1="112.00" y1="59.18" x2="116.20" y2="59.18" stroke="#333132" stroke-width="2.0" stroke-linecap="butt"/>
<text transform="translate(96.28 382.00) rotate(0) scale(1.0000 1)" font-size="14.60" fill="#231f20" stroke="#231f20" stroke-width="0.16">0</text>
<text transform="translate(77.23 321.15) rotate(0) scale(1.0000 1)" font-size="14.60" fill="#231f20" stroke="#231f20" stroke-width="0.16">50K</text>
<text transform="translate(69.05 260.30) rotate(0) scale(1.0000 1)" font-size="14.60" fill="#231f20" stroke="#231f20" stroke-width="0.16">100K</text>
<text transform="translate(69.05 199.45) rotate(0) scale(1.0000 1)" font-size="14.60" fill="#231f20" stroke="#231f20" stroke-width="0.16">150K</text>
<text transform="translate(69.05 138.60) rotate(0) scale(1.0000 1)" font-size="14.60" fill="#231f20" stroke="#231f20" stroke-width="0.16">200K</text>
<text transform="translate(69.05 77.75) rotate(0) scale(1.0000 1)" font-size="14.60" fill="#231f20" stroke="#231f20" stroke-width="0.16">250K</text>
<line x1="118.60" y1="376.90" x2="118.60" y2="385.50" stroke="#333132" stroke-width="2.5" stroke-linecap="butt"/>
<line x1="147.00" y1="376.90" x2="147.00" y2="385.50" stroke="#333132" stroke-width="2.5" stroke-linecap="butt"/>
<line x1="150.40" y1="376.90" x2="150.40" y2="385.50" stroke="#333132" stroke-width="2.5" stroke-linecap="butt"/>
<line x1="184.00" y1="376.90" x2="184.00" y2="385.50" stroke="#333132" stroke-width="2.5" stroke-linecap="butt"/>
<line x1="261.00" y1="376.90" x2="261.00" y2="385.50" stroke="#333132" stroke-width="2.5" stroke-linecap="butt"/>
<line x1="335.40" y1="376.90" x2="335.40" y2="385.50" stroke="#333132" stroke-width="2.5" stroke-linecap="butt"/>
<line x1="406.00" y1="376.90" x2="406.00" y2="385.50" stroke="#333132" stroke-width="2.5" stroke-linecap="butt"/>
<rect x="120.00" y="376.40" width="11.40" height="3.60" fill="#333132"/>
<line x1="121.20" y1="376.90" x2="121.20" y2="381.50" stroke="#333132" stroke-width="1.5" stroke-linecap="butt"/>
<line x1="123.95" y1="376.90" x2="123.95" y2="381.50" stroke="#333132" stroke-width="1.5" stroke-linecap="butt"/>
<line x1="126.70" y1="376.90" x2="126.70" y2="381.50" stroke="#333132" stroke-width="1.5" stroke-linecap="butt"/>
<line x1="129.45" y1="376.90" x2="129.45" y2="381.50" stroke="#333132" stroke-width="1.5" stroke-linecap="butt"/>
<rect x="136.00" y="376.40" width="8.80" height="3.60" fill="#333132"/>
<line x1="137.20" y1="376.90" x2="137.20" y2="381.50" stroke="#333132" stroke-width="1.5" stroke-linecap="butt"/>
<line x1="139.95" y1="376.90" x2="139.95" y2="381.50" stroke="#333132" stroke-width="1.5" stroke-linecap="butt"/>
<line x1="142.70" y1="376.90" x2="142.70" y2="381.50" stroke="#333132" stroke-width="1.5" stroke-linecap="butt"/>
<rect x="161.00" y="376.40" width="4.60" height="3.60" fill="#333132"/>
<line x1="162.20" y1="376.90" x2="162.20" y2="381.50" stroke="#333132" stroke-width="1.5" stroke-linecap="butt"/>
<line x1="164.95" y1="376.90" x2="164.95" y2="381.50" stroke="#333132" stroke-width="1.5" stroke-linecap="butt"/>
<rect x="170.90" y="376.40" width="11.00" height="3.60" fill="#333132"/>
<line x1="172.10" y1="376.90" x2="172.10" y2="381.50" stroke="#333132" stroke-width="1.5" stroke-linecap="butt"/>
<line x1="174.85" y1="376.90" x2="174.85" y2="381.50" stroke="#333132" stroke-width="1.5" stroke-linecap="butt"/>
<line x1="177.60" y1="376.90" x2="177.60" y2="381.50" stroke="#333132" stroke-width="1.5" stroke-linecap="butt"/>
<line x1="180.35" y1="376.90" x2="180.35" y2="381.50" stroke="#333132" stroke-width="1.5" stroke-linecap="butt"/>
<line x1="132.80" y1="376.90" x2="132.80" y2="383.20" stroke="#333132" stroke-width="2.2" stroke-linecap="butt"/>
<line x1="167.90" y1="376.90" x2="167.90" y2="383.20" stroke="#333132" stroke-width="2.2" stroke-linecap="butt"/>
<line x1="428.60" y1="376.90" x2="428.60" y2="381.40" stroke="#333132" stroke-width="2.0" stroke-linecap="butt"/>
<line x1="207.18" y1="376.90" x2="207.18" y2="381.40" stroke="#333132" stroke-width="2.1" stroke-linecap="butt"/>
<line x1="220.74" y1="376.90" x2="220.74" y2="381.40" stroke="#333132" stroke-width="2.1" stroke-linecap="butt"/>
<line x1="230.36" y1="376.90" x2="230.36" y2="381.40" stroke="#333132" stroke-width="2.1" stroke-linecap="butt"/>
<line x1="237.82" y1="376.90" x2="237.82" y2="383.20" stroke="#333132" stroke-width="2.1" stroke-linecap="butt"/>
<line x1="243.92" y1="376.90" x2="243.92" y2="381.40" stroke="#333132" stroke-width="2.1" stroke-linecap="butt"/>
<line x1="249.07" y1="376.90" x2="249.07" y2="381.40" stroke="#333132" stroke-width="2.1" stroke-linecap="butt"/>
<line x1="253.54" y1="376.90" x2="253.54" y2="381.40" stroke="#333132" stroke-width="2.1" stroke-linecap="butt"/>
<line x1="257.48" y1="376.90" x2="257.48" y2="381.40" stroke="#333132" stroke-width="2.1" stroke-linecap="butt"/>
<line x1="283.40" y1="376.90" x2="283.40" y2="381.40" stroke="#333132" stroke-width="2.1" stroke-linecap="butt"/>
<line x1="296.50" y1="376.90" x2="296.50" y2="381.40" stroke="#333132" stroke-width="2.1" stroke-linecap="butt"/>
<line x1="305.79" y1="376.90" x2="305.79" y2="381.40" stroke="#333132" stroke-width="2.1" stroke-linecap="butt"/>
<line x1="313.00" y1="376.90" x2="313.00" y2="383.20" stroke="#333132" stroke-width="2.1" stroke-linecap="butt"/>
<line x1="318.89" y1="376.90" x2="318.89" y2="381.40" stroke="#333132" stroke-width="2.1" stroke-linecap="butt"/>
<line x1="323.88" y1="376.90" x2="323.88" y2="381.40" stroke="#333132" stroke-width="2.1" stroke-linecap="butt"/>
<line x1="328.19" y1="376.90" x2="328.19" y2="381.40" stroke="#333132" stroke-width="2.1" stroke-linecap="butt"/>
<line x1="332.00" y1="376.90" x2="332.00" y2="381.40" stroke="#333132" stroke-width="2.1" stroke-linecap="butt"/>
<line x1="356.65" y1="376.90" x2="356.65" y2="381.40" stroke="#333132" stroke-width="2.1" stroke-linecap="butt"/>
<line x1="369.08" y1="376.90" x2="369.08" y2="381.40" stroke="#333132" stroke-width="2.1" stroke-linecap="butt"/>
<line x1="377.91" y1="376.90" x2="377.91" y2="381.40" stroke="#333132" stroke-width="2.1" stroke-linecap="butt"/>
<line x1="384.75" y1="376.90" x2="384.75" y2="383.20" stroke="#333132" stroke-width="2.1" stroke-linecap="butt"/>
<line x1="390.34" y1="376.90" x2="390.34" y2="381.40" stroke="#333132" stroke-width="2.1" stroke-linecap="butt"/>
<line x1="395.06" y1="376.90" x2="395.06" y2="381.40" stroke="#333132" stroke-width="2.1" stroke-linecap="butt"/>
<line x1="399.16" y1="376.90" x2="399.16" y2="381.40" stroke="#333132" stroke-width="2.1" stroke-linecap="butt"/>
<line x1="402.77" y1="376.90" x2="402.77" y2="381.40" stroke="#333132" stroke-width="2.1" stroke-linecap="butt"/>
<text transform="translate(147.79 405.40) rotate(0) scale(0.9750 1)" font-size="15.55" fill="#231f20" stroke="#231f20" stroke-width="0.17">0</text>
<text transform="translate(172.53 405.40) rotate(0) scale(0.9750 1)" font-size="14.93" fill="#231f20" stroke="#231f20" stroke-width="0.16">10</text>
<text transform="translate(189.56 398.80) rotate(0) scale(0.9750 1)" font-size="13.03" fill="#231f20" stroke="#231f20" stroke-width="0.14">2</text>
<text transform="translate(249.33 405.40) rotate(0) scale(0.9750 1)" font-size="14.93" fill="#231f20" stroke="#231f20" stroke-width="0.16">10</text>
<text transform="translate(266.49 398.80) rotate(0) scale(0.9750 1)" font-size="12.64" fill="#231f20" stroke="#231f20" stroke-width="0.14">3</text>
<text transform="translate(323.13 405.40) rotate(0) scale(0.9750 1)" font-size="14.93" fill="#231f20" stroke="#231f20" stroke-width="0.16">10</text>
<text transform="translate(340.43 398.80) rotate(0) scale(0.9750 1)" font-size="11.69" fill="#231f20" stroke="#231f20" stroke-width="0.13">4</text>
<text transform="translate(394.43 405.40) rotate(0) scale(0.9750 1)" font-size="14.93" fill="#231f20" stroke="#231f20" stroke-width="0.16">10</text>
<text transform="translate(411.53 398.80) rotate(0) scale(0.9750 1)" font-size="12.51" fill="#231f20" stroke="#231f20" stroke-width="0.14">5</text>
<rect x="300.40" y="221.60" width="117.00" height="144.00" fill="none" stroke="#333132" stroke-width="2.8"/>
<text transform="translate(313.89 207.70) rotate(0) scale(0.9750 1)" font-size="36.10" fill="#231f20" stroke="#231f20" stroke-width="0.40">0.47%</text>
<polygon points="514.2,57.6 515.2,247.2 517.1,249.1 519.3,263.3 522.4,244.4 526.5,241.5 529.4,244.4 530.9,244.4 533.2,228.2 536.0,240.6 539.3,252.0 541.7,222.6 543.2,226.4 545.5,245.3 547.8,229.2 550.4,241.5 553.5,215.9 555.4,218.8 557.3,205.9 560.3,211.2 564.1,206.4 566.7,186.5 568.6,171.4 570.5,171.4 572.6,192.6 576.2,167.6 578.1,168.5 579.6,178.0 582.5,143.9 585.0,158.1 587.6,131.5 590.6,128.7 592.9,124.0 594.8,126.8 598.6,101.2 602.0,74.7 603.3,76.5 606.2,123.0 608.5,117.3 610.9,94.6 612.4,97.4 614.7,131.5 617.2,169.5 619.8,175.2 622.3,207.4 626.1,256.7 630.8,283.2 635.0,321.2 638.0,345.8 641.3,353.4 645.6,363.8 649.8,370.5 657.4,372.9 792.0,372.6 792,373.5 513,373.5" fill="#e6e7e8" stroke="none"/>
<polyline points="514.2,57.6 515.2,247.2 517.1,249.1 519.3,263.3 522.4,244.4 526.5,241.5 529.4,244.4 530.9,244.4 533.2,228.2 536.0,240.6 539.3,252.0 541.7,222.6 543.2,226.4 545.5,245.3 547.8,229.2 550.4,241.5 553.5,215.9 555.4,218.8 557.3,205.9 560.3,211.2 564.1,206.4 566.7,186.5 568.6,171.4 570.5,171.4 572.6,192.6 576.2,167.6 578.1,168.5 579.6,178.0 582.5,143.9 585.0,158.1 587.6,131.5 590.6,128.7 592.9,124.0 594.8,126.8 598.6,101.2 602.0,74.7 603.3,76.5 606.2,123.0 608.5,117.3 610.9,94.6 612.4,97.4 614.7,131.5 617.2,169.5 619.8,175.2 622.3,207.4 626.1,256.7 630.8,283.2 635.0,321.2 638.0,345.8 641.3,353.4 645.6,363.8 649.8,370.5 657.4,372.9 792.0,372.6" fill="none" stroke="#bbbdbf" stroke-width="2.6" stroke-linejoin="round"/>
<polyline points="513.0,372.4 520.0,372.8 540.0,372.6 585.0,372.3 590.0,371.2 600.0,371.0 604.0,372.4 612.0,372.2 616.0,370.8 622.0,370.6 626.0,372.0 634.0,371.6 640.0,371.4 645.7,370.1 650.4,368.6 653.3,370.5 659.0,370.5 663.7,367.6 667.5,362.9 670.0,361.0 672.6,364.8 675.1,363.8 678.5,359.1 682.1,361.9 686.5,360.0 690.3,356.2 693.1,356.8 695.9,354.4 698.8,346.8 701.1,344.9 704.5,349.6 709.2,344.9 712.1,334.4 714.0,333.5 717.7,322.1 720.6,320.2 723.4,306.0 726.3,296.5 728.2,277.6 732.0,245.3 734.8,216.9 736.7,194.1 738.6,163.8 740.1,153.3 742.4,135.3 744.3,106.9 746.2,82.2 748.1,77.5 750.0,74.7 752.3,75.6 753.8,83.2 755.7,103.1 757.6,125.9 759.1,141.0 761.4,163.8 764.2,211.2 767.1,258.6 768.9,287.0 770.8,315.5 772.7,334.4 775.0,351.5 777.5,361.0 781.3,367.6 786.0,370.8 791.7,372.4 829.6,372.7" fill="none" stroke="#1a1718" stroke-width="2.55" stroke-linejoin="round"/>
<rect x="511.10" y="56.60" width="319.50" height="318.90" fill="none" stroke="#1f1c1d" stroke-width="3"/>
<line x1="502.50" y1="375.60" x2="511.10" y2="375.60" stroke="#1f1c1d" stroke-width="2.2" stroke-linecap="butt"/>
<line x1="507.00" y1="360.40" x2="511.10" y2="360.40" stroke="#1f1c1d" stroke-width="2.0" stroke-linecap="butt"/>
<line x1="507.00" y1="345.20" x2="511.10" y2="345.20" stroke="#1f1c1d" stroke-width="2.0" stroke-linecap="butt"/>
<line x1="507.00" y1="330.00" x2="511.10" y2="330.00" stroke="#1f1c1d" stroke-width="2.0" stroke-linecap="butt"/>
<line x1="502.50" y1="314.80" x2="511.10" y2="314.80" stroke="#1f1c1d" stroke-width="2.2" stroke-linecap="butt"/>
<line x1="507.00" y1="299.60" x2="511.10" y2="299.60" stroke="#1f1c1d" stroke-width="2.0" stroke-linecap="butt"/>
<line x1="507.00" y1="284.40" x2="511.10" y2="284.40" stroke="#1f1c1d" stroke-width="2.0" stroke-linecap="butt"/>
<line x1="507.00" y1="269.20" x2="511.10" y2="269.20" stroke="#1f1c1d" stroke-width="2.0" stroke-linecap="butt"/>
<line x1="502.50" y1="254.00" x2="511.10" y2="254.00" stroke="#1f1c1d" stroke-width="2.2" stroke-linecap="butt"/>
<line x1="507.00" y1="238.80" x2="511.10" y2="238.80" stroke="#1f1c1d" stroke-width="2.0" stroke-linecap="butt"/>
<line x1="507.00" y1="223.60" x2="511.10" y2="223.60" stroke="#1f1c1d" stroke-width="2.0" stroke-linecap="butt"/>
<line x1="507.00" y1="208.40" x2="511.10" y2="208.40" stroke="#1f1c1d" stroke-width="2.0" stroke-linecap="butt"/>
<line x1="502.50" y1="193.20" x2="511.10" y2="193.20" stroke="#1f1c1d" stroke-width="2.2" stroke-linecap="butt"/>
<line x1="507.00" y1="178.00" x2="511.10" y2="178.00" stroke="#1f1c1d" stroke-width="2.0" stroke-linecap="butt"/>
<line x1="507.00" y1="162.80" x2="511.10" y2="162.80" stroke="#1f1c1d" stroke-width="2.0" stroke-linecap="butt"/>
<line x1="507.00" y1="147.60" x2="511.10" y2="147.60" stroke="#1f1c1d" stroke-width="2.0" stroke-linecap="butt"/>
<line x1="502.50" y1="132.40" x2="511.10" y2="132.40" stroke="#1f1c1d" stroke-width="2.2" stroke-linecap="butt"/>
<line x1="507.00" y1="117.20" x2="511.10" y2="117.20" stroke="#1f1c1d" stroke-width="2.0" stroke-linecap="butt"/>
<line x1="507.00" y1="102.00" x2="511.10" y2="102.00" stroke="#1f1c1d" stroke-width="2.0" stroke-linecap="butt"/>
<line x1="507.00" y1="86.80" x2="511.10" y2="86.80" stroke="#1f1c1d" stroke-width="2.0" stroke-linecap="butt"/>
<line x1="502.50" y1="71.60" x2="511.10" y2="71.60" stroke="#1f1c1d" stroke-width="2.2" stroke-linecap="butt"/>
<text transform="translate(489.13 382.00) rotate(0) scale(1.0000 1)" font-size="14.70" fill="#231f20" stroke="#231f20" stroke-width="0.16">0</text>
<text transform="translate(480.97 321.20) rotate(0) scale(1.0000 1)" font-size="14.70" fill="#231f20" stroke="#231f20" stroke-width="0.16">20</text>
<text transform="translate(480.97 260.40) rotate(0) scale(1.0000 1)" font-size="14.70" fill="#231f20" stroke="#231f20" stroke-width="0.16">40</text>
<text transform="translate(480.97 199.60) rotate(0) scale(1.0000 1)" font-size="14.70" fill="#231f20" stroke="#231f20" stroke-width="0.16">60</text>
<text transform="translate(480.97 138.80) rotate(0) scale(1.0000 1)" font-size="14.70" fill="#231f20" stroke="#231f20" stroke-width="0.16">80</text>
<text transform="translate(472.81 78.00) rotate(0) scale(1.0000 1)" font-size="14.70" fill="#231f20" stroke="#231f20" stroke-width="0.16">100</text>
<line x1="513.20" y1="376.90" x2="513.20" y2="385.50" stroke="#1f1c1d" stroke-width="2.5" stroke-linecap="butt"/>
<line x1="541.60" y1="376.90" x2="541.60" y2="385.50" stroke="#1f1c1d" stroke-width="2.5" stroke-linecap="butt"/>
<line x1="545.00" y1="376.90" x2="545.00" y2="385.50" stroke="#1f1c1d" stroke-width="2.5" stroke-linecap="butt"/>
<line x1="579.30" y1="376.90" x2="579.30" y2="385.50" stroke="#1f1c1d" stroke-width="2.5" stroke-linecap="butt"/>
<line x1="655.50" y1="376.90" x2="655.50" y2="385.50" stroke="#1f1c1d" stroke-width="2.5" stroke-linecap="butt"/>
<line x1="729.10" y1="376.90" x2="729.10" y2="385.50" stroke="#1f1c1d" stroke-width="2.5" stroke-linecap="butt"/>
<line x1="800.20" y1="376.90" x2="800.20" y2="385.50" stroke="#1f1c1d" stroke-width="2.5" stroke-linecap="butt"/>
<rect x="515.00" y="376.40" width="11.40" height="3.60" fill="#1f1c1d"/>
<line x1="516.20" y1="376.90" x2="516.20" y2="381.50" stroke="#1f1c1d" stroke-width="1.5" stroke-linecap="butt"/>
<line x1="518.95" y1="376.90" x2="518.95" y2="381.50" stroke="#1f1c1d" stroke-width="1.5" stroke-linecap="butt"/>
<line x1="521.70" y1="376.90" x2="521.70" y2="381.50" stroke="#1f1c1d" stroke-width="1.5" stroke-linecap="butt"/>
<line x1="524.45" y1="376.90" x2="524.45" y2="381.50" stroke="#1f1c1d" stroke-width="1.5" stroke-linecap="butt"/>
<rect x="531.00" y="376.40" width="8.80" height="3.60" fill="#1f1c1d"/>
<line x1="532.20" y1="376.90" x2="532.20" y2="381.50" stroke="#1f1c1d" stroke-width="1.5" stroke-linecap="butt"/>
<line x1="534.95" y1="376.90" x2="534.95" y2="381.50" stroke="#1f1c1d" stroke-width="1.5" stroke-linecap="butt"/>
<line x1="537.70" y1="376.90" x2="537.70" y2="381.50" stroke="#1f1c1d" stroke-width="1.5" stroke-linecap="butt"/>
<rect x="556.00" y="376.40" width="4.60" height="3.60" fill="#1f1c1d"/>
<line x1="557.20" y1="376.90" x2="557.20" y2="381.50" stroke="#1f1c1d" stroke-width="1.5" stroke-linecap="butt"/>
<line x1="559.95" y1="376.90" x2="559.95" y2="381.50" stroke="#1f1c1d" stroke-width="1.5" stroke-linecap="butt"/>
<rect x="565.90" y="376.40" width="11.00" height="3.60" fill="#1f1c1d"/>
<line x1="567.10" y1="376.90" x2="567.10" y2="381.50" stroke="#1f1c1d" stroke-width="1.5" stroke-linecap="butt"/>
<line x1="569.85" y1="376.90" x2="569.85" y2="381.50" stroke="#1f1c1d" stroke-width="1.5" stroke-linecap="butt"/>
<line x1="572.60" y1="376.90" x2="572.60" y2="381.50" stroke="#1f1c1d" stroke-width="1.5" stroke-linecap="butt"/>
<line x1="575.35" y1="376.90" x2="575.35" y2="381.50" stroke="#1f1c1d" stroke-width="1.5" stroke-linecap="butt"/>
<line x1="527.80" y1="376.90" x2="527.80" y2="383.20" stroke="#1f1c1d" stroke-width="2.2" stroke-linecap="butt"/>
<line x1="562.90" y1="376.90" x2="562.90" y2="383.20" stroke="#1f1c1d" stroke-width="2.2" stroke-linecap="butt"/>
<line x1="823.60" y1="376.90" x2="823.60" y2="381.40" stroke="#1f1c1d" stroke-width="2.0" stroke-linecap="butt"/>
<line x1="822.40" y1="376.90" x2="822.40" y2="381.40" stroke="#1f1c1d" stroke-width="2.0" stroke-linecap="butt"/>
<line x1="602.24" y1="376.90" x2="602.24" y2="381.40" stroke="#1f1c1d" stroke-width="2.1" stroke-linecap="butt"/>
<line x1="615.66" y1="376.90" x2="615.66" y2="381.40" stroke="#1f1c1d" stroke-width="2.1" stroke-linecap="butt"/>
<line x1="625.18" y1="376.90" x2="625.18" y2="381.40" stroke="#1f1c1d" stroke-width="2.1" stroke-linecap="butt"/>
<line x1="632.56" y1="376.90" x2="632.56" y2="383.20" stroke="#1f1c1d" stroke-width="2.1" stroke-linecap="butt"/>
<line x1="638.60" y1="376.90" x2="638.60" y2="381.40" stroke="#1f1c1d" stroke-width="2.1" stroke-linecap="butt"/>
<line x1="643.70" y1="376.90" x2="643.70" y2="381.40" stroke="#1f1c1d" stroke-width="2.1" stroke-linecap="butt"/>
<line x1="648.12" y1="376.90" x2="648.12" y2="381.40" stroke="#1f1c1d" stroke-width="2.1" stroke-linecap="butt"/>
<line x1="652.01" y1="376.90" x2="652.01" y2="381.40" stroke="#1f1c1d" stroke-width="2.1" stroke-linecap="butt"/>
<line x1="677.66" y1="376.90" x2="677.66" y2="381.40" stroke="#1f1c1d" stroke-width="2.1" stroke-linecap="butt"/>
<line x1="690.62" y1="376.90" x2="690.62" y2="381.40" stroke="#1f1c1d" stroke-width="2.1" stroke-linecap="butt"/>
<line x1="699.81" y1="376.90" x2="699.81" y2="381.40" stroke="#1f1c1d" stroke-width="2.1" stroke-linecap="butt"/>
<line x1="706.94" y1="376.90" x2="706.94" y2="383.20" stroke="#1f1c1d" stroke-width="2.1" stroke-linecap="butt"/>
<line x1="712.77" y1="376.90" x2="712.77" y2="381.40" stroke="#1f1c1d" stroke-width="2.1" stroke-linecap="butt"/>
<line x1="717.70" y1="376.90" x2="717.70" y2="381.40" stroke="#1f1c1d" stroke-width="2.1" stroke-linecap="butt"/>
<line x1="721.97" y1="376.90" x2="721.97" y2="381.40" stroke="#1f1c1d" stroke-width="2.1" stroke-linecap="butt"/>
<line x1="725.73" y1="376.90" x2="725.73" y2="381.40" stroke="#1f1c1d" stroke-width="2.1" stroke-linecap="butt"/>
<line x1="750.50" y1="376.90" x2="750.50" y2="381.40" stroke="#1f1c1d" stroke-width="2.1" stroke-linecap="butt"/>
<line x1="763.02" y1="376.90" x2="763.02" y2="381.40" stroke="#1f1c1d" stroke-width="2.1" stroke-linecap="butt"/>
<line x1="771.91" y1="376.90" x2="771.91" y2="381.40" stroke="#1f1c1d" stroke-width="2.1" stroke-linecap="butt"/>
<line x1="778.80" y1="376.90" x2="778.80" y2="383.20" stroke="#1f1c1d" stroke-width="2.1" stroke-linecap="butt"/>
<line x1="784.43" y1="376.90" x2="784.43" y2="381.40" stroke="#1f1c1d" stroke-width="2.1" stroke-linecap="butt"/>
<line x1="789.19" y1="376.90" x2="789.19" y2="381.40" stroke="#1f1c1d" stroke-width="2.1" stroke-linecap="butt"/>
<line x1="793.31" y1="376.90" x2="793.31" y2="381.40" stroke="#1f1c1d" stroke-width="2.1" stroke-linecap="butt"/>
<line x1="796.95" y1="376.90" x2="796.95" y2="381.40" stroke="#1f1c1d" stroke-width="2.1" stroke-linecap="butt"/>
<text transform="translate(541.39 405.40) rotate(0) scale(0.9750 1)" font-size="15.55" fill="#231f20" stroke="#231f20" stroke-width="0.17">0</text>
<text transform="translate(566.73 405.40) rotate(0) scale(0.9750 1)" font-size="14.93" fill="#231f20" stroke="#231f20" stroke-width="0.16">10</text>
<text transform="translate(583.76 398.80) rotate(0) scale(0.9750 1)" font-size="13.03" fill="#231f20" stroke="#231f20" stroke-width="0.14">2</text>
<text transform="translate(643.13 405.40) rotate(0) scale(0.9750 1)" font-size="14.93" fill="#231f20" stroke="#231f20" stroke-width="0.16">10</text>
<text transform="translate(660.29 398.80) rotate(0) scale(0.9750 1)" font-size="12.64" fill="#231f20" stroke="#231f20" stroke-width="0.14">3</text>
<text transform="translate(717.43 405.40) rotate(0) scale(0.9750 1)" font-size="14.93" fill="#231f20" stroke="#231f20" stroke-width="0.16">10</text>
<text transform="translate(734.73 398.80) rotate(0) scale(0.9750 1)" font-size="11.69" fill="#231f20" stroke="#231f20" stroke-width="0.13">4</text>
<text transform="translate(788.53 405.40) rotate(0) scale(0.9750 1)" font-size="14.93" fill="#231f20" stroke="#231f20" stroke-width="0.16">10</text>
<text transform="translate(805.63 398.80) rotate(0) scale(0.9750 1)" font-size="12.51" fill="#231f20" stroke="#231f20" stroke-width="0.14">5</text>
<line x1="652.40" y1="289.40" x2="829.00" y2="289.40" stroke="#1f1c1d" stroke-width="2.4" stroke-linecap="butt"/>
<line x1="652.40" y1="281.20" x2="652.40" y2="298.40" stroke="#1f1c1d" stroke-width="2.6" stroke-linecap="butt"/>
<line x1="828.60" y1="281.20" x2="828.60" y2="298.40" stroke="#1f1c1d" stroke-width="3.0" stroke-linecap="butt"/>
<text transform="translate(636.96 207.70) rotate(0) scale(0.9750 1)" font-size="36.22" fill="#231f20" stroke="#231f20" stroke-width="0.40">98.2%</text>
</svg>
</body></html>
